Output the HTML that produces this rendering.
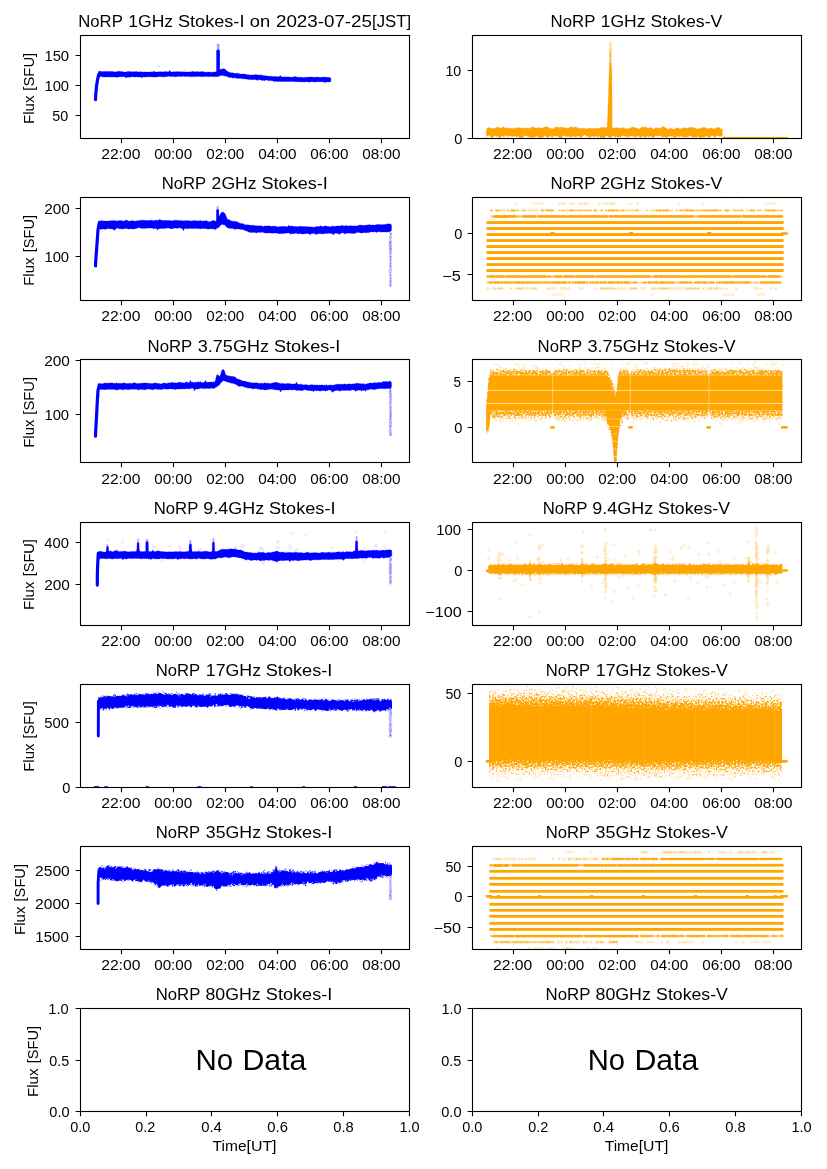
<!DOCTYPE html>
<html><head><meta charset="utf-8"><title>NoRP 2023-07-25</title>
<style>
html,body{margin:0;padding:0;background:#fff}
svg{display:block}
text{font-family:"Liberation Sans",sans-serif;fill:#000}
</style></head>
<body>
<svg width="827" height="1169" viewBox="0 0 827 1169">
<rect width="827" height="1169" fill="#fff"/>
<defs>
<clipPath id="c00"><rect x="80.5" y="35.5" width="329.0" height="103"/></clipPath>
<clipPath id="c01"><rect x="472.5" y="35.5" width="329.0" height="103"/></clipPath>
<clipPath id="c10"><rect x="80.5" y="197.5" width="329.0" height="103"/></clipPath>
<clipPath id="c11"><rect x="472.5" y="197.5" width="329.0" height="103"/></clipPath>
<clipPath id="c20"><rect x="80.5" y="359.5" width="329.0" height="103"/></clipPath>
<clipPath id="c21"><rect x="472.5" y="359.5" width="329.0" height="103"/></clipPath>
<clipPath id="c30"><rect x="80.5" y="522.5" width="329.0" height="103"/></clipPath>
<clipPath id="c31"><rect x="472.5" y="522.5" width="329.0" height="103"/></clipPath>
<clipPath id="c40"><rect x="80.5" y="684.5" width="329.0" height="103"/></clipPath>
<clipPath id="c41"><rect x="472.5" y="684.5" width="329.0" height="103"/></clipPath>
<clipPath id="c50"><rect x="80.5" y="846.5" width="329.0" height="103"/></clipPath>
<clipPath id="c51"><rect x="472.5" y="846.5" width="329.0" height="103"/></clipPath>
<filter id="g0" x="0" y="0" width="1" height="1" color-interpolation-filters="sRGB"><feTurbulence type="fractalNoise" baseFrequency="0.55" numOctaves="2" seed="5" result="n"/><feColorMatrix in="n" type="matrix" values="0 0 0 0 0 0 0 0 0 0 0 0 0 0 0 0 0 0 2.5 -1.075" result="m"/><feComposite in="SourceGraphic" in2="m" operator="in"/></filter><filter id="g1" x="0" y="0" width="1" height="1" color-interpolation-filters="sRGB"><feTurbulence type="fractalNoise" baseFrequency="0.55" numOctaves="2" seed="5" result="n"/><feColorMatrix in="n" type="matrix" values="0 0 0 0 0 0 0 0 0 0 0 0 0 0 0 0 0 0 2.5 -0.675" result="m"/><feComposite in="SourceGraphic" in2="m" operator="in"/></filter><filter id="g2" x="0" y="0" width="1" height="1" color-interpolation-filters="sRGB"><feTurbulence type="fractalNoise" baseFrequency="0.55" numOctaves="2" seed="11" result="n"/><feColorMatrix in="n" type="matrix" values="0 0 0 0 0 0 0 0 0 0 0 0 0 0 0 0 0 0 2.5 -1.375" result="m"/><feComposite in="SourceGraphic" in2="m" operator="in"/></filter><filter id="g3" x="0" y="0" width="1" height="1" color-interpolation-filters="sRGB"><feTurbulence type="fractalNoise" baseFrequency="0.55" numOctaves="2" seed="11" result="n"/><feColorMatrix in="n" type="matrix" values="0 0 0 0 0 0 0 0 0 0 0 0 0 0 0 0 0 0 2.5 -1.025" result="m"/><feComposite in="SourceGraphic" in2="m" operator="in"/></filter><filter id="g4" x="0" y="0" width="1" height="1" color-interpolation-filters="sRGB"><feTurbulence type="fractalNoise" baseFrequency="0.55" numOctaves="2" seed="11" result="n"/><feColorMatrix in="n" type="matrix" values="0 0 0 0 0 0 0 0 0 0 0 0 0 0 0 0 0 0 2.5 -0.800" result="m"/><feComposite in="SourceGraphic" in2="m" operator="in"/></filter><filter id="g5" x="0" y="0" width="1" height="1" color-interpolation-filters="sRGB"><feTurbulence type="fractalNoise" baseFrequency="0.55" numOctaves="2" seed="11" result="n"/><feColorMatrix in="n" type="matrix" values="0 0 0 0 0 0 0 0 0 0 0 0 0 0 0 0 0 0 2.5 -0.600" result="m"/><feComposite in="SourceGraphic" in2="m" operator="in"/></filter><filter id="g6" x="0" y="0" width="1" height="1" color-interpolation-filters="sRGB"><feTurbulence type="fractalNoise" baseFrequency="0.55" numOctaves="2" seed="9" result="n"/><feColorMatrix in="n" type="matrix" values="0 0 0 0 0 0 0 0 0 0 0 0 0 0 0 0 0 0 2.5 -1.150" result="m"/><feComposite in="SourceGraphic" in2="m" operator="in"/></filter><filter id="g7" x="0" y="0" width="1" height="1" color-interpolation-filters="sRGB"><feTurbulence type="fractalNoise" baseFrequency="0.55" numOctaves="2" seed="9" result="n"/><feColorMatrix in="n" type="matrix" values="0 0 0 0 0 0 0 0 0 0 0 0 0 0 0 0 0 0 2.5 -0.725" result="m"/><feComposite in="SourceGraphic" in2="m" operator="in"/></filter><filter id="g8" x="0" y="0" width="1" height="1" color-interpolation-filters="sRGB"><feTurbulence type="fractalNoise" baseFrequency="0.55" numOctaves="2" seed="13" result="n"/><feColorMatrix in="n" type="matrix" values="0 0 0 0 0 0 0 0 0 0 0 0 0 0 0 0 0 0 2.5 -1.525" result="m"/><feComposite in="SourceGraphic" in2="m" operator="in"/></filter><filter id="g9" x="0" y="0" width="1" height="1" color-interpolation-filters="sRGB"><feTurbulence type="fractalNoise" baseFrequency="0.55" numOctaves="2" seed="13" result="n"/><feColorMatrix in="n" type="matrix" values="0 0 0 0 0 0 0 0 0 0 0 0 0 0 0 0 0 0 2.5 -1.325" result="m"/><feComposite in="SourceGraphic" in2="m" operator="in"/></filter><filter id="g10" x="0" y="0" width="1" height="1" color-interpolation-filters="sRGB"><feTurbulence type="fractalNoise" baseFrequency="0.55" numOctaves="2" seed="13" result="n"/><feColorMatrix in="n" type="matrix" values="0 0 0 0 0 0 0 0 0 0 0 0 0 0 0 0 0 0 2.5 -1.125" result="m"/><feComposite in="SourceGraphic" in2="m" operator="in"/></filter><filter id="g11" x="0" y="0" width="1" height="1" color-interpolation-filters="sRGB"><feTurbulence type="fractalNoise" baseFrequency="0.55" numOctaves="2" seed="13" result="n"/><feColorMatrix in="n" type="matrix" values="0 0 0 0 0 0 0 0 0 0 0 0 0 0 0 0 0 0 2.5 -0.975" result="m"/><feComposite in="SourceGraphic" in2="m" operator="in"/></filter><filter id="g12" x="0" y="0" width="1" height="1" color-interpolation-filters="sRGB"><feTurbulence type="fractalNoise" baseFrequency="0.55" numOctaves="2" seed="13" result="n"/><feColorMatrix in="n" type="matrix" values="0 0 0 0 0 0 0 0 0 0 0 0 0 0 0 0 0 0 2.5 -0.800" result="m"/><feComposite in="SourceGraphic" in2="m" operator="in"/></filter><filter id="g13" x="0" y="0" width="1" height="1" color-interpolation-filters="sRGB"><feTurbulence type="fractalNoise" baseFrequency="0.55" numOctaves="2" seed="13" result="n"/><feColorMatrix in="n" type="matrix" values="0 0 0 0 0 0 0 0 0 0 0 0 0 0 0 0 0 0 2.5 -0.650" result="m"/><feComposite in="SourceGraphic" in2="m" operator="in"/></filter><filter id="g14" x="0" y="0" width="1" height="1" color-interpolation-filters="sRGB"><feTurbulence type="fractalNoise" baseFrequency="0.55" numOctaves="2" seed="13" result="n"/><feColorMatrix in="n" type="matrix" values="0 0 0 0 0 0 0 0 0 0 0 0 0 0 0 0 0 0 2.5 -0.450" result="m"/><feComposite in="SourceGraphic" in2="m" operator="in"/></filter><filter id="g15" x="0" y="0" width="1" height="1" color-interpolation-filters="sRGB"><feTurbulence type="fractalNoise" baseFrequency="0.55" numOctaves="2" seed="13" result="n"/><feColorMatrix in="n" type="matrix" values="0 0 0 0 0 0 0 0 0 0 0 0 0 0 0 0 0 0 2.5 -0.200" result="m"/><feComposite in="SourceGraphic" in2="m" operator="in"/></filter></defs>
<g clip-path="url(#c00)">
<path d="M95.5 99.6L95.8 93.8L96.5 86.3L97.5 80.1L98.5 75.1L99.8 73" fill="none" stroke="#0000ff" stroke-width="3.2" stroke-linecap="round" stroke-linejoin="round" />
<path d="M98.8 70.8L99.8 71.6L100.8 71.4L101.8 71.4L102.8 71.5L103.8 71.4L104.8 71.6L105.8 71.6L106.8 71.3L107.8 71.5L108.8 71.5L109.8 71.6L110.8 71.6L111.8 71.5L112.8 71.6L113.8 71.7L114.8 71.9L115.8 71.8L116.8 71.8L117.8 71.6L118.8 71.1L119.8 71.6L120.8 71.6L121.8 71.6L122.8 71.7L123.8 72L124.8 72.1L125.8 72L126.8 71.8L127.8 71.6L128.8 71.5L129.8 71.6L130.8 71.8L131.8 71.8L132.8 71.7L133.8 71.7L134.8 71.8L135.8 71.5L136.8 71.5L137.8 71.9L138.8 71.9L139.8 71.8L140.8 71.8L141.8 71.9L142.8 72L143.8 72L144.8 71.9L145.8 72L146.8 72L147.8 72L148.8 72.1L149.8 72L150.8 72L151.8 71.8L152.8 71.9L153.8 71L154.8 71.9L155.8 71.9L156.8 72L157.8 72L158.8 71.8L159.8 71.8L160.8 71.8L161.8 71.8L162.8 71.9L163.8 71.8L164.8 71.8L165.8 71.6L166.8 71.7L167.8 71.8L168.8 71.8L169.8 70.3L170.8 71.9L171.8 71.9L172.8 71.9L173.8 71.8L174.8 71.8L175.8 71.8L176.8 71.6L177.8 71.7L178.8 71.7L179.8 71.8L180.8 71.7L181.8 71.8L182.8 71.8L183.8 72L184.8 71.9L185.8 71.9L186.8 71.9L187.8 71.9L188.8 71.9L189.8 71.9L190.8 71.8L191.8 71.7L192.8 71.3L193.8 71.7L194.8 71.8L195.8 71.7L196.8 71.7L197.8 71.5L198.8 71.9L199.8 71.8L200.8 71.7L201.8 71.8L202.8 71.3L203.8 71.9L204.8 72L205.8 72.2L206.8 72.2L207.8 72.1L208.8 72L209.8 72.1L210.8 72.2L211.8 72.2L212.8 72.2L213.8 72L214.8 71.9L215.8 71.8L216.8 71.7L217.8 71L218.8 70.2L219.8 69.6L220.8 69.3L221.8 69.1L222.8 68.9L223.8 68.6L224.8 69.1L225.8 69.9L226.8 70.9L227.8 71.5L228.8 72.1L229.8 72.4L230.8 72.7L231.8 72.8L232.8 72.7L233.8 73.2L234.8 73.3L235.8 73.4L236.8 73.2L237.8 73.3L238.8 73.5L239.8 73.9L240.8 74.1L241.8 74.1L242.8 74L243.8 74L244.8 74.1L245.8 74.5L246.8 74.5L247.8 74.7L248.8 74.7L249.8 75.1L250.8 75.1L251.8 75.1L252.8 74.9L253.8 75L254.8 74.7L255.8 74.6L256.8 74.7L257.8 74.9L258.8 75.1L259.8 75.2L260.8 74.7L261.8 75.2L262.8 75.4L263.8 75.5L264.8 75.7L265.8 75.7L266.8 75.9L267.8 76.1L268.8 76.2L269.8 76.2L270.8 76.2L271.8 76.2L272.8 76.4L273.8 76.5L274.8 76.6L275.8 76.6L276.8 76.8L277.8 76.7L278.8 76.7L279.8 76.1L280.8 75.7L281.8 77L282.8 76.9L283.8 77L284.8 76.8L285.8 76.9L286.8 76.9L287.8 76.8L288.8 77L289.8 77L290.8 77.2L291.8 77.2L292.8 77.1L293.8 77L294.8 76.3L295.8 76.8L296.8 76.9L297.8 77.2L298.8 77.3L299.8 77.2L300.8 77.3L301.8 77.3L302.8 77.5L303.8 77.4L304.8 77.3L305.8 77.4L306.8 77.2L307.8 77.2L308.8 77L309.8 77.1L310.8 77.1L311.8 77.1L312.8 77.2L313.8 77.3L314.8 77.2L315.8 77.2L316.8 77.1L317.8 77.1L318.8 77.2L319.8 77.3L320.8 77.2L321.8 77.3L322.8 77.1L323.8 77.2L324.8 77.1L325.8 77.2L326.8 77.3L327.8 77.3L328.8 77.5L329.8 77.5L330.8 78L330.8 81.4L329.8 81.9L328.8 82L327.8 82.1L326.8 81.9L325.8 82L324.8 82.8L323.8 81.9L322.8 81.8L321.8 81.8L320.8 81.8L319.8 81.8L318.8 81.8L317.8 81.8L316.8 81.8L315.8 81.9L314.8 81.9L313.8 81.9L312.8 81.8L311.8 81.7L310.8 81.8L309.8 82.3L308.8 82L307.8 81.9L306.8 81.7L305.8 81.7L304.8 81.9L303.8 82L302.8 81.7L301.8 81.9L300.8 82L299.8 81.8L298.8 81.7L297.8 81.7L296.8 81.8L295.8 81.8L294.8 81.7L293.8 81.6L292.8 81.6L291.8 81.5L290.8 81.4L289.8 81.5L288.8 81.6L287.8 81.7L286.8 81.6L285.8 81.5L284.8 81.5L283.8 81.5L282.8 81.5L281.8 81.6L280.8 81.6L279.8 81.5L278.8 81.4L277.8 81.8L276.8 81.3L275.8 81.3L274.8 82L273.8 81.1L272.8 81L271.8 80.8L270.8 80.6L269.8 80.7L268.8 80.6L267.8 80.5L266.8 80L265.8 80L264.8 80.7L263.8 80.4L262.8 80.2L261.8 80.6L260.8 79.9L259.8 79.7L258.8 79.6L257.8 80.5L256.8 79.9L255.8 79.8L254.8 79.5L253.8 79.5L252.8 79.9L251.8 79.5L250.8 79.6L249.8 79.6L248.8 79.4L247.8 79.6L246.8 79.1L245.8 79.1L244.8 78.9L243.8 78.8L242.8 78.8L241.8 78.6L240.8 78.4L239.8 78.3L238.8 78.4L237.8 78.5L236.8 78.3L235.8 78.2L234.8 77.8L233.8 77.7L232.8 78.3L231.8 77.6L230.8 77.6L229.8 77.4L228.8 77.2L227.8 77.1L226.8 76.3L225.8 76.3L224.8 75.9L223.8 75.7L222.8 75.6L221.8 75.5L220.8 75.6L219.8 75.8L218.8 76.4L217.8 76.5L216.8 76.7L215.8 76.6L214.8 76.7L213.8 76.7L212.8 76.5L211.8 76.4L210.8 76.4L209.8 76.6L208.8 76.7L207.8 76.6L206.8 76.5L205.8 76.5L204.8 76.5L203.8 76.5L202.8 76.6L201.8 76.9L200.8 76.5L199.8 76.4L198.8 76.4L197.8 76.4L196.8 76.4L195.8 76.6L194.8 76.6L193.8 76.7L192.8 76.6L191.8 76.7L190.8 76.7L189.8 76.5L188.8 76.8L187.8 76.3L186.8 76.5L185.8 76.5L184.8 76.4L183.8 76.2L182.8 76.3L181.8 76.5L180.8 76.5L179.8 76.3L178.8 76.4L177.8 76.4L176.8 76.6L175.8 76.9L174.8 76.6L173.8 76.6L172.8 76.6L171.8 76.6L170.8 76.8L169.8 76.3L168.8 76.3L167.8 76.4L166.8 76.6L165.8 76.8L164.8 76.8L163.8 76.9L162.8 76.8L161.8 76.8L160.8 76.7L159.8 76.6L158.8 76.7L157.8 76.7L156.8 77L155.8 77L154.8 77.1L153.8 77L152.8 77L151.8 76.8L150.8 76.9L149.8 76.8L148.8 76.8L147.8 76.7L146.8 76.9L145.8 77L144.8 77L143.8 76.9L142.8 76.9L141.8 78L140.8 76.9L139.8 77L138.8 76.9L137.8 77L136.8 76.8L135.8 76.9L134.8 77L133.8 76.9L132.8 76.8L131.8 76.8L130.8 76.9L129.8 77.5L128.8 77L127.8 77L126.8 77.5L125.8 77.8L124.8 76.8L123.8 76.7L122.8 76.7L121.8 76.8L120.8 76.8L119.8 76.8L118.8 76.9L117.8 77L116.8 77.5L115.8 77L114.8 76.9L113.8 77L112.8 76.9L111.8 76.8L110.8 77.4L109.8 76.8L108.8 76.9L107.8 77L106.8 76.9L105.8 76.9L104.8 77L103.8 77.1L102.8 76.9L101.8 76.6L100.8 76.6L99.8 76.9L98.8 76.8Z" fill="#0000ff" stroke="#0000ff" stroke-width="0.7" stroke-opacity="0.4" stroke-linejoin="round"/>
<path d="M218.1 51.2V45.2" stroke="#0000ff" stroke-width="2.62" stroke-linecap="round" fill="none" opacity="0.35"/><path d="M218.1 73V51.2" stroke="#0000ff" stroke-width="3.5" stroke-linecap="round" fill="none"/>
<path d="M156.8 66.3l1.5 -1.5l1.5 1.5l-1.5 1.5zM220.2 63.3l1.5 -1.5l1.5 1.5l-1.5 1.5zM216.7 44.5l1.5 -1.5l1.5 1.5l-1.5 1.5zM183.6 70.8l1.5 -1.5l1.5 1.5l-1.5 1.5z" fill="#0000ff" fill-opacity="0.15" stroke="#0000ff" stroke-width="0.6" opacity="0.2"/>
</g>
<g clip-path="url(#c10)">
<path d="M95.5 265.8L95.8 259.6L96.5 250.8L97.3 239.6L98 229.5L99.3 223" fill="none" stroke="#0000ff" stroke-width="3.2" stroke-linecap="round" stroke-linejoin="round" />
<path d="M98.5 220.8L99.5 221.1L100.5 220.7L101.5 220.7L102.5 220.8L103.5 221L104.5 221L105.5 221.1L106.5 221.1L107.5 221.1L108.5 220.9L109.5 220.9L110.5 220.7L111.5 220.6L112.5 220.7L113.5 220.4L114.5 220.6L115.5 220.7L116.5 221.1L117.5 220.9L118.5 220.8L119.5 220.5L120.5 220.6L121.5 220.7L122.5 220.7L123.5 221.2L124.5 220.9L125.5 219.9L126.5 220.2L127.5 220.5L128.5 220.9L129.5 221.2L130.5 220.9L131.5 220.8L132.5 220.6L133.5 221L134.5 221L135.5 221.2L136.5 220.8L137.5 220.9L138.5 220.5L139.5 220.4L140.5 220.3L141.5 220.3L142.5 220.3L143.5 220.2L144.5 220.2L145.5 220.5L146.5 220.6L147.5 220.5L148.5 220.5L149.5 220.3L150.5 220.5L151.5 220L152.5 220.4L153.5 220.5L154.5 220.4L155.5 220.3L156.5 220L157.5 220.4L158.5 220.3L159.5 219.2L160.5 220L161.5 220.1L162.5 220.4L163.5 220.4L164.5 220.4L165.5 220.3L166.5 220.5L167.5 220.6L168.5 220.4L169.5 220.4L170.5 220.4L171.5 221L172.5 220.7L173.5 220.6L174.5 220.3L175.5 220.2L176.5 220.2L177.5 220.4L178.5 220.5L179.5 220.4L180.5 220.4L181.5 220.4L182.5 220.9L183.5 220.7L184.5 220.7L185.5 220.7L186.5 220.7L187.5 220.5L188.5 220.7L189.5 220.7L190.5 221L191.5 220.9L192.5 220.8L193.5 220.8L194.5 220.6L195.5 220.7L196.5 220.8L197.5 220.9L198.5 220.7L199.5 220.9L200.5 220.2L201.5 221.2L202.5 220.9L203.5 220.9L204.5 220.9L205.5 220.8L206.5 220.8L207.5 221.2L208.5 221.5L209.5 221.9L210.5 221.6L211.5 221.1L212.5 220.7L213.5 220.3L214.5 220.8L215.5 221.2L216.5 220.9L217.5 219.7L218.5 217.7L219.5 215.6L220.5 213.7L221.5 212.6L222.5 212L223.5 212.3L224.5 213L225.5 214.6L226.5 217.2L227.5 219.4L228.5 219.6L229.5 220L230.5 220.4L231.5 221.1L232.5 221.2L233.5 221.5L234.5 221L235.5 221.6L236.5 221.6L237.5 222L238.5 222.4L239.5 223.1L240.5 223.4L241.5 223.4L242.5 223.5L243.5 223.9L244.5 224.5L245.5 224.9L246.5 224.8L247.5 224.8L248.5 224.9L249.5 225.1L250.5 225.2L251.5 225.3L252.5 225.4L253.5 224.9L254.5 225.7L255.5 225.8L256.5 225.7L257.5 225.9L258.5 225.7L259.5 225.9L260.5 225.7L261.5 226.1L262.5 226.2L263.5 226.4L264.5 226.1L265.5 226L266.5 226L267.5 225.9L268.5 225.9L269.5 225.8L270.5 226.2L271.5 226.6L272.5 226.1L273.5 226.4L274.5 226L275.5 226.2L276.5 226.4L277.5 226.9L278.5 226.7L279.5 226.7L280.5 226.4L281.5 226.5L282.5 226.4L283.5 226.3L284.5 226.4L285.5 226.5L286.5 226.8L287.5 226.7L288.5 225.3L289.5 226.1L290.5 226.2L291.5 226.1L292.5 226L293.5 226.4L294.5 226.4L295.5 226.6L296.5 226.6L297.5 226.7L298.5 226.6L299.5 226.5L300.5 226.1L301.5 226.5L302.5 226.6L303.5 226.6L304.5 226.6L305.5 226.4L306.5 226.7L307.5 226.7L308.5 226.8L309.5 226.7L310.5 227L311.5 226.9L312.5 227L313.5 227.2L314.5 227.2L315.5 226.8L316.5 226.6L317.5 226.6L318.5 226.7L319.5 226.5L320.5 225.6L321.5 226.4L322.5 226.6L323.5 226.4L324.5 226L325.5 226L326.5 226.1L327.5 226.5L328.5 226.4L329.5 226.7L330.5 226.7L331.5 226.6L332.5 226L333.5 226.3L334.5 226.4L335.5 226.3L336.5 226L337.5 225.9L338.5 225.9L339.5 226.1L340.5 225.9L341.5 225.3L342.5 225.7L343.5 225.8L344.5 225.8L345.5 225.9L346.5 225.2L347.5 225.9L348.5 226.1L349.5 225.7L350.5 225.8L351.5 225.7L352.5 226L353.5 225.9L354.5 225.8L355.5 225.9L356.5 226L357.5 225.7L358.5 225.4L359.5 225.1L360.5 225L361.5 225.3L362.5 225.2L363.5 225.5L364.5 225.3L365.5 225.3L366.5 225.1L367.5 224.9L368.5 225L369.5 224.2L370.5 225.2L371.5 225L372.5 224.9L373.5 225L374.5 225.1L375.5 225L376.5 224.6L377.5 224.4L378.5 224.4L379.5 224.4L380.5 224.6L381.5 224.7L382.5 224.7L383.5 224.5L384.5 224.6L385.5 224.3L386.5 224.2L387.5 223.8L388.5 223.9L389.5 223.8L390.5 224L391.5 224.9L391.5 230.3L390.5 231.2L389.5 231.6L388.5 231.9L387.5 231.9L386.5 232.1L385.5 232L384.5 232.1L383.5 232.1L382.5 232L381.5 231.9L380.5 232.3L379.5 231.6L378.5 231.8L377.5 231.9L376.5 232.4L375.5 232L374.5 231.7L373.5 232L372.5 231.9L371.5 231.9L370.5 232L369.5 232.3L368.5 232.7L367.5 232.6L366.5 232.7L365.5 232.7L364.5 232.8L363.5 232.5L362.5 232.9L361.5 232.9L360.5 232.9L359.5 232.5L358.5 232.5L357.5 232.3L356.5 232.7L355.5 233.1L354.5 233.5L353.5 233.4L352.5 233.4L351.5 233.3L350.5 233.3L349.5 233.2L348.5 232.9L347.5 233.3L346.5 233.2L345.5 233.6L344.5 233.9L343.5 233.1L342.5 232.7L341.5 233.1L340.5 233.3L339.5 234.7L338.5 233.5L337.5 233.5L336.5 233.3L335.5 233.2L334.5 233.4L333.5 235L332.5 233.8L331.5 233.4L330.5 233.5L329.5 233.3L328.5 233.3L327.5 233.4L326.5 233.4L325.5 233.4L324.5 233.7L323.5 233.8L322.5 233.9L321.5 233.7L320.5 233.7L319.5 233.6L318.5 233.8L317.5 234.1L316.5 234.1L315.5 234.8L314.5 233.3L313.5 233.4L312.5 233.5L311.5 233.4L310.5 234.8L309.5 233.9L308.5 233.7L307.5 233.5L306.5 233.5L305.5 233.7L304.5 233.7L303.5 233.9L302.5 234L301.5 234L300.5 233.5L299.5 233.8L298.5 233.7L297.5 233.7L296.5 233.3L295.5 233.3L294.5 233.6L293.5 233.7L292.5 233.8L291.5 233.5L290.5 234.5L289.5 233.1L288.5 232.9L287.5 233L286.5 233.1L285.5 233.3L284.5 233.5L283.5 233.5L282.5 233.6L281.5 233.5L280.5 233.7L279.5 233.8L278.5 233.6L277.5 233.4L276.5 233.1L275.5 233.1L274.5 233.2L273.5 233L272.5 233.3L271.5 233.1L270.5 233.3L269.5 232.7L268.5 233L267.5 233.1L266.5 232.9L265.5 232.9L264.5 232.9L263.5 232.6L262.5 232.2L261.5 232.1L260.5 232.8L259.5 232.2L258.5 232.2L257.5 232.4L256.5 232.9L255.5 232.6L254.5 232.5L253.5 232.4L252.5 232.3L251.5 232.4L250.5 232.5L249.5 232.2L248.5 231.9L247.5 231.3L246.5 231.1L245.5 230.5L244.5 230.3L243.5 229.8L242.5 229.6L241.5 229.4L240.5 229.3L239.5 229.1L238.5 228.9L237.5 228.9L236.5 228.8L235.5 229.6L234.5 229L233.5 228.8L232.5 228.4L231.5 228.4L230.5 228.3L229.5 228.5L228.5 228L227.5 227.7L226.5 226.9L225.5 225.9L224.5 224.7L223.5 224.9L222.5 224.2L221.5 224.7L220.5 225.3L219.5 226.7L218.5 227.5L217.5 228L216.5 228.5L215.5 229.9L214.5 228.8L213.5 228.9L212.5 229L211.5 228.8L210.5 228.8L209.5 228.9L208.5 229.1L207.5 229L206.5 228.7L205.5 228.6L204.5 228.8L203.5 228.5L202.5 228.6L201.5 228.6L200.5 228.9L199.5 228.7L198.5 228.5L197.5 228.4L196.5 228.4L195.5 228.6L194.5 228.5L193.5 228.4L192.5 228.4L191.5 228.6L190.5 228.5L189.5 228.6L188.5 228.5L187.5 228.8L186.5 228.4L185.5 228.6L184.5 228.4L183.5 230.8L182.5 228.7L181.5 228.5L180.5 228L179.5 227.8L178.5 228.1L177.5 228.3L176.5 228.2L175.5 228.1L174.5 228L173.5 228.5L172.5 228.5L171.5 228.9L170.5 228.6L169.5 228.4L168.5 227.9L167.5 228.1L166.5 228.1L165.5 228.4L164.5 228.4L163.5 228.5L162.5 228.6L161.5 228.4L160.5 228.4L159.5 229.1L158.5 228.5L157.5 230.2L156.5 228.4L155.5 228.6L154.5 228.5L153.5 228.7L152.5 228.2L151.5 228.1L150.5 228.1L149.5 228.1L148.5 228.3L147.5 228.1L146.5 228.3L145.5 228.3L144.5 228.4L143.5 228.4L142.5 228.3L141.5 228.4L140.5 228.1L139.5 227.7L138.5 227.7L137.5 228L136.5 228.5L135.5 228.5L134.5 228.9L133.5 229.1L132.5 229.1L131.5 228.8L130.5 228.8L129.5 229.1L128.5 228.9L127.5 228.7L126.5 228.5L125.5 228.6L124.5 228.7L123.5 228.8L122.5 229.3L121.5 228.6L120.5 229L119.5 228.7L118.5 228.6L117.5 228L116.5 228.5L115.5 229L114.5 230.5L113.5 229.2L112.5 229.1L111.5 228.7L110.5 228.9L109.5 228.7L108.5 228.8L107.5 228.6L106.5 229.1L105.5 229.2L104.5 229.3L103.5 228.9L102.5 229.1L101.5 229.2L100.5 229.2L99.5 228.9L98.5 228.5Z" fill="#0000ff" stroke="#0000ff" stroke-width="0.7" stroke-opacity="0.4" stroke-linejoin="round"/>
<path d="M217.6 210.5V206.9" stroke="#0000ff" stroke-width="2.03" stroke-linecap="round" fill="none" opacity="0.35"/><path d="M217.6 224V210.5" stroke="#0000ff" stroke-width="2.7" stroke-linecap="round" fill="none"/>
<path d="M389.2 232.5l1.3 -1.3l1.3 1.3l-1.3 1.3zM389.2 236.8l1.3 -1.3l1.3 1.3l-1.3 1.3zM389 238.5l1.3 -1.3l1.3 1.3l-1.3 1.3zM389.1 240.8l1.3 -1.3l1.3 1.3l-1.3 1.3zM388.9 243.9l1.3 -1.3l1.3 1.3l-1.3 1.3zM389 245.4l1.3 -1.3l1.3 1.3l-1.3 1.3zM389.2 246.7l1.3 -1.3l1.3 1.3l-1.3 1.3zM389.1 250l1.3 -1.3l1.3 1.3l-1.3 1.3zM389.3 251.9l1.3 -1.3l1.3 1.3l-1.3 1.3zM389.4 258.3l1.3 -1.3l1.3 1.3l-1.3 1.3zM389.3 269.2l1.3 -1.3l1.3 1.3l-1.3 1.3zM388.9 271.4l1.3 -1.3l1.3 1.3l-1.3 1.3zM389.1 273.5l1.3 -1.3l1.3 1.3l-1.3 1.3z" fill="#0000ff" fill-opacity="0.15" stroke="#0000ff" stroke-width="0.75" opacity="0.48"/><path d="M389.3 234.3l1.4 -1.4l1.4 1.4l-1.4 1.4zM388.9 242.4l1.4 -1.4l1.4 1.4l-1.4 1.4zM389.1 248.5l1.4 -1.4l1.4 1.4l-1.4 1.4zM389.1 254.1l1.4 -1.4l1.4 1.4l-1.4 1.4zM389 256.5l1.4 -1.4l1.4 1.4l-1.4 1.4zM389.1 260.5l1.4 -1.4l1.4 1.4l-1.4 1.4zM389.2 262.9l1.4 -1.4l1.4 1.4l-1.4 1.4zM389.1 265.2l1.4 -1.4l1.4 1.4l-1.4 1.4zM389 266.8l1.4 -1.4l1.4 1.4l-1.4 1.4zM389.1 275.9l1.4 -1.4l1.4 1.4l-1.4 1.4zM389.2 278.4l1.4 -1.4l1.4 1.4l-1.4 1.4zM389.1 280.4l1.4 -1.4l1.4 1.4l-1.4 1.4zM389.2 282.1l1.4 -1.4l1.4 1.4l-1.4 1.4zM389 283.9l1.4 -1.4l1.4 1.4l-1.4 1.4zM389 285.7l1.4 -1.4l1.4 1.4l-1.4 1.4z" fill="#0000ff" opacity="0.41000000000000003"/>
</g>
<g clip-path="url(#c20)">
<path d="M95.5 436.1L95.8 429.1L96.5 416.6L97.3 401.6L98 390.3L99.3 385" fill="none" stroke="#0000ff" stroke-width="3.2" stroke-linecap="round" stroke-linejoin="round" />
<path d="M98.5 383.9L99.5 383.9L100.5 383.6L101.5 383.7L102.5 383.7L103.5 383.4L104.5 383.1L105.5 383L106.5 383.2L107.5 383.3L108.5 382.8L109.5 383.3L110.5 382.8L111.5 383L112.5 383.1L113.5 383.3L114.5 383.3L115.5 383.4L116.5 382.5L117.5 383.6L118.5 383.2L119.5 383.2L120.5 383.2L121.5 383.5L122.5 383.3L123.5 383L124.5 383.1L125.5 383.2L126.5 383.5L127.5 383.4L128.5 383.4L129.5 383.2L130.5 383.2L131.5 383.5L132.5 383.4L133.5 382.4L134.5 382.9L135.5 383L136.5 383.5L137.5 383.5L138.5 383.6L139.5 383.3L140.5 383.5L141.5 383L142.5 383.3L143.5 383L144.5 383L145.5 383L146.5 383.1L147.5 383.3L148.5 383.3L149.5 383.3L150.5 383.6L151.5 383.6L152.5 383.4L153.5 383.2L154.5 383L155.5 383.1L156.5 383.3L157.5 383.3L158.5 383.5L159.5 383.4L160.5 383.9L161.5 383.7L162.5 383.5L163.5 383.1L164.5 383.1L165.5 383.3L166.5 383.5L167.5 383.2L168.5 382.9L169.5 382.7L170.5 382.9L171.5 382.2L172.5 382.6L173.5 382.8L174.5 382.8L175.5 382.8L176.5 383L177.5 382.7L178.5 382.6L179.5 382L180.5 382.5L181.5 382.5L182.5 382.7L183.5 382.7L184.5 383L185.5 382.3L186.5 381.8L187.5 382.4L188.5 382.6L189.5 382.6L190.5 380.3L191.5 382.4L192.5 382.1L193.5 382.6L194.5 382.4L195.5 382.3L196.5 382.1L197.5 382.4L198.5 381.2L199.5 382.4L200.5 381.5L201.5 382.6L202.5 382.6L203.5 382.4L204.5 382.3L205.5 380.3L206.5 382.3L207.5 382.2L208.5 382.3L209.5 382.1L210.5 382.1L211.5 382L212.5 382.3L213.5 381.4L214.5 382.4L215.5 380.3L216.5 375.5L217.5 374.5L218.5 375.6L219.5 376.4L220.5 374.8L221.5 371.2L222.5 369.6L223.5 369.6L224.5 370.8L225.5 374.4L226.5 375.2L227.5 375.6L228.5 376L229.5 376.2L230.5 376.2L231.5 376.3L232.5 376.4L233.5 376.6L234.5 376.7L235.5 377.5L236.5 378.2L237.5 379.1L238.5 379.2L239.5 379.4L240.5 379.9L241.5 380.4L242.5 380.9L243.5 381L244.5 381.1L245.5 381.5L246.5 381.5L247.5 382L248.5 381.9L249.5 382.6L250.5 382.8L251.5 382.4L252.5 382.9L253.5 383L254.5 382.8L255.5 383L256.5 382.8L257.5 383.1L258.5 383.3L259.5 383.4L260.5 383.3L261.5 383.2L262.5 383.3L263.5 383.4L264.5 382.5L265.5 383.4L266.5 383.1L267.5 383.2L268.5 383.3L269.5 383.4L270.5 383.5L271.5 383.2L272.5 383L273.5 382.7L274.5 382.6L275.5 382.3L276.5 382.4L277.5 382.5L278.5 383L279.5 383.2L280.5 383.4L281.5 383.4L282.5 383.7L283.5 383.1L284.5 384.1L285.5 383.8L286.5 383.6L287.5 383.4L288.5 383.6L289.5 383.6L290.5 383.8L291.5 383.9L292.5 384L293.5 384.1L294.5 383.8L295.5 384.1L296.5 382L297.5 384.3L298.5 384.2L299.5 384.2L300.5 384.5L301.5 384.1L302.5 384.7L303.5 384.9L304.5 384.8L305.5 384.7L306.5 384.6L307.5 385.1L308.5 385.3L309.5 385.2L310.5 384.8L311.5 384.8L312.5 384.7L313.5 384.9L314.5 384.9L315.5 384.9L316.5 385L317.5 384.9L318.5 385.2L319.5 385L320.5 385.1L321.5 385L322.5 385L323.5 385.2L324.5 385.1L325.5 385.5L326.5 384.4L327.5 385.8L328.5 385.3L329.5 385.1L330.5 385L331.5 385.2L332.5 385.2L333.5 384.9L334.5 384.9L335.5 384.6L336.5 384.4L337.5 384L338.5 384.3L339.5 384.2L340.5 384.3L341.5 384.2L342.5 384.3L343.5 384.3L344.5 383.9L345.5 384.1L346.5 384.4L347.5 384.1L348.5 383.9L349.5 383.8L350.5 384.2L351.5 384.1L352.5 384L353.5 383.8L354.5 383.9L355.5 383.6L356.5 383.3L357.5 383.3L358.5 383.5L359.5 383.6L360.5 383.6L361.5 383.9L362.5 383.7L363.5 383.4L364.5 384.2L365.5 384.2L366.5 383.8L367.5 383.7L368.5 383.4L369.5 383.1L370.5 383L371.5 383L372.5 383.3L373.5 383.1L374.5 382.2L375.5 382.9L376.5 382.9L377.5 382.5L378.5 382.4L379.5 382.4L380.5 382.5L381.5 382.4L382.5 381.8L383.5 381.6L384.5 381.5L385.5 381.7L386.5 381.4L387.5 381.8L388.5 381.7L389.5 380.9L390.5 381.6L391.5 382.4L391.5 387.6L390.5 388L389.5 388.5L388.5 388.6L387.5 388.5L386.5 388.4L385.5 388.7L384.5 388.7L383.5 388.7L382.5 388.5L381.5 388.4L380.5 388.6L379.5 388.8L378.5 388.8L377.5 388.8L376.5 389.1L375.5 389.3L374.5 389.7L373.5 389.3L372.5 389.4L371.5 389.1L370.5 389.1L369.5 389.5L368.5 389.8L367.5 390L366.5 389.8L365.5 391.4L364.5 390.1L363.5 390.4L362.5 390.3L361.5 391.1L360.5 390.1L359.5 390.2L358.5 390.1L357.5 390.4L356.5 390.6L355.5 391.6L354.5 390L353.5 389.9L352.5 389.8L351.5 390L350.5 390.5L349.5 390.4L348.5 390.4L347.5 390.4L346.5 390.3L345.5 390.4L344.5 390.4L343.5 390.4L342.5 390.2L341.5 390.2L340.5 391.2L339.5 390.7L338.5 390.8L337.5 390.3L336.5 390.5L335.5 390.6L334.5 391L333.5 391.2L332.5 392.5L331.5 390.9L330.5 390.3L329.5 390L328.5 390L327.5 390.5L326.5 390.7L325.5 391L324.5 390.8L323.5 390.6L322.5 390.6L321.5 390.8L320.5 391L319.5 390.9L318.5 390.7L317.5 390.7L316.5 390.7L315.5 390.6L314.5 390.5L313.5 391.9L312.5 390.5L311.5 390.7L310.5 390.7L309.5 390.6L308.5 390.4L307.5 390.4L306.5 390.2L305.5 389.8L304.5 389.8L303.5 390.1L302.5 390.7L301.5 390.5L300.5 390.6L299.5 390.3L298.5 390.4L297.5 390.2L296.5 390.4L295.5 389.9L294.5 389.9L293.5 389.6L292.5 389.9L291.5 389.9L290.5 389.8L289.5 389.7L288.5 389.9L287.5 389.9L286.5 390.1L285.5 389.9L284.5 390L283.5 390.1L282.5 390.1L281.5 390.2L280.5 392.2L279.5 390.1L278.5 390.1L277.5 389.9L276.5 389.9L275.5 389.7L274.5 389.5L273.5 389.4L272.5 389.2L271.5 389L270.5 389.3L269.5 389.2L268.5 389.6L267.5 389.4L266.5 389.9L265.5 389.8L264.5 390L263.5 389.6L262.5 389.5L261.5 389.4L260.5 389.7L259.5 389.1L258.5 389L257.5 389.3L256.5 388.6L255.5 388.5L254.5 388.5L253.5 389L252.5 388.7L251.5 388.4L250.5 388L249.5 388.2L248.5 387.9L247.5 388L246.5 387.6L245.5 387.4L244.5 387L243.5 386.7L242.5 386.3L241.5 386.1L240.5 386.2L239.5 386.3L238.5 386.2L237.5 385.5L236.5 384.7L235.5 384.3L234.5 384L233.5 383.6L232.5 383.2L231.5 383.2L230.5 382.8L229.5 382.7L228.5 382.3L227.5 382.1L226.5 381.7L225.5 381.2L224.5 380.9L223.5 380.7L222.5 381.3L221.5 382.2L220.5 383.3L219.5 384.9L218.5 385.4L217.5 386.3L216.5 386.9L215.5 387.6L214.5 388.2L213.5 388.4L212.5 388.2L211.5 388.3L210.5 388.3L209.5 388.6L208.5 388.5L207.5 388.4L206.5 388.2L205.5 388.7L204.5 388.4L203.5 388.6L202.5 388.5L201.5 388.2L200.5 388.3L199.5 388.6L198.5 389L197.5 388.9L196.5 389.1L195.5 389.1L194.5 390.9L193.5 388.5L192.5 388.3L191.5 388.2L190.5 388.5L189.5 388.9L188.5 388.7L187.5 388.7L186.5 388.7L185.5 388.8L184.5 388.9L183.5 388.8L182.5 388.9L181.5 388.9L180.5 388.9L179.5 389.1L178.5 389L177.5 389.2L176.5 388.8L175.5 390.1L174.5 389L173.5 389.1L172.5 389.1L171.5 389L170.5 388.7L169.5 388.9L168.5 389L167.5 389.2L166.5 388.9L165.5 389.2L164.5 388.7L163.5 388.8L162.5 389.4L161.5 389.5L160.5 389.4L159.5 389.3L158.5 389.4L157.5 389.5L156.5 389.1L155.5 389.1L154.5 389.3L153.5 389.5L152.5 389.7L151.5 389.4L150.5 389.4L149.5 389.1L148.5 388.9L147.5 389.2L146.5 389.2L145.5 389.4L144.5 390.1L143.5 389.5L142.5 389.4L141.5 389.4L140.5 389.3L139.5 389.5L138.5 390.2L137.5 389.3L136.5 389.3L135.5 389.3L134.5 389.3L133.5 389.2L132.5 389.3L131.5 389.3L130.5 389.2L129.5 389.4L128.5 389.8L127.5 389.6L126.5 389.5L125.5 389.1L124.5 389.4L123.5 389.8L122.5 389.8L121.5 389.6L120.5 389.3L119.5 389.3L118.5 389.8L117.5 389.7L116.5 389.9L115.5 389.8L114.5 389.4L113.5 389.3L112.5 389.4L111.5 389.6L110.5 389.2L109.5 389.2L108.5 389.3L107.5 389.5L106.5 389.4L105.5 389.4L104.5 389.7L103.5 389.5L102.5 389.5L101.5 389.4L100.5 389.4L99.5 389.2L98.5 388.9Z" fill="#0000ff" stroke="#0000ff" stroke-width="0.7" stroke-opacity="0.4" stroke-linejoin="round"/>
<path d="M388.8 392.6l1.3 -1.3l1.3 1.3l-1.3 1.3zM389.2 396.1l1.3 -1.3l1.3 1.3l-1.3 1.3zM389.2 397.7l1.3 -1.3l1.3 1.3l-1.3 1.3zM389.2 401.8l1.3 -1.3l1.3 1.3l-1.3 1.3zM389 403.5l1.3 -1.3l1.3 1.3l-1.3 1.3zM389 405.9l1.3 -1.3l1.3 1.3l-1.3 1.3zM389.3 414.9l1.3 -1.3l1.3 1.3l-1.3 1.3zM389.1 419.7l1.3 -1.3l1.3 1.3l-1.3 1.3zM389.2 421.6l1.3 -1.3l1.3 1.3l-1.3 1.3zM389.2 423l1.3 -1.3l1.3 1.3l-1.3 1.3zM389.1 425.3l1.3 -1.3l1.3 1.3l-1.3 1.3zM389 431.3l1.3 -1.3l1.3 1.3l-1.3 1.3zM389.2 433.1l1.3 -1.3l1.3 1.3l-1.3 1.3z" fill="#0000ff" fill-opacity="0.15" stroke="#0000ff" stroke-width="0.75" opacity="0.48"/><path d="M388.9 389l1.4 -1.4l1.4 1.4l-1.4 1.4zM389 391.1l1.4 -1.4l1.4 1.4l-1.4 1.4zM389.1 394.2l1.4 -1.4l1.4 1.4l-1.4 1.4zM389.2 399.8l1.4 -1.4l1.4 1.4l-1.4 1.4zM389.1 407.9l1.4 -1.4l1.4 1.4l-1.4 1.4zM389.1 409.7l1.4 -1.4l1.4 1.4l-1.4 1.4zM389.1 411.7l1.4 -1.4l1.4 1.4l-1.4 1.4zM389.3 413l1.4 -1.4l1.4 1.4l-1.4 1.4zM389 416.5l1.4 -1.4l1.4 1.4l-1.4 1.4zM389.1 418l1.4 -1.4l1.4 1.4l-1.4 1.4zM389.1 426.7l1.4 -1.4l1.4 1.4l-1.4 1.4zM388.8 428.9l1.4 -1.4l1.4 1.4l-1.4 1.4zM389.2 434.9l1.4 -1.4l1.4 1.4l-1.4 1.4z" fill="#0000ff" opacity="0.41000000000000003"/>
</g>
<g clip-path="url(#c30)">
<path d="M97.3 585.1L97.4 572.1L97.8 562.1L98.3 553.3" fill="none" stroke="#0000ff" stroke-width="3.2" stroke-linecap="round" stroke-linejoin="round" />
<path d="M97.8 552L98.8 551.5L99.8 551.2L100.8 551.6L101.8 551.6L102.8 551.8L103.8 552.2L104.8 552.1L105.8 551.9L106.8 551.1L107.8 551.3L108.8 551.2L109.8 551.5L110.8 550.6L111.8 551.7L112.8 551.7L113.8 551.5L114.8 550.4L115.8 551.2L116.8 549.8L117.8 551.4L118.8 551.4L119.8 551.6L120.8 551.5L121.8 551.4L122.8 551.4L123.8 551.1L124.8 551.3L125.8 551.3L126.8 551.7L127.8 551.8L128.8 551.9L129.8 551.7L130.8 551.5L131.8 551.4L132.8 551.5L133.8 551.4L134.8 551.6L135.8 551.5L136.8 551.5L137.8 551.5L138.8 551.7L139.8 551.7L140.8 551.6L141.8 551.5L142.8 551.7L143.8 551.5L144.8 551.4L145.8 551.2L146.8 551.5L147.8 550.8L148.8 551.7L149.8 551.6L150.8 551.6L151.8 551.5L152.8 549.9L153.8 551.4L154.8 551.5L155.8 551.4L156.8 551.3L157.8 550.5L158.8 551.1L159.8 551.2L160.8 551.4L161.8 551.5L162.8 551.6L163.8 551.8L164.8 551.7L165.8 551.9L166.8 551.7L167.8 552.1L168.8 551.8L169.8 551.8L170.8 551.8L171.8 552L172.8 551.8L173.8 551.7L174.8 551.7L175.8 551.5L176.8 551.7L177.8 551.6L178.8 552.1L179.8 551.1L180.8 551.8L181.8 551.7L182.8 551.7L183.8 551.9L184.8 551.8L185.8 551.7L186.8 551.5L187.8 551.5L188.8 551.6L189.8 550.6L190.8 551.6L191.8 551.7L192.8 551.7L193.8 551.7L194.8 551.4L195.8 551.5L196.8 551.6L197.8 551.8L198.8 550.9L199.8 551.8L200.8 551.8L201.8 551.6L202.8 551.6L203.8 551.4L204.8 551.2L205.8 551.3L206.8 551.2L207.8 551.5L208.8 551.8L209.8 552L210.8 551.7L211.8 551.4L212.8 551.4L213.8 551.6L214.8 551.6L215.8 551.5L216.8 551.4L217.8 551.1L218.8 550.7L219.8 550L220.8 549.6L221.8 549.4L222.8 549.2L223.8 549.3L224.8 549.2L225.8 549.4L226.8 549.2L227.8 549.4L228.8 549.2L229.8 549.1L230.8 548.8L231.8 549.1L232.8 549.1L233.8 549.2L234.8 549L235.8 549.2L236.8 549.5L237.8 550L238.8 549.9L239.8 549.9L240.8 550L241.8 550.4L242.8 550.7L243.8 551.5L244.8 552L245.8 552.1L246.8 552.1L247.8 552.2L248.8 552.4L249.8 552.6L250.8 552.5L251.8 552.8L252.8 553L253.8 553L254.8 552.9L255.8 552.9L256.8 552.9L257.8 552.9L258.8 551.6L259.8 552.8L260.8 552.5L261.8 552.3L262.8 552.2L263.8 552.5L264.8 553L265.8 553L266.8 552.9L267.8 552.4L268.8 552.5L269.8 552.5L270.8 552.7L271.8 552.3L272.8 552.1L273.8 551.8L274.8 551.7L275.8 551.3L276.8 550.9L277.8 551.3L278.8 551.9L279.8 552.3L280.8 552.2L281.8 552.2L282.8 552.1L283.8 552.2L284.8 552.7L285.8 552.7L286.8 552.8L287.8 552.3L288.8 552.4L289.8 552.3L290.8 552.6L291.8 552.6L292.8 552.8L293.8 552.5L294.8 552.4L295.8 552.3L296.8 552.5L297.8 552.5L298.8 552.7L299.8 552.7L300.8 552.4L301.8 552.7L302.8 553L303.8 552.9L304.8 552.9L305.8 552.8L306.8 551.9L307.8 552.4L308.8 552.4L309.8 553.1L310.8 552.9L311.8 552.7L312.8 552.7L313.8 552.7L314.8 552.7L315.8 552.6L316.8 552.8L317.8 553L318.8 553.1L319.8 553L320.8 552.7L321.8 552.1L322.8 552.4L323.8 552.5L324.8 552.6L325.8 552.7L326.8 552.5L327.8 552.4L328.8 552.1L329.8 552.4L330.8 552.4L331.8 552.7L332.8 552.6L333.8 552.6L334.8 552.5L335.8 552.2L336.8 552.1L337.8 551.9L338.8 551.8L339.8 551.9L340.8 552.2L341.8 552.3L342.8 551.3L343.8 552.3L344.8 552.2L345.8 552.1L346.8 551.3L347.8 552L348.8 551.8L349.8 551.8L350.8 551.8L351.8 552.1L352.8 551.8L353.8 551.1L354.8 551.1L355.8 550.9L356.8 550.8L357.8 550.8L358.8 550.9L359.8 550.8L360.8 550.4L361.8 550.3L362.8 550.5L363.8 550.7L364.8 550.9L365.8 550.8L366.8 550.8L367.8 550.4L368.8 550.5L369.8 550.3L370.8 550.7L371.8 550.3L372.8 550.2L373.8 550.2L374.8 550.3L375.8 550.4L376.8 550.1L377.8 550.5L378.8 550.5L379.8 550.7L380.8 550.5L381.8 550.2L382.8 550.2L383.8 550.1L384.8 550.4L385.8 550.1L386.8 549.9L387.8 550L388.8 549.9L389.8 549.8L390.8 549.9L391.8 550.4L391.8 555.7L390.8 556.6L389.8 557L388.8 557.4L387.8 557.4L386.8 557.5L385.8 557.6L384.8 557.8L383.8 558.4L382.8 557.5L381.8 557.6L380.8 557.8L379.8 558.2L378.8 558.3L377.8 558.2L376.8 558L375.8 558L374.8 558.1L373.8 557.9L372.8 558.7L371.8 557.4L370.8 557.4L369.8 557.4L368.8 557.3L367.8 557.5L366.8 558.6L365.8 558.1L364.8 558.1L363.8 558L362.8 558.2L361.8 558.2L360.8 558.1L359.8 558.1L358.8 558.4L357.8 558.3L356.8 559.1L355.8 558.2L354.8 558.5L353.8 558.6L352.8 558.8L351.8 558.7L350.8 558.8L349.8 558.6L348.8 558.7L347.8 558.6L346.8 558.7L345.8 558.5L344.8 558.8L343.8 560.6L342.8 559.5L341.8 559.3L340.8 559.2L339.8 559.2L338.8 559.1L337.8 559.2L336.8 559.3L335.8 559.3L334.8 559.3L333.8 559.5L332.8 559.6L331.8 559.6L330.8 559.4L329.8 559.6L328.8 559.7L327.8 559.4L326.8 559.4L325.8 559.4L324.8 559.6L323.8 559.4L322.8 559.5L321.8 559.5L320.8 559.7L319.8 559.7L318.8 559.8L317.8 559.9L316.8 559.8L315.8 559.8L314.8 559.9L313.8 559.5L312.8 559.9L311.8 560.2L310.8 560.6L309.8 560.4L308.8 560L307.8 559.8L306.8 560L305.8 560.1L304.8 560.1L303.8 560.1L302.8 560.2L301.8 560.3L300.8 560.3L299.8 560.4L298.8 560.7L297.8 560.7L296.8 560.6L295.8 560.2L294.8 560.3L293.8 560.4L292.8 560.4L291.8 560.4L290.8 560.3L289.8 562.1L288.8 560.3L287.8 560.3L286.8 560.4L285.8 560.2L284.8 560.4L283.8 560.5L282.8 560.7L281.8 560.5L280.8 560.5L279.8 560.4L278.8 560.9L277.8 561.3L276.8 562.3L275.8 561.3L274.8 561.1L273.8 561.1L272.8 560.5L271.8 560.2L270.8 559.7L269.8 560.4L268.8 560.3L267.8 560.3L266.8 560L265.8 560L264.8 560.4L263.8 560.4L262.8 560.4L261.8 560.2L260.8 561.2L259.8 560.4L258.8 560.1L257.8 559.9L256.8 560.4L255.8 560L254.8 560L253.8 559.9L252.8 560.2L251.8 560.3L250.8 560.7L249.8 559.9L248.8 559.7L247.8 559.5L246.8 559.7L245.8 560.3L244.8 559.2L243.8 559.1L242.8 558.7L241.8 558.3L240.8 557.9L239.8 557.9L238.8 557.7L237.8 557.4L236.8 557.2L235.8 557.1L234.8 557L233.8 556.8L232.8 556.9L231.8 557L230.8 557.4L229.8 557.3L228.8 558.2L227.8 557.3L226.8 557.2L225.8 557.1L224.8 557L223.8 557.3L222.8 557.6L221.8 558L220.8 557.7L219.8 557.8L218.8 557.5L217.8 558L216.8 558.3L215.8 559L214.8 559L213.8 559L212.8 558.8L211.8 559.5L210.8 559L209.8 559.2L208.8 558.7L207.8 558.7L206.8 558.6L205.8 558.9L204.8 559.1L203.8 558.9L202.8 559L201.8 559L200.8 558.7L199.8 558.4L198.8 558.1L197.8 558.8L196.8 558.9L195.8 558.9L194.8 558.7L193.8 558.5L192.8 558.9L191.8 558.9L190.8 559L189.8 558.8L188.8 559L187.8 558.6L186.8 558.5L185.8 558.7L184.8 558.7L183.8 558.7L182.8 558.5L181.8 558.6L180.8 558.8L179.8 559L178.8 558.8L177.8 559.8L176.8 558.7L175.8 558.5L174.8 558.6L173.8 558.7L172.8 559L171.8 558.9L170.8 558.6L169.8 559.3L168.8 558.7L167.8 559L166.8 558.7L165.8 558.7L164.8 558.4L163.8 558.8L162.8 558.5L161.8 558.5L160.8 558.5L159.8 558.7L158.8 559L157.8 558.9L156.8 558.9L155.8 558.8L154.8 558.8L153.8 558.8L152.8 558.6L151.8 558.8L150.8 559.7L149.8 558.6L148.8 559.3L147.8 558.5L146.8 558.7L145.8 558.8L144.8 558.6L143.8 558.6L142.8 558.6L141.8 558.9L140.8 558.7L139.8 558.4L138.8 558.4L137.8 558.4L136.8 558.5L135.8 558.2L134.8 558.4L133.8 558.5L132.8 558.6L131.8 558.6L130.8 558.6L129.8 558.4L128.8 558.3L127.8 558.5L126.8 558.9L125.8 559.1L124.8 558.8L123.8 558.5L122.8 559.9L121.8 558.4L120.8 558.3L119.8 558.4L118.8 558.5L117.8 558.7L116.8 558.7L115.8 558.6L114.8 558.6L113.8 558.7L112.8 558.9L111.8 558.9L110.8 558.7L109.8 558.6L108.8 558.4L107.8 558.6L106.8 558.7L105.8 559L104.8 558.6L103.8 558.6L102.8 558.4L101.8 558.5L100.8 558.5L99.8 558.8L98.8 558.5L97.8 557.1Z" fill="#0000ff" stroke="#0000ff" stroke-width="0.7" stroke-opacity="0.4" stroke-linejoin="round"/>
<path d="M107.5 546.7V544.7" stroke="#0000ff" stroke-width="1.60" stroke-linecap="round" fill="none" opacity="0.32"/><path d="M105.9 553L106.3 550.3L106.5 547.2L107 546.3L108 546.3L108.5 547.2L108.7 550.3L109.1 553Z" fill="#0000ff" stroke="#0000ff" stroke-width="0.6" stroke-opacity="0.4"/>
<path d="M138.1 543V539.7" stroke="#0000ff" stroke-width="1.60" stroke-linecap="round" fill="none" opacity="0.32"/><path d="M135.9 553L136.9 548.8L137.1 543.5L137.6 542.6L138.6 542.6L139.1 543.5L139.2 548.8L140.3 553Z" fill="#0000ff" stroke="#0000ff" stroke-width="0.6" stroke-opacity="0.4"/>
<path d="M147.1 541.8V540.1" stroke="#0000ff" stroke-width="2.00" stroke-linecap="round" fill="none" opacity="0.32"/><path d="M145.7 553L145.7 548.3L145.8 542.5L146.5 541.4L147.7 541.4L148.3 542.5L148.5 548.3L148.5 553Z" fill="#0000ff" stroke="#0000ff" stroke-width="0.6" stroke-opacity="0.4"/>
<path d="M190.4 544.2V541.1" stroke="#0000ff" stroke-width="1.92" stroke-linecap="round" fill="none" opacity="0.32"/><path d="M188.4 553L189.1 549.3L189.2 544.9L189.8 543.8L191 543.8L191.6 544.9L191.8 549.3L192.4 553Z" fill="#0000ff" stroke="#0000ff" stroke-width="0.6" stroke-opacity="0.4"/>
<path d="M213.4 542.4V539.7" stroke="#0000ff" stroke-width="1.68" stroke-linecap="round" fill="none" opacity="0.32"/><path d="M212.1 553L212.2 548.6L212.4 542.9L212.9 542L214 542L214.5 542.9L214.7 548.6L214.8 553Z" fill="#0000ff" stroke="#0000ff" stroke-width="0.6" stroke-opacity="0.4"/>
<path d="M356.6 541.2V536.7" stroke="#0000ff" stroke-width="1.84" stroke-linecap="round" fill="none" opacity="0.32"/><path d="M354.8 553L355.3 548.1L355.4 541.9L356 540.8L357.1 540.8L357.7 541.9L357.8 548.1L358.4 553Z" fill="#0000ff" stroke="#0000ff" stroke-width="0.6" stroke-opacity="0.4"/>
<path d="M106 539.5l1.5 -1.5l1.5 1.5l-1.5 1.5zM121.1 542l1.5 -1.5l1.5 1.5l-1.5 1.5zM136.6 539l1.5 -1.5l1.5 1.5l-1.5 1.5zM145.6 540l1.5 -1.5l1.5 1.5l-1.5 1.5zM151.1 546.5l1.5 -1.5l1.5 1.5l-1.5 1.5zM153.6 547.5l1.5 -1.5l1.5 1.5l-1.5 1.5zM168.6 546.5l1.5 -1.5l1.5 1.5l-1.5 1.5zM177.4 547l1.5 -1.5l1.5 1.5l-1.5 1.5zM178.6 548l1.5 -1.5l1.5 1.5l-1.5 1.5zM188.6 540.8l1.5 -1.5l1.5 1.5l-1.5 1.5zM198.7 549l1.5 -1.5l1.5 1.5l-1.5 1.5zM197.6 550l1.5 -1.5l1.5 1.5l-1.5 1.5zM211.9 539l1.5 -1.5l1.5 1.5l-1.5 1.5zM241.2 545.8l1.5 -1.5l1.5 1.5l-1.5 1.5zM233.7 547l1.5 -1.5l1.5 1.5l-1.5 1.5zM260 549l1.5 -1.5l1.5 1.5l-1.5 1.5zM262 563.3l1.5 -1.5l1.5 1.5l-1.5 1.5zM258.2 548.5l1.5 -1.5l1.5 1.5l-1.5 1.5zM276.2 542l1.5 -1.5l1.5 1.5l-1.5 1.5zM276.2 548l1.5 -1.5l1.5 1.5l-1.5 1.5zM161.1 560.8l1.5 -1.5l1.5 1.5l-1.5 1.5zM188.6 547l1.5 -1.5l1.5 1.5l-1.5 1.5zM145.6 547l1.5 -1.5l1.5 1.5l-1.5 1.5zM290.9 533.3l1.5 -1.5l1.5 1.5l-1.5 1.5zM303.6 535l1.5 -1.5l1.5 1.5l-1.5 1.5zM276.6 542l1.5 -1.5l1.5 1.5l-1.5 1.5zM288.4 545.8l1.5 -1.5l1.5 1.5l-1.5 1.5zM289.1 549l1.5 -1.5l1.5 1.5l-1.5 1.5zM354.9 532l1.5 -1.5l1.5 1.5l-1.5 1.5zM383 531.5l1.5 -1.5l1.5 1.5l-1.5 1.5zM374.2 545l1.5 -1.5l1.5 1.5l-1.5 1.5zM374.7 546l1.5 -1.5l1.5 1.5l-1.5 1.5zM329.9 548.3l1.5 -1.5l1.5 1.5l-1.5 1.5zM261.6 563.3l1.5 -1.5l1.5 1.5l-1.5 1.5zM240.3 545.8l1.5 -1.5l1.5 1.5l-1.5 1.5zM241.6 546.5l1.5 -1.5l1.5 1.5l-1.5 1.5zM259.1 548.3l1.5 -1.5l1.5 1.5l-1.5 1.5zM261.6 550l1.5 -1.5l1.5 1.5l-1.5 1.5zM295.4 549.5l1.5 -1.5l1.5 1.5l-1.5 1.5zM294.1 550.5l1.5 -1.5l1.5 1.5l-1.5 1.5zM363 548.3l1.5 -1.5l1.5 1.5l-1.5 1.5zM363 560l1.5 -1.5l1.5 1.5l-1.5 1.5zM234 548l1.5 -1.5l1.5 1.5l-1.5 1.5zM226.5 548.5l1.5 -1.5l1.5 1.5l-1.5 1.5zM276.6 548l1.5 -1.5l1.5 1.5l-1.5 1.5zM284.1 551.5l1.5 -1.5l1.5 1.5l-1.5 1.5zM383 546.5l1.5 -1.5l1.5 1.5l-1.5 1.5zM331.7 552l1.5 -1.5l1.5 1.5l-1.5 1.5z" fill="#0000ff" fill-opacity="0.15" stroke="#0000ff" stroke-width="0.5" opacity="0.17"/>
<path d="M389.1 557.5l1.3 -1.3l1.3 1.3l-1.3 1.3zM389 561.1l1.3 -1.3l1.3 1.3l-1.3 1.3zM389 563.5l1.3 -1.3l1.3 1.3l-1.3 1.3zM389.1 566.6l1.3 -1.3l1.3 1.3l-1.3 1.3zM389.1 569.5l1.3 -1.3l1.3 1.3l-1.3 1.3zM389 570.9l1.3 -1.3l1.3 1.3l-1.3 1.3zM389 574.2l1.3 -1.3l1.3 1.3l-1.3 1.3zM389 578.3l1.3 -1.3l1.3 1.3l-1.3 1.3zM389.2 583.1l1.3 -1.3l1.3 1.3l-1.3 1.3z" fill="#0000ff" fill-opacity="0.15" stroke="#0000ff" stroke-width="0.75" opacity="0.48"/><path d="M389.3 559.4l1.4 -1.4l1.4 1.4l-1.4 1.4zM389.2 565l1.4 -1.4l1.4 1.4l-1.4 1.4zM389 567.9l1.4 -1.4l1.4 1.4l-1.4 1.4zM389 572.5l1.4 -1.4l1.4 1.4l-1.4 1.4zM389.2 576.5l1.4 -1.4l1.4 1.4l-1.4 1.4zM389.1 580.2l1.4 -1.4l1.4 1.4l-1.4 1.4zM389.1 581.5l1.4 -1.4l1.4 1.4l-1.4 1.4z" fill="#0000ff" opacity="0.41000000000000003"/>
</g>
<g clip-path="url(#c40)">
<path d="M98.3 736.1L98.4 701.5" fill="none" stroke="#0000ff" stroke-width="2.9" stroke-linecap="round" stroke-linejoin="round" />
<path d="M98 697.2L99 696.3L100 695.9L101 696.5L102 695.4L103 695L104 696.3L105 695.2L106 694.8L107 695.7L108 695.3L109 695.5L110 696.2L111 696.2L112 696.5L113 695.6L114 693.9L115 693.9L116 694.7L117 695.3L118 695.4L119 694.6L120 694.8L121 695.2L122 694.7L123 694.3L124 694.3L125 694.5L126 694.3L127 693L128 692.6L129 693.6L130 694.5L131 694.8L132 694.5L133 694.7L134 694.5L135 694.3L136 694.4L137 693.9L138 693.1L139 692.3L140 692.8L141 692.9L142 692.6L143 693.4L144 693.1L145 693.1L146 693.4L147 692.6L148 692.7L149 693.3L150 692.9L151 692.7L152 692.4L153 692.2L154 692.7L155 692.2L156 692L157 692.9L158 692.4L159 691.2L160 690.8L161 691.1L162 691.4L163 691.3L164 691.9L165 692.9L166 692.5L167 692.5L168 693.3L169 693.4L170 693.1L171 693.3L172 692.9L173 693L174 694.1L175 693.5L176 692L177 692L178 692.3L179 692.8L180 693.7L181 693.8L182 694.1L183 694L184 693.4L185 692.4L186 692.6L187 693.1L188 692.8L189 692.9L190 693.8L191 694.3L192 693.7L193 692.8L194 692.7L195 693.2L196 693.7L197 694.1L198 694L199 693.5L200 693.7L201 695.2L202 694.3L203 692.9L204 693.5L205 694.4L206 694.5L207 694.2L208 694.7L209 694.3L210 692.9L211 692.8L212 694L213 695L214 694.4L215 693.3L216 693L217 693.7L218 694.3L219 693.8L220 692.9L221 692.7L222 692.7L223 693.2L224 693.5L225 693.2L226 693.1L227 692.9L228 692.3L229 691.9L230 692.7L231 693.4L232 693.8L233 693.7L234 693L235 693L236 693.4L237 693.8L238 693.9L239 694L240 694.4L241 694.6L242 694.8L243 694.3L244 694.7L245 695.9L246 696L247 696.1L248 696.1L249 695.4L250 695.6L251 696L252 695.9L253 696.7L254 696.4L255 696.2L256 696.4L257 695.3L258 695.9L259 696.7L260 696.6L261 696.7L262 697.1L263 697.2L264 696.7L265 696.6L266 696.9L267 696.8L268 696.9L269 696.3L270 696.2L271 697L272 697.4L273 697.1L274 696.5L275 696.8L276 697.8L277 698L278 697.5L279 697.6L280 698.4L281 698.5L282 697.6L283 697.8L284 697.4L285 697L286 697.4L287 697.6L288 698.1L289 698.3L290 698.8L291 699.2L292 698L293 698L294 698.6L295 698.6L296 698.5L297 698.5L298 698L299 698.1L300 699.2L301 699.1L302 698.4L303 698L304 697.8L305 698.5L306 698.7L307 699L308 699.6L309 699L310 698.6L311 699.1L312 699.3L313 698.9L314 698.1L315 698.8L316 699.5L317 699.1L318 698.8L319 699.4L320 699.6L321 699.2L322 698.4L323 698.2L324 699L325 699.4L326 699.7L327 699.5L328 699.6L329 699.7L330 699.2L331 699.3L332 698.7L333 697.8L334 699.2L335 699.3L336 698.4L337 699.3L338 699.3L339 699.5L340 699L341 698.6L342 699.6L343 700.4L344 700.7L345 699.6L346 699.3L347 699.7L348 698.9L349 698.6L350 699.5L351 699.6L352 698.8L353 698.7L354 698.5L355 698.1L356 698.7L357 699.5L358 699.7L359 698.9L360 698L361 698.7L362 699.2L363 698.9L364 698.4L365 698.3L366 698.1L367 698.8L368 699.6L369 698.6L370 698.7L371 698.7L372 698.4L373 698.8L374 698.4L375 698.8L376 698.4L377 697.7L378 698.2L379 697.6L380 697.2L381 697.9L382 698.6L383 698.2L384 698.3L385 698.9L386 699L387 698.7L388 698.3L389 698.7L390 698.5L391 698.2L392 699L392 710L391 711.1L390 710.7L389 711.1L388 711.6L387 710.7L386 710.3L385 710.8L384 711.3L383 710.8L382 711.2L381 711.8L380 710.9L379 710.4L378 711.4L377 711.2L376 710.7L375 712.1L374 712.8L373 712.8L372 711.9L371 710.7L370 710.5L369 711.2L368 711.2L367 711.6L366 712.2L365 712.1L364 712.2L363 711L362 711.2L361 711.7L360 710.9L359 710.7L358 712L357 712.1L356 711.6L355 711.6L354 710.7L353 710.6L352 710.6L351 709.9L350 710.2L349 711.4L348 711.8L347 711.2L346 711.1L345 711.8L344 711.6L343 711.1L342 710.5L341 711.1L340 711.4L339 710.3L338 710.4L337 711L336 711.1L335 710.5L334 710L333 710.5L332 711.2L331 711.5L330 711.4L329 711.3L328 711.4L327 711L326 710.9L325 710.5L324 710.1L323 711.2L322 711.6L321 710.8L320 710.7L319 710.4L318 709.8L317 710.3L316 711.6L315 711.5L314 710.4L313 709.7L312 709.9L311 710.6L310 710.4L309 710.1L308 710L307 709.7L306 710.3L305 710.9L304 710.2L303 709.6L302 709.9L301 710L300 709.9L299 710.6L298 710.7L297 710.9L296 711.1L295 710.8L294 710.3L293 710.1L292 710.2L291 710.6L290 711.2L289 711.2L288 710L287 709.6L286 710.3L285 709.8L284 710L283 710.5L282 710.8L281 710.9L280 709.9L279 710.3L278 711.3L277 711.3L276 710.9L275 710.2L274 709.6L273 709.8L272 710.4L271 710.4L270 710.7L269 709.9L268 709.2L267 709.3L266 709L265 709L264 709.1L263 709.3L262 709.3L261 709.1L260 708.9L259 708.9L258 709.1L257 708.9L256 708.4L255 708.4L254 708.7L253 709L252 709.2L251 709.5L250 709.2L249 708.1L248 707.4L247 707.5L246 708.7L245 707.9L244 707.5L243 707.5L242 707.7L241 709.6L240 709.1L239 708.2L238 707.8L237 707.9L236 707.8L235 707.1L234 707.2L233 706.9L232 706.5L231 707L230 707.5L229 706.8L228 706L227 706.6L226 707.5L225 707L224 706.2L223 705.5L222 705.8L221 706.1L220 705.8L219 707.1L218 707.1L217 706.5L216 707L215 707.6L214 707.3L213 706.8L212 706.6L211 706.8L210 707.4L209 707.1L208 708.1L207 708.1L206 707.4L205 707.5L204 707.4L203 707.6L202 706.7L201 707L200 707.5L199 707.3L198 707.8L197 707.3L196 706.6L195 706.7L194 706.9L193 707L192 707.5L191 707.8L190 707.9L189 707.7L188 707.3L187 707L186 706.8L185 707.2L184 707.6L183 707.6L182 707.7L181 707L180 706.8L179 707.8L178 708.1L177 707.6L176 707.5L175 707.9L174 708.3L173 708.1L172 708.3L171 708.5L170 707.5L169 707L168 707.8L167 708.5L166 707.9L165 707.4L164 707.5L163 707.4L162 707.7L161 707.9L160 708.4L159 708.3L158 707.6L157 708L156 708.2L155 708L154 707.7L153 708L152 708.7L151 707.3L150 706.9L149 707.6L148 707.7L147 708.1L146 708.1L145 707.9L144 707.6L143 708.1L142 708.4L141 707.6L140 707.5L139 707.6L138 708.2L137 708.1L136 707.3L135 707.4L134 707.6L133 707.7L132 707.8L131 707.8L130 708L129 708.3L128 708.2L127 708.1L126 708.5L125 708.7L124 708.8L123 708.4L122 708.2L121 708.6L120 708.4L119 708.5L118 708.8L117 708.5L116 708.4L115 708.4L114 708.5L113 708.9L112 709.3L111 709.8L110 710.4L109 710.4L108 709.3L107 709.7L106 710.6L105 710.2L104 710.8L103 711L102 709.9L101 709.8L100 710.7L99 710.6L98 709.7Z" fill="#0000ff" filter="url(#g0)"/>
<path d="M98 697.8L99 697.1L100 696.9L101 696.6L102 697.6L103 697.7L104 696.1L105 695.7L106 696L107 696.4L108 695.5L109 695.3L110 696.5L111 696L112 696.1L113 696.9L114 695.9L115 694.9L116 695.5L117 695.7L118 695.5L119 695.6L120 695.7L121 695.2L122 694.4L123 694.7L124 695.9L125 696.1L126 695.6L127 695.5L128 694.7L129 694.4L130 695.1L131 694.7L132 695L133 694.9L134 694.2L135 693.8L136 693.2L137 693.4L138 694.7L139 695.6L140 694.6L141 693.9L142 694.7L143 694.2L144 693.4L145 693.2L146 693.9L147 694.2L148 693.3L149 693.5L150 693.3L151 694.3L152 695L153 694.8L154 693.5L155 692.9L156 693.5L157 692.6L158 692.6L159 693.5L160 693.8L161 693.1L162 694.2L163 695.1L164 693.6L165 693L166 693.1L167 693.4L168 693.5L169 693.3L170 693.9L171 693.9L172 693.6L173 693.7L174 693.5L175 694.3L176 694.4L177 694.3L178 694.2L179 694.4L180 694.4L181 694.5L182 694L183 694L184 694.7L185 693.9L186 693.5L187 693.1L188 693.2L189 694.1L190 694L191 694.4L192 693.7L193 693.3L194 693.7L195 693.6L196 694.5L197 694.7L198 695L199 694.9L200 694.1L201 694.2L202 693.9L203 693.7L204 694.3L205 695.1L206 694.8L207 694.1L208 693.9L209 693.7L210 694.4L211 695L212 695.2L213 695.1L214 695.3L215 694.6L216 694L217 694.9L218 694.7L219 694.5L220 694.4L221 694L222 694.1L223 693.9L224 693.7L225 694.1L226 693.6L227 693.5L228 694.4L229 694.8L230 694.4L231 694.3L232 693.7L233 692.9L234 693.7L235 693.9L236 693.6L237 693.7L238 694.1L239 694.3L240 694.2L241 694.6L242 694.9L243 695.1L244 695.5L245 695.9L246 695.9L247 695.6L248 695.7L249 695.6L250 696.1L251 696.7L252 697L253 697.3L254 696.7L255 697L256 697.1L257 696.8L258 697.1L259 697.3L260 696.9L261 697.1L262 697.6L263 697.4L264 697.2L265 697.4L266 696.9L267 697.4L268 697.1L269 696.2L270 696.9L271 697.5L272 697.9L273 698L274 697.2L275 697.3L276 697.9L277 696.9L278 697L279 697.5L280 697.3L281 698.4L282 698.6L283 697.9L284 697.7L285 698.7L286 699L287 698.9L288 698.3L289 698.2L290 699L291 698.5L292 699L293 699.4L294 699.2L295 699.1L296 698.9L297 699.4L298 699.2L299 699.1L300 699.3L301 699.3L302 698.7L303 698.9L304 699.4L305 699.4L306 699.2L307 699.7L308 700.4L309 700.4L310 700.8L311 700.6L312 699.8L313 699L314 699.6L315 700.2L316 700.1L317 700.6L318 700.2L319 699.4L320 699.6L321 699.8L322 699.4L323 699.7L324 700L325 700.1L326 699.8L327 699.6L328 699.9L329 700L330 699.8L331 700.1L332 699.8L333 699.7L334 700.7L335 700.5L336 700.1L337 699.8L338 699.9L339 700.3L340 700.3L341 700.3L342 700.4L343 700.4L344 699.5L345 698.9L346 699.6L347 700.8L348 701.3L349 700.5L350 700L351 699.8L352 700.1L353 700.2L354 699.9L355 699.7L356 699.5L357 699.4L358 699.2L359 699.4L360 700.2L361 700.4L362 700.3L363 700L364 699.6L365 699.5L366 699.3L367 699.5L368 698.9L369 698.9L370 699L371 699.2L372 699.3L373 698.5L374 698.3L375 698.5L376 699.5L377 699.4L378 698.7L379 699.2L380 699.3L381 699.2L382 699.5L383 699.3L384 699.7L385 700.5L386 699.9L387 699.9L388 699.9L389 699.2L390 698.7L391 698.9L392 700.6L392 709.4L391 708.8L390 708.5L389 710L388 709.9L387 708.9L386 710.3L385 711.1L384 710.4L383 709.9L382 710L381 710.6L380 710.9L379 710.5L378 710.1L377 710L376 710.7L375 710.8L374 710.7L373 710.7L372 711.1L371 711.3L370 710.2L369 710.6L368 710.9L367 709.4L366 710L365 710.8L364 710.2L363 710L362 710.1L361 710.7L360 710.4L359 709.9L358 710.3L357 710.9L356 710.5L355 709.5L354 710.2L353 710.7L352 710.2L351 709.7L350 709.2L349 709.9L348 710.1L347 709.7L346 709.8L345 709.6L344 709.7L343 710.5L342 710.2L341 709.4L340 710L339 710.3L338 709.7L337 710.2L336 710.6L335 710.3L334 710.8L333 710.1L332 710L331 710.5L330 711L329 711.3L328 711L327 710.9L326 709.8L325 709.7L324 710.1L323 710L322 709.9L321 709.9L320 709.8L319 708.8L318 709.3L317 710.2L316 710.7L315 710.9L314 709.7L313 709.3L312 709.5L311 709.3L310 708.6L309 709.5L308 710.4L307 710.3L306 710.8L305 710.2L304 710.5L303 709.7L302 708.8L301 709.2L300 709.3L299 709.4L298 709L297 709.8L296 710.3L295 710.5L294 709.9L293 709.4L292 710.2L291 709.6L290 709.3L289 709.8L288 709.3L287 709.3L286 709.9L285 709.7L284 709.5L283 709.7L282 709.5L281 709.5L280 710.7L279 709.9L278 708.4L277 709.6L276 711.1L275 709.4L274 708.6L273 709.1L272 708.9L271 709.6L270 709.6L269 708.6L268 708.3L267 709.4L266 709.1L265 708.7L264 708.9L263 708.9L262 708.9L261 709.2L260 709.3L259 708L258 707.9L257 708.8L256 708.2L255 707.4L254 707.7L253 708.1L252 707.5L251 707.5L250 707.5L249 707.5L248 706.4L247 705.8L246 707L245 707.4L244 707.1L243 707L242 707.9L241 708.3L240 707.1L239 706L238 705.4L237 705.7L236 706.2L235 705.9L234 705.5L233 705.9L232 706.3L231 706.2L230 706.2L229 705.4L228 704.8L227 705.5L226 706.3L225 706.6L224 705.7L223 704.8L222 705.7L221 706.2L220 705.7L219 706L218 706.4L217 706.5L216 706.4L215 706.9L214 706.9L213 706L212 706.1L211 706.5L210 706L209 706.5L208 706.8L207 706.2L206 705.8L205 707.1L204 706.9L203 705.3L202 705.9L201 707L200 707.2L199 706.8L198 707.2L197 707.4L196 707.9L195 707.1L194 705.9L193 706L192 706.7L191 707L190 706.6L189 706.2L188 706.2L187 705.9L186 705.2L185 706.1L184 705.9L183 706L182 707.4L181 706.4L180 705.4L179 705.4L178 706.3L177 707.1L176 707.7L175 707.8L174 705.9L173 706L172 707.3L171 706.9L170 706.5L169 707.2L168 706L167 705.5L166 706.6L165 706.3L164 706.5L163 707L162 706.9L161 706.8L160 706.3L159 706.4L158 706.5L157 707.3L156 707.7L155 706.6L154 706.8L153 707.3L152 706.9L151 706.3L150 706.7L149 706.8L148 706.4L147 705.9L146 706.2L145 707.8L144 707.6L143 706.6L142 706.6L141 707.2L140 707.2L139 707L138 707.5L137 707.5L136 707.3L135 706.2L134 706.8L133 708.2L132 707.5L131 707.3L130 707.9L129 707.7L128 707L127 707.4L126 707.1L125 707.2L124 707.2L123 707.2L122 708L121 707.9L120 708L119 707.7L118 707.6L117 708.2L116 708.6L115 707.7L114 707.1L113 708.3L112 708L111 707.8L110 708.8L109 709.7L108 708.6L107 708.1L106 709.3L105 709.3L104 709.3L103 709.1L102 708.1L101 708.2L100 709.9L99 709.7L98 709.1Z" fill="#0000ff" filter="url(#g1)"/>
<path d="M98 699.9L99 698.9L100 698.2L101 698.7L102 697.5L103 696.3L104 697.1L105 698.1L106 697L107 696.2L108 696.3L109 696.5L110 696.6L111 696.6L112 696.7L113 696.3L114 697.2L115 697.3L116 695.9L117 696.2L118 696L119 695.9L120 696.3L121 696.5L122 695.9L123 694.3L124 695.3L125 696.1L126 696.3L127 696.6L128 695.5L129 695.2L130 694.8L131 694.1L132 694.6L133 695.1L134 694.2L135 694.5L136 695.5L137 695.6L138 694.6L139 694.3L140 694.7L141 694.1L142 694.9L143 695.1L144 694.8L145 695.2L146 695.4L147 694.5L148 693.4L149 694L150 694.7L151 694.1L152 694L153 693.9L154 693.5L155 693.8L156 693.9L157 694.2L158 693.7L159 693.4L160 693L161 693.4L162 694.3L163 693.9L164 694.8L165 695.2L166 694.2L167 694.1L168 694.4L169 694.7L170 694.3L171 694.5L172 695.3L173 695.8L174 695.6L175 694.8L176 694.2L177 694.6L178 695.6L179 696.4L180 695.7L181 694.1L182 693.8L183 694.5L184 695.3L185 694.8L186 694L187 693.4L188 694.3L189 694.5L190 694.4L191 695.1L192 693.9L193 693.4L194 694.9L195 695.5L196 694.9L197 695.6L198 695.7L199 695.2L200 695.3L201 695.4L202 695.9L203 695.6L204 695.7L205 696.7L206 696L207 695.6L208 695.3L209 695.2L210 696.4L211 696.8L212 696.1L213 695.9L214 696.2L215 695.9L216 695.7L217 696.4L218 695L219 693.7L220 695.3L221 695.4L222 695L223 695.1L224 694.7L225 694.5L226 694.2L227 694L228 694.7L229 695.3L230 695.3L231 694.8L232 694.5L233 693.9L234 694.1L235 694.5L236 694.4L237 694.8L238 695.2L239 695.6L240 695.6L241 695.2L242 695.1L243 696.1L244 696.4L245 696.5L246 696.7L247 697.4L248 698.3L249 699L250 698.2L251 697.5L252 697.2L253 697.3L254 698.2L255 697.6L256 698.2L257 698.5L258 697.1L259 697.8L260 698.6L261 698.4L262 698.1L263 697.4L264 697.2L265 697.1L266 698.1L267 698.9L268 697.8L269 697.6L270 698.5L271 698.1L272 698.3L273 698.4L274 698.4L275 698.4L276 697.8L277 696.6L278 696.7L279 698.7L280 698.7L281 698.7L282 698.5L283 699.1L284 699.1L285 698.6L286 699.8L287 700.5L288 699.9L289 698.7L290 697.9L291 698.7L292 699.8L293 699.5L294 699.3L295 700.5L296 701.1L297 700.1L298 699.6L299 699.5L300 699.8L301 699.9L302 699.8L303 699.8L304 700.1L305 700.5L306 699.6L307 700.9L308 701.6L309 700.1L310 699.4L311 699.7L312 700L313 700.8L314 701.4L315 700.3L316 699.2L317 699.9L318 700L319 699.9L320 700.8L321 699.3L322 699.1L323 701.3L324 701L325 699.1L326 698.8L327 699.8L328 700.8L329 701.3L330 701.3L331 700.4L332 700.1L333 700.4L334 700.5L335 700L336 700.4L337 701.6L338 701.2L339 700.7L340 700.2L341 700.2L342 700.4L343 699.9L344 700.7L345 701.2L346 700.6L347 699.7L348 699.9L349 701.5L350 701.7L351 701L352 701.5L353 702.4L354 702L355 701.5L356 701.3L357 701L358 701.1L359 701.4L360 700.9L361 700.5L362 700.8L363 700.6L364 700.1L365 700.5L366 700.6L367 699.4L368 699.9L369 699.9L370 699.9L371 699.3L372 698.9L373 701L374 700.9L375 700.6L376 700.5L377 699.5L378 699.6L379 700.4L380 701.2L381 701.4L382 701.2L383 700.5L384 699.1L385 698.7L386 700.5L387 700L388 699.5L389 700.5L390 699.5L391 699.7L392 701.3L392 709.1L391 708.6L390 707.2L389 708L388 709.1L387 708.9L386 708.7L385 709.2L384 710.2L383 710.4L382 710.2L381 711.3L380 711.8L379 710.5L378 709.5L377 710L376 710.8L375 711.8L374 712.3L373 710.8L372 709.4L371 709.7L370 710L369 710.3L368 710.1L367 710.8L366 710.6L365 709.3L364 709.8L363 709.9L362 709.7L361 710.5L360 710L359 709.3L358 709.7L357 709L356 708.1L355 709.4L354 710.5L353 710L352 709.1L351 709L350 709.7L349 709.7L348 709.2L347 710.5L346 709.9L345 708.7L344 709L343 709.5L342 711.1L341 710.6L340 709.8L339 709.8L338 708.8L337 708.7L336 709.3L335 708.8L334 708.2L333 709.3L332 710.2L331 709.6L330 708.7L329 708.2L328 708.9L327 710.5L326 710.9L325 710.3L324 710.6L323 710.1L322 709.4L321 709.9L320 709.8L319 709.3L318 709.3L317 709.6L316 710.5L315 710.1L314 709.1L313 708.9L312 709.5L311 709.9L310 710.4L309 709.5L308 707.9L307 708.7L306 708.7L305 708.6L304 708.3L303 707.8L302 708.6L301 708.6L300 708.4L299 708.8L298 709.5L297 708.6L296 708.2L295 708L294 707.9L293 708.5L292 709L291 710L290 709.9L289 709.9L288 709.4L287 708.6L286 708.8L285 707.8L284 708.3L283 709.7L282 709.4L281 709.4L280 709.5L279 709.6L278 708L277 708L276 709.5L275 709.6L274 709.9L273 709L272 708.5L271 709.5L270 708.7L269 707.4L268 708.6L267 708.7L266 708.8L265 709.5L264 708.7L263 707.8L262 708L261 708.7L260 707.7L259 707.8L258 709.1L257 708.1L256 707.8L255 707.9L254 708.2L253 708.9L252 708.4L251 708.3L250 707.9L249 706.9L248 705.8L247 705.9L246 706.6L245 706.6L244 705.8L243 705.8L242 705.9L241 705.9L240 706.2L239 705.7L238 705.3L237 705.6L236 705.4L235 705.9L234 706.7L233 705.7L232 705.8L231 707.3L230 707.3L229 705.9L228 704.9L227 704.5L226 705.1L225 705L224 704.8L223 706L222 706.4L221 705.8L220 705.5L219 705L218 704.3L217 703.5L216 704.3L215 705L214 704.5L213 705.1L212 705L211 705.6L210 706.4L209 705.7L208 706.8L207 707.2L206 706.4L205 706.3L204 706L203 706.2L202 707.2L201 707L200 706.2L199 705.9L198 705.2L197 706.8L196 706.5L195 704.6L194 705.2L193 705.6L192 705.8L191 706.3L190 706.2L189 705.5L188 705.5L187 706.2L186 706.9L185 706.5L184 706.2L183 706.4L182 705.6L181 705.2L180 705.5L179 706.6L178 706.3L177 705L176 705.2L175 706.2L174 707.2L173 707.3L172 706.3L171 706.5L170 706.7L169 705.2L168 704.3L167 705.4L166 707L165 706.2L164 705.4L163 706.3L162 705.8L161 705.2L160 705.1L159 704.9L158 705.2L157 706.3L156 706.5L155 706.4L154 706.8L153 705.8L152 706.4L151 707.1L150 706.4L149 706L148 706.6L147 706.6L146 706.4L145 706.7L144 705.8L143 705.7L142 706.9L141 707.3L140 706.6L139 706.2L138 706.5L137 707.1L136 707.1L135 706.6L134 705.9L133 705.7L132 705.7L131 706.1L130 705.7L129 705.1L128 705.9L127 706.4L126 705.5L125 705.9L124 707.8L123 707.3L122 707.5L121 707.7L120 706.8L119 707.7L118 708.2L117 708L116 707.1L115 707L114 708.4L113 708.9L112 708.7L111 707.6L110 707.7L109 707.9L108 707.5L107 707.9L106 708.4L105 708.1L104 707.8L103 708L102 708.1L101 707.9L100 709L99 708.2L98 706.6Z" fill="#0000ff" />
<path d="M389 710.3l1.3 -1.3l1.3 1.3l-1.3 1.3zM389.2 713.9l1.3 -1.3l1.3 1.3l-1.3 1.3zM389.1 715.5l1.3 -1.3l1.3 1.3l-1.3 1.3zM389.3 717.4l1.3 -1.3l1.3 1.3l-1.3 1.3zM388.9 719.3l1.3 -1.3l1.3 1.3l-1.3 1.3zM389.1 721.4l1.3 -1.3l1.3 1.3l-1.3 1.3zM389.2 723.5l1.3 -1.3l1.3 1.3l-1.3 1.3zM389.1 726.7l1.3 -1.3l1.3 1.3l-1.3 1.3zM389.1 728.6l1.3 -1.3l1.3 1.3l-1.3 1.3zM389.2 730l1.3 -1.3l1.3 1.3l-1.3 1.3zM389 736.2l1.3 -1.3l1.3 1.3l-1.3 1.3z" fill="#0000ff" fill-opacity="0.15" stroke="#0000ff" stroke-width="0.75" opacity="0.48"/><path d="M389.3 712.3l1.4 -1.4l1.4 1.4l-1.4 1.4zM389 724.9l1.4 -1.4l1.4 1.4l-1.4 1.4zM389 731.6l1.4 -1.4l1.4 1.4l-1.4 1.4zM389 732.9l1.4 -1.4l1.4 1.4l-1.4 1.4zM389.1 734.9l1.4 -1.4l1.4 1.4l-1.4 1.4z" fill="#0000ff" opacity="0.41000000000000003"/>
<rect x="94" y="786.2" width="5" height="2.8" fill="#0000ff" />
<rect x="104.4" y="786.2" width="3.5" height="2.8" fill="#0000ff" />
<rect x="145.6" y="786.2" width="3.2" height="2.8" fill="#0000ff" />
<rect x="197.6" y="786.2" width="3.8" height="2.8" fill="#0000ff" />
<rect x="250.2" y="786.2" width="2.5" height="2.8" fill="#0000ff" />
<rect x="302.4" y="786.2" width="2.7" height="2.8" fill="#0000ff" />
<rect x="353.9" y="786.2" width="3" height="2.8" fill="#0000ff" />
<rect x="382" y="786.2" width="5" height="2.8" fill="#0000ff" />
<rect x="388.2" y="786.2" width="7.5" height="2.8" fill="#0000ff" />
</g>
<g clip-path="url(#c50)">
<path d="M98.1 903.6L98.1 883.5L98.8 871" fill="none" stroke="#0000ff" stroke-width="2.9" stroke-linecap="round" stroke-linejoin="round" />
<path d="M98 867.1L99 866.6L100 866.7L101 866.6L102 864.7L103 865.4L104 867L105 866.5L106 866.5L107 867.2L108 865.2L109 864.8L110 865.4L111 865.5L112 866.2L113 866.2L114 865.9L115 865.1L116 865.3L117 866.9L118 867.1L119 865.4L120 865.3L121 865.8L122 866.6L123 867.1L124 866.5L125 866.7L126 866.8L127 867.1L128 867.2L129 866.9L130 867.8L131 867.5L132 866.8L133 867.2L134 868.7L135 869.7L136 869L137 869.2L138 869.7L139 869L140 868.1L141 869.1L142 869.5L143 869.3L144 868.9L145 868.6L146 868.9L147 869.4L148 870.5L149 870.5L150 870.6L151 870L152 869.7L153 870.2L154 869.5L155 869.4L156 869.5L157 869L158 868.2L159 867.6L160 868.4L161 868.8L162 869.2L163 868.8L164 869.3L165 869.6L166 869.7L167 869.4L168 868.5L169 869.5L170 870L171 869.7L172 869L173 869.6L174 870.6L175 869.9L176 868.8L177 868.9L178 869.5L179 869L180 868.5L181 869.9L182 870.1L183 869.4L184 870.7L185 871.7L186 871.9L187 871.4L188 870.6L189 870.5L190 869.9L191 869.1L192 869.9L193 870.7L194 871.1L195 872.1L196 871.1L197 870L198 871L199 872.5L200 873.3L201 872.1L202 871.3L203 872.4L204 871.9L205 870.6L206 871.6L207 871.7L208 870.3L209 871.4L210 871.8L211 870.7L212 871.2L213 872L214 871.9L215 871L216 870.6L217 870.5L218 870.7L219 869.8L220 870.1L221 870.6L222 870.2L223 871L224 871.4L225 871.6L226 871.6L227 871.7L228 872.7L229 871.9L230 871.6L231 873.2L232 872.4L233 871.3L234 871.5L235 872L236 871.7L237 871.3L238 871.7L239 871.9L240 872.7L241 872.4L242 872.1L243 872.8L244 872.5L245 872.2L246 871.7L247 871.3L248 871.9L249 872.5L250 872.2L251 872.7L252 872.9L253 872.4L254 872.2L255 872.8L256 873.1L257 872.7L258 871.7L259 872.4L260 872.3L261 871.6L262 871.7L263 870.6L264 869.6L265 870.4L266 872.1L267 871.8L268 871.4L269 870.8L270 871L271 871.2L272 869.9L273 869.4L274 869.4L275 866.3L276 864.5L277 866.6L278 869.2L279 871L280 869.8L281 870L282 870.8L283 870.6L284 870.2L285 869L286 867.8L287 868.5L288 869.5L289 869.1L290 870.2L291 870.8L292 869.2L293 869L294 870.2L295 869.9L296 869.9L297 870.5L298 869.8L299 870.4L300 871.7L301 870.3L302 870.4L303 871.6L304 871.2L305 870.6L306 870.2L307 871.9L308 872.7L309 871.7L310 871.3L311 870.9L312 870.8L313 870.7L314 870.8L315 870.7L316 870.6L317 871.5L318 871.2L319 870.8L320 871.1L321 870.7L322 869.8L323 870.5L324 871.2L325 870.5L326 871L327 870.7L328 869.8L329 869.8L330 869.5L331 869.7L332 869.9L333 870.6L334 870.6L335 870.4L336 870.3L337 869.4L338 869.9L339 869.5L340 869.8L341 869.8L342 869L343 869.5L344 869.3L345 869L346 869.8L347 869.6L348 869.6L349 868.8L350 868.5L351 868.3L352 866.6L353 866.6L354 868.2L355 867.5L356 867.2L357 866.7L358 866.1L359 866.8L360 865.9L361 864.2L362 864.6L363 865.8L364 865.5L365 865.4L366 864.5L367 864.8L368 865.5L369 863.8L370 864.3L371 864.5L372 863.4L373 863.6L374 862.7L375 861.6L376 861.7L377 861.4L378 861.3L379 862.7L380 862.3L381 861.8L382 862.2L383 862.7L384 862.5L385 861.6L386 862.2L387 863.9L388 863.6L389 861.9L390 861.9L391 863.5L392 865.5L392 875.7L391 877.6L390 877.3L389 877.1L388 878.4L387 878L386 877.5L385 877.7L384 877.5L383 877.5L382 877.7L381 877.4L380 878.3L379 878.5L378 877L377 878.4L376 879.6L375 879.9L374 881.2L373 882.1L372 881.7L371 881.1L370 879.9L369 879.3L368 880.8L367 882L366 882.2L365 881.1L364 880.3L363 881.5L362 882.6L361 881.9L360 881.7L359 880.9L358 880L357 880.8L356 880.3L355 880.5L354 879.6L353 880.2L352 881.1L351 881.1L350 881.3L349 880.8L348 881.8L347 882L346 882L345 882.1L344 881.4L343 881.7L342 882.7L341 883.4L340 883.2L339 883.1L338 883.1L337 883.7L336 884.2L335 883.4L334 883.3L333 883.7L332 884L331 883.7L330 882.8L329 882.6L328 882.2L327 881.8L326 883.2L325 883.6L324 881.9L323 882.8L322 883.5L321 883.4L320 883.4L319 882.8L318 883.2L317 883.5L316 882.4L315 883L314 883.3L313 883.2L312 885L311 883.9L310 882.3L309 883.3L308 883.8L307 884.8L306 886.2L305 886.1L304 885L303 884.8L302 884L301 883.4L300 883.9L299 884.2L298 885.3L297 885.9L296 885.1L295 884.4L294 884.5L293 885.2L292 886.3L291 886.2L290 885.1L289 886L288 887.2L287 886.2L286 885.6L285 886.5L284 886L283 886.4L282 887L281 887L280 886.7L279 886.7L278 887.3L277 887.4L276 888.4L275 888.6L274 886.8L273 886.5L272 887.5L271 887.1L270 887.1L269 886.7L268 886L267 886.2L266 887.2L265 886L264 885L263 885.9L262 885.7L261 885.6L260 885.7L259 886.7L258 886.5L257 885.8L256 886.4L255 886.5L254 886.5L253 886.6L252 886.8L251 886.1L250 886L249 885.8L248 885.6L247 887L246 887.6L245 886.9L244 886.9L243 885.8L242 884.9L241 886L240 886.7L239 885.7L238 885.7L237 886.4L236 886.1L235 886L234 885.9L233 885.5L232 886.1L231 887.3L230 887.1L229 886.6L228 885.9L227 885.9L226 887.3L225 887.3L224 886.9L223 885.9L222 885.3L221 887.6L220 888.9L219 888.6L218 890.7L217 890.9L216 889.2L215 888.5L214 887.4L213 887.3L212 886.7L211 885.9L210 886.6L209 886.8L208 886.8L207 887.2L206 887.6L205 887.2L204 886.7L203 887.3L202 885.9L201 885.4L200 886.1L199 886L198 886.6L197 887.9L196 887.3L195 886.4L194 887.2L193 887.4L192 886.8L191 886.5L190 885.7L189 885.6L188 886.6L187 886.5L186 886.8L185 887.1L184 886.5L183 885.7L182 885.2L181 885.7L180 886L179 885.7L178 885.3L177 884.9L176 885.6L175 886.5L174 886.9L173 885.9L172 885.3L171 885.4L170 885.2L169 886.4L168 887.3L167 886.6L166 886.1L165 886.6L164 886.5L163 885.6L162 886.3L161 887L160 887.3L159 889L158 888.2L157 886.5L156 886.2L155 885.9L154 885.2L153 884L152 883.3L151 883.3L150 882.8L149 882.3L148 881.7L147 881.7L146 882.1L145 882.1L144 882.6L143 883L142 882.2L141 881.7L140 882.3L139 881.8L138 881.4L137 880.9L136 881.6L135 881.8L134 880.8L133 881.9L132 882.5L131 880.6L130 879.2L129 880.5L128 880.5L127 880L126 880.9L125 880.9L124 880.3L123 880L122 880.9L121 881.2L120 880.9L119 881.3L118 881.2L117 881.5L116 881.6L115 880.8L114 880.8L113 881.4L112 881.1L111 879.4L110 880.3L109 880.9L108 879.7L107 880.7L106 880.7L105 879L104 879.5L103 880.2L102 880.5L101 881.2L100 880.3L99 879.4L98 879.7Z" fill="#0000ff" filter="url(#g0)"/>
<path d="M98 866.8L99 867.5L100 867.6L101 866.7L102 868.1L103 868.4L104 867.4L105 867.3L106 866.8L107 866.2L108 866.5L109 867.1L110 866.3L111 866L112 867.3L113 867.4L114 866.5L115 865.9L116 865.6L117 866.2L118 867.1L119 867L120 867.1L121 866.7L122 866.2L123 867L124 868.1L125 867.9L126 868L127 867.9L128 868.2L129 869.7L130 869.2L131 868.8L132 869.4L133 869L134 868.5L135 868.7L136 869.3L137 870.1L138 869.5L139 868.7L140 869.6L141 869.8L142 869.5L143 870.3L144 870.5L145 870.7L146 870.9L147 870.4L148 870.1L149 869.1L150 869.4L151 869.5L152 870L153 871.2L154 870.9L155 871L156 871.4L157 869.5L158 867.9L159 868.9L160 869.2L161 869L162 870.1L163 870.7L164 869.8L165 870.3L166 870.6L167 870L168 870.7L169 869.8L170 870.4L171 871.6L172 871L173 871.1L174 870.8L175 870.8L176 871.3L177 869.8L178 868.9L179 870.5L180 870.6L181 870.5L182 871.1L183 871.2L184 870.5L185 870.3L186 871.3L187 871.5L188 871.7L189 871.6L190 871.8L191 872.1L192 871.7L193 872.3L194 872.7L195 871.7L196 872.1L197 871.8L198 872.1L199 872.7L200 872.3L201 872.4L202 872.6L203 872.2L204 871.6L205 872.1L206 871.9L207 871.7L208 871.8L209 871.6L210 871.3L211 870.9L212 871L213 870.7L214 870.1L215 871.9L216 872.3L217 871.1L218 871.5L219 871.7L220 871.9L221 872.3L222 872.5L223 872.2L224 871.5L225 871.9L226 872.5L227 872L228 872.3L229 872.5L230 872.3L231 872.9L232 872.5L233 870.9L234 871.2L235 871.1L236 871.2L237 873L238 873.9L239 872.7L240 872.2L241 872.2L242 872.2L243 873.5L244 873L245 873.1L246 873.6L247 874.2L248 873.8L249 872.1L250 873.1L251 874L252 873.7L253 872.8L254 872.7L255 872.8L256 873.5L257 874L258 872.9L259 872.1L260 871.7L261 871.8L262 872.5L263 873L264 873.5L265 873L266 873.1L267 872.3L268 871.6L269 872.9L270 872.6L271 872.1L272 872.3L273 871.4L274 870.5L275 868.6L276 865.3L277 867.6L278 870.3L279 869.5L280 869.8L281 870.8L282 870.6L283 870.4L284 870.7L285 870.6L286 870.4L287 870.8L288 871.2L289 870.7L290 869.4L291 868.8L292 869.8L293 871.2L294 871.8L295 872.3L296 872.5L297 872L298 871.7L299 872.3L300 872L301 871.7L302 872.5L303 872.3L304 872.8L305 873.3L306 873L307 872.5L308 871.5L309 870.9L310 870.3L311 870.3L312 871.6L313 873L314 872.2L315 872.1L316 873.5L317 873.4L318 873.3L319 872.7L320 871.5L321 871.6L322 872.3L323 872.4L324 871.9L325 872L326 871.5L327 871.4L328 870.8L329 871.1L330 872.7L331 873.2L332 872L333 870.4L334 870.3L335 869.8L336 869.1L337 870.2L338 871.2L339 870.7L340 869.8L341 869.8L342 871.6L343 871.5L344 870.7L345 869.9L346 869.8L347 870.2L348 869.5L349 869.5L350 869.1L351 869L352 868.9L353 868.1L354 867.4L355 866.8L356 867.6L357 868.5L358 867.8L359 866.9L360 866.4L361 866.4L362 867.1L363 867L364 865.7L365 865.9L366 866.3L367 864.7L368 863.8L369 865.1L370 865.4L371 864.5L372 864.3L373 863.5L374 862.5L375 862.8L376 863.3L377 863.9L378 863.7L379 863.2L380 864.1L381 863.8L382 863L383 863.4L384 863.8L385 864L386 864.3L387 863.7L388 862.8L389 863.5L390 863.5L391 864.7L392 866.1L392 874.5L391 875.3L390 875.5L389 875.5L388 877.1L387 876.6L386 875.4L385 875.2L384 876.4L383 878.4L382 877.5L381 876.7L380 877.1L379 876.9L378 876.3L377 876.4L376 879.2L375 881L374 880.1L373 880.7L372 881.1L371 881.7L370 881.4L369 880.5L368 880.2L367 880.3L366 880.7L365 879.4L364 878.9L363 880.6L362 880.4L361 879.9L360 880.7L359 880.6L358 880.9L357 880L356 879.4L355 881.4L354 880.2L353 878.7L352 879.9L351 880.6L350 880.9L349 881.2L348 881.8L347 881.8L346 880.3L345 880.3L344 881.1L343 881.4L342 882.2L341 883.6L340 884.2L339 883.1L338 883.2L337 883.9L336 883.6L335 883.3L334 884.1L333 884.8L332 883L331 881.9L330 882.3L329 881.8L328 881.8L327 882.1L326 882.1L325 881.1L324 880.6L323 881.5L322 882.9L321 883.1L320 883L319 883.4L318 884.1L317 883.8L316 883.1L315 882.9L314 883.4L313 884.5L312 883.7L311 883.5L310 883.2L309 882.9L308 883.2L307 883.5L306 883.8L305 883.8L304 884.9L303 884.1L302 882.5L301 883.4L300 884.1L299 884.2L298 885L297 884.7L296 883.9L295 884.4L294 884.1L293 884.4L292 885.4L291 885.8L290 885.8L289 885.4L288 885L287 884.2L286 884.2L285 885L284 886.1L283 887L282 887L281 886.6L280 885.9L279 886.7L278 888.1L277 888.2L276 888.6L275 887.7L274 887.4L273 886.6L272 885.8L271 885.4L270 883.8L269 884.6L268 884.8L267 884.9L266 886.7L265 886.2L264 885.5L263 885.7L262 886L261 885.7L260 886.2L259 886L258 885.6L257 886.2L256 885.2L255 884.2L254 884.9L253 885L252 884.8L251 885.4L250 885.9L249 885.3L248 884.6L247 885L246 885.3L245 885.1L244 884.9L243 884.5L242 884.1L241 885.4L240 885.5L239 885.1L238 886.6L237 886.3L236 885.9L235 886.3L234 886L233 885.4L232 885.2L231 884.9L230 885.9L229 886.8L228 886.6L227 886.5L226 885.7L225 886L224 886.8L223 886.6L222 885.4L221 886.1L220 886.7L219 886.7L218 889.4L217 890.8L216 889.6L215 888.5L214 887.5L213 887.4L212 887.2L211 885.9L210 885.3L209 885.9L208 886.6L207 885.9L206 885.9L205 886.5L204 886.6L203 886.3L202 885.6L201 884.8L200 884.6L199 885.8L198 885.8L197 884.7L196 885.5L195 886.1L194 885.4L193 884.6L192 885.4L191 885.2L190 884.8L189 885.3L188 885.6L187 885.9L186 885.4L185 885.4L184 886.4L183 886.8L182 884.9L181 884.6L180 886.6L179 885.9L178 884.7L177 885.1L176 885.6L175 885.4L174 885.8L173 886.9L172 886.2L171 885.6L170 885.8L169 886.5L168 886.4L167 885.6L166 885.7L165 885.7L164 885L163 885.5L162 885.5L161 885.3L160 886.2L159 887.2L158 887.3L157 886.4L156 886.2L155 884.2L154 881.8L153 883L152 883.1L151 882.1L150 882.2L149 881.8L148 881.8L147 882.3L146 881.8L145 880.7L144 879.9L143 880.7L142 881.4L141 881.1L140 881.8L139 882.7L138 882.1L137 881.1L136 880.8L135 880.9L134 880.9L133 880.4L132 880.6L131 880L130 879L129 880.1L128 881L127 880.4L126 880.2L125 880.7L124 881.5L123 882.5L122 881.2L121 880.5L120 880.3L119 880.4L118 881.1L117 881.1L116 882.5L115 882L114 880.2L113 880.1L112 880.4L111 880.6L110 879.5L109 879.5L108 880.1L107 879.3L106 879.1L105 879.9L104 880.1L103 878.7L102 878.5L101 879.2L100 878.7L99 878.6L98 879.3Z" fill="#0000ff" filter="url(#g1)"/>
<path d="M98 868.4L99 868.3L100 868.1L101 868.1L102 868.4L103 867.6L104 868.6L105 869.4L106 868.3L107 865.5L108 865.8L109 867.5L110 867.5L111 867.8L112 867.3L113 867L114 868L115 869.1L116 869L117 867.3L118 866.3L119 867.3L120 866.4L121 867L122 867.7L123 867.9L124 868.5L125 868.3L126 867.8L127 866.1L128 867L129 867.9L130 867.8L131 868.4L132 869.6L133 870.5L134 869.8L135 868.4L136 869L137 869.4L138 868.7L139 869.2L140 870.8L141 871.4L142 869.4L143 870.6L144 871.2L145 870.1L146 870.6L147 871.2L148 872.1L149 872.3L150 872.3L151 871.4L152 871.9L153 870.7L154 868.9L155 869.1L156 869.4L157 869.6L158 868.7L159 869.1L160 870.4L161 870L162 869.1L163 871.1L164 872.5L165 870.8L166 870.7L167 871.4L168 870.9L169 871.2L170 871.7L171 871L172 871.7L173 871.7L174 871.9L175 872.3L176 871.3L177 872L178 872L179 871.6L180 872.8L181 872.3L182 871.1L183 871.9L184 873L185 871.2L186 871L187 873.2L188 872.6L189 872.6L190 872.9L191 871.9L192 872L193 873L194 873L195 872.3L196 872.6L197 873.6L198 872.3L199 872.6L200 874.9L201 873.5L202 872.5L203 873.4L204 873.4L205 874.3L206 874.3L207 872.6L208 872.2L209 872.7L210 872.5L211 871.8L212 871.9L213 873.2L214 873.8L215 871.7L216 871.4L217 870.2L218 870.1L219 872.5L220 873.1L221 873.3L222 873.4L223 872.6L224 872.4L225 872.7L226 871.9L227 872.2L228 872.5L229 872.9L230 875.1L231 876.1L232 876.4L233 874.8L234 872.8L235 873.6L236 873.3L237 873.3L238 873.6L239 873.4L240 873.5L241 874.4L242 875.4L243 874.9L244 873.4L245 873.7L246 874.3L247 872.6L248 873.1L249 874.7L250 873.6L251 873.4L252 874.3L253 873.6L254 874.1L255 874.1L256 873.3L257 874.2L258 873L259 872.9L260 873.6L261 873.7L262 873.8L263 873.9L264 873.5L265 873.7L266 874.9L267 873.6L268 873.2L269 874L270 874.1L271 873.4L272 873.2L273 871.6L274 872.1L275 869.9L276 866.4L277 868.9L278 871L279 872.4L280 872.6L281 871.3L282 871.1L283 871.1L284 870.3L285 871.3L286 871.4L287 871.4L288 872.1L289 871.9L290 871.8L291 871.1L292 872.8L293 872.9L294 871L295 871.7L296 873.4L297 872.5L298 871.4L299 873L300 874.1L301 874.1L302 873.4L303 873.4L304 873.2L305 873.3L306 873.7L307 873.5L308 873.3L309 873.5L310 873.7L311 872.7L312 873.5L313 874.1L314 872.9L315 872.6L316 873.7L317 873.8L318 873L319 872.4L320 871.9L321 872L322 871.6L323 871.3L324 871.5L325 871.3L326 871.9L327 873.1L328 872.1L329 871.8L330 871.9L331 871.8L332 872.4L333 871.1L334 869.2L335 870.5L336 872.4L337 872L338 871.3L339 870.8L340 869.4L341 870.6L342 870.6L343 869.8L344 870.9L345 870.7L346 869.8L347 868.9L348 869.8L349 869.4L350 868.9L351 868.6L352 868.5L353 869.4L354 869.1L355 868.9L356 867.9L357 867L358 867.3L359 868.3L360 867.9L361 866.7L362 867.6L363 867.5L364 867.1L365 866L366 865.9L367 866.3L368 865.8L369 866L370 864.2L371 864.3L372 865L373 864.8L374 864.7L375 863.9L376 862.9L377 861.8L378 863.3L379 863.6L380 863.2L381 863.8L382 863.1L383 863.1L384 863.8L385 864.5L386 864.4L387 863.8L388 865L389 866.4L390 865.7L391 864.6L392 865.8L392 874L391 875.3L390 876.1L389 875L388 876.1L387 876.4L386 875.1L385 875L384 875.8L383 875.3L382 874.6L381 875.3L380 875.6L379 877L378 876L377 877L376 879.1L375 878.2L374 878.1L373 878.5L372 879L371 879.8L370 879.2L369 878.5L368 878.7L367 877.7L366 877.9L365 880L364 880.2L363 879.2L362 879.7L361 879.9L360 879.2L359 879.4L358 879L357 879.4L356 878.6L355 879.4L354 879.8L353 879.4L352 880.5L351 879.2L350 879.4L349 880.3L348 880.8L347 881.1L346 880L345 879.7L344 880.7L343 880L342 880.6L341 881.7L340 881.6L339 882.4L338 882.1L337 882.8L336 883.9L335 882.9L334 881.6L333 881.4L332 881L331 880.7L330 881.1L329 881.3L328 880.9L327 880.8L326 881.6L325 882.8L324 882.9L323 882.7L322 882.1L321 881.6L320 881.9L319 882.2L318 882.6L317 881.3L316 880.2L315 882.4L314 884.5L313 882.9L312 881.6L311 881.9L310 882.8L309 883L308 881.3L307 882L306 884.2L305 883.9L304 882L303 881.6L302 883.7L301 884.1L300 883.7L299 884.5L298 883.4L297 883.6L296 884.6L295 883.8L294 883.5L293 882.5L292 882.4L291 883.2L290 883.8L289 884.8L288 885.3L287 884.6L286 884.7L285 885.8L284 885.1L283 884.1L282 883.2L281 883.8L280 886L279 886.5L278 886.1L277 887.4L276 888L275 886.9L274 885.3L273 884.4L272 883.5L271 882.8L270 883.1L269 883.7L268 884.1L267 884L266 885.4L265 886.3L264 884.9L263 884.4L262 886.1L261 885.7L260 885.3L259 885L258 883.9L257 883.6L256 884.4L255 885.4L254 885.6L253 884.6L252 884L251 884.6L250 884.8L249 884.8L248 883.8L247 883.5L246 883.7L245 884.2L244 885.4L243 885L242 884.6L241 884.1L240 883.1L239 883.8L238 884L237 883.9L236 884.1L235 883.9L234 884.3L233 883.6L232 882.9L231 884.5L230 885L229 884.6L228 884.5L227 885.2L226 886.5L225 886.3L224 885.9L223 885.4L222 885.5L221 887.1L220 888.6L219 888.4L218 888.5L217 889.5L216 889.4L215 888.5L214 886.4L213 884.9L212 884.5L211 885.4L210 886.1L209 885.5L208 885.9L207 887.3L206 885.9L205 883L204 883.1L203 884.2L202 884.4L201 885.1L200 886L199 885L198 883.5L197 884.6L196 886L195 885.1L194 883.2L193 882.7L192 883L191 883.1L190 884L189 884.2L188 884.7L187 884.5L186 883.8L185 884.5L184 885.1L183 884.3L182 884L181 884.9L180 884.3L179 884.5L178 884.2L177 884.1L176 885.7L175 886.1L174 884.7L173 883.7L172 884.5L171 884.3L170 883.7L169 883.8L168 886.7L167 886.6L166 884L165 885.7L164 885.6L163 885L162 885.6L161 886.3L160 888L159 887.7L158 885.6L157 884.3L156 883.6L155 883.5L154 882.9L153 882.2L152 881.3L151 881.5L150 881.2L149 880.3L148 880.9L147 880.7L146 881.2L145 880.9L144 879.6L143 880.1L142 881.4L141 881.9L140 881.9L139 880.5L138 880.7L137 879.8L136 878.7L135 880.2L134 879.5L133 879.2L132 880.5L131 880.6L130 879.8L129 879.3L128 879.2L127 878.8L126 880L125 880.8L124 879.5L123 879.3L122 879.2L121 879.1L120 879.7L119 880.7L118 881.1L117 881L116 880.7L115 880.3L114 879.3L113 878.9L112 879.2L111 879.9L110 879.7L109 878.1L108 877.9L107 878.9L106 878.5L105 878.5L104 879.5L103 879.3L102 877.9L101 877.6L100 877.8L99 877.4L98 877.3Z" fill="#0000ff" />
<path d="M389.1 876l1.3 -1.3l1.3 1.3l-1.3 1.3zM389.2 878.5l1.3 -1.3l1.3 1.3l-1.3 1.3zM389.1 885.6l1.3 -1.3l1.3 1.3l-1.3 1.3zM389.2 887.8l1.3 -1.3l1.3 1.3l-1.3 1.3zM389.1 890.1l1.3 -1.3l1.3 1.3l-1.3 1.3zM389.3 892l1.3 -1.3l1.3 1.3l-1.3 1.3zM389.1 893.6l1.3 -1.3l1.3 1.3l-1.3 1.3zM389.1 896.9l1.3 -1.3l1.3 1.3l-1.3 1.3zM389.1 899l1.3 -1.3l1.3 1.3l-1.3 1.3z" fill="#0000ff" fill-opacity="0.15" stroke="#0000ff" stroke-width="0.75" opacity="0.44999999999999996"/><path d="M389 881l1.4 -1.4l1.4 1.4l-1.4 1.4zM389.1 883.3l1.4 -1.4l1.4 1.4l-1.4 1.4zM388.9 895.5l1.4 -1.4l1.4 1.4l-1.4 1.4z" fill="#0000ff" opacity="0.38"/>
</g>
<g clip-path="url(#c01)">
<path d="M486.3 129.5L487.3 128.1L488.3 127.5L489.3 127.7L490.3 127.9L491.3 128.4L492.3 128.3L493.3 128.5L494.3 128.5L495.3 128.3L496.3 127.6L497.3 127.3L498.3 127.1L499.3 127.8L500.3 128.2L501.3 127.9L502.3 127.4L503.3 126.9L504.3 127.4L505.3 127.8L506.3 128.3L507.3 128.1L508.3 128L509.3 128.5L510.3 128.3L511.3 128.8L512.3 128.3L513.3 128.8L514.3 128.3L515.3 128L516.3 127.9L517.3 127.8L518.3 127.9L519.3 127.6L520.3 127.9L521.3 128.1L522.3 128.1L523.3 128.3L524.3 128.4L525.3 128L526.3 127.7L527.3 127.9L528.3 128.3L529.3 128.7L530.3 127.7L531.3 127.7L532.3 126.6L533.3 127.4L534.3 127.2L535.3 127.9L536.3 128L537.3 128L538.3 127.9L539.3 127.6L540.3 128L541.3 128.5L542.3 128.2L543.3 127.6L544.3 127.1L545.3 126.9L546.3 126.8L547.3 127L548.3 127.3L549.3 128.4L550.3 128L551.3 128.8L552.3 128.7L553.3 128.9L554.3 128.4L555.3 127.1L556.3 127.2L557.3 127L558.3 127.5L559.3 127.8L560.3 127L561.3 127.5L562.3 127.2L563.3 128.1L564.3 127.6L565.3 127.9L566.3 127.7L567.3 128.2L568.3 128.3L569.3 128.1L570.3 127.1L571.3 126.8L572.3 127L573.3 127.7L574.3 127.4L575.3 127L576.3 127.2L577.3 127.7L578.3 128L579.3 128.5L580.3 128.3L581.3 128.7L582.3 128.3L583.3 128.3L584.3 128.3L585.3 128.5L586.3 128.7L587.3 128.7L588.3 128.4L589.3 128.3L590.3 128.1L591.3 128.4L592.3 128.5L593.3 128.5L594.3 128.6L595.3 128.5L596.3 128.2L597.3 128.4L598.3 128.5L599.3 128L600.3 127.9L601.3 127.2L602.3 127.5L603.3 127.4L604.3 127.4L605.3 127.8L606.3 127.5L607.3 127.5L608.3 128.1L609.3 128.2L610.3 128.2L611.3 127.5L612.3 128.3L613.3 128L614.3 128.4L615.3 127.5L616.3 127.9L617.3 127.5L618.3 128L619.3 127.8L620.3 128.5L621.3 128.2L622.3 128.1L623.3 127.7L624.3 128.1L625.3 128.8L626.3 129L627.3 128.6L628.3 128.7L629.3 128.6L630.3 128.2L631.3 127.6L632.3 127.1L633.3 127.3L634.3 127.6L635.3 127.8L636.3 127.9L637.3 128.2L638.3 128.7L639.3 129.2L640.3 128L641.3 127.5L642.3 126.7L643.3 127.4L644.3 127.2L645.3 127L646.3 127.4L647.3 128.1L648.3 128.1L649.3 128.2L650.3 127.2L651.3 127.9L652.3 128.2L653.3 129.3L654.3 128.9L655.3 128L656.3 127.6L657.3 128.1L658.3 128.3L659.3 128.4L660.3 128.1L661.3 127.6L662.3 126.9L663.3 126.6L664.3 126.9L665.3 127.8L666.3 128.1L667.3 129.4L668.3 129.2L669.3 129L670.3 128.3L671.3 128.4L672.3 129L673.3 129.1L674.3 129.2L675.3 128.8L676.3 127.7L677.3 128L678.3 127.9L679.3 128.7L680.3 128.7L681.3 128.8L682.3 128.4L683.3 127.9L684.3 127.5L685.3 128L686.3 128L687.3 128.2L688.3 127.7L689.3 127.6L690.3 127.2L691.3 127.4L692.3 127.2L693.3 127.8L694.3 127.8L695.3 128.4L696.3 128.7L697.3 128.9L698.3 128.8L699.3 128.7L700.3 128.3L701.3 128.1L702.3 127.8L703.3 127.5L704.3 127.2L705.3 127.8L706.3 128.3L707.3 128.7L708.3 128.4L709.3 128.4L710.3 128.3L711.3 128.1L712.3 128.4L713.3 129L714.3 128.8L715.3 128.4L716.3 127.9L717.3 127.6L718.3 127.6L719.3 127.8L720.3 128.5L721.3 129.3L722.3 129L722.3 136L721.3 136.2L720.3 136.3L719.3 136.2L718.3 135.9L717.3 135.5L716.3 135.4L715.3 137.2L714.3 136.9L713.3 136.2L712.3 135.6L711.3 135.6L710.3 137.2L709.3 137.5L708.3 136.8L707.3 136.4L706.3 136.2L705.3 136.8L704.3 137.1L703.3 137.3L702.3 137L701.3 137.3L700.3 139.2L699.3 137.3L698.3 135.9L697.3 137L696.3 137.3L695.3 137L694.3 136.8L693.3 137L692.3 137L691.3 136.6L690.3 135.7L689.3 136L688.3 136.5L687.3 136.7L686.3 137.2L685.3 136.9L684.3 137.1L683.3 137L682.3 136.4L681.3 136L680.3 136.6L679.3 137.1L678.3 136.1L677.3 136.2L676.3 137.2L675.3 137.4L674.3 137.6L673.3 137L672.3 136.1L671.3 136.3L670.3 135.9L669.3 135.9L668.3 136.5L667.3 137.3L666.3 137.4L665.3 136.9L664.3 136.8L663.3 136.9L662.3 137.2L661.3 136L660.3 135.4L659.3 135.8L658.3 136.2L657.3 136L656.3 135.6L655.3 136L654.3 136.8L653.3 137.6L652.3 137.5L651.3 136L650.3 135.9L649.3 136.7L648.3 136.5L647.3 136L646.3 136.7L645.3 137.5L644.3 137.1L643.3 136.5L642.3 136.2L641.3 137.2L640.3 137.4L639.3 136.6L638.3 136.3L637.3 136L636.3 136.5L635.3 137.3L634.3 136.6L633.3 136.1L632.3 136.3L631.3 135.9L630.3 136.1L629.3 136.6L628.3 136.8L627.3 137L626.3 136.5L625.3 136.2L624.3 136L623.3 135.5L622.3 135.9L621.3 136.3L620.3 137L619.3 137.3L618.3 137.2L617.3 136.8L616.3 136.5L615.3 136.9L614.3 136.6L613.3 135.4L612.3 136L611.3 137.7L610.3 137.3L609.3 137L608.3 136.9L607.3 136L606.3 135.5L605.3 136.6L604.3 138.1L603.3 138L602.3 137.6L601.3 137.9L600.3 137.6L599.3 136.3L598.3 136.4L597.3 137L596.3 136.1L595.3 136L594.3 136.7L593.3 136.7L592.3 135.9L591.3 136.6L590.3 137.4L589.3 137.3L588.3 136.4L587.3 136.2L586.3 136.3L585.3 135.1L584.3 135L583.3 135.8L582.3 136.3L581.3 137.5L580.3 137.3L579.3 136.5L578.3 136.1L577.3 135.8L576.3 136.9L575.3 137.1L574.3 136.2L573.3 136.4L572.3 136.5L571.3 136.5L570.3 137.2L569.3 136.7L568.3 136L567.3 136.4L566.3 136.5L565.3 136.3L564.3 135.5L563.3 135.2L562.3 137L561.3 138.2L560.3 137.7L559.3 137.3L558.3 136.7L557.3 136.1L556.3 135.9L555.3 136.3L554.3 135.7L553.3 136.1L552.3 137.5L551.3 136.7L550.3 135.7L549.3 136.2L548.3 137.4L547.3 136.9L546.3 136.5L545.3 136.1L544.3 135.7L543.3 136.9L542.3 137.8L541.3 137.3L540.3 137.4L539.3 138L538.3 137.2L537.3 136L536.3 136.2L535.3 136.9L534.3 136.9L533.3 137.3L532.3 137.1L531.3 137.8L530.3 137.7L529.3 136.4L528.3 136.8L527.3 136.3L526.3 135.6L525.3 135.5L524.3 136.2L523.3 136.8L522.3 137.1L521.3 138.3L520.3 138.5L519.3 137.2L518.3 136.3L517.3 136.5L516.3 136.6L515.3 135.9L514.3 136.2L513.3 136.1L512.3 136.7L511.3 136.5L510.3 135.8L509.3 136.1L508.3 136.2L507.3 136.6L506.3 135.6L505.3 135.3L504.3 136.7L503.3 136.5L502.3 135.7L501.3 136.2L500.3 137.7L499.3 137.9L498.3 136.4L497.3 136.1L496.3 136.4L495.3 135.8L494.3 135.6L493.3 136.8L492.3 137.7L491.3 137.5L490.3 136.1L489.3 135.6L488.3 135.6L487.3 136L486.3 136.4Z" fill="#ffa500" stroke="#ffa500" stroke-width="1" stroke-opacity="0.4"/>
<path d="M607 129L607.8 112L608.4 96L609.2 70L609.5 63L611.3 63L611.8 70L612.1 96L612.2 129Z" fill="#ffa500" stroke="#ffa500" stroke-width="0.6" stroke-opacity="0.4"/>
<path d="M609.4 64L609.9 53L611 53L611.4 64Z" fill="#ffa500" opacity="0.6"/>
<path d="M609.2 42.5l1.4 -1.4l1.4 1.4l-1.4 1.4zM608.9 44l1.4 -1.4l1.4 1.4l-1.4 1.4zM609.5 45.5l1.4 -1.4l1.4 1.4l-1.4 1.4zM609 47l1.4 -1.4l1.4 1.4l-1.4 1.4zM609.2 48.5l1.4 -1.4l1.4 1.4l-1.4 1.4zM609 50l1.4 -1.4l1.4 1.4l-1.4 1.4zM609.3 51.5l1.4 -1.4l1.4 1.4l-1.4 1.4zM608.6 53l1.4 -1.4l1.4 1.4l-1.4 1.4zM608.6 54.5l1.4 -1.4l1.4 1.4l-1.4 1.4zM609.1 56l1.4 -1.4l1.4 1.4l-1.4 1.4z" fill="#ffa500" fill-opacity="0.5" stroke="#ffa500" stroke-width="0.6" opacity="0.38"/>
<path d="M609.1 50l1.3 -1.3l1.3 1.3l-1.3 1.3zM609.1 51.6l1.3 -1.3l1.3 1.3l-1.3 1.3zM609.1 53.2l1.3 -1.3l1.3 1.3l-1.3 1.3zM609.1 54.8l1.3 -1.3l1.3 1.3l-1.3 1.3zM609.1 56.4l1.3 -1.3l1.3 1.3l-1.3 1.3zM609.1 58l1.3 -1.3l1.3 1.3l-1.3 1.3zM609.1 59.6l1.3 -1.3l1.3 1.3l-1.3 1.3zM609.1 61.2l1.3 -1.3l1.3 1.3l-1.3 1.3zM609.1 62.8l1.3 -1.3l1.3 1.3l-1.3 1.3z" fill="#ffa500" opacity="0.35"/>
<rect x="722.7" y="136.9" width="65.1" height="2.1" fill="#ffa500" />
</g>
<g clip-path="url(#c11)">
<rect x="486.7" y="221.1" width="296.8" height="2.9" fill="#ffa500" /><path d="M486.8 221.4L485.7 222.5L486.8 223.6M783.4 221.4L784.5 222.5L783.4 223.6" fill="#ffa500" opacity="0.8"/>
<rect x="486.7" y="227.1" width="296.8" height="2.9" fill="#ffa500" /><path d="M486.8 227.4L485.7 228.5L486.8 229.6M783.4 227.4L784.5 228.5L783.4 229.6" fill="#ffa500" opacity="0.8"/>
<rect x="486.7" y="233.1" width="296.8" height="2.9" fill="#ffa500" /><path d="M486.8 233.4L485.7 234.5L486.8 235.6M783.4 233.4L784.5 234.5L783.4 235.6" fill="#ffa500" opacity="0.8"/>
<rect x="486.7" y="239.1" width="296.8" height="2.9" fill="#ffa500" /><path d="M486.8 239.4L485.7 240.5L486.8 241.6M783.4 239.4L784.5 240.5L783.4 241.6" fill="#ffa500" opacity="0.8"/>
<rect x="486.7" y="245.1" width="296.8" height="2.9" fill="#ffa500" /><path d="M486.8 245.4L485.7 246.5L486.8 247.6M783.4 245.4L784.5 246.5L783.4 247.6" fill="#ffa500" opacity="0.8"/>
<rect x="486.7" y="251.1" width="296.8" height="2.9" fill="#ffa500" /><path d="M486.8 251.4L485.7 252.5L486.8 253.6M783.4 251.4L784.5 252.5L783.4 253.6" fill="#ffa500" opacity="0.8"/>
<rect x="486.7" y="257.1" width="296.8" height="2.9" fill="#ffa500" /><path d="M486.8 257.4L485.7 258.5L486.8 259.6M783.4 257.4L784.5 258.5L783.4 259.6" fill="#ffa500" opacity="0.8"/>
<rect x="486.7" y="263.1" width="296.8" height="2.9" fill="#ffa500" /><path d="M486.8 263.4L485.7 264.5L486.8 265.6M783.4 263.4L784.5 264.5L783.4 265.6" fill="#ffa500" opacity="0.8"/>
<rect x="486.7" y="269.1" width="296.8" height="2.9" fill="#ffa500" /><path d="M486.8 269.4L485.7 270.5L486.8 271.6M783.4 269.4L784.5 270.5L783.4 271.6" fill="#ffa500" opacity="0.8"/>
<rect x="490.8" y="215.4" width="292.1" height="2" fill="#ffa500" opacity="0.75"/>
<path d="M493 216.4l1.6 -1.6l1.6 1.6l-1.6 1.6zM495 216.4l1.6 -1.6l1.6 1.6l-1.6 1.6zM496.5 216.4l1.6 -1.6l1.6 1.6l-1.6 1.6zM498.1 216.4l1.6 -1.6l1.6 1.6l-1.6 1.6zM499.7 216.4l1.6 -1.6l1.6 1.6l-1.6 1.6zM501.8 216.4l1.6 -1.6l1.6 1.6l-1.6 1.6zM503.3 216.4l1.6 -1.6l1.6 1.6l-1.6 1.6zM504.8 216.4l1.6 -1.6l1.6 1.6l-1.6 1.6zM506.9 216.4l1.6 -1.6l1.6 1.6l-1.6 1.6zM508.3 216.4l1.6 -1.6l1.6 1.6l-1.6 1.6zM510.3 216.4l1.6 -1.6l1.6 1.6l-1.6 1.6zM511.7 216.4l1.6 -1.6l1.6 1.6l-1.6 1.6zM513.4 216.4l1.6 -1.6l1.6 1.6l-1.6 1.6zM522.2 216.4l1.6 -1.6l1.6 1.6l-1.6 1.6zM523.9 216.4l1.6 -1.6l1.6 1.6l-1.6 1.6zM525.7 216.4l1.6 -1.6l1.6 1.6l-1.6 1.6zM527.2 216.4l1.6 -1.6l1.6 1.6l-1.6 1.6zM528.8 216.4l1.6 -1.6l1.6 1.6l-1.6 1.6zM530.8 216.4l1.6 -1.6l1.6 1.6l-1.6 1.6zM532.1 216.4l1.6 -1.6l1.6 1.6l-1.6 1.6zM533.8 216.4l1.6 -1.6l1.6 1.6l-1.6 1.6zM537.2 216.4l1.6 -1.6l1.6 1.6l-1.6 1.6zM539.1 216.4l1.6 -1.6l1.6 1.6l-1.6 1.6zM540.7 216.4l1.6 -1.6l1.6 1.6l-1.6 1.6zM542.4 216.4l1.6 -1.6l1.6 1.6l-1.6 1.6zM544.3 216.4l1.6 -1.6l1.6 1.6l-1.6 1.6zM545.8 216.4l1.6 -1.6l1.6 1.6l-1.6 1.6zM547.4 216.4l1.6 -1.6l1.6 1.6l-1.6 1.6zM549.4 216.4l1.6 -1.6l1.6 1.6l-1.6 1.6zM551.3 216.4l1.6 -1.6l1.6 1.6l-1.6 1.6zM552.7 216.4l1.6 -1.6l1.6 1.6l-1.6 1.6zM554.5 216.4l1.6 -1.6l1.6 1.6l-1.6 1.6zM555.9 216.4l1.6 -1.6l1.6 1.6l-1.6 1.6zM557.6 216.4l1.6 -1.6l1.6 1.6l-1.6 1.6zM559.8 216.4l1.6 -1.6l1.6 1.6l-1.6 1.6zM561 216.4l1.6 -1.6l1.6 1.6l-1.6 1.6zM562.9 216.4l1.6 -1.6l1.6 1.6l-1.6 1.6zM564.6 216.4l1.6 -1.6l1.6 1.6l-1.6 1.6zM566.5 216.4l1.6 -1.6l1.6 1.6l-1.6 1.6zM568.3 216.4l1.6 -1.6l1.6 1.6l-1.6 1.6zM569.7 216.4l1.6 -1.6l1.6 1.6l-1.6 1.6zM571.6 216.4l1.6 -1.6l1.6 1.6l-1.6 1.6zM573.2 216.4l1.6 -1.6l1.6 1.6l-1.6 1.6zM575 216.4l1.6 -1.6l1.6 1.6l-1.6 1.6zM576.7 216.4l1.6 -1.6l1.6 1.6l-1.6 1.6zM578 216.4l1.6 -1.6l1.6 1.6l-1.6 1.6zM580 216.4l1.6 -1.6l1.6 1.6l-1.6 1.6zM581.5 216.4l1.6 -1.6l1.6 1.6l-1.6 1.6zM583.5 216.4l1.6 -1.6l1.6 1.6l-1.6 1.6zM584.9 216.4l1.6 -1.6l1.6 1.6l-1.6 1.6zM586.6 216.4l1.6 -1.6l1.6 1.6l-1.6 1.6zM588.5 216.4l1.6 -1.6l1.6 1.6l-1.6 1.6zM590.3 216.4l1.6 -1.6l1.6 1.6l-1.6 1.6zM592 216.4l1.6 -1.6l1.6 1.6l-1.6 1.6zM593.7 216.4l1.6 -1.6l1.6 1.6l-1.6 1.6zM595 216.4l1.6 -1.6l1.6 1.6l-1.6 1.6zM596.6 216.4l1.6 -1.6l1.6 1.6l-1.6 1.6zM598.3 216.4l1.6 -1.6l1.6 1.6l-1.6 1.6zM600.4 216.4l1.6 -1.6l1.6 1.6l-1.6 1.6zM602.1 216.4l1.6 -1.6l1.6 1.6l-1.6 1.6zM604 216.4l1.6 -1.6l1.6 1.6l-1.6 1.6zM605.4 216.4l1.6 -1.6l1.6 1.6l-1.6 1.6zM608.9 216.4l1.6 -1.6l1.6 1.6l-1.6 1.6zM610.2 216.4l1.6 -1.6l1.6 1.6l-1.6 1.6zM612.4 216.4l1.6 -1.6l1.6 1.6l-1.6 1.6zM614.2 216.4l1.6 -1.6l1.6 1.6l-1.6 1.6zM615.4 216.4l1.6 -1.6l1.6 1.6l-1.6 1.6zM617.2 216.4l1.6 -1.6l1.6 1.6l-1.6 1.6zM619.1 216.4l1.6 -1.6l1.6 1.6l-1.6 1.6zM620.6 216.4l1.6 -1.6l1.6 1.6l-1.6 1.6zM622.5 216.4l1.6 -1.6l1.6 1.6l-1.6 1.6zM623.9 216.4l1.6 -1.6l1.6 1.6l-1.6 1.6zM625.8 216.4l1.6 -1.6l1.6 1.6l-1.6 1.6zM627.6 216.4l1.6 -1.6l1.6 1.6l-1.6 1.6zM629 216.4l1.6 -1.6l1.6 1.6l-1.6 1.6zM630.6 216.4l1.6 -1.6l1.6 1.6l-1.6 1.6zM632.8 216.4l1.6 -1.6l1.6 1.6l-1.6 1.6zM634.2 216.4l1.6 -1.6l1.6 1.6l-1.6 1.6zM635.9 216.4l1.6 -1.6l1.6 1.6l-1.6 1.6zM637.5 216.4l1.6 -1.6l1.6 1.6l-1.6 1.6zM639.3 216.4l1.6 -1.6l1.6 1.6l-1.6 1.6zM640.8 216.4l1.6 -1.6l1.6 1.6l-1.6 1.6zM642.6 216.4l1.6 -1.6l1.6 1.6l-1.6 1.6zM644.3 216.4l1.6 -1.6l1.6 1.6l-1.6 1.6zM646 216.4l1.6 -1.6l1.6 1.6l-1.6 1.6zM647.8 216.4l1.6 -1.6l1.6 1.6l-1.6 1.6zM649.6 216.4l1.6 -1.6l1.6 1.6l-1.6 1.6zM651.5 216.4l1.6 -1.6l1.6 1.6l-1.6 1.6zM652.8 216.4l1.6 -1.6l1.6 1.6l-1.6 1.6zM654.5 216.4l1.6 -1.6l1.6 1.6l-1.6 1.6zM656.1 216.4l1.6 -1.6l1.6 1.6l-1.6 1.6zM658.4 216.4l1.6 -1.6l1.6 1.6l-1.6 1.6zM659.6 216.4l1.6 -1.6l1.6 1.6l-1.6 1.6zM661.5 216.4l1.6 -1.6l1.6 1.6l-1.6 1.6zM663 216.4l1.6 -1.6l1.6 1.6l-1.6 1.6zM664.9 216.4l1.6 -1.6l1.6 1.6l-1.6 1.6zM666.4 216.4l1.6 -1.6l1.6 1.6l-1.6 1.6zM668.4 216.4l1.6 -1.6l1.6 1.6l-1.6 1.6zM670 216.4l1.6 -1.6l1.6 1.6l-1.6 1.6zM671.6 216.4l1.6 -1.6l1.6 1.6l-1.6 1.6zM673.3 216.4l1.6 -1.6l1.6 1.6l-1.6 1.6zM675.3 216.4l1.6 -1.6l1.6 1.6l-1.6 1.6zM677.1 216.4l1.6 -1.6l1.6 1.6l-1.6 1.6zM678.4 216.4l1.6 -1.6l1.6 1.6l-1.6 1.6zM680 216.4l1.6 -1.6l1.6 1.6l-1.6 1.6zM681.9 216.4l1.6 -1.6l1.6 1.6l-1.6 1.6zM683.3 216.4l1.6 -1.6l1.6 1.6l-1.6 1.6zM685.4 216.4l1.6 -1.6l1.6 1.6l-1.6 1.6zM687 216.4l1.6 -1.6l1.6 1.6l-1.6 1.6zM688.8 216.4l1.6 -1.6l1.6 1.6l-1.6 1.6zM690.6 216.4l1.6 -1.6l1.6 1.6l-1.6 1.6zM696.9 216.4l1.6 -1.6l1.6 1.6l-1.6 1.6zM699.1 216.4l1.6 -1.6l1.6 1.6l-1.6 1.6zM700.7 216.4l1.6 -1.6l1.6 1.6l-1.6 1.6zM702.4 216.4l1.6 -1.6l1.6 1.6l-1.6 1.6zM704.2 216.4l1.6 -1.6l1.6 1.6l-1.6 1.6zM705.6 216.4l1.6 -1.6l1.6 1.6l-1.6 1.6zM707.4 216.4l1.6 -1.6l1.6 1.6l-1.6 1.6zM708.9 216.4l1.6 -1.6l1.6 1.6l-1.6 1.6zM710.7 216.4l1.6 -1.6l1.6 1.6l-1.6 1.6zM712.7 216.4l1.6 -1.6l1.6 1.6l-1.6 1.6zM714 216.4l1.6 -1.6l1.6 1.6l-1.6 1.6zM715.9 216.4l1.6 -1.6l1.6 1.6l-1.6 1.6zM717.6 216.4l1.6 -1.6l1.6 1.6l-1.6 1.6zM719.4 216.4l1.6 -1.6l1.6 1.6l-1.6 1.6zM720.9 216.4l1.6 -1.6l1.6 1.6l-1.6 1.6zM722.9 216.4l1.6 -1.6l1.6 1.6l-1.6 1.6zM724.4 216.4l1.6 -1.6l1.6 1.6l-1.6 1.6zM726.2 216.4l1.6 -1.6l1.6 1.6l-1.6 1.6zM727.7 216.4l1.6 -1.6l1.6 1.6l-1.6 1.6zM729.5 216.4l1.6 -1.6l1.6 1.6l-1.6 1.6zM731.1 216.4l1.6 -1.6l1.6 1.6l-1.6 1.6zM733.2 216.4l1.6 -1.6l1.6 1.6l-1.6 1.6zM734.7 216.4l1.6 -1.6l1.6 1.6l-1.6 1.6zM736.3 216.4l1.6 -1.6l1.6 1.6l-1.6 1.6zM738.2 216.4l1.6 -1.6l1.6 1.6l-1.6 1.6zM741.6 216.4l1.6 -1.6l1.6 1.6l-1.6 1.6zM742.9 216.4l1.6 -1.6l1.6 1.6l-1.6 1.6zM745 216.4l1.6 -1.6l1.6 1.6l-1.6 1.6zM746.4 216.4l1.6 -1.6l1.6 1.6l-1.6 1.6zM748.3 216.4l1.6 -1.6l1.6 1.6l-1.6 1.6zM749.6 216.4l1.6 -1.6l1.6 1.6l-1.6 1.6zM751.4 216.4l1.6 -1.6l1.6 1.6l-1.6 1.6zM753.3 216.4l1.6 -1.6l1.6 1.6l-1.6 1.6zM755.3 216.4l1.6 -1.6l1.6 1.6l-1.6 1.6zM756.8 216.4l1.6 -1.6l1.6 1.6l-1.6 1.6zM758.2 216.4l1.6 -1.6l1.6 1.6l-1.6 1.6zM760.1 216.4l1.6 -1.6l1.6 1.6l-1.6 1.6zM761.5 216.4l1.6 -1.6l1.6 1.6l-1.6 1.6zM763.5 216.4l1.6 -1.6l1.6 1.6l-1.6 1.6zM765.2 216.4l1.6 -1.6l1.6 1.6l-1.6 1.6zM766.6 216.4l1.6 -1.6l1.6 1.6l-1.6 1.6zM768.3 216.4l1.6 -1.6l1.6 1.6l-1.6 1.6zM770.1 216.4l1.6 -1.6l1.6 1.6l-1.6 1.6zM771.9 216.4l1.6 -1.6l1.6 1.6l-1.6 1.6zM773.4 216.4l1.6 -1.6l1.6 1.6l-1.6 1.6zM775.6 216.4l1.6 -1.6l1.6 1.6l-1.6 1.6zM777.1 216.4l1.6 -1.6l1.6 1.6l-1.6 1.6zM778.8 216.4l1.6 -1.6l1.6 1.6l-1.6 1.6zM780.4 216.4l1.6 -1.6l1.6 1.6l-1.6 1.6z" fill="#ffa500" opacity="0.95"/>
<rect x="487.3" y="275.5" width="294.6" height="2" fill="#ffa500" opacity="0.75"/>
<path d="M486.1 276.5l1.6 -1.6l1.6 1.6l-1.6 1.6zM488.1 276.5l1.6 -1.6l1.6 1.6l-1.6 1.6zM489.8 276.5l1.6 -1.6l1.6 1.6l-1.6 1.6zM491.1 276.5l1.6 -1.6l1.6 1.6l-1.6 1.6zM492.8 276.5l1.6 -1.6l1.6 1.6l-1.6 1.6zM495.1 276.5l1.6 -1.6l1.6 1.6l-1.6 1.6zM496.6 276.5l1.6 -1.6l1.6 1.6l-1.6 1.6zM498 276.5l1.6 -1.6l1.6 1.6l-1.6 1.6zM499.8 276.5l1.6 -1.6l1.6 1.6l-1.6 1.6zM501.6 276.5l1.6 -1.6l1.6 1.6l-1.6 1.6zM504.8 276.5l1.6 -1.6l1.6 1.6l-1.6 1.6zM506.9 276.5l1.6 -1.6l1.6 1.6l-1.6 1.6zM508.7 276.5l1.6 -1.6l1.6 1.6l-1.6 1.6zM510.3 276.5l1.6 -1.6l1.6 1.6l-1.6 1.6zM511.7 276.5l1.6 -1.6l1.6 1.6l-1.6 1.6zM513.3 276.5l1.6 -1.6l1.6 1.6l-1.6 1.6zM515 276.5l1.6 -1.6l1.6 1.6l-1.6 1.6zM516.6 276.5l1.6 -1.6l1.6 1.6l-1.6 1.6zM518.4 276.5l1.6 -1.6l1.6 1.6l-1.6 1.6zM520.2 276.5l1.6 -1.6l1.6 1.6l-1.6 1.6zM521.8 276.5l1.6 -1.6l1.6 1.6l-1.6 1.6zM523.6 276.5l1.6 -1.6l1.6 1.6l-1.6 1.6zM525.1 276.5l1.6 -1.6l1.6 1.6l-1.6 1.6zM527.3 276.5l1.6 -1.6l1.6 1.6l-1.6 1.6zM529 276.5l1.6 -1.6l1.6 1.6l-1.6 1.6zM530.7 276.5l1.6 -1.6l1.6 1.6l-1.6 1.6zM532.3 276.5l1.6 -1.6l1.6 1.6l-1.6 1.6zM534.1 276.5l1.6 -1.6l1.6 1.6l-1.6 1.6zM535.7 276.5l1.6 -1.6l1.6 1.6l-1.6 1.6zM537.1 276.5l1.6 -1.6l1.6 1.6l-1.6 1.6zM539.2 276.5l1.6 -1.6l1.6 1.6l-1.6 1.6zM541 276.5l1.6 -1.6l1.6 1.6l-1.6 1.6zM542.5 276.5l1.6 -1.6l1.6 1.6l-1.6 1.6zM544.4 276.5l1.6 -1.6l1.6 1.6l-1.6 1.6zM547.5 276.5l1.6 -1.6l1.6 1.6l-1.6 1.6zM554.5 276.5l1.6 -1.6l1.6 1.6l-1.6 1.6zM556.1 276.5l1.6 -1.6l1.6 1.6l-1.6 1.6zM558 276.5l1.6 -1.6l1.6 1.6l-1.6 1.6zM559.4 276.5l1.6 -1.6l1.6 1.6l-1.6 1.6zM562.8 276.5l1.6 -1.6l1.6 1.6l-1.6 1.6zM564.4 276.5l1.6 -1.6l1.6 1.6l-1.6 1.6zM566.1 276.5l1.6 -1.6l1.6 1.6l-1.6 1.6zM567.7 276.5l1.6 -1.6l1.6 1.6l-1.6 1.6zM569.3 276.5l1.6 -1.6l1.6 1.6l-1.6 1.6zM571.1 276.5l1.6 -1.6l1.6 1.6l-1.6 1.6zM574.5 276.5l1.6 -1.6l1.6 1.6l-1.6 1.6zM576.6 276.5l1.6 -1.6l1.6 1.6l-1.6 1.6zM578.2 276.5l1.6 -1.6l1.6 1.6l-1.6 1.6zM579.9 276.5l1.6 -1.6l1.6 1.6l-1.6 1.6zM581.6 276.5l1.6 -1.6l1.6 1.6l-1.6 1.6zM583.3 276.5l1.6 -1.6l1.6 1.6l-1.6 1.6zM584.9 276.5l1.6 -1.6l1.6 1.6l-1.6 1.6zM586.5 276.5l1.6 -1.6l1.6 1.6l-1.6 1.6zM588.3 276.5l1.6 -1.6l1.6 1.6l-1.6 1.6zM590.3 276.5l1.6 -1.6l1.6 1.6l-1.6 1.6zM592 276.5l1.6 -1.6l1.6 1.6l-1.6 1.6zM595.3 276.5l1.6 -1.6l1.6 1.6l-1.6 1.6zM597 276.5l1.6 -1.6l1.6 1.6l-1.6 1.6zM598.8 276.5l1.6 -1.6l1.6 1.6l-1.6 1.6zM600.1 276.5l1.6 -1.6l1.6 1.6l-1.6 1.6zM602 276.5l1.6 -1.6l1.6 1.6l-1.6 1.6zM603.6 276.5l1.6 -1.6l1.6 1.6l-1.6 1.6zM605.5 276.5l1.6 -1.6l1.6 1.6l-1.6 1.6zM607.1 276.5l1.6 -1.6l1.6 1.6l-1.6 1.6zM609 276.5l1.6 -1.6l1.6 1.6l-1.6 1.6zM610.4 276.5l1.6 -1.6l1.6 1.6l-1.6 1.6zM612.4 276.5l1.6 -1.6l1.6 1.6l-1.6 1.6zM613.6 276.5l1.6 -1.6l1.6 1.6l-1.6 1.6zM615.7 276.5l1.6 -1.6l1.6 1.6l-1.6 1.6zM617.3 276.5l1.6 -1.6l1.6 1.6l-1.6 1.6zM619.2 276.5l1.6 -1.6l1.6 1.6l-1.6 1.6zM620.3 276.5l1.6 -1.6l1.6 1.6l-1.6 1.6zM622 276.5l1.6 -1.6l1.6 1.6l-1.6 1.6zM623.8 276.5l1.6 -1.6l1.6 1.6l-1.6 1.6zM625.8 276.5l1.6 -1.6l1.6 1.6l-1.6 1.6zM627.5 276.5l1.6 -1.6l1.6 1.6l-1.6 1.6zM629.2 276.5l1.6 -1.6l1.6 1.6l-1.6 1.6zM631.1 276.5l1.6 -1.6l1.6 1.6l-1.6 1.6zM632.7 276.5l1.6 -1.6l1.6 1.6l-1.6 1.6zM634.2 276.5l1.6 -1.6l1.6 1.6l-1.6 1.6zM636 276.5l1.6 -1.6l1.6 1.6l-1.6 1.6zM637.9 276.5l1.6 -1.6l1.6 1.6l-1.6 1.6zM639.5 276.5l1.6 -1.6l1.6 1.6l-1.6 1.6zM641.2 276.5l1.6 -1.6l1.6 1.6l-1.6 1.6zM642.9 276.5l1.6 -1.6l1.6 1.6l-1.6 1.6zM644.2 276.5l1.6 -1.6l1.6 1.6l-1.6 1.6zM646.3 276.5l1.6 -1.6l1.6 1.6l-1.6 1.6zM647.7 276.5l1.6 -1.6l1.6 1.6l-1.6 1.6zM653.1 276.5l1.6 -1.6l1.6 1.6l-1.6 1.6zM654.7 276.5l1.6 -1.6l1.6 1.6l-1.6 1.6zM656.1 276.5l1.6 -1.6l1.6 1.6l-1.6 1.6zM658.3 276.5l1.6 -1.6l1.6 1.6l-1.6 1.6zM659.5 276.5l1.6 -1.6l1.6 1.6l-1.6 1.6zM661.3 276.5l1.6 -1.6l1.6 1.6l-1.6 1.6zM663.1 276.5l1.6 -1.6l1.6 1.6l-1.6 1.6zM664.7 276.5l1.6 -1.6l1.6 1.6l-1.6 1.6zM666.7 276.5l1.6 -1.6l1.6 1.6l-1.6 1.6zM668.3 276.5l1.6 -1.6l1.6 1.6l-1.6 1.6zM670 276.5l1.6 -1.6l1.6 1.6l-1.6 1.6zM671.5 276.5l1.6 -1.6l1.6 1.6l-1.6 1.6zM673.3 276.5l1.6 -1.6l1.6 1.6l-1.6 1.6zM675.1 276.5l1.6 -1.6l1.6 1.6l-1.6 1.6zM676.7 276.5l1.6 -1.6l1.6 1.6l-1.6 1.6zM678.3 276.5l1.6 -1.6l1.6 1.6l-1.6 1.6zM680 276.5l1.6 -1.6l1.6 1.6l-1.6 1.6zM681.9 276.5l1.6 -1.6l1.6 1.6l-1.6 1.6zM683.3 276.5l1.6 -1.6l1.6 1.6l-1.6 1.6zM685.5 276.5l1.6 -1.6l1.6 1.6l-1.6 1.6zM687.2 276.5l1.6 -1.6l1.6 1.6l-1.6 1.6zM688.8 276.5l1.6 -1.6l1.6 1.6l-1.6 1.6zM690.1 276.5l1.6 -1.6l1.6 1.6l-1.6 1.6zM692.2 276.5l1.6 -1.6l1.6 1.6l-1.6 1.6zM693.4 276.5l1.6 -1.6l1.6 1.6l-1.6 1.6zM695.5 276.5l1.6 -1.6l1.6 1.6l-1.6 1.6zM696.8 276.5l1.6 -1.6l1.6 1.6l-1.6 1.6zM699 276.5l1.6 -1.6l1.6 1.6l-1.6 1.6zM700.3 276.5l1.6 -1.6l1.6 1.6l-1.6 1.6zM702.5 276.5l1.6 -1.6l1.6 1.6l-1.6 1.6zM703.7 276.5l1.6 -1.6l1.6 1.6l-1.6 1.6zM705.4 276.5l1.6 -1.6l1.6 1.6l-1.6 1.6zM707.2 276.5l1.6 -1.6l1.6 1.6l-1.6 1.6zM709.3 276.5l1.6 -1.6l1.6 1.6l-1.6 1.6zM710.5 276.5l1.6 -1.6l1.6 1.6l-1.6 1.6zM712.1 276.5l1.6 -1.6l1.6 1.6l-1.6 1.6zM714.1 276.5l1.6 -1.6l1.6 1.6l-1.6 1.6zM715.6 276.5l1.6 -1.6l1.6 1.6l-1.6 1.6zM717.7 276.5l1.6 -1.6l1.6 1.6l-1.6 1.6zM719.4 276.5l1.6 -1.6l1.6 1.6l-1.6 1.6zM721.2 276.5l1.6 -1.6l1.6 1.6l-1.6 1.6zM722.9 276.5l1.6 -1.6l1.6 1.6l-1.6 1.6zM724.3 276.5l1.6 -1.6l1.6 1.6l-1.6 1.6zM726.2 276.5l1.6 -1.6l1.6 1.6l-1.6 1.6zM727.4 276.5l1.6 -1.6l1.6 1.6l-1.6 1.6zM729.5 276.5l1.6 -1.6l1.6 1.6l-1.6 1.6zM732.6 276.5l1.6 -1.6l1.6 1.6l-1.6 1.6zM734.6 276.5l1.6 -1.6l1.6 1.6l-1.6 1.6zM736.2 276.5l1.6 -1.6l1.6 1.6l-1.6 1.6zM738.1 276.5l1.6 -1.6l1.6 1.6l-1.6 1.6zM739.4 276.5l1.6 -1.6l1.6 1.6l-1.6 1.6zM741.2 276.5l1.6 -1.6l1.6 1.6l-1.6 1.6zM743 276.5l1.6 -1.6l1.6 1.6l-1.6 1.6zM744.9 276.5l1.6 -1.6l1.6 1.6l-1.6 1.6zM746.5 276.5l1.6 -1.6l1.6 1.6l-1.6 1.6zM747.9 276.5l1.6 -1.6l1.6 1.6l-1.6 1.6zM750.1 276.5l1.6 -1.6l1.6 1.6l-1.6 1.6zM751.7 276.5l1.6 -1.6l1.6 1.6l-1.6 1.6zM753.4 276.5l1.6 -1.6l1.6 1.6l-1.6 1.6zM754.9 276.5l1.6 -1.6l1.6 1.6l-1.6 1.6zM756.4 276.5l1.6 -1.6l1.6 1.6l-1.6 1.6zM758.2 276.5l1.6 -1.6l1.6 1.6l-1.6 1.6zM760 276.5l1.6 -1.6l1.6 1.6l-1.6 1.6zM761.8 276.5l1.6 -1.6l1.6 1.6l-1.6 1.6zM763.6 276.5l1.6 -1.6l1.6 1.6l-1.6 1.6zM766.9 276.5l1.6 -1.6l1.6 1.6l-1.6 1.6zM768.8 276.5l1.6 -1.6l1.6 1.6l-1.6 1.6zM770.1 276.5l1.6 -1.6l1.6 1.6l-1.6 1.6zM772.1 276.5l1.6 -1.6l1.6 1.6l-1.6 1.6zM773.3 276.5l1.6 -1.6l1.6 1.6l-1.6 1.6zM775.6 276.5l1.6 -1.6l1.6 1.6l-1.6 1.6zM776.8 276.5l1.6 -1.6l1.6 1.6l-1.6 1.6z" fill="#ffa500" opacity="0.95"/>
<path d="M490.1 210.4l1.4 -1.4l1.4 1.4l-1.4 1.4zM495 210.4l1.4 -1.4l1.4 1.4l-1.4 1.4zM497 210.4l1.4 -1.4l1.4 1.4l-1.4 1.4zM510.4 210.4l1.4 -1.4l1.4 1.4l-1.4 1.4zM512.1 210.4l1.4 -1.4l1.4 1.4l-1.4 1.4zM514.4 210.4l1.4 -1.4l1.4 1.4l-1.4 1.4zM516.6 210.4l1.4 -1.4l1.4 1.4l-1.4 1.4zM523.2 210.4l1.4 -1.4l1.4 1.4l-1.4 1.4zM540.8 210.4l1.4 -1.4l1.4 1.4l-1.4 1.4zM545.5 210.4l1.4 -1.4l1.4 1.4l-1.4 1.4zM547.8 210.4l1.4 -1.4l1.4 1.4l-1.4 1.4zM549.7 210.4l1.4 -1.4l1.4 1.4l-1.4 1.4zM551.7 210.4l1.4 -1.4l1.4 1.4l-1.4 1.4zM558.2 210.4l1.4 -1.4l1.4 1.4l-1.4 1.4zM560.9 210.4l1.4 -1.4l1.4 1.4l-1.4 1.4zM562.6 210.4l1.4 -1.4l1.4 1.4l-1.4 1.4zM569.3 210.4l1.4 -1.4l1.4 1.4l-1.4 1.4zM571.4 210.4l1.4 -1.4l1.4 1.4l-1.4 1.4zM573.6 210.4l1.4 -1.4l1.4 1.4l-1.4 1.4zM575.9 210.4l1.4 -1.4l1.4 1.4l-1.4 1.4zM578.2 210.4l1.4 -1.4l1.4 1.4l-1.4 1.4zM580.3 210.4l1.4 -1.4l1.4 1.4l-1.4 1.4zM582.9 210.4l1.4 -1.4l1.4 1.4l-1.4 1.4zM584.9 210.4l1.4 -1.4l1.4 1.4l-1.4 1.4zM587.2 210.4l1.4 -1.4l1.4 1.4l-1.4 1.4zM589.4 210.4l1.4 -1.4l1.4 1.4l-1.4 1.4zM593.6 210.4l1.4 -1.4l1.4 1.4l-1.4 1.4zM600.3 210.4l1.4 -1.4l1.4 1.4l-1.4 1.4zM604.7 210.4l1.4 -1.4l1.4 1.4l-1.4 1.4zM607.1 210.4l1.4 -1.4l1.4 1.4l-1.4 1.4zM609 210.4l1.4 -1.4l1.4 1.4l-1.4 1.4zM611.3 210.4l1.4 -1.4l1.4 1.4l-1.4 1.4zM613.4 210.4l1.4 -1.4l1.4 1.4l-1.4 1.4zM615.9 210.4l1.4 -1.4l1.4 1.4l-1.4 1.4zM620.3 210.4l1.4 -1.4l1.4 1.4l-1.4 1.4zM622 210.4l1.4 -1.4l1.4 1.4l-1.4 1.4zM635.4 210.4l1.4 -1.4l1.4 1.4l-1.4 1.4zM655 210.4l1.4 -1.4l1.4 1.4l-1.4 1.4zM657.5 210.4l1.4 -1.4l1.4 1.4l-1.4 1.4zM659.4 210.4l1.4 -1.4l1.4 1.4l-1.4 1.4zM662 210.4l1.4 -1.4l1.4 1.4l-1.4 1.4zM664.2 210.4l1.4 -1.4l1.4 1.4l-1.4 1.4zM666.1 210.4l1.4 -1.4l1.4 1.4l-1.4 1.4zM675.2 210.4l1.4 -1.4l1.4 1.4l-1.4 1.4zM679.7 210.4l1.4 -1.4l1.4 1.4l-1.4 1.4zM684.2 210.4l1.4 -1.4l1.4 1.4l-1.4 1.4zM686.1 210.4l1.4 -1.4l1.4 1.4l-1.4 1.4zM688.3 210.4l1.4 -1.4l1.4 1.4l-1.4 1.4zM690.6 210.4l1.4 -1.4l1.4 1.4l-1.4 1.4zM692.5 210.4l1.4 -1.4l1.4 1.4l-1.4 1.4zM694.9 210.4l1.4 -1.4l1.4 1.4l-1.4 1.4zM697.1 210.4l1.4 -1.4l1.4 1.4l-1.4 1.4zM699.5 210.4l1.4 -1.4l1.4 1.4l-1.4 1.4zM701.4 210.4l1.4 -1.4l1.4 1.4l-1.4 1.4zM703.6 210.4l1.4 -1.4l1.4 1.4l-1.4 1.4zM705.8 210.4l1.4 -1.4l1.4 1.4l-1.4 1.4zM707.8 210.4l1.4 -1.4l1.4 1.4l-1.4 1.4zM710.5 210.4l1.4 -1.4l1.4 1.4l-1.4 1.4zM712.5 210.4l1.4 -1.4l1.4 1.4l-1.4 1.4zM714.5 210.4l1.4 -1.4l1.4 1.4l-1.4 1.4zM716.8 210.4l1.4 -1.4l1.4 1.4l-1.4 1.4zM719 210.4l1.4 -1.4l1.4 1.4l-1.4 1.4zM723.7 210.4l1.4 -1.4l1.4 1.4l-1.4 1.4zM725.6 210.4l1.4 -1.4l1.4 1.4l-1.4 1.4zM727.7 210.4l1.4 -1.4l1.4 1.4l-1.4 1.4zM732.2 210.4l1.4 -1.4l1.4 1.4l-1.4 1.4zM734.2 210.4l1.4 -1.4l1.4 1.4l-1.4 1.4zM736.4 210.4l1.4 -1.4l1.4 1.4l-1.4 1.4zM739.1 210.4l1.4 -1.4l1.4 1.4l-1.4 1.4zM741.1 210.4l1.4 -1.4l1.4 1.4l-1.4 1.4zM749.7 210.4l1.4 -1.4l1.4 1.4l-1.4 1.4zM751.9 210.4l1.4 -1.4l1.4 1.4l-1.4 1.4zM756.6 210.4l1.4 -1.4l1.4 1.4l-1.4 1.4zM758.7 210.4l1.4 -1.4l1.4 1.4l-1.4 1.4zM765.1 210.4l1.4 -1.4l1.4 1.4l-1.4 1.4zM767.5 210.4l1.4 -1.4l1.4 1.4l-1.4 1.4zM769.6 210.4l1.4 -1.4l1.4 1.4l-1.4 1.4zM772 210.4l1.4 -1.4l1.4 1.4l-1.4 1.4zM774.1 210.4l1.4 -1.4l1.4 1.4l-1.4 1.4zM776.1 210.4l1.4 -1.4l1.4 1.4l-1.4 1.4zM778.7 210.4l1.4 -1.4l1.4 1.4l-1.4 1.4zM780.7 210.4l1.4 -1.4l1.4 1.4l-1.4 1.4z" fill="#ffa500" opacity="0.65"/>
<path d="M490 210.4l1.5 -1.5l1.5 1.5l-1.5 1.5zM495.2 210.4l1.5 -1.5l1.5 1.5l-1.5 1.5zM498.1 210.4l1.5 -1.5l1.5 1.5l-1.5 1.5zM500 210.4l1.5 -1.5l1.5 1.5l-1.5 1.5zM502.6 210.4l1.5 -1.5l1.5 1.5l-1.5 1.5zM505.5 210.4l1.5 -1.5l1.5 1.5l-1.5 1.5zM507.6 210.4l1.5 -1.5l1.5 1.5l-1.5 1.5zM510.6 210.4l1.5 -1.5l1.5 1.5l-1.5 1.5zM512.7 210.4l1.5 -1.5l1.5 1.5l-1.5 1.5zM520.6 210.4l1.5 -1.5l1.5 1.5l-1.5 1.5zM522.8 210.4l1.5 -1.5l1.5 1.5l-1.5 1.5zM527.9 210.4l1.5 -1.5l1.5 1.5l-1.5 1.5zM530.2 210.4l1.5 -1.5l1.5 1.5l-1.5 1.5zM532.9 210.4l1.5 -1.5l1.5 1.5l-1.5 1.5zM535.3 210.4l1.5 -1.5l1.5 1.5l-1.5 1.5zM540.5 210.4l1.5 -1.5l1.5 1.5l-1.5 1.5zM542.6 210.4l1.5 -1.5l1.5 1.5l-1.5 1.5zM545.6 210.4l1.5 -1.5l1.5 1.5l-1.5 1.5zM547.7 210.4l1.5 -1.5l1.5 1.5l-1.5 1.5zM550.2 210.4l1.5 -1.5l1.5 1.5l-1.5 1.5zM565.4 210.4l1.5 -1.5l1.5 1.5l-1.5 1.5zM567.9 210.4l1.5 -1.5l1.5 1.5l-1.5 1.5zM570.4 210.4l1.5 -1.5l1.5 1.5l-1.5 1.5zM593 210.4l1.5 -1.5l1.5 1.5l-1.5 1.5zM595.2 210.4l1.5 -1.5l1.5 1.5l-1.5 1.5zM600.3 210.4l1.5 -1.5l1.5 1.5l-1.5 1.5zM607.6 210.4l1.5 -1.5l1.5 1.5l-1.5 1.5zM610.2 210.4l1.5 -1.5l1.5 1.5l-1.5 1.5zM612.7 210.4l1.5 -1.5l1.5 1.5l-1.5 1.5zM615.5 210.4l1.5 -1.5l1.5 1.5l-1.5 1.5zM618 210.4l1.5 -1.5l1.5 1.5l-1.5 1.5zM622.9 210.4l1.5 -1.5l1.5 1.5l-1.5 1.5zM625.4 210.4l1.5 -1.5l1.5 1.5l-1.5 1.5zM627.8 210.4l1.5 -1.5l1.5 1.5l-1.5 1.5zM630.4 210.4l1.5 -1.5l1.5 1.5l-1.5 1.5zM632.6 210.4l1.5 -1.5l1.5 1.5l-1.5 1.5zM635.1 210.4l1.5 -1.5l1.5 1.5l-1.5 1.5zM637.7 210.4l1.5 -1.5l1.5 1.5l-1.5 1.5zM645.3 210.4l1.5 -1.5l1.5 1.5l-1.5 1.5zM650.4 210.4l1.5 -1.5l1.5 1.5l-1.5 1.5zM652.7 210.4l1.5 -1.5l1.5 1.5l-1.5 1.5zM655 210.4l1.5 -1.5l1.5 1.5l-1.5 1.5zM657.6 210.4l1.5 -1.5l1.5 1.5l-1.5 1.5zM660.4 210.4l1.5 -1.5l1.5 1.5l-1.5 1.5zM663 210.4l1.5 -1.5l1.5 1.5l-1.5 1.5zM665.4 210.4l1.5 -1.5l1.5 1.5l-1.5 1.5zM667.8 210.4l1.5 -1.5l1.5 1.5l-1.5 1.5zM670.6 210.4l1.5 -1.5l1.5 1.5l-1.5 1.5zM678 210.4l1.5 -1.5l1.5 1.5l-1.5 1.5zM680.5 210.4l1.5 -1.5l1.5 1.5l-1.5 1.5zM682.7 210.4l1.5 -1.5l1.5 1.5l-1.5 1.5zM685.2 210.4l1.5 -1.5l1.5 1.5l-1.5 1.5zM687.8 210.4l1.5 -1.5l1.5 1.5l-1.5 1.5zM690.2 210.4l1.5 -1.5l1.5 1.5l-1.5 1.5zM702.9 210.4l1.5 -1.5l1.5 1.5l-1.5 1.5zM705.5 210.4l1.5 -1.5l1.5 1.5l-1.5 1.5zM707.8 210.4l1.5 -1.5l1.5 1.5l-1.5 1.5zM710.4 210.4l1.5 -1.5l1.5 1.5l-1.5 1.5zM713 210.4l1.5 -1.5l1.5 1.5l-1.5 1.5zM715.1 210.4l1.5 -1.5l1.5 1.5l-1.5 1.5zM725.6 210.4l1.5 -1.5l1.5 1.5l-1.5 1.5zM745.1 210.4l1.5 -1.5l1.5 1.5l-1.5 1.5zM748 210.4l1.5 -1.5l1.5 1.5l-1.5 1.5zM750.4 210.4l1.5 -1.5l1.5 1.5l-1.5 1.5zM753 210.4l1.5 -1.5l1.5 1.5l-1.5 1.5zM762.8 210.4l1.5 -1.5l1.5 1.5l-1.5 1.5zM765.5 210.4l1.5 -1.5l1.5 1.5l-1.5 1.5zM767.6 210.4l1.5 -1.5l1.5 1.5l-1.5 1.5zM770.3 210.4l1.5 -1.5l1.5 1.5l-1.5 1.5zM772.5 210.4l1.5 -1.5l1.5 1.5l-1.5 1.5z" fill="#ffa500" fill-opacity="0.5" stroke="#ffa500" stroke-width="0.6" opacity="0.45"/>
<rect x="487.3" y="281.7" width="294.6" height="1.6" fill="#ffa500" opacity="0.35"/>
<path d="M488.4 282.5l1.5 -1.5l1.5 1.5l-1.5 1.5zM489.8 282.5l1.5 -1.5l1.5 1.5l-1.5 1.5zM492 282.5l1.5 -1.5l1.5 1.5l-1.5 1.5zM493.7 282.5l1.5 -1.5l1.5 1.5l-1.5 1.5zM495.7 282.5l1.5 -1.5l1.5 1.5l-1.5 1.5zM497.5 282.5l1.5 -1.5l1.5 1.5l-1.5 1.5zM499.5 282.5l1.5 -1.5l1.5 1.5l-1.5 1.5zM501.3 282.5l1.5 -1.5l1.5 1.5l-1.5 1.5zM503.5 282.5l1.5 -1.5l1.5 1.5l-1.5 1.5zM505.1 282.5l1.5 -1.5l1.5 1.5l-1.5 1.5zM507.1 282.5l1.5 -1.5l1.5 1.5l-1.5 1.5zM509.3 282.5l1.5 -1.5l1.5 1.5l-1.5 1.5zM510.8 282.5l1.5 -1.5l1.5 1.5l-1.5 1.5zM513.2 282.5l1.5 -1.5l1.5 1.5l-1.5 1.5zM514.9 282.5l1.5 -1.5l1.5 1.5l-1.5 1.5zM516.9 282.5l1.5 -1.5l1.5 1.5l-1.5 1.5zM518.3 282.5l1.5 -1.5l1.5 1.5l-1.5 1.5zM520.7 282.5l1.5 -1.5l1.5 1.5l-1.5 1.5zM522.2 282.5l1.5 -1.5l1.5 1.5l-1.5 1.5zM524.2 282.5l1.5 -1.5l1.5 1.5l-1.5 1.5zM526.2 282.5l1.5 -1.5l1.5 1.5l-1.5 1.5zM528.2 282.5l1.5 -1.5l1.5 1.5l-1.5 1.5zM530.1 282.5l1.5 -1.5l1.5 1.5l-1.5 1.5zM531.9 282.5l1.5 -1.5l1.5 1.5l-1.5 1.5zM533.6 282.5l1.5 -1.5l1.5 1.5l-1.5 1.5zM535.5 282.5l1.5 -1.5l1.5 1.5l-1.5 1.5zM537.4 282.5l1.5 -1.5l1.5 1.5l-1.5 1.5zM539.4 282.5l1.5 -1.5l1.5 1.5l-1.5 1.5zM541.6 282.5l1.5 -1.5l1.5 1.5l-1.5 1.5zM543.3 282.5l1.5 -1.5l1.5 1.5l-1.5 1.5zM545.1 282.5l1.5 -1.5l1.5 1.5l-1.5 1.5zM547.3 282.5l1.5 -1.5l1.5 1.5l-1.5 1.5zM549.1 282.5l1.5 -1.5l1.5 1.5l-1.5 1.5zM551 282.5l1.5 -1.5l1.5 1.5l-1.5 1.5zM552.6 282.5l1.5 -1.5l1.5 1.5l-1.5 1.5zM554.9 282.5l1.5 -1.5l1.5 1.5l-1.5 1.5zM556.4 282.5l1.5 -1.5l1.5 1.5l-1.5 1.5zM558.2 282.5l1.5 -1.5l1.5 1.5l-1.5 1.5zM560.6 282.5l1.5 -1.5l1.5 1.5l-1.5 1.5zM562.3 282.5l1.5 -1.5l1.5 1.5l-1.5 1.5zM564.2 282.5l1.5 -1.5l1.5 1.5l-1.5 1.5zM568.2 282.5l1.5 -1.5l1.5 1.5l-1.5 1.5zM571.5 282.5l1.5 -1.5l1.5 1.5l-1.5 1.5zM573.7 282.5l1.5 -1.5l1.5 1.5l-1.5 1.5zM575.9 282.5l1.5 -1.5l1.5 1.5l-1.5 1.5zM577.4 282.5l1.5 -1.5l1.5 1.5l-1.5 1.5zM579.1 282.5l1.5 -1.5l1.5 1.5l-1.5 1.5zM581.3 282.5l1.5 -1.5l1.5 1.5l-1.5 1.5zM582.9 282.5l1.5 -1.5l1.5 1.5l-1.5 1.5zM585.3 282.5l1.5 -1.5l1.5 1.5l-1.5 1.5zM588.6 282.5l1.5 -1.5l1.5 1.5l-1.5 1.5zM590.8 282.5l1.5 -1.5l1.5 1.5l-1.5 1.5zM592.5 282.5l1.5 -1.5l1.5 1.5l-1.5 1.5zM594.7 282.5l1.5 -1.5l1.5 1.5l-1.5 1.5zM596.3 282.5l1.5 -1.5l1.5 1.5l-1.5 1.5zM598.7 282.5l1.5 -1.5l1.5 1.5l-1.5 1.5zM600.1 282.5l1.5 -1.5l1.5 1.5l-1.5 1.5zM602 282.5l1.5 -1.5l1.5 1.5l-1.5 1.5zM603.9 282.5l1.5 -1.5l1.5 1.5l-1.5 1.5zM607.7 282.5l1.5 -1.5l1.5 1.5l-1.5 1.5zM609.5 282.5l1.5 -1.5l1.5 1.5l-1.5 1.5zM611.4 282.5l1.5 -1.5l1.5 1.5l-1.5 1.5zM613.5 282.5l1.5 -1.5l1.5 1.5l-1.5 1.5zM615.6 282.5l1.5 -1.5l1.5 1.5l-1.5 1.5zM617.4 282.5l1.5 -1.5l1.5 1.5l-1.5 1.5zM619.2 282.5l1.5 -1.5l1.5 1.5l-1.5 1.5zM621 282.5l1.5 -1.5l1.5 1.5l-1.5 1.5zM623.3 282.5l1.5 -1.5l1.5 1.5l-1.5 1.5zM624.9 282.5l1.5 -1.5l1.5 1.5l-1.5 1.5zM626.7 282.5l1.5 -1.5l1.5 1.5l-1.5 1.5zM632.5 282.5l1.5 -1.5l1.5 1.5l-1.5 1.5zM634.6 282.5l1.5 -1.5l1.5 1.5l-1.5 1.5zM642.1 282.5l1.5 -1.5l1.5 1.5l-1.5 1.5zM644.1 282.5l1.5 -1.5l1.5 1.5l-1.5 1.5zM647.5 282.5l1.5 -1.5l1.5 1.5l-1.5 1.5zM649.6 282.5l1.5 -1.5l1.5 1.5l-1.5 1.5zM651.9 282.5l1.5 -1.5l1.5 1.5l-1.5 1.5zM653.5 282.5l1.5 -1.5l1.5 1.5l-1.5 1.5zM655.7 282.5l1.5 -1.5l1.5 1.5l-1.5 1.5zM659.4 282.5l1.5 -1.5l1.5 1.5l-1.5 1.5zM661.1 282.5l1.5 -1.5l1.5 1.5l-1.5 1.5zM662.7 282.5l1.5 -1.5l1.5 1.5l-1.5 1.5zM664.9 282.5l1.5 -1.5l1.5 1.5l-1.5 1.5zM666.9 282.5l1.5 -1.5l1.5 1.5l-1.5 1.5zM668.6 282.5l1.5 -1.5l1.5 1.5l-1.5 1.5zM670.5 282.5l1.5 -1.5l1.5 1.5l-1.5 1.5zM672.2 282.5l1.5 -1.5l1.5 1.5l-1.5 1.5zM679.8 282.5l1.5 -1.5l1.5 1.5l-1.5 1.5zM681.8 282.5l1.5 -1.5l1.5 1.5l-1.5 1.5zM684.1 282.5l1.5 -1.5l1.5 1.5l-1.5 1.5zM685.7 282.5l1.5 -1.5l1.5 1.5l-1.5 1.5zM688 282.5l1.5 -1.5l1.5 1.5l-1.5 1.5zM689.5 282.5l1.5 -1.5l1.5 1.5l-1.5 1.5zM693.5 282.5l1.5 -1.5l1.5 1.5l-1.5 1.5zM695.5 282.5l1.5 -1.5l1.5 1.5l-1.5 1.5zM697.2 282.5l1.5 -1.5l1.5 1.5l-1.5 1.5zM698.9 282.5l1.5 -1.5l1.5 1.5l-1.5 1.5zM701.2 282.5l1.5 -1.5l1.5 1.5l-1.5 1.5zM702.9 282.5l1.5 -1.5l1.5 1.5l-1.5 1.5zM704.9 282.5l1.5 -1.5l1.5 1.5l-1.5 1.5zM708.6 282.5l1.5 -1.5l1.5 1.5l-1.5 1.5zM710.4 282.5l1.5 -1.5l1.5 1.5l-1.5 1.5zM712.1 282.5l1.5 -1.5l1.5 1.5l-1.5 1.5zM716 282.5l1.5 -1.5l1.5 1.5l-1.5 1.5zM718 282.5l1.5 -1.5l1.5 1.5l-1.5 1.5zM720 282.5l1.5 -1.5l1.5 1.5l-1.5 1.5zM721.9 282.5l1.5 -1.5l1.5 1.5l-1.5 1.5zM724.1 282.5l1.5 -1.5l1.5 1.5l-1.5 1.5zM725.7 282.5l1.5 -1.5l1.5 1.5l-1.5 1.5zM727.7 282.5l1.5 -1.5l1.5 1.5l-1.5 1.5zM729.7 282.5l1.5 -1.5l1.5 1.5l-1.5 1.5zM731.2 282.5l1.5 -1.5l1.5 1.5l-1.5 1.5zM733.3 282.5l1.5 -1.5l1.5 1.5l-1.5 1.5zM734.9 282.5l1.5 -1.5l1.5 1.5l-1.5 1.5zM737 282.5l1.5 -1.5l1.5 1.5l-1.5 1.5zM738.8 282.5l1.5 -1.5l1.5 1.5l-1.5 1.5zM740.7 282.5l1.5 -1.5l1.5 1.5l-1.5 1.5zM742.6 282.5l1.5 -1.5l1.5 1.5l-1.5 1.5zM744.9 282.5l1.5 -1.5l1.5 1.5l-1.5 1.5zM746.6 282.5l1.5 -1.5l1.5 1.5l-1.5 1.5zM759.7 282.5l1.5 -1.5l1.5 1.5l-1.5 1.5zM761.7 282.5l1.5 -1.5l1.5 1.5l-1.5 1.5zM763.5 282.5l1.5 -1.5l1.5 1.5l-1.5 1.5zM765.5 282.5l1.5 -1.5l1.5 1.5l-1.5 1.5zM767.6 282.5l1.5 -1.5l1.5 1.5l-1.5 1.5zM769.5 282.5l1.5 -1.5l1.5 1.5l-1.5 1.5zM771.1 282.5l1.5 -1.5l1.5 1.5l-1.5 1.5zM773.4 282.5l1.5 -1.5l1.5 1.5l-1.5 1.5zM775.1 282.5l1.5 -1.5l1.5 1.5l-1.5 1.5zM776.9 282.5l1.5 -1.5l1.5 1.5l-1.5 1.5zM778.7 282.5l1.5 -1.5l1.5 1.5l-1.5 1.5z" fill="#ffa500" opacity="0.85"/>
<path d="M486.1 282.5l1.5 -1.5l1.5 1.5l-1.5 1.5zM488.9 282.5l1.5 -1.5l1.5 1.5l-1.5 1.5zM494.3 282.5l1.5 -1.5l1.5 1.5l-1.5 1.5zM496.6 282.5l1.5 -1.5l1.5 1.5l-1.5 1.5zM504.3 282.5l1.5 -1.5l1.5 1.5l-1.5 1.5zM506.9 282.5l1.5 -1.5l1.5 1.5l-1.5 1.5zM515.1 282.5l1.5 -1.5l1.5 1.5l-1.5 1.5zM517.7 282.5l1.5 -1.5l1.5 1.5l-1.5 1.5zM520.1 282.5l1.5 -1.5l1.5 1.5l-1.5 1.5zM522.5 282.5l1.5 -1.5l1.5 1.5l-1.5 1.5zM525.3 282.5l1.5 -1.5l1.5 1.5l-1.5 1.5zM527.9 282.5l1.5 -1.5l1.5 1.5l-1.5 1.5zM554.2 282.5l1.5 -1.5l1.5 1.5l-1.5 1.5zM556.5 282.5l1.5 -1.5l1.5 1.5l-1.5 1.5zM559.1 282.5l1.5 -1.5l1.5 1.5l-1.5 1.5zM561.9 282.5l1.5 -1.5l1.5 1.5l-1.5 1.5zM564.4 282.5l1.5 -1.5l1.5 1.5l-1.5 1.5zM566.8 282.5l1.5 -1.5l1.5 1.5l-1.5 1.5zM577.4 282.5l1.5 -1.5l1.5 1.5l-1.5 1.5zM579.6 282.5l1.5 -1.5l1.5 1.5l-1.5 1.5zM582.3 282.5l1.5 -1.5l1.5 1.5l-1.5 1.5zM603.6 282.5l1.5 -1.5l1.5 1.5l-1.5 1.5zM606.1 282.5l1.5 -1.5l1.5 1.5l-1.5 1.5zM608.3 282.5l1.5 -1.5l1.5 1.5l-1.5 1.5zM610.9 282.5l1.5 -1.5l1.5 1.5l-1.5 1.5zM616.4 282.5l1.5 -1.5l1.5 1.5l-1.5 1.5zM624.1 282.5l1.5 -1.5l1.5 1.5l-1.5 1.5zM626.7 282.5l1.5 -1.5l1.5 1.5l-1.5 1.5zM629.2 282.5l1.5 -1.5l1.5 1.5l-1.5 1.5zM647.4 282.5l1.5 -1.5l1.5 1.5l-1.5 1.5zM655.4 282.5l1.5 -1.5l1.5 1.5l-1.5 1.5zM657.7 282.5l1.5 -1.5l1.5 1.5l-1.5 1.5zM660.6 282.5l1.5 -1.5l1.5 1.5l-1.5 1.5zM662.9 282.5l1.5 -1.5l1.5 1.5l-1.5 1.5zM676.2 282.5l1.5 -1.5l1.5 1.5l-1.5 1.5zM678.5 282.5l1.5 -1.5l1.5 1.5l-1.5 1.5zM681.6 282.5l1.5 -1.5l1.5 1.5l-1.5 1.5zM684.1 282.5l1.5 -1.5l1.5 1.5l-1.5 1.5zM696.7 282.5l1.5 -1.5l1.5 1.5l-1.5 1.5zM702.3 282.5l1.5 -1.5l1.5 1.5l-1.5 1.5zM707.3 282.5l1.5 -1.5l1.5 1.5l-1.5 1.5zM722.9 282.5l1.5 -1.5l1.5 1.5l-1.5 1.5zM725.4 282.5l1.5 -1.5l1.5 1.5l-1.5 1.5zM728.1 282.5l1.5 -1.5l1.5 1.5l-1.5 1.5zM730.9 282.5l1.5 -1.5l1.5 1.5l-1.5 1.5zM743.8 282.5l1.5 -1.5l1.5 1.5l-1.5 1.5zM746.3 282.5l1.5 -1.5l1.5 1.5l-1.5 1.5zM749.1 282.5l1.5 -1.5l1.5 1.5l-1.5 1.5zM754.3 282.5l1.5 -1.5l1.5 1.5l-1.5 1.5zM759.4 282.5l1.5 -1.5l1.5 1.5l-1.5 1.5zM762.1 282.5l1.5 -1.5l1.5 1.5l-1.5 1.5zM764.4 282.5l1.5 -1.5l1.5 1.5l-1.5 1.5zM766.9 282.5l1.5 -1.5l1.5 1.5l-1.5 1.5zM769.6 282.5l1.5 -1.5l1.5 1.5l-1.5 1.5zM772.3 282.5l1.5 -1.5l1.5 1.5l-1.5 1.5zM774.9 282.5l1.5 -1.5l1.5 1.5l-1.5 1.5zM777.5 282.5l1.5 -1.5l1.5 1.5l-1.5 1.5z" fill="#ffa500" fill-opacity="0.5" stroke="#ffa500" stroke-width="0.6" opacity="0.5"/>
<path d="M514.7 203.6l1.5 -1.5l1.5 1.5l-1.5 1.5zM531.6 203.6l1.5 -1.5l1.5 1.5l-1.5 1.5zM534.7 203.6l1.5 -1.5l1.5 1.5l-1.5 1.5zM537.6 203.6l1.5 -1.5l1.5 1.5l-1.5 1.5zM540.8 203.6l1.5 -1.5l1.5 1.5l-1.5 1.5zM558 203.6l1.5 -1.5l1.5 1.5l-1.5 1.5zM560.8 203.6l1.5 -1.5l1.5 1.5l-1.5 1.5zM563.6 203.6l1.5 -1.5l1.5 1.5l-1.5 1.5zM569.4 203.6l1.5 -1.5l1.5 1.5l-1.5 1.5zM572.6 203.6l1.5 -1.5l1.5 1.5l-1.5 1.5zM578.2 203.6l1.5 -1.5l1.5 1.5l-1.5 1.5zM581 203.6l1.5 -1.5l1.5 1.5l-1.5 1.5zM583.9 203.6l1.5 -1.5l1.5 1.5l-1.5 1.5zM587 203.6l1.5 -1.5l1.5 1.5l-1.5 1.5zM601.5 203.6l1.5 -1.5l1.5 1.5l-1.5 1.5zM604.6 203.6l1.5 -1.5l1.5 1.5l-1.5 1.5zM607.1 203.6l1.5 -1.5l1.5 1.5l-1.5 1.5zM610.3 203.6l1.5 -1.5l1.5 1.5l-1.5 1.5zM613.3 203.6l1.5 -1.5l1.5 1.5l-1.5 1.5zM636.4 203.6l1.5 -1.5l1.5 1.5l-1.5 1.5z" fill="#ffa500" fill-opacity="0.5" stroke="#ffa500" stroke-width="0.6" opacity="0.33"/>
<path d="M584.3 203.6l1.2 -1.2l1.2 1.2l-1.2 1.2zM598.4 203.6l1.2 -1.2l1.2 1.2l-1.2 1.2zM610.5 203.6l1.2 -1.2l1.2 1.2l-1.2 1.2zM627.7 203.6l1.2 -1.2l1.2 1.2l-1.2 1.2zM630.7 203.6l1.2 -1.2l1.2 1.2l-1.2 1.2z" fill="#ffa500" opacity="0.35"/>
<path d="M677.4 203.6l1.5 -1.5l1.5 1.5l-1.5 1.5zM702 203.6l1.5 -1.5l1.5 1.5l-1.5 1.5zM764.2 203.6l1.5 -1.5l1.5 1.5l-1.5 1.5zM767 203.6l1.5 -1.5l1.5 1.5l-1.5 1.5zM770.5 203.6l1.5 -1.5l1.5 1.5l-1.5 1.5zM773.2 203.6l1.5 -1.5l1.5 1.5l-1.5 1.5z" fill="#ffa500" fill-opacity="0.5" stroke="#ffa500" stroke-width="0.6" opacity="0.28"/>
<path d="M494.1 288.5l1.3 -1.3l1.3 1.3l-1.3 1.3zM497 288.5l1.3 -1.3l1.3 1.3l-1.3 1.3zM499.6 288.5l1.3 -1.3l1.3 1.3l-1.3 1.3zM509.7 288.5l1.3 -1.3l1.3 1.3l-1.3 1.3zM514.8 288.5l1.3 -1.3l1.3 1.3l-1.3 1.3zM517.6 288.5l1.3 -1.3l1.3 1.3l-1.3 1.3zM519.9 288.5l1.3 -1.3l1.3 1.3l-1.3 1.3zM533 288.5l1.3 -1.3l1.3 1.3l-1.3 1.3zM546.1 288.5l1.3 -1.3l1.3 1.3l-1.3 1.3zM600.7 288.5l1.3 -1.3l1.3 1.3l-1.3 1.3zM603.3 288.5l1.3 -1.3l1.3 1.3l-1.3 1.3zM605.8 288.5l1.3 -1.3l1.3 1.3l-1.3 1.3zM608.3 288.5l1.3 -1.3l1.3 1.3l-1.3 1.3zM611.3 288.5l1.3 -1.3l1.3 1.3l-1.3 1.3zM613.7 288.5l1.3 -1.3l1.3 1.3l-1.3 1.3zM629.3 288.5l1.3 -1.3l1.3 1.3l-1.3 1.3zM632.1 288.5l1.3 -1.3l1.3 1.3l-1.3 1.3zM634.4 288.5l1.3 -1.3l1.3 1.3l-1.3 1.3zM652.6 288.5l1.3 -1.3l1.3 1.3l-1.3 1.3zM657.6 288.5l1.3 -1.3l1.3 1.3l-1.3 1.3zM660.7 288.5l1.3 -1.3l1.3 1.3l-1.3 1.3zM663.2 288.5l1.3 -1.3l1.3 1.3l-1.3 1.3zM665.8 288.5l1.3 -1.3l1.3 1.3l-1.3 1.3zM686.2 288.5l1.3 -1.3l1.3 1.3l-1.3 1.3zM688.9 288.5l1.3 -1.3l1.3 1.3l-1.3 1.3zM691.7 288.5l1.3 -1.3l1.3 1.3l-1.3 1.3zM694.1 288.5l1.3 -1.3l1.3 1.3l-1.3 1.3zM696.8 288.5l1.3 -1.3l1.3 1.3l-1.3 1.3zM701.9 288.5l1.3 -1.3l1.3 1.3l-1.3 1.3zM709.9 288.5l1.3 -1.3l1.3 1.3l-1.3 1.3zM714.8 288.5l1.3 -1.3l1.3 1.3l-1.3 1.3zM725.4 288.5l1.3 -1.3l1.3 1.3l-1.3 1.3zM759.4 288.5l1.3 -1.3l1.3 1.3l-1.3 1.3zM774.6 288.5l1.3 -1.3l1.3 1.3l-1.3 1.3z" fill="#ffa500" opacity="0.45"/>
<path d="M486.2 288.5l1.5 -1.5l1.5 1.5l-1.5 1.5zM491.7 288.5l1.5 -1.5l1.5 1.5l-1.5 1.5zM497.1 288.5l1.5 -1.5l1.5 1.5l-1.5 1.5zM500.1 288.5l1.5 -1.5l1.5 1.5l-1.5 1.5zM516.1 288.5l1.5 -1.5l1.5 1.5l-1.5 1.5zM518.6 288.5l1.5 -1.5l1.5 1.5l-1.5 1.5zM521.5 288.5l1.5 -1.5l1.5 1.5l-1.5 1.5zM524.2 288.5l1.5 -1.5l1.5 1.5l-1.5 1.5zM526.6 288.5l1.5 -1.5l1.5 1.5l-1.5 1.5zM529.8 288.5l1.5 -1.5l1.5 1.5l-1.5 1.5zM532 288.5l1.5 -1.5l1.5 1.5l-1.5 1.5zM534.7 288.5l1.5 -1.5l1.5 1.5l-1.5 1.5zM548.5 288.5l1.5 -1.5l1.5 1.5l-1.5 1.5zM551.3 288.5l1.5 -1.5l1.5 1.5l-1.5 1.5zM554.1 288.5l1.5 -1.5l1.5 1.5l-1.5 1.5zM559.5 288.5l1.5 -1.5l1.5 1.5l-1.5 1.5zM562.1 288.5l1.5 -1.5l1.5 1.5l-1.5 1.5zM564.6 288.5l1.5 -1.5l1.5 1.5l-1.5 1.5zM567.6 288.5l1.5 -1.5l1.5 1.5l-1.5 1.5zM578.1 288.5l1.5 -1.5l1.5 1.5l-1.5 1.5zM581 288.5l1.5 -1.5l1.5 1.5l-1.5 1.5zM594.3 288.5l1.5 -1.5l1.5 1.5l-1.5 1.5zM599.5 288.5l1.5 -1.5l1.5 1.5l-1.5 1.5zM602.3 288.5l1.5 -1.5l1.5 1.5l-1.5 1.5zM605.1 288.5l1.5 -1.5l1.5 1.5l-1.5 1.5zM607.9 288.5l1.5 -1.5l1.5 1.5l-1.5 1.5zM610.3 288.5l1.5 -1.5l1.5 1.5l-1.5 1.5zM616.2 288.5l1.5 -1.5l1.5 1.5l-1.5 1.5zM618.5 288.5l1.5 -1.5l1.5 1.5l-1.5 1.5zM621.1 288.5l1.5 -1.5l1.5 1.5l-1.5 1.5zM623.9 288.5l1.5 -1.5l1.5 1.5l-1.5 1.5zM629.2 288.5l1.5 -1.5l1.5 1.5l-1.5 1.5zM631.9 288.5l1.5 -1.5l1.5 1.5l-1.5 1.5zM634.5 288.5l1.5 -1.5l1.5 1.5l-1.5 1.5zM640.3 288.5l1.5 -1.5l1.5 1.5l-1.5 1.5zM643.2 288.5l1.5 -1.5l1.5 1.5l-1.5 1.5zM650.8 288.5l1.5 -1.5l1.5 1.5l-1.5 1.5zM653.4 288.5l1.5 -1.5l1.5 1.5l-1.5 1.5zM656.5 288.5l1.5 -1.5l1.5 1.5l-1.5 1.5zM659.3 288.5l1.5 -1.5l1.5 1.5l-1.5 1.5zM661.8 288.5l1.5 -1.5l1.5 1.5l-1.5 1.5zM664.8 288.5l1.5 -1.5l1.5 1.5l-1.5 1.5zM667.4 288.5l1.5 -1.5l1.5 1.5l-1.5 1.5zM669.7 288.5l1.5 -1.5l1.5 1.5l-1.5 1.5zM672.7 288.5l1.5 -1.5l1.5 1.5l-1.5 1.5zM675.1 288.5l1.5 -1.5l1.5 1.5l-1.5 1.5zM677.8 288.5l1.5 -1.5l1.5 1.5l-1.5 1.5zM680.8 288.5l1.5 -1.5l1.5 1.5l-1.5 1.5zM683.6 288.5l1.5 -1.5l1.5 1.5l-1.5 1.5zM686.2 288.5l1.5 -1.5l1.5 1.5l-1.5 1.5zM688.6 288.5l1.5 -1.5l1.5 1.5l-1.5 1.5zM691.3 288.5l1.5 -1.5l1.5 1.5l-1.5 1.5zM694.1 288.5l1.5 -1.5l1.5 1.5l-1.5 1.5zM697 288.5l1.5 -1.5l1.5 1.5l-1.5 1.5zM705.2 288.5l1.5 -1.5l1.5 1.5l-1.5 1.5zM707.9 288.5l1.5 -1.5l1.5 1.5l-1.5 1.5zM710.2 288.5l1.5 -1.5l1.5 1.5l-1.5 1.5zM713.1 288.5l1.5 -1.5l1.5 1.5l-1.5 1.5zM715.8 288.5l1.5 -1.5l1.5 1.5l-1.5 1.5zM718.5 288.5l1.5 -1.5l1.5 1.5l-1.5 1.5zM721.4 288.5l1.5 -1.5l1.5 1.5l-1.5 1.5zM734.8 288.5l1.5 -1.5l1.5 1.5l-1.5 1.5zM753.7 288.5l1.5 -1.5l1.5 1.5l-1.5 1.5zM756.2 288.5l1.5 -1.5l1.5 1.5l-1.5 1.5zM770 288.5l1.5 -1.5l1.5 1.5l-1.5 1.5z" fill="#ffa500" fill-opacity="0.5" stroke="#ffa500" stroke-width="0.6" opacity="0.38"/>
<path d="M551.5 294.5l1.5 -1.5l1.5 1.5l-1.5 1.5zM554.4 294.5l1.5 -1.5l1.5 1.5l-1.5 1.5zM557.8 294.5l1.5 -1.5l1.5 1.5l-1.5 1.5zM560.7 294.5l1.5 -1.5l1.5 1.5l-1.5 1.5zM650.6 294.5l1.5 -1.5l1.5 1.5l-1.5 1.5zM722.1 294.5l1.5 -1.5l1.5 1.5l-1.5 1.5zM724.9 294.5l1.5 -1.5l1.5 1.5l-1.5 1.5zM727.8 294.5l1.5 -1.5l1.5 1.5l-1.5 1.5zM731.5 294.5l1.5 -1.5l1.5 1.5l-1.5 1.5zM756 294.5l1.5 -1.5l1.5 1.5l-1.5 1.5zM758.9 294.5l1.5 -1.5l1.5 1.5l-1.5 1.5zM762 294.5l1.5 -1.5l1.5 1.5l-1.5 1.5z" fill="#ffa500" fill-opacity="0.5" stroke="#ffa500" stroke-width="0.6" opacity="0.28"/>
<path d="M694.7 198.2l1.4 -1.4l1.4 1.4l-1.4 1.4zM721 198.2l1.4 -1.4l1.4 1.4l-1.4 1.4zM740.6 198.2l1.4 -1.4l1.4 1.4l-1.4 1.4z" fill="#ffa500" fill-opacity="0.5" stroke="#ffa500" stroke-width="0.6" opacity="0.25"/>
<rect x="550.3" y="231.9" width="4.4" height="2.6" fill="#ffa500" />
<rect x="628.8" y="231.9" width="4.4" height="2.6" fill="#ffa500" />
<rect x="707" y="231.9" width="4.4" height="2.6" fill="#ffa500" />
<rect x="781.3" y="232.2" width="6.5" height="2.6" fill="#ffa500" />
</g>
<g clip-path="url(#c21)">
<path d="M486.3 398.1L487.3 392.3L488.3 378.9L489.3 370.5L490.3 367.7L491.3 366.7L492.3 367.4L493.3 367.9L494.3 368.4L495.3 368.6L496.3 368.1L497.3 368.3L498.3 368.1L499.3 367.7L500.3 367.1L501.3 366.9L502.3 366.9L503.3 366.8L504.3 366.8L505.3 367.3L506.3 367.2L507.3 367.6L508.3 368L509.3 367.6L510.3 368L511.3 368L512.3 367.9L513.3 367.7L514.3 367.7L515.3 368.1L516.3 368.3L517.3 368.1L518.3 367.3L519.3 367L520.3 367.5L521.3 368.2L522.3 368.7L523.3 368.1L524.3 367.7L525.3 367.7L526.3 367.2L527.3 367.5L528.3 368L529.3 368L530.3 367L531.3 367.3L532.3 367.4L533.3 367.4L534.3 368.6L535.3 369.3L536.3 368.3L537.3 367.1L538.3 367.6L539.3 367.9L540.3 367.7L541.3 368L542.3 368L543.3 367.6L544.3 367.7L545.3 368L546.3 368.2L547.3 367.4L548.3 367.5L549.3 367.7L550.3 367.2L551.3 369.1L552.3 373.4L553.3 372.6L554.3 369.1L555.3 367.5L556.3 367.2L557.3 368.1L558.3 368.4L559.3 368.1L560.3 367.6L561.3 367.7L562.3 367.9L563.3 367.2L564.3 366.4L565.3 367.1L566.3 368.3L567.3 368.9L568.3 368.9L569.3 368.4L570.3 367.9L571.3 367.8L572.3 368.1L573.3 367.6L574.3 367.4L575.3 367.7L576.3 367.9L577.3 368.2L578.3 367.2L579.3 366.4L580.3 367.2L581.3 367.9L582.3 367.6L583.3 367.5L584.3 367.8L585.3 367.5L586.3 367.3L587.3 367.6L588.3 368.2L589.3 367.9L590.3 367.7L591.3 368L592.3 367.6L593.3 367.3L594.3 367.2L595.3 367.4L596.3 368L597.3 367.8L598.3 367L599.3 367.1L600.3 367.7L601.3 367.5L602.3 367.9L603.3 367.8L604.3 367.3L605.3 367.6L606.3 368.4L607.3 369.4L608.3 370.4L609.3 372.2L610.3 374L611.3 376.7L612.3 378.7L613.3 382.1L614.3 385.8L615.3 388.4L616.3 388.5L617.3 380.4L618.3 370.9L619.3 368.5L620.3 368.1L621.3 367.8L622.3 367.5L623.3 368.3L624.3 368.1L625.3 367.9L626.3 368.6L627.3 368L628.3 367.2L629.3 370L630.3 374.2L631.3 372.3L632.3 368.7L633.3 367.6L634.3 368L635.3 367.2L636.3 367.5L637.3 368.2L638.3 367.4L639.3 367.2L640.3 367.3L641.3 368L642.3 367.9L643.3 367.9L644.3 368L645.3 367.7L646.3 367.7L647.3 367.6L648.3 368L649.3 368L650.3 367.5L651.3 367.9L652.3 368.8L653.3 368.3L654.3 367.5L655.3 367.3L656.3 366.9L657.3 366.7L658.3 367.3L659.3 367.2L660.3 367.2L661.3 367.4L662.3 367.4L663.3 367.8L664.3 367.5L665.3 366.5L666.3 366.5L667.3 367.1L668.3 367.6L669.3 367.4L670.3 366.5L671.3 366.2L672.3 366.6L673.3 366.8L674.3 367L675.3 367.5L676.3 367.2L677.3 366.9L678.3 367L679.3 367L680.3 366.5L681.3 366L682.3 367L683.3 366.8L684.3 365.9L685.3 366.6L686.3 366.7L687.3 366.3L688.3 366.4L689.3 367L690.3 367.3L691.3 367.4L692.3 367.5L693.3 366.4L694.3 366.4L695.3 366.3L696.3 366.7L697.3 366.7L698.3 366.8L699.3 367.9L700.3 368.1L701.3 368.2L702.3 367.9L703.3 367.6L704.3 367.3L705.3 367.2L706.3 367.4L707.3 368.5L708.3 373.3L709.3 374.5L710.3 369.2L711.3 368L712.3 368.2L713.3 367.5L714.3 367.5L715.3 367.5L716.3 367.6L717.3 367.7L718.3 367.9L719.3 367.6L720.3 367.3L721.3 367.3L722.3 367.8L723.3 367.9L724.3 367.9L725.3 368.3L726.3 367.9L727.3 367.7L728.3 367.3L729.3 368L730.3 367.7L731.3 367.4L732.3 367.3L733.3 367.8L734.3 368.8L735.3 367.4L736.3 366.9L737.3 367.9L738.3 368.8L739.3 368.4L740.3 367L741.3 367.5L742.3 367.8L743.3 367.4L744.3 367.5L745.3 367L746.3 366.4L747.3 367.4L748.3 368.2L749.3 367.7L750.3 367.4L751.3 367.5L752.3 367.4L753.3 366.8L754.3 366.7L755.3 366.6L756.3 367.2L757.3 367.2L758.3 367.7L759.3 368.2L760.3 367.4L761.3 367.3L762.3 368L763.3 367.3L764.3 366.8L765.3 368.2L766.3 368.6L767.3 368.1L768.3 367.6L769.3 368.3L770.3 368.3L771.3 368.1L772.3 367.9L773.3 366.7L774.3 367L775.3 367.4L776.3 366.6L777.3 366.7L778.3 368.4L779.3 368.4L780.3 367.7L781.3 367.7L782.3 367.6L782.3 421.7L781.3 421.6L780.3 421.4L779.3 422.2L778.3 421.9L777.3 421.7L776.3 421.6L775.3 420.8L774.3 420.8L773.3 421L772.3 421.3L771.3 421.5L770.3 421.9L769.3 421.5L768.3 420.6L767.3 420.4L766.3 420.7L765.3 421.1L764.3 421.6L763.3 421.6L762.3 421.5L761.3 422.1L760.3 422.2L759.3 421.4L758.3 421.4L757.3 421.7L756.3 421L755.3 420.8L754.3 420L753.3 420.2L752.3 421.2L751.3 421.3L750.3 421.1L749.3 420.4L748.3 420.4L747.3 421.7L746.3 422.2L745.3 420.9L744.3 420.9L743.3 422L742.3 421.8L741.3 421.1L740.3 421.2L739.3 421.9L738.3 422.1L737.3 421.4L736.3 421.1L735.3 422.2L734.3 421.7L733.3 421L732.3 421.3L731.3 420.6L730.3 420.5L729.3 420.9L728.3 421.4L727.3 421.8L726.3 421.9L725.3 421.4L724.3 421.4L723.3 421.2L722.3 421.4L721.3 422L720.3 421.7L719.3 421.9L718.3 422L717.3 421.5L716.3 421.7L715.3 422.1L714.3 421.9L713.3 421.6L712.3 421.7L711.3 421.5L710.3 418.7L709.3 412.5L708.3 414L707.3 419.8L706.3 421.2L705.3 421.2L704.3 420.9L703.3 421.5L702.3 421.5L701.3 421.8L700.3 421.9L699.3 421.8L698.3 421.4L697.3 421L696.3 421.2L695.3 420.4L694.3 420.5L693.3 420.9L692.3 420.7L691.3 420.9L690.3 421L689.3 420.8L688.3 421.2L687.3 421.5L686.3 421L685.3 421L684.3 421.4L683.3 421.1L682.3 420.6L681.3 421.1L680.3 421.6L679.3 421.3L678.3 421.8L677.3 422.4L676.3 421.9L675.3 422L674.3 421.6L673.3 421.3L672.3 422.1L671.3 422L670.3 421.5L669.3 422.3L668.3 422.5L667.3 421.9L666.3 422.1L665.3 422.3L664.3 421.6L663.3 420.9L662.3 420.6L661.3 420.6L660.3 421.2L659.3 420.8L658.3 420.8L657.3 420.5L656.3 420.5L655.3 420.5L654.3 420.3L653.3 421.1L652.3 421L651.3 421.4L650.3 421.7L649.3 421.3L648.3 421.8L647.3 422.1L646.3 421.7L645.3 421.2L644.3 421.4L643.3 421.3L642.3 421.4L641.3 421.8L640.3 421.5L639.3 420.7L638.3 420.9L637.3 421.7L636.3 422.2L635.3 421.5L634.3 420.8L633.3 421.3L632.3 421L631.3 416.6L630.3 413.1L629.3 418L628.3 421L627.3 421.4L626.3 420.7L625.3 420.5L624.3 421.2L623.3 422.6L622.3 423.5L621.3 425.9L620.3 428.7L619.3 433.2L618.3 439.5L617.3 450.6L616.3 463L615.3 463L614.3 463L613.3 452.4L612.3 442.3L611.3 437.1L610.3 433.9L609.3 431.1L608.3 429.4L607.3 427.8L606.3 426.2L605.3 424.1L604.3 421.4L603.3 420.5L602.3 420.6L601.3 421.8L600.3 421.8L599.3 421.8L598.3 421.9L597.3 421.3L596.3 421.1L595.3 421.1L594.3 420.8L593.3 420.9L592.3 420.9L591.3 420.4L590.3 421.3L589.3 422L588.3 421.4L587.3 421.1L586.3 421.4L585.3 421.7L584.3 421.6L583.3 421.5L582.3 421.5L581.3 420.9L580.3 420.6L579.3 420.4L578.3 420.4L577.3 421L576.3 421.3L575.3 421.6L574.3 422.2L573.3 422.3L572.3 421.5L571.3 421.5L570.3 422L569.3 421.7L568.3 421.3L567.3 420.8L566.3 420.4L565.3 421.1L564.3 421.6L563.3 421.5L562.3 421.8L561.3 421.2L560.3 421.1L559.3 421.9L558.3 422L557.3 421.1L556.3 421L555.3 421.6L554.3 420.1L553.3 415L552.3 413.4L551.3 418.7L550.3 421.1L549.3 421.7L548.3 422L547.3 421.6L546.3 421.2L545.3 420.5L544.3 420.5L543.3 421L542.3 421.1L541.3 421.2L540.3 421.6L539.3 421.5L538.3 420.8L537.3 421.7L536.3 421.9L535.3 421.9L534.3 421.3L533.3 420.4L532.3 421.3L531.3 421.3L530.3 421.4L529.3 421.3L528.3 421.7L527.3 422.3L526.3 421.6L525.3 421.5L524.3 421.3L523.3 421.7L522.3 421.7L521.3 421.7L520.3 422L519.3 421.5L518.3 421.1L517.3 421L516.3 421.3L515.3 421.7L514.3 421.9L513.3 421.8L512.3 421.5L511.3 421.4L510.3 421.5L509.3 421.8L508.3 421.6L507.3 420.5L506.3 420.7L505.3 421L504.3 420.5L503.3 421.1L502.3 421.1L501.3 421.4L500.3 421.9L499.3 421.8L498.3 421.2L497.3 421.3L496.3 422.2L495.3 421.8L494.3 421.2L493.3 421.9L492.3 421.7L491.3 414.3L490.3 417.7L489.3 426.7L488.3 431.8L487.3 434.8L486.3 433.8Z" fill="#ffa500" filter="url(#g2)"/>
<path d="M486.3 399.7L487.3 394.6L488.3 381.2L489.3 371.5L490.3 368.8L491.3 369.5L492.3 370.3L493.3 369.5L494.3 369.2L495.3 369.9L496.3 369.2L497.3 368.4L498.3 369.5L499.3 370.2L500.3 369.5L501.3 369.5L502.3 369.1L503.3 369L504.3 369.5L505.3 369.3L506.3 369.7L507.3 369.8L508.3 369.4L509.3 369.3L510.3 369L511.3 369.1L512.3 369.9L513.3 369.2L514.3 368.3L515.3 368.8L516.3 369.4L517.3 369.4L518.3 369.4L519.3 368.8L520.3 368.2L521.3 369.2L522.3 368.8L523.3 368.6L524.3 369.9L525.3 370.1L526.3 369.9L527.3 369.3L528.3 368.9L529.3 369.5L530.3 369.8L531.3 370.1L532.3 370.1L533.3 369.6L534.3 369.4L535.3 369.9L536.3 370.3L537.3 369.6L538.3 369.4L539.3 369.3L540.3 369.4L541.3 369.6L542.3 369.8L543.3 370.5L544.3 370.2L545.3 369.2L546.3 368.7L547.3 369.3L548.3 369.6L549.3 369.7L550.3 370L551.3 371L552.3 373.3L553.3 372.1L554.3 370L555.3 370.2L556.3 369.6L557.3 369.2L558.3 369.9L559.3 369.8L560.3 369.5L561.3 369.9L562.3 369.8L563.3 369.8L564.3 370.1L565.3 369.7L566.3 368.7L567.3 368.8L568.3 368.8L569.3 368.2L570.3 369L571.3 369.3L572.3 368.9L573.3 369.3L574.3 369.1L575.3 369.3L576.3 370.3L577.3 369.8L578.3 369.1L579.3 368.4L580.3 368.1L581.3 369.7L582.3 370L583.3 369.2L584.3 369.4L585.3 369.4L586.3 369.8L587.3 369.9L588.3 369.1L589.3 369L590.3 368.3L591.3 368.6L592.3 369.7L593.3 368.9L594.3 367.7L595.3 368.2L596.3 369.2L597.3 370L598.3 369.6L599.3 368.8L600.3 369.1L601.3 369.8L602.3 369.5L603.3 368.9L604.3 369L605.3 369.4L606.3 370.4L607.3 372.3L608.3 373.8L609.3 375.4L610.3 376.7L611.3 378.7L612.3 381.6L613.3 384.9L614.3 387.3L615.3 389.9L616.3 390.2L617.3 382.5L618.3 373.4L619.3 370.4L620.3 369.5L621.3 369.8L622.3 369.3L623.3 369.6L624.3 369.9L625.3 369.4L626.3 369L627.3 369.1L628.3 369.8L629.3 370.7L630.3 373.2L631.3 372.1L632.3 370L633.3 369.1L634.3 369.7L635.3 370L636.3 369L637.3 369L638.3 369.6L639.3 369.7L640.3 369.1L641.3 369.2L642.3 369.6L643.3 369.5L644.3 369.1L645.3 369.2L646.3 371L647.3 370.8L648.3 369.4L649.3 368.7L650.3 368.6L651.3 369.5L652.3 369.3L653.3 369.1L654.3 368.9L655.3 369.2L656.3 369.5L657.3 368.7L658.3 368.5L659.3 369L660.3 369.1L661.3 369.9L662.3 369.7L663.3 368.8L664.3 368.4L665.3 368.5L666.3 368.5L667.3 368.4L668.3 368.4L669.3 367.9L670.3 367.8L671.3 368.8L672.3 368.7L673.3 368.4L674.3 368.8L675.3 368L676.3 367.9L677.3 368.1L678.3 368.3L679.3 369L680.3 369.6L681.3 369L682.3 368.1L683.3 368.1L684.3 368.3L685.3 368.3L686.3 368.9L687.3 369.2L688.3 368.5L689.3 367.4L690.3 367.6L691.3 368.3L692.3 369.1L693.3 369.7L694.3 368.7L695.3 368.7L696.3 369.6L697.3 369.7L698.3 369.4L699.3 368.7L700.3 368.2L701.3 368.5L702.3 369.1L703.3 369L704.3 368.3L705.3 368.6L706.3 369.2L707.3 370.3L708.3 373.9L709.3 374.9L710.3 371.2L711.3 369.6L712.3 368.8L713.3 369.2L714.3 369.5L715.3 368.9L716.3 369.2L717.3 369L718.3 368.9L719.3 369.6L720.3 370.2L721.3 370.6L722.3 370.4L723.3 369.5L724.3 369.4L725.3 369.2L726.3 368.1L727.3 368.7L728.3 369.4L729.3 369L730.3 368.8L731.3 369.7L732.3 370.1L733.3 369.9L734.3 369.9L735.3 369.5L736.3 369.5L737.3 370L738.3 369.2L739.3 368.6L740.3 369L741.3 369.3L742.3 369.3L743.3 369.2L744.3 369.1L745.3 368.8L746.3 369.2L747.3 369.9L748.3 369.8L749.3 369L750.3 368.6L751.3 369.3L752.3 369.5L753.3 369.5L754.3 369.7L755.3 369.9L756.3 369.5L757.3 369.1L758.3 369.7L759.3 369.9L760.3 369.1L761.3 368.6L762.3 368.9L763.3 368.8L764.3 368.7L765.3 369L766.3 369L767.3 369.1L768.3 368.9L769.3 369.3L770.3 370L771.3 369.7L772.3 369.8L773.3 370.3L774.3 369.7L775.3 369.9L776.3 370.6L777.3 370.3L778.3 369.6L779.3 369.4L780.3 369.3L781.3 369.5L782.3 369.6L782.3 418.3L781.3 418.8L780.3 418.6L779.3 418.9L778.3 419.1L777.3 418.9L776.3 418.9L775.3 418.4L774.3 418.5L773.3 419L772.3 419L771.3 418.8L770.3 418.8L769.3 418.9L768.3 418.9L767.3 418.8L766.3 419.1L765.3 419.5L764.3 419.8L763.3 419.6L762.3 419.2L761.3 418.7L760.3 417.8L759.3 417.8L758.3 419L757.3 419.4L756.3 419.4L755.3 418.9L754.3 418.8L753.3 419.6L752.3 419.1L751.3 419.2L750.3 419.4L749.3 419.1L748.3 418.7L747.3 418.4L746.3 419L745.3 418.6L744.3 418.5L743.3 419L742.3 419L741.3 419L740.3 418.8L739.3 418.8L738.3 419.5L737.3 418.9L736.3 418.6L735.3 419.1L734.3 419.1L733.3 419.1L732.3 418.4L731.3 418.1L730.3 418.6L729.3 418.8L728.3 418.8L727.3 419.1L726.3 419.4L725.3 418.9L724.3 418.8L723.3 419.4L722.3 419.1L721.3 419.2L720.3 419.2L719.3 419.1L718.3 419.4L717.3 419.1L716.3 419L715.3 418.3L714.3 417.9L713.3 418.5L712.3 418.8L711.3 418.8L710.3 416.7L709.3 412.1L708.3 413.1L707.3 417.9L706.3 420L705.3 419.7L704.3 418.4L703.3 418.5L702.3 419.4L701.3 419.4L700.3 419L699.3 419.7L698.3 419.3L697.3 417.7L696.3 418.3L695.3 418.8L694.3 419.1L693.3 419.5L692.3 419.6L691.3 419.5L690.3 418.9L689.3 418.6L688.3 418.3L687.3 418.1L686.3 419L685.3 418.9L684.3 418.8L683.3 419.5L682.3 418.6L681.3 418.5L680.3 418.7L679.3 418.6L678.3 418.6L677.3 419L676.3 419.6L675.3 419.8L674.3 418.8L673.3 418.7L672.3 419.2L671.3 418.3L670.3 418.5L669.3 418.6L668.3 418.2L667.3 418.8L666.3 418.6L665.3 418.8L664.3 419.1L663.3 418.9L662.3 419.4L661.3 419.1L660.3 418.2L659.3 417.8L658.3 418.4L657.3 419.3L656.3 419.1L655.3 418.2L654.3 418.3L653.3 418.7L652.3 418.8L651.3 419.4L650.3 419.7L649.3 418.5L648.3 418.1L647.3 418.9L646.3 418.7L645.3 418.3L644.3 418.2L643.3 418.7L642.3 418.9L641.3 418.3L640.3 418.9L639.3 418.4L638.3 417.5L637.3 417.7L636.3 418.3L635.3 418.7L634.3 418.6L633.3 419.5L632.3 418.8L631.3 413.9L630.3 411.6L629.3 416L628.3 419L627.3 420.2L626.3 419.3L625.3 418.2L624.3 418.2L623.3 419.8L622.3 421.2L621.3 423.6L620.3 426L619.3 430.7L618.3 437.4L617.3 449.9L616.3 463L615.3 463L614.3 463L613.3 450.9L612.3 440.4L611.3 434.8L610.3 432.2L609.3 430.4L608.3 428.4L607.3 426.3L606.3 423.2L605.3 420.5L604.3 418.7L603.3 418.7L602.3 418.5L601.3 418.3L600.3 418.4L599.3 418.8L598.3 418.6L597.3 418.8L596.3 418.9L595.3 419.1L594.3 419.9L593.3 419.2L592.3 418.4L591.3 418.4L590.3 418.3L589.3 418.8L588.3 419.2L587.3 418.9L586.3 418.3L585.3 418.1L584.3 417.6L583.3 416.7L582.3 418.6L581.3 419.8L580.3 418.7L579.3 418.5L578.3 419.1L577.3 419.2L576.3 418.7L575.3 418.8L574.3 419L573.3 418.9L572.3 418.3L571.3 417.7L570.3 417.6L569.3 418.8L568.3 419.3L567.3 418L566.3 418.7L565.3 419.2L564.3 418.7L563.3 419.1L562.3 418.4L561.3 418.6L560.3 419.3L559.3 419.9L558.3 419.7L557.3 419.5L556.3 419.3L555.3 418.7L554.3 418.3L553.3 414L552.3 411.8L551.3 416.3L550.3 418.6L549.3 418.4L548.3 418.5L547.3 419L546.3 418.7L545.3 419.2L544.3 419L543.3 418L542.3 418.4L541.3 418.8L540.3 418.5L539.3 418.5L538.3 418.3L537.3 417.9L536.3 417.7L535.3 418.3L534.3 419.1L533.3 419L532.3 418.8L531.3 418.3L530.3 418.2L529.3 418.6L528.3 418.3L527.3 418.8L526.3 419L525.3 418.5L524.3 419.2L523.3 419.3L522.3 418.8L521.3 418.8L520.3 418.7L519.3 418.9L518.3 419L517.3 419.6L516.3 419.5L515.3 419.3L514.3 418.6L513.3 417.6L512.3 418.6L511.3 419.4L510.3 419L509.3 418.3L508.3 418.2L507.3 418.8L506.3 418.6L505.3 418.2L504.3 418.6L503.3 419.3L502.3 419L501.3 418.4L500.3 419.7L499.3 419.8L498.3 418.4L497.3 417.9L496.3 418.6L495.3 418.7L494.3 418.7L493.3 418.6L492.3 418.2L491.3 413.8L490.3 417.4L489.3 426.7L488.3 431.9L487.3 434.3L486.3 432.6Z" fill="#ffa500" filter="url(#g3)"/>
<path d="M486.3 400L487.3 394.5L488.3 381.7L489.3 373.9L490.3 371.1L491.3 370L492.3 371.3L493.3 370.9L494.3 370.7L495.3 371.6L496.3 371.3L497.3 371L498.3 370.1L499.3 369.8L500.3 370.4L501.3 370.9L502.3 371.4L503.3 370.5L504.3 369.2L505.3 369.3L506.3 370.9L507.3 371.2L508.3 370.5L509.3 370.8L510.3 370.7L511.3 370.5L512.3 370.3L513.3 369.9L514.3 370.4L515.3 370.8L516.3 370.8L517.3 370.8L518.3 370.9L519.3 371L520.3 370.8L521.3 371L522.3 370.9L523.3 370.1L524.3 369.8L525.3 370.1L526.3 370.8L527.3 370.7L528.3 370.2L529.3 370.9L530.3 371.5L531.3 370.5L532.3 369.6L533.3 370L534.3 370.5L535.3 370.3L536.3 369.8L537.3 370.8L538.3 371.4L539.3 371.2L540.3 371.3L541.3 371L542.3 370.1L543.3 370L544.3 370.7L545.3 370.6L546.3 370.3L547.3 369.8L548.3 370.1L549.3 370.8L550.3 371.2L551.3 372.2L552.3 373.7L553.3 372.8L554.3 370.8L555.3 370.1L556.3 369.8L557.3 370.3L558.3 370.5L559.3 370.3L560.3 370.7L561.3 370.4L562.3 370.1L563.3 370.1L564.3 370.7L565.3 370.6L566.3 369.7L567.3 370.3L568.3 370L569.3 370.1L570.3 371.2L571.3 370.8L572.3 370.8L573.3 370.7L574.3 370.7L575.3 369.8L576.3 369.5L577.3 369.9L578.3 369.3L579.3 369.3L580.3 369.9L581.3 370.4L582.3 370.2L583.3 369.8L584.3 370.6L585.3 371.2L586.3 370.3L587.3 369.8L588.3 370.2L589.3 370.8L590.3 370.5L591.3 370.2L592.3 370.7L593.3 370.2L594.3 369.9L595.3 370.4L596.3 369.9L597.3 370.1L598.3 370.7L599.3 370.6L600.3 370.1L601.3 370.7L602.3 370.9L603.3 370.1L604.3 370.2L605.3 370.8L606.3 370.7L607.3 371.3L608.3 372.6L609.3 374.9L610.3 377.8L611.3 380L612.3 382.3L613.3 385.8L614.3 388.3L615.3 391.4L616.3 392.2L617.3 383.5L618.3 373.4L619.3 371.2L620.3 370.4L621.3 370.3L622.3 370.3L623.3 370.8L624.3 370.6L625.3 370.7L626.3 370.9L627.3 370.4L628.3 370.7L629.3 372.1L630.3 374.5L631.3 372.9L632.3 370.2L633.3 370.1L634.3 370.8L635.3 370.7L636.3 370.7L637.3 370.6L638.3 371L639.3 371.1L640.3 370.5L641.3 370.6L642.3 370.4L643.3 370.1L644.3 370.6L645.3 370.9L646.3 370.1L647.3 370.6L648.3 371.2L649.3 370.6L650.3 370.4L651.3 371.1L652.3 370.9L653.3 370L654.3 369.9L655.3 370L656.3 369.6L657.3 369.8L658.3 370.5L659.3 369.5L660.3 369.1L661.3 369.5L662.3 369.7L663.3 369.8L664.3 369.1L665.3 369.7L666.3 370.1L667.3 370L668.3 370.1L669.3 369.3L670.3 368.6L671.3 368.4L672.3 368.8L673.3 369.4L674.3 370L675.3 369.5L676.3 369.1L677.3 369.8L678.3 370.3L679.3 370.4L680.3 370.1L681.3 370L682.3 369.3L683.3 369.1L684.3 369.2L685.3 369.9L686.3 370.7L687.3 369.9L688.3 369.5L689.3 369.4L690.3 369.7L691.3 369.7L692.3 369.5L693.3 369.3L694.3 369.6L695.3 370.1L696.3 369.7L697.3 369.8L698.3 370.2L699.3 370.4L700.3 370.9L701.3 370.5L702.3 370.5L703.3 371.1L704.3 370.5L705.3 370.1L706.3 370.2L707.3 371L708.3 373.2L709.3 373.9L710.3 371.8L711.3 370.7L712.3 371.5L713.3 371.2L714.3 370.1L715.3 369.7L716.3 370.3L717.3 370.3L718.3 369.5L719.3 370.1L720.3 371.1L721.3 371.1L722.3 371.3L723.3 371.6L724.3 371.2L725.3 370.9L726.3 370.8L727.3 370.8L728.3 371L729.3 370.9L730.3 370L731.3 369.3L732.3 369.5L733.3 370.1L734.3 369.9L735.3 369.8L736.3 370.5L737.3 371L738.3 370.5L739.3 369.8L740.3 369.7L741.3 369.6L742.3 369.9L743.3 370.8L744.3 369.8L745.3 369.3L746.3 370.5L747.3 371L748.3 371.4L749.3 371L750.3 369.9L751.3 369.5L752.3 370L753.3 370L754.3 370.4L755.3 370.5L756.3 369.8L757.3 370L758.3 370.7L759.3 370.5L760.3 369.8L761.3 369.7L762.3 370.1L763.3 370.5L764.3 370.3L765.3 369.9L766.3 370.4L767.3 371.5L768.3 372.1L769.3 372.2L770.3 371.1L771.3 370.3L772.3 370.5L773.3 370.3L774.3 370.1L775.3 370.3L776.3 370.6L777.3 371.1L778.3 371.4L779.3 370.9L780.3 370.3L781.3 370.7L782.3 371.1L782.3 416.2L781.3 416.3L780.3 416.6L779.3 416.6L778.3 416.2L777.3 416.2L776.3 415.3L775.3 415.2L774.3 416.6L773.3 416.9L772.3 416.5L771.3 416.2L770.3 416.3L769.3 416.5L768.3 416.5L767.3 416.3L766.3 415.7L765.3 415.9L764.3 416.4L763.3 415.7L762.3 415.9L761.3 415.8L760.3 416.2L759.3 417L758.3 416.7L757.3 416.2L756.3 416.7L755.3 416.8L754.3 416.1L753.3 416.2L752.3 416.5L751.3 416.7L750.3 416.3L749.3 416.2L748.3 415.6L747.3 415.6L746.3 416.3L745.3 416.5L744.3 416.9L743.3 416.6L742.3 415.6L741.3 415.1L740.3 415.4L739.3 415.8L738.3 415.6L737.3 415.7L736.3 416.3L735.3 416L734.3 416.7L733.3 416.7L732.3 416L731.3 416.4L730.3 416.2L729.3 416.2L728.3 416.5L727.3 415.9L726.3 415.7L725.3 416.1L724.3 416.2L723.3 416.9L722.3 416.9L721.3 416.3L720.3 415.7L719.3 416.2L718.3 416.8L717.3 416.2L716.3 416.6L715.3 416.8L714.3 416L713.3 416L712.3 416.5L711.3 416.6L710.3 414.6L709.3 411.3L708.3 412.6L707.3 415.7L706.3 417L705.3 416.4L704.3 416L703.3 416.3L702.3 416L701.3 416.8L700.3 416.7L699.3 415.8L698.3 416L697.3 415.8L696.3 415.9L695.3 416.7L694.3 416.9L693.3 415.7L692.3 415.4L691.3 416L690.3 415.8L689.3 416.3L688.3 416.7L687.3 416.2L686.3 415.9L685.3 415.4L684.3 415.4L683.3 416.7L682.3 416.8L681.3 416.8L680.3 417.5L679.3 416.7L678.3 416L677.3 416.2L676.3 416.8L675.3 416.9L674.3 416.3L673.3 416.6L672.3 416.1L671.3 415.7L670.3 416.1L669.3 416.6L668.3 417L667.3 416.7L666.3 416.7L665.3 416L664.3 416.4L663.3 417.3L662.3 416.6L661.3 415.8L660.3 415.9L659.3 416.1L658.3 416.2L657.3 416.3L656.3 416.6L655.3 416.8L654.3 416.6L653.3 416.4L652.3 416.4L651.3 416L650.3 416.3L649.3 416.3L648.3 416L647.3 416L646.3 416.5L645.3 416.6L644.3 415.9L643.3 416.2L642.3 416.2L641.3 416.3L640.3 416.3L639.3 416L638.3 416.2L637.3 416.7L636.3 417.5L635.3 416.8L634.3 416.3L633.3 416.5L632.3 416.1L631.3 413.9L630.3 411.9L629.3 414.4L628.3 415.7L627.3 416.4L626.3 416.4L625.3 416.4L624.3 416.6L623.3 417.1L622.3 417.9L621.3 420.2L620.3 423.8L619.3 430.4L618.3 437.4L617.3 449.3L616.3 462.2L615.3 463L614.3 463L613.3 450.1L612.3 439.4L611.3 434L610.3 432.3L609.3 429.4L608.3 426L607.3 423.1L606.3 421.2L605.3 418.7L604.3 416.4L603.3 417L602.3 417.1L601.3 416.6L600.3 416.6L599.3 417L598.3 416.7L597.3 415.8L596.3 415.8L595.3 416.5L594.3 415.9L593.3 416L592.3 416.8L591.3 416.3L590.3 416.4L589.3 417L588.3 416.5L587.3 416L586.3 415.7L585.3 415.8L584.3 415.5L583.3 415.7L582.3 416.5L581.3 416.8L580.3 416.9L579.3 416.7L578.3 416.9L577.3 416.7L576.3 416.2L575.3 416L574.3 416.5L573.3 416.9L572.3 416.6L571.3 416.1L570.3 415.7L569.3 415.4L568.3 415.3L567.3 416.1L566.3 416.5L565.3 416.1L564.3 416.4L563.3 416.2L562.3 416.2L561.3 416.9L560.3 417.2L559.3 417.3L558.3 416.8L557.3 416.1L556.3 416L555.3 416.2L554.3 416.1L553.3 413.1L552.3 412L551.3 415.8L550.3 417.5L549.3 416.9L548.3 416.3L547.3 416.3L546.3 416.3L545.3 415.5L544.3 415.5L543.3 416.1L542.3 416.2L541.3 416.1L540.3 416L539.3 416.8L538.3 417L537.3 416.5L536.3 415.5L535.3 415.9L534.3 416.5L533.3 416.3L532.3 415.9L531.3 415.5L530.3 416.2L529.3 416.6L528.3 416.2L527.3 415.2L526.3 416L525.3 416.6L524.3 416.1L523.3 416L522.3 416L521.3 416.8L520.3 416.5L519.3 415.8L518.3 416.9L517.3 417L516.3 416.2L515.3 415.8L514.3 416L513.3 415.8L512.3 415.8L511.3 416.8L510.3 416.9L509.3 415.9L508.3 416.2L507.3 416.7L506.3 416.6L505.3 416.7L504.3 416.6L503.3 416.6L502.3 417L501.3 417.6L500.3 417L499.3 416.4L498.3 416.9L497.3 416.8L496.3 416.5L495.3 417.2L494.3 416.7L493.3 416.1L492.3 416.2L491.3 412.8L490.3 416.5L489.3 425.1L488.3 430L487.3 432.8L486.3 431.8Z" fill="#ffa500" filter="url(#g4)"/>
<path d="M486.3 400.8L487.3 396L488.3 383.4L489.3 374.6L490.3 371.7L491.3 371.1L492.3 370.7L493.3 370.9L494.3 371.3L495.3 370.9L496.3 371L497.3 370.8L498.3 370.7L499.3 370.9L500.3 370.5L501.3 370.4L502.3 370.5L503.3 370.5L504.3 370.7L505.3 371.1L506.3 372.1L507.3 371.5L508.3 370.3L509.3 371.2L510.3 371.8L511.3 371.5L512.3 371.4L513.3 371.2L514.3 371.2L515.3 371.1L516.3 370.4L517.3 370.6L518.3 371L519.3 370.9L520.3 370.8L521.3 370.3L522.3 370.3L523.3 370.7L524.3 370.4L525.3 370.3L526.3 370.7L527.3 370.9L528.3 370.7L529.3 370.3L530.3 370.3L531.3 370.4L532.3 370.6L533.3 371.5L534.3 371.4L535.3 370.2L536.3 370.8L537.3 371.5L538.3 370.8L539.3 371L540.3 370.9L541.3 371.4L542.3 371.5L543.3 370.9L544.3 370.8L545.3 370.9L546.3 371L547.3 370.7L548.3 370.7L549.3 370.6L550.3 371L551.3 372.7L552.3 374.3L553.3 373.1L554.3 371.5L555.3 370.7L556.3 370.2L557.3 370.9L558.3 371.1L559.3 371.1L560.3 370.4L561.3 370.7L562.3 371.4L563.3 371L564.3 371.6L565.3 371.9L566.3 370.8L567.3 371.1L568.3 371.4L569.3 370.7L570.3 370.5L571.3 371.1L572.3 371.5L573.3 371.2L574.3 371.5L575.3 371.4L576.3 370.3L577.3 370.9L578.3 371.5L579.3 370.4L580.3 370.4L581.3 370.8L582.3 370.8L583.3 370.9L584.3 371.2L585.3 371.9L586.3 372L587.3 371.4L588.3 371.9L589.3 371.9L590.3 371.9L591.3 371.9L592.3 370.5L593.3 371L594.3 371.5L595.3 370.9L596.3 370.9L597.3 371.1L598.3 371.3L599.3 371.3L600.3 370.6L601.3 370.8L602.3 371.4L603.3 371.1L604.3 371.1L605.3 371.4L606.3 370.8L607.3 371.3L608.3 373.1L609.3 376.2L610.3 378L611.3 380.3L612.3 382.8L613.3 385.8L614.3 388.9L615.3 391.5L616.3 391.8L617.3 383.5L618.3 373.9L619.3 371.4L620.3 370.6L621.3 370.8L622.3 370.4L623.3 370.3L624.3 370.8L625.3 371.2L626.3 371.5L627.3 371.3L628.3 371.3L629.3 372L630.3 373.9L631.3 373.4L632.3 371.8L633.3 371.7L634.3 372.3L635.3 372.5L636.3 371.5L637.3 370.6L638.3 370.7L639.3 371.4L640.3 371.7L641.3 371.1L642.3 370.6L643.3 370.6L644.3 370.9L645.3 371.4L646.3 372.4L647.3 371.4L648.3 370L649.3 370.8L650.3 371.6L651.3 371.1L652.3 371L653.3 371.3L654.3 370.7L655.3 370.8L656.3 370.9L657.3 370.7L658.3 371.3L659.3 370.8L660.3 370.6L661.3 371.2L662.3 371.4L663.3 370.7L664.3 370.3L665.3 369.9L666.3 369.7L667.3 370.7L668.3 371.4L669.3 371.1L670.3 370L671.3 369.1L672.3 369.7L673.3 370L674.3 370L675.3 370.3L676.3 370.2L677.3 370.7L678.3 370.2L679.3 369.6L680.3 370.4L681.3 371L682.3 370.4L683.3 369.4L684.3 369.6L685.3 369.4L686.3 369.1L687.3 370.3L688.3 370.4L689.3 369.4L690.3 369.6L691.3 370.1L692.3 370L693.3 369.9L694.3 370.6L695.3 370.8L696.3 370.5L697.3 370.8L698.3 371.6L699.3 371.5L700.3 370.3L701.3 370.5L702.3 371.2L703.3 371.3L704.3 371.2L705.3 370.6L706.3 370.6L707.3 371.2L708.3 374.2L709.3 374.7L710.3 371.6L711.3 371L712.3 370.7L713.3 370.4L714.3 370.4L715.3 371L716.3 370.8L717.3 370.4L718.3 371L719.3 371.5L720.3 371.8L721.3 371.4L722.3 370.8L723.3 371.5L724.3 372.4L725.3 371.7L726.3 370.7L727.3 370.3L728.3 370.4L729.3 370.2L730.3 370.3L731.3 370.1L732.3 369.9L733.3 370.3L734.3 370.6L735.3 370.1L736.3 370.1L737.3 371.4L738.3 371.4L739.3 370.6L740.3 370.5L741.3 371.5L742.3 372L743.3 371.5L744.3 371.4L745.3 371.1L746.3 371.6L747.3 371.6L748.3 370.1L749.3 370.4L750.3 371.5L751.3 371.4L752.3 371.3L753.3 371.4L754.3 371.3L755.3 371.9L756.3 372.3L757.3 371.8L758.3 371.3L759.3 371L760.3 370.5L761.3 370.2L762.3 370.1L763.3 370.5L764.3 370.8L765.3 371.2L766.3 371.3L767.3 370.4L768.3 369.7L769.3 370.2L770.3 371.7L771.3 371.8L772.3 371.1L773.3 371.3L774.3 370.9L775.3 371.1L776.3 370.5L777.3 369.9L778.3 370.1L779.3 370.6L780.3 371.9L781.3 371.6L782.3 370.4L782.3 415.1L781.3 415.7L780.3 415L779.3 414.6L778.3 415L777.3 415.4L776.3 415.8L775.3 415.6L774.3 414.9L773.3 414.9L772.3 414.9L771.3 415.3L770.3 415.4L769.3 414.8L768.3 414.7L767.3 415.3L766.3 415.6L765.3 415L764.3 415.5L763.3 415.8L762.3 415.2L761.3 414.4L760.3 414.7L759.3 415.2L758.3 415.1L757.3 414.8L756.3 415.1L755.3 414.9L754.3 414.9L753.3 415.6L752.3 415.5L751.3 414.6L750.3 414.3L749.3 414.9L748.3 415.3L747.3 415L746.3 414.4L745.3 414.4L744.3 414.7L743.3 415.3L742.3 415.1L741.3 414.5L740.3 415L739.3 415.1L738.3 414.8L737.3 414.9L736.3 414.9L735.3 414.7L734.3 414.5L733.3 414.5L732.3 414.6L731.3 414.5L730.3 414.7L729.3 414.8L728.3 415L727.3 414.8L726.3 414.3L725.3 415.2L724.3 415.6L723.3 414.7L722.3 414.2L721.3 414.8L720.3 415.3L719.3 416L718.3 415.5L717.3 414.6L716.3 415.1L715.3 415.4L714.3 415.1L713.3 414.7L712.3 414.9L711.3 414.6L710.3 414.3L709.3 412.1L708.3 411.1L707.3 414L706.3 414.7L705.3 414.8L704.3 414.9L703.3 414.2L702.3 414.2L701.3 414.3L700.3 414.5L699.3 414.7L698.3 414.3L697.3 414.2L696.3 414.5L695.3 414.7L694.3 414.1L693.3 413.7L692.3 414.6L691.3 414.9L690.3 415L689.3 415.4L688.3 415.3L687.3 415.7L686.3 415.4L685.3 414.7L684.3 414.8L683.3 415L682.3 415.2L681.3 415.7L680.3 415.1L679.3 414.4L678.3 414.6L677.3 415.3L676.3 415.6L675.3 414.8L674.3 415.1L673.3 415.3L672.3 414.3L671.3 414.2L670.3 414.9L669.3 415L668.3 414.4L667.3 414.1L666.3 414.3L665.3 414.9L664.3 414.4L663.3 414.7L662.3 415.7L661.3 415.5L660.3 415.2L659.3 415.9L658.3 416.4L657.3 415.4L656.3 415.2L655.3 415.4L654.3 414.9L653.3 414.1L652.3 414.2L651.3 414.7L650.3 414L649.3 414.5L648.3 415.4L647.3 415.5L646.3 415.9L645.3 415.4L644.3 414.5L643.3 414.9L642.3 415.1L641.3 415.2L640.3 414.6L639.3 414.4L638.3 415.1L637.3 415.3L636.3 415.1L635.3 414.8L634.3 415.3L633.3 415.4L632.3 414.5L631.3 412.4L630.3 410.9L629.3 413.1L628.3 414.7L627.3 415.5L626.3 415.2L625.3 414.6L624.3 415.3L623.3 416.1L622.3 417L621.3 420.1L620.3 423.1L619.3 428.2L618.3 435.2L617.3 448.2L616.3 462L615.3 462.6L614.3 463L613.3 449.8L612.3 439.2L611.3 434.2L610.3 431.1L609.3 428L608.3 424.7L607.3 422.5L606.3 420.4L605.3 417.8L604.3 415.4L603.3 415.4L602.3 415.1L601.3 415.3L600.3 414.6L599.3 414L598.3 414.6L597.3 414.9L596.3 415L595.3 414.3L594.3 414.6L593.3 415.4L592.3 415.5L591.3 415.4L590.3 415.4L589.3 415.4L588.3 415.3L587.3 414.9L586.3 414.6L585.3 415.2L584.3 415.6L583.3 415.4L582.3 415.1L581.3 415.5L580.3 415.1L579.3 415.1L578.3 415.9L577.3 415.3L576.3 415.1L575.3 414.8L574.3 414.2L573.3 414.5L572.3 414L571.3 414.6L570.3 415.2L569.3 414.7L568.3 414.8L567.3 415.3L566.3 416L565.3 415.4L564.3 414.4L563.3 414.6L562.3 414.9L561.3 415.7L560.3 415.4L559.3 414.6L558.3 415.2L557.3 415.8L556.3 415.1L555.3 415L554.3 414.5L553.3 411.6L552.3 411.4L551.3 414L550.3 414.8L549.3 415.2L548.3 415L547.3 414.8L546.3 414.7L545.3 414.8L544.3 415L543.3 414.9L542.3 415.2L541.3 414.9L540.3 414.8L539.3 415.4L538.3 415.2L537.3 415L536.3 415.6L535.3 415.1L534.3 414.7L533.3 415.4L532.3 415.9L531.3 415.9L530.3 415.2L529.3 415.1L528.3 415.3L527.3 414.7L526.3 414.4L525.3 414.1L524.3 414.1L523.3 415.2L522.3 415.9L521.3 415.4L520.3 415.5L519.3 415.9L518.3 415.4L517.3 415.2L516.3 415.5L515.3 415L514.3 414.4L513.3 414.5L512.3 414L511.3 414.2L510.3 415.1L509.3 415.1L508.3 414.8L507.3 414.7L506.3 414.6L505.3 414.7L504.3 415L503.3 414.8L502.3 414.7L501.3 414.7L500.3 414.9L499.3 415.2L498.3 415.1L497.3 415L496.3 415.1L495.3 414.8L494.3 415.7L493.3 416.5L492.3 415L491.3 412.8L490.3 417.2L489.3 426.5L488.3 430.6L487.3 432.2L486.3 431.5Z" fill="#ffa500" filter="url(#g5)"/>
<path d="M486.3 405.3L487.3 400.1L488.3 386.7L489.3 378.4L490.3 375.9L491.3 375.1L492.3 375.3L493.3 375.2L494.3 375.1L495.3 375.6L496.3 375.5L497.3 375.2L498.3 375.2L499.3 375.3L500.3 375.5L501.3 375.4L502.3 375.3L503.3 375.1L504.3 375L505.3 375.3L506.3 375.4L507.3 375.4L508.3 375.5L509.3 375.3L510.3 375.3L511.3 375.5L512.3 375.3L513.3 375.4L514.3 374.9L515.3 375.5L516.3 375.3L517.3 375.3L518.3 375.4L519.3 375.3L520.3 375.1L521.3 375.2L522.3 375.5L523.3 375.3L524.3 375.3L525.3 375.2L526.3 375.3L527.3 375.2L528.3 375.1L529.3 375.3L530.3 375.2L531.3 375.1L532.3 375.4L533.3 375.2L534.3 375.3L535.3 375.5L536.3 375.5L537.3 375.2L538.3 375.3L539.3 375.3L540.3 375.2L541.3 375.3L542.3 375.2L543.3 375.2L544.3 375.3L545.3 375.3L546.3 375.4L547.3 375.3L548.3 375.4L549.3 375.2L550.3 375.2L551.3 375.4L552.3 375.2L553.3 375.4L554.3 375.4L555.3 375.2L556.3 375.2L557.3 375.3L558.3 375.4L559.3 375.2L560.3 375.2L561.3 375.1L562.3 375.3L563.3 375.4L564.3 375.4L565.3 375.3L566.3 375.4L567.3 375.5L568.3 375.4L569.3 375.3L570.3 375.3L571.3 375.4L572.3 375.3L573.3 375.3L574.3 375.4L575.3 375.3L576.3 375.4L577.3 375.2L578.3 375.5L579.3 375.3L580.3 375.2L581.3 375.2L582.3 375.6L583.3 375.4L584.3 375.4L585.3 375.2L586.3 375.3L587.3 375.2L588.3 375.4L589.3 375.3L590.3 375.3L591.3 375.1L592.3 375.6L593.3 375.1L594.3 375.9L595.3 375.3L596.3 375.5L597.3 375.3L598.3 375.5L599.3 375.4L600.3 375.1L601.3 375.2L602.3 375.1L603.3 375.4L604.3 375.3L605.3 375.3L606.3 375.5L607.3 376.9L608.3 378.3L609.3 380.2L610.3 382.3L611.3 384.7L612.3 386.9L613.3 390L614.3 393.3L615.3 396.2L616.3 396.4L617.3 388.4L618.3 378.5L619.3 376.4L620.3 375L621.3 375.4L622.3 375.4L623.3 375.3L624.3 375.3L625.3 375.4L626.3 375.2L627.3 375.3L628.3 375.4L629.3 375L630.3 375.3L631.3 375.4L632.3 375.4L633.3 375.4L634.3 375.1L635.3 375.5L636.3 375.1L637.3 374.9L638.3 375.3L639.3 375.3L640.3 375.3L641.3 375.4L642.3 375.5L643.3 375.4L644.3 375.1L645.3 375.4L646.3 375.4L647.3 375.3L648.3 375.3L649.3 375.3L650.3 375.4L651.3 375.2L652.3 374.9L653.3 375.3L654.3 375.2L655.3 375.2L656.3 375.4L657.3 375.1L658.3 375.3L659.3 375.1L660.3 375.1L661.3 375.2L662.3 375.1L663.3 375.3L664.3 375.1L665.3 375.3L666.3 375.3L667.3 375.2L668.3 375.4L669.3 375.4L670.3 375.4L671.3 375.5L672.3 375.3L673.3 375.5L674.3 375.4L675.3 375.3L676.3 375.5L677.3 375.2L678.3 375.1L679.3 375.1L680.3 375.3L681.3 375.1L682.3 375.4L683.3 375.1L684.3 375.2L685.3 375.3L686.3 375.4L687.3 375.2L688.3 375.4L689.3 375.4L690.3 375.3L691.3 375L692.3 375.4L693.3 375.2L694.3 375.2L695.3 375.3L696.3 375L697.3 375.4L698.3 375.1L699.3 375.3L700.3 375.3L701.3 375.2L702.3 375.3L703.3 375.3L704.3 375.3L705.3 375.3L706.3 375.3L707.3 375.2L708.3 375.1L709.3 375.3L710.3 375L711.3 375.1L712.3 375.4L713.3 375.4L714.3 375.3L715.3 375.4L716.3 375.2L717.3 375.2L718.3 375.4L719.3 375.3L720.3 375.3L721.3 375.3L722.3 375.6L723.3 375.4L724.3 375.4L725.3 375.2L726.3 375.4L727.3 375.2L728.3 375.2L729.3 375.2L730.3 375.3L731.3 375.5L732.3 375.2L733.3 375.4L734.3 375.3L735.3 375.3L736.3 375.6L737.3 375.3L738.3 375L739.3 375.4L740.3 375.4L741.3 375L742.3 375.4L743.3 375.1L744.3 375.3L745.3 375.5L746.3 375.1L747.3 375.2L748.3 375.5L749.3 375.3L750.3 375.2L751.3 375.4L752.3 375.4L753.3 375.4L754.3 375.6L755.3 375L756.3 375L757.3 375.2L758.3 375L759.3 375.1L760.3 375.1L761.3 375.4L762.3 375.4L763.3 375.2L764.3 375.6L765.3 375.5L766.3 375.2L767.3 375.2L768.3 375.2L769.3 375.4L770.3 375.4L771.3 375.3L772.3 375.3L773.3 375.3L774.3 375.4L775.3 375.2L776.3 375.3L777.3 375.1L778.3 375.3L779.3 375.2L780.3 375.3L781.3 375L782.3 375.1L782.3 410.2L781.3 410.4L780.3 410.2L779.3 410.3L778.3 410.4L777.3 410.3L776.3 410.4L775.3 410.3L774.3 410.5L773.3 410.3L772.3 410.4L771.3 410.2L770.3 410.1L769.3 410.5L768.3 410.1L767.3 410.1L766.3 410.4L765.3 410.3L764.3 410.3L763.3 410.3L762.3 410.3L761.3 410.2L760.3 410.2L759.3 410.2L758.3 410.3L757.3 410.3L756.3 410.2L755.3 409.9L754.3 409.9L753.3 410.2L752.3 410.1L751.3 410.2L750.3 410.4L749.3 410.4L748.3 410.3L747.3 410.3L746.3 410.5L745.3 410.2L744.3 410.6L743.3 410.4L742.3 410.2L741.3 410.2L740.3 410.3L739.3 410.2L738.3 410.4L737.3 410.2L736.3 410.5L735.3 410.5L734.3 410.6L733.3 410.2L732.3 410.4L731.3 410.4L730.3 410.5L729.3 410.4L728.3 410.3L727.3 410.3L726.3 410.3L725.3 410.4L724.3 410.4L723.3 410.4L722.3 410.5L721.3 410L720.3 410.4L719.3 410.4L718.3 410.4L717.3 410.5L716.3 410.3L715.3 410.4L714.3 410L713.3 410.4L712.3 410.2L711.3 410.5L710.3 410.2L709.3 410.4L708.3 409.9L707.3 410.3L706.3 410.5L705.3 410.5L704.3 410.4L703.3 410.4L702.3 410.4L701.3 410.5L700.3 410.2L699.3 410.6L698.3 410.4L697.3 410.2L696.3 410.3L695.3 410.3L694.3 410.4L693.3 409.9L692.3 410.3L691.3 410.2L690.3 410.3L689.3 410.8L688.3 410.4L687.3 410.4L686.3 410.4L685.3 410.4L684.3 410.6L683.3 410.2L682.3 410.4L681.3 410.4L680.3 410.4L679.3 410.4L678.3 410.2L677.3 410.6L676.3 410.3L675.3 410.4L674.3 410.6L673.3 410.3L672.3 410.3L671.3 410.2L670.3 410.4L669.3 410.1L668.3 410.3L667.3 410.2L666.3 410.4L665.3 410.5L664.3 410.3L663.3 410.5L662.3 410.4L661.3 410.2L660.3 410.5L659.3 410.4L658.3 410.3L657.3 410.4L656.3 410.5L655.3 410.2L654.3 410.3L653.3 410.2L652.3 410.4L651.3 410.5L650.3 410.3L649.3 410.2L648.3 410.4L647.3 410.1L646.3 410.3L645.3 410.5L644.3 410.2L643.3 410.2L642.3 410.4L641.3 410.3L640.3 410.2L639.3 410.1L638.3 410.1L637.3 410.1L636.3 410.4L635.3 410.4L634.3 410.5L633.3 410.3L632.3 410.2L631.3 410.3L630.3 410.3L629.3 410.3L628.3 410.3L627.3 410.3L626.3 410.2L625.3 410.4L624.3 410.3L623.3 411.7L622.3 412.7L621.3 416.2L620.3 419.8L619.3 426.2L618.3 433.3L617.3 446.5L616.3 460.7L615.3 462.1L614.3 462.1L613.3 448.7L612.3 437.2L611.3 431.4L610.3 427.3L609.3 423.9L608.3 420.4L607.3 417.8L606.3 415.2L605.3 412.8L604.3 410.2L603.3 410.1L602.3 410.6L601.3 410.5L600.3 410.2L599.3 410.4L598.3 410.1L597.3 410.4L596.3 410.4L595.3 410.2L594.3 410.4L593.3 410.3L592.3 410.3L591.3 410.2L590.3 410.2L589.3 410.5L588.3 410.2L587.3 410.3L586.3 410.4L585.3 410.4L584.3 410.3L583.3 410L582.3 410.3L581.3 410.2L580.3 410.4L579.3 410.2L578.3 409.9L577.3 410.4L576.3 410.2L575.3 410.4L574.3 410.3L573.3 410.6L572.3 410.1L571.3 410.2L570.3 410.2L569.3 410.2L568.3 410.3L567.3 410.1L566.3 410.1L565.3 410.4L564.3 410.3L563.3 410.2L562.3 410.4L561.3 410.5L560.3 410.2L559.3 410.3L558.3 410.3L557.3 410.2L556.3 410.3L555.3 410.6L554.3 410.4L553.3 410.3L552.3 410L551.3 410.3L550.3 410.4L549.3 410.3L548.3 410.4L547.3 410.4L546.3 410.3L545.3 410.6L544.3 410.5L543.3 410.1L542.3 410.3L541.3 410.6L540.3 410.3L539.3 410.2L538.3 410.4L537.3 410.4L536.3 410.2L535.3 410.4L534.3 410.3L533.3 410.4L532.3 410.3L531.3 410.4L530.3 410.4L529.3 410.3L528.3 410.4L527.3 409.9L526.3 410.2L525.3 410.4L524.3 410.3L523.3 410.3L522.3 410.3L521.3 409.9L520.3 410.5L519.3 410.4L518.3 410.2L517.3 410.2L516.3 410.1L515.3 410.2L514.3 410.3L513.3 410.3L512.3 410.2L511.3 410.3L510.3 410.4L509.3 410.3L508.3 410.3L507.3 410.5L506.3 410.4L505.3 410.4L504.3 410.3L503.3 410.6L502.3 410.3L501.3 410.3L500.3 410.3L499.3 410.3L498.3 410L497.3 410.1L496.3 410.3L495.3 410.5L494.3 410.5L493.3 410.2L492.3 410.1L491.3 411.5L490.3 415L489.3 424.5L488.3 429.4L487.3 431.4L486.3 430.2Z" fill="#ffa500" />
<path d="M487.3 390.4H782.7" stroke="#fff" stroke-width="0.8" opacity="0.85"/>
<path d="M487.3 403.6H782.7" stroke="#fff" stroke-width="0.8" opacity="0.85"/>
<path d="M487.3 375.4H782.7" stroke="#fff" stroke-width="0.8" opacity="0.3"/>
<path d="M487.3 410.5H782.7" stroke="#fff" stroke-width="0.8" opacity="0.25"/>
<path d="M608.4 419.0H620.9" stroke="#fff" stroke-width="0.7" opacity="0.6"/>
<path d="M608.4 426.5H620.9" stroke="#fff" stroke-width="0.7" opacity="0.6"/>
<path d="M608.4 434.0H620.9" stroke="#fff" stroke-width="0.7" opacity="0.6"/>
<path d="M608.4 441.5H620.9" stroke="#fff" stroke-width="0.7" opacity="0.6"/>
<path d="M608.4 449.0H620.9" stroke="#fff" stroke-width="0.7" opacity="0.6"/>
<path d="M608.4 456.5H620.9" stroke="#fff" stroke-width="0.7" opacity="0.6"/>
<path d="M552.6 372V416" stroke="#fff" stroke-width="0.9" opacity="0.42"/>
<path d="M630.4 372V416" stroke="#fff" stroke-width="0.9" opacity="0.42"/>
<path d="M708.9 372V416" stroke="#fff" stroke-width="0.9" opacity="0.42"/>
<path d="M535.3 367.9l1.5 -1.5l1.5 1.5l-1.5 1.5zM757.7 368l1.5 -1.5l1.5 1.5l-1.5 1.5zM592.8 363.1l1.5 -1.5l1.5 1.5l-1.5 1.5zM747.1 365l1.5 -1.5l1.5 1.5l-1.5 1.5zM610.2 367.6l1.5 -1.5l1.5 1.5l-1.5 1.5zM738.7 363.3l1.5 -1.5l1.5 1.5l-1.5 1.5zM771.5 363.1l1.5 -1.5l1.5 1.5l-1.5 1.5zM701.2 366l1.5 -1.5l1.5 1.5l-1.5 1.5zM706.7 365.2l1.5 -1.5l1.5 1.5l-1.5 1.5zM578.5 364.5l1.5 -1.5l1.5 1.5l-1.5 1.5zM644.1 363.5l1.5 -1.5l1.5 1.5l-1.5 1.5zM597.9 364l1.5 -1.5l1.5 1.5l-1.5 1.5zM674.9 364.4l1.5 -1.5l1.5 1.5l-1.5 1.5zM771.9 364.4l1.5 -1.5l1.5 1.5l-1.5 1.5zM705.9 367l1.5 -1.5l1.5 1.5l-1.5 1.5zM720.6 367.7l1.5 -1.5l1.5 1.5l-1.5 1.5zM633.1 365.5l1.5 -1.5l1.5 1.5l-1.5 1.5zM755.7 367.5l1.5 -1.5l1.5 1.5l-1.5 1.5zM752.3 367.4l1.5 -1.5l1.5 1.5l-1.5 1.5zM753 364l1.5 -1.5l1.5 1.5l-1.5 1.5zM770.6 365.9l1.5 -1.5l1.5 1.5l-1.5 1.5zM531.1 365.8l1.5 -1.5l1.5 1.5l-1.5 1.5zM493.5 364.1l1.5 -1.5l1.5 1.5l-1.5 1.5zM596.2 364.7l1.5 -1.5l1.5 1.5l-1.5 1.5zM499.4 367.4l1.5 -1.5l1.5 1.5l-1.5 1.5zM634.7 367.8l1.5 -1.5l1.5 1.5l-1.5 1.5zM558.5 364.8l1.5 -1.5l1.5 1.5l-1.5 1.5zM518 364.8l1.5 -1.5l1.5 1.5l-1.5 1.5zM559.3 363.6l1.5 -1.5l1.5 1.5l-1.5 1.5zM765.5 364.2l1.5 -1.5l1.5 1.5l-1.5 1.5zM643.9 363.2l1.5 -1.5l1.5 1.5l-1.5 1.5zM692.2 363.6l1.5 -1.5l1.5 1.5l-1.5 1.5zM568.4 365.6l1.5 -1.5l1.5 1.5l-1.5 1.5zM561.5 366l1.5 -1.5l1.5 1.5l-1.5 1.5zM694.7 364l1.5 -1.5l1.5 1.5l-1.5 1.5zM514.4 364.1l1.5 -1.5l1.5 1.5l-1.5 1.5zM627.8 363.1l1.5 -1.5l1.5 1.5l-1.5 1.5zM781.7 365.5l1.5 -1.5l1.5 1.5l-1.5 1.5zM522.4 366.9l1.5 -1.5l1.5 1.5l-1.5 1.5zM496.4 365.2l1.5 -1.5l1.5 1.5l-1.5 1.5zM773.3 364.2l1.5 -1.5l1.5 1.5l-1.5 1.5zM523.1 366.3l1.5 -1.5l1.5 1.5l-1.5 1.5zM686.3 365l1.5 -1.5l1.5 1.5l-1.5 1.5zM680.8 366.4l1.5 -1.5l1.5 1.5l-1.5 1.5zM583.2 363.6l1.5 -1.5l1.5 1.5l-1.5 1.5zM752.3 364.5l1.5 -1.5l1.5 1.5l-1.5 1.5zM670.4 367.5l1.5 -1.5l1.5 1.5l-1.5 1.5zM534.4 366.7l1.5 -1.5l1.5 1.5l-1.5 1.5zM652 367.7l1.5 -1.5l1.5 1.5l-1.5 1.5zM674.2 366.2l1.5 -1.5l1.5 1.5l-1.5 1.5zM614.1 418.4l1.5 -1.5l1.5 1.5l-1.5 1.5zM634.7 419.4l1.5 -1.5l1.5 1.5l-1.5 1.5zM558.7 420.8l1.5 -1.5l1.5 1.5l-1.5 1.5zM645.9 420.2l1.5 -1.5l1.5 1.5l-1.5 1.5zM547.9 418.7l1.5 -1.5l1.5 1.5l-1.5 1.5zM735.1 418.8l1.5 -1.5l1.5 1.5l-1.5 1.5zM542.2 421.5l1.5 -1.5l1.5 1.5l-1.5 1.5zM587.6 419.8l1.5 -1.5l1.5 1.5l-1.5 1.5zM723.5 418.9l1.5 -1.5l1.5 1.5l-1.5 1.5zM573.4 422.4l1.5 -1.5l1.5 1.5l-1.5 1.5zM692.8 421.5l1.5 -1.5l1.5 1.5l-1.5 1.5zM681.9 419.3l1.5 -1.5l1.5 1.5l-1.5 1.5zM775.7 418.2l1.5 -1.5l1.5 1.5l-1.5 1.5zM493 418.4l1.5 -1.5l1.5 1.5l-1.5 1.5zM686.8 421.5l1.5 -1.5l1.5 1.5l-1.5 1.5zM509.3 421.7l1.5 -1.5l1.5 1.5l-1.5 1.5zM626.8 419l1.5 -1.5l1.5 1.5l-1.5 1.5zM529.9 419.3l1.5 -1.5l1.5 1.5l-1.5 1.5zM500.7 422.1l1.5 -1.5l1.5 1.5l-1.5 1.5zM499 421.6l1.5 -1.5l1.5 1.5l-1.5 1.5zM658.9 422.2l1.5 -1.5l1.5 1.5l-1.5 1.5zM737.9 418l1.5 -1.5l1.5 1.5l-1.5 1.5zM601.7 419.2l1.5 -1.5l1.5 1.5l-1.5 1.5zM684.9 419.8l1.5 -1.5l1.5 1.5l-1.5 1.5zM740 420.1l1.5 -1.5l1.5 1.5l-1.5 1.5zM712.5 417.9l1.5 -1.5l1.5 1.5l-1.5 1.5zM581.9 418.4l1.5 -1.5l1.5 1.5l-1.5 1.5zM674.3 420.5l1.5 -1.5l1.5 1.5l-1.5 1.5zM762.4 422.2l1.5 -1.5l1.5 1.5l-1.5 1.5zM534.2 420.1l1.5 -1.5l1.5 1.5l-1.5 1.5zM631.2 422.5l1.5 -1.5l1.5 1.5l-1.5 1.5zM568.4 418.4l1.5 -1.5l1.5 1.5l-1.5 1.5zM555.6 421.8l1.5 -1.5l1.5 1.5l-1.5 1.5zM692.2 417.2l1.5 -1.5l1.5 1.5l-1.5 1.5zM528.3 417.4l1.5 -1.5l1.5 1.5l-1.5 1.5zM752.8 421.4l1.5 -1.5l1.5 1.5l-1.5 1.5zM632 420.5l1.5 -1.5l1.5 1.5l-1.5 1.5zM665.1 420.5l1.5 -1.5l1.5 1.5l-1.5 1.5zM519.7 417.1l1.5 -1.5l1.5 1.5l-1.5 1.5zM737.9 422.5l1.5 -1.5l1.5 1.5l-1.5 1.5zM768.8 419.4l1.5 -1.5l1.5 1.5l-1.5 1.5zM634.7 418l1.5 -1.5l1.5 1.5l-1.5 1.5zM718.5 422.7l1.5 -1.5l1.5 1.5l-1.5 1.5zM529.2 418.8l1.5 -1.5l1.5 1.5l-1.5 1.5zM588.7 419.6l1.5 -1.5l1.5 1.5l-1.5 1.5zM620.7 363.5l1.5 -1.5l1.5 1.5l-1.5 1.5zM626.9 363.5l1.5 -1.5l1.5 1.5l-1.5 1.5zM645 363l1.5 -1.5l1.5 1.5l-1.5 1.5zM623.2 367.8l1.5 -1.5l1.5 1.5l-1.5 1.5zM672 363.5l1.5 -1.5l1.5 1.5l-1.5 1.5zM513.1 421.1l1.5 -1.5l1.5 1.5l-1.5 1.5zM516.8 424.6l1.5 -1.5l1.5 1.5l-1.5 1.5zM534.3 420.3l1.5 -1.5l1.5 1.5l-1.5 1.5zM560.6 420.6l1.5 -1.5l1.5 1.5l-1.5 1.5zM563.6 420.6l1.5 -1.5l1.5 1.5l-1.5 1.5zM575.6 420.3l1.5 -1.5l1.5 1.5l-1.5 1.5zM644.8 363.5l1.5 -1.5l1.5 1.5l-1.5 1.5zM626 363.5l1.5 -1.5l1.5 1.5l-1.5 1.5zM730.7 362.8l1.5 -1.5l1.5 1.5l-1.5 1.5zM753.7 362l1.5 -1.5l1.5 1.5l-1.5 1.5zM775 363.5l1.5 -1.5l1.5 1.5l-1.5 1.5zM713.7 421.1l1.5 -1.5l1.5 1.5l-1.5 1.5zM719.9 424.6l1.5 -1.5l1.5 1.5l-1.5 1.5zM741.2 421.1l1.5 -1.5l1.5 1.5l-1.5 1.5zM748.7 419.1l1.5 -1.5l1.5 1.5l-1.5 1.5zM777.5 424.6l1.5 -1.5l1.5 1.5l-1.5 1.5zM776.2 420.3l1.5 -1.5l1.5 1.5l-1.5 1.5zM671.1 363.5l1.5 -1.5l1.5 1.5l-1.5 1.5zM698.6 369l1.5 -1.5l1.5 1.5l-1.5 1.5z" fill="#ffa500" fill-opacity="0.5" stroke="#ffa500" stroke-width="0.5" opacity="0.2"/>
<rect x="550.3" y="426.1" width="4.3" height="2.6" fill="#ffa500" />
<rect x="628.2" y="426.1" width="4.5" height="2.6" fill="#ffa500" />
<rect x="706.4" y="426.1" width="4.5" height="2.6" fill="#ffa500" />
<rect x="781" y="426.1" width="6.7" height="2.6" fill="#ffa500" />
</g>
<g clip-path="url(#c31)">
<path d="M488.3 565.8L489.3 564.2L490.3 563.3L491.3 563.3L492.3 563L493.3 562.8L494.3 563.2L495.3 563.7L496.3 563.9L497.3 563.8L498.3 563.2L499.3 562.8L500.3 563.3L501.3 563.3L502.3 563.8L503.3 563.8L504.3 563.7L505.3 563.6L506.3 563.3L507.3 563.4L508.3 563.4L509.3 563.4L510.3 563.4L511.3 563.8L512.3 563.7L513.3 563.2L514.3 562.7L515.3 563.1L516.3 564L517.3 563.5L518.3 563.2L519.3 563.9L520.3 563.7L521.3 563.1L522.3 563.5L523.3 563.4L524.3 562.9L525.3 563L526.3 562.5L527.3 562.3L528.3 563.2L529.3 562.7L530.3 562L531.3 562.9L532.3 563.2L533.3 563L534.3 563.1L535.3 562.9L536.3 563.1L537.3 563.3L538.3 563L539.3 562.5L540.3 563.4L541.3 563.7L542.3 563.2L543.3 563.5L544.3 563.3L545.3 563.5L546.3 564.2L547.3 563.6L548.3 562.7L549.3 563.1L550.3 563.6L551.3 563.7L552.3 563.2L553.3 562.7L554.3 562.5L555.3 562.9L556.3 563.2L557.3 562.6L558.3 562.8L559.3 563.6L560.3 563.6L561.3 563.2L562.3 563.3L563.3 562.9L564.3 562.7L565.3 563.5L566.3 563.4L567.3 563L568.3 563L569.3 563.5L570.3 563.5L571.3 562.5L572.3 562.8L573.3 562.9L574.3 562.9L575.3 563.1L576.3 563.1L577.3 563L578.3 563.1L579.3 563.6L580.3 563.5L581.3 563L582.3 562.6L583.3 563L584.3 563.2L585.3 563.4L586.3 563.4L587.3 562.9L588.3 562.4L589.3 562.8L590.3 563.7L591.3 563.7L592.3 563.3L593.3 563.1L594.3 563L595.3 563.4L596.3 564L597.3 564L598.3 563.5L599.3 563.7L600.3 564L601.3 563.1L602.3 562.6L603.3 562.7L604.3 561.9L605.3 561.8L606.3 562.8L607.3 563.1L608.3 563.4L609.3 563.5L610.3 563.4L611.3 563.5L612.3 563.2L613.3 563.7L614.3 564.1L615.3 563.5L616.3 563.4L617.3 563.3L618.3 563.2L619.3 563.5L620.3 563.2L621.3 562.9L622.3 563.8L623.3 563.8L624.3 563.5L625.3 563.5L626.3 563L627.3 563.4L628.3 563.2L629.3 563.5L630.3 564L631.3 563.5L632.3 563.8L633.3 563.7L634.3 563.6L635.3 563.7L636.3 563.5L637.3 563.5L638.3 563.2L639.3 563.1L640.3 563.5L641.3 563.6L642.3 563.2L643.3 563.1L644.3 562.7L645.3 563.2L646.3 563.7L647.3 563L648.3 562.9L649.3 563.3L650.3 563.2L651.3 563.1L652.3 563.2L653.3 563.3L654.3 562.7L655.3 561.9L656.3 563L657.3 563.6L658.3 563.5L659.3 563.4L660.3 563.5L661.3 564L662.3 563.9L663.3 563.6L664.3 563.8L665.3 563.5L666.3 563.2L667.3 563.6L668.3 563.7L669.3 563.7L670.3 563.7L671.3 563.9L672.3 564L673.3 563.5L674.3 563L675.3 563.4L676.3 563.6L677.3 563.2L678.3 563.1L679.3 562.8L680.3 563.3L681.3 563.5L682.3 563.3L683.3 563.1L684.3 562.9L685.3 563.1L686.3 563.3L687.3 563.6L688.3 563.8L689.3 563.7L690.3 563.9L691.3 563.9L692.3 563.3L693.3 563.4L694.3 564L695.3 563.7L696.3 563.7L697.3 563.9L698.3 563.5L699.3 563L700.3 562.8L701.3 563L702.3 563.4L703.3 563.4L704.3 563.4L705.3 563.9L706.3 563.6L707.3 563.2L708.3 563.1L709.3 563.2L710.3 563.3L711.3 563.3L712.3 563.3L713.3 563.3L714.3 563.8L715.3 563.8L716.3 563.2L717.3 563L718.3 563.3L719.3 563.4L720.3 563.3L721.3 563.4L722.3 563.2L723.3 562.7L724.3 562.9L725.3 562.8L726.3 563L727.3 563.3L728.3 562.9L729.3 563.2L730.3 563.1L731.3 563.4L732.3 563.4L733.3 563.2L734.3 563.5L735.3 563.8L736.3 563.9L737.3 563.9L738.3 563.9L739.3 563.1L740.3 563L741.3 563.4L742.3 563.3L743.3 563.4L744.3 563.7L745.3 563.2L746.3 563L747.3 563L748.3 561.8L749.3 562.3L750.3 563.3L751.3 563.4L752.3 563.3L753.3 563.2L754.3 563.2L755.3 563L756.3 561.9L757.3 562.8L758.3 563.3L759.3 563.3L760.3 563.4L761.3 562.9L762.3 563.3L763.3 563.3L764.3 562.8L765.3 562.8L766.3 563.3L767.3 562.5L768.3 562.7L769.3 563.9L770.3 563.8L771.3 563.7L772.3 563.2L773.3 563L774.3 563.4L775.3 563.7L776.3 563.7L777.3 563.5L778.3 563.2L779.3 563.9L780.3 563.7L781.3 563.1L782.3 563.1L782.3 575.1L781.3 575.1L780.3 574.9L779.3 574.7L778.3 574.5L777.3 574.8L776.3 575.1L775.3 575.4L774.3 575.2L773.3 574.8L772.3 575.4L771.3 575.4L770.3 574.9L769.3 575.5L768.3 575.9L767.3 575.7L766.3 575.4L765.3 574.9L764.3 574.5L763.3 574.6L762.3 575L761.3 575L760.3 574.7L759.3 574.8L758.3 575.2L757.3 576.1L756.3 576.3L755.3 575.3L754.3 574.6L753.3 574.7L752.3 574.7L751.3 574.7L750.3 575.4L749.3 575.9L748.3 575.8L747.3 575.1L746.3 575.2L745.3 575L744.3 574.7L743.3 575.2L742.3 575.2L741.3 575L740.3 575L739.3 575.2L738.3 575.5L737.3 575.4L736.3 575.6L735.3 575.5L734.3 575.3L733.3 575.3L732.3 574.9L731.3 575.3L730.3 575.7L729.3 575.4L728.3 575.4L727.3 575.3L726.3 574.9L725.3 574.6L724.3 575.1L723.3 575L722.3 574.7L721.3 574.8L720.3 575L719.3 575.2L718.3 574.8L717.3 574.9L716.3 575.4L715.3 575.1L714.3 574.6L713.3 575L712.3 575.1L711.3 574.6L710.3 574.3L709.3 574.6L708.3 574.4L707.3 574.6L706.3 574.7L705.3 574.9L704.3 575L703.3 575.1L702.3 575.8L701.3 575.5L700.3 575.2L699.3 575.4L698.3 575.4L697.3 574.8L696.3 574.6L695.3 575.5L694.3 575.8L693.3 575.6L692.3 575.1L691.3 575.1L690.3 575.1L689.3 574.9L688.3 575.8L687.3 575.5L686.3 575L685.3 575.2L684.3 575.3L683.3 575.2L682.3 574.8L681.3 574.9L680.3 575.2L679.3 575L678.3 574.9L677.3 575L676.3 575.3L675.3 575.7L674.3 574.9L673.3 574.5L672.3 574.9L671.3 575L670.3 575.2L669.3 575.2L668.3 574.9L667.3 575.1L666.3 574.8L665.3 574.2L664.3 574.6L663.3 575.4L662.3 575.6L661.3 574.8L660.3 574.7L659.3 575.1L658.3 575L657.3 575.4L656.3 576.5L655.3 576.9L654.3 575.3L653.3 574.6L652.3 574.7L651.3 575L650.3 575.1L649.3 575L648.3 574.8L647.3 575L646.3 575.3L645.3 575.2L644.3 575.2L643.3 575.2L642.3 574.9L641.3 574.9L640.3 575.4L639.3 575.6L638.3 575.2L637.3 575L636.3 575.2L635.3 575L634.3 574.8L633.3 574.9L632.3 575L631.3 575.1L630.3 575.3L629.3 575.3L628.3 575.1L627.3 575.3L626.3 575.4L625.3 575.2L624.3 575.2L623.3 575.3L622.3 574.9L621.3 574.7L620.3 574.6L619.3 574.7L618.3 574.9L617.3 574.4L616.3 574.7L615.3 575.3L614.3 575.4L613.3 575.2L612.3 575.3L611.3 574.9L610.3 574.6L609.3 574.7L608.3 574.3L607.3 574.3L606.3 575.3L605.3 576.1L604.3 575.6L603.3 575.8L602.3 575.7L601.3 575.1L600.3 574.8L599.3 574.4L598.3 575.2L597.3 575.4L596.3 574.7L595.3 574.9L594.3 575L593.3 574.5L592.3 574.7L591.3 575.6L590.3 576.1L589.3 575.9L588.3 575.3L587.3 575.3L586.3 575.5L585.3 575.7L584.3 575.8L583.3 575.8L582.3 576L581.3 575.6L580.3 575.5L579.3 575.6L578.3 575.5L577.3 575L576.3 574.6L575.3 575L574.3 575L573.3 574.8L572.3 575.1L571.3 574.4L570.3 574.3L569.3 575.3L568.3 575.6L567.3 575.1L566.3 575.6L565.3 576L564.3 575.2L563.3 574.8L562.3 575L561.3 575.2L560.3 575.3L559.3 575.1L558.3 574.6L557.3 574.6L556.3 575.1L555.3 575.1L554.3 574.9L553.3 575L552.3 575.6L551.3 575.3L550.3 574.7L549.3 574.7L548.3 575.1L547.3 575.3L546.3 575L545.3 575.5L544.3 575.9L543.3 575.1L542.3 574.7L541.3 574.7L540.3 574.9L539.3 575.7L538.3 575.6L537.3 575.1L536.3 575.6L535.3 575.4L534.3 574.9L533.3 575.2L532.3 575.5L531.3 575.6L530.3 576.1L529.3 575.7L528.3 575.2L527.3 575L526.3 574.9L525.3 575.3L524.3 575.2L523.3 575.3L522.3 575.3L521.3 574.7L520.3 574.8L519.3 574.7L518.3 574.7L517.3 574.9L516.3 575L515.3 575.2L514.3 575.4L513.3 575L512.3 574.7L511.3 574.3L510.3 574.6L509.3 575.7L508.3 575.6L507.3 575L506.3 574.8L505.3 574.8L504.3 574.3L503.3 574.2L502.3 574.9L501.3 575.5L500.3 575.7L499.3 575.6L498.3 575.6L497.3 575.5L496.3 575.1L495.3 575.3L494.3 575.1L493.3 574.4L492.3 574.3L491.3 574.2L490.3 574.3L489.3 573.4L488.3 572.8Z" fill="#ffa500" filter="url(#g6)"/>
<path d="M488.3 565.6L489.3 565L490.3 564.3L491.3 564.6L492.3 564.9L493.3 564.5L494.3 564.3L495.3 564.2L496.3 564.3L497.3 563.8L498.3 563.5L499.3 563.3L500.3 563.8L501.3 564.2L502.3 563.5L503.3 563.6L504.3 564.1L505.3 564.2L506.3 564.3L507.3 563.9L508.3 563.4L509.3 563.6L510.3 563.7L511.3 563.9L512.3 564L513.3 563.9L514.3 564.2L515.3 564.2L516.3 563.9L517.3 564.1L518.3 564.5L519.3 564.5L520.3 563.9L521.3 563.8L522.3 564.1L523.3 564.3L524.3 563.8L525.3 563.5L526.3 564.1L527.3 564.2L528.3 564.1L529.3 563.2L530.3 562.9L531.3 563.4L532.3 563.8L533.3 563.8L534.3 563.5L535.3 564.1L536.3 564.4L537.3 564.3L538.3 564L539.3 563.7L540.3 564.1L541.3 564L542.3 563.8L543.3 564.3L544.3 564.3L545.3 564.2L546.3 564.5L547.3 564.6L548.3 564.4L549.3 564.2L550.3 564.3L551.3 563.9L552.3 564.5L553.3 565L554.3 564.6L555.3 564.6L556.3 564.6L557.3 564.3L558.3 564.4L559.3 564.1L560.3 563.5L561.3 563.2L562.3 563.5L563.3 564L564.3 563.8L565.3 564.1L566.3 564.2L567.3 564.3L568.3 564.3L569.3 564.5L570.3 564L571.3 564L572.3 564.6L573.3 564.3L574.3 564.4L575.3 564.5L576.3 564.7L577.3 565L578.3 564.6L579.3 564.3L580.3 564.3L581.3 563.9L582.3 563.4L583.3 564L584.3 564.6L585.3 564.4L586.3 563.9L587.3 564.5L588.3 564.7L589.3 564.4L590.3 564.3L591.3 564L592.3 564.3L593.3 564.7L594.3 564.4L595.3 563.9L596.3 564L597.3 564.3L598.3 564.2L599.3 564.3L600.3 564.5L601.3 564L602.3 563.9L603.3 564.1L604.3 563.9L605.3 563.1L606.3 563.7L607.3 564L608.3 564L609.3 564.3L610.3 563.9L611.3 563.7L612.3 563.6L613.3 563.4L614.3 563.4L615.3 563.8L616.3 564.2L617.3 563.8L618.3 563.7L619.3 563.7L620.3 564.1L621.3 564.1L622.3 563.9L623.3 564.2L624.3 564.4L625.3 564.5L626.3 564.3L627.3 563.7L628.3 563.9L629.3 564.4L630.3 563.8L631.3 563.7L632.3 564.2L633.3 564.1L634.3 564L635.3 563.8L636.3 563.6L637.3 563.6L638.3 564.2L639.3 564.5L640.3 564L641.3 563.8L642.3 563.9L643.3 564.2L644.3 564.1L645.3 563.8L646.3 563.6L647.3 563.5L648.3 563.3L649.3 563.8L650.3 564.1L651.3 564.1L652.3 564.2L653.3 564L654.3 563.2L655.3 562.4L656.3 563.8L657.3 564.7L658.3 564.1L659.3 564.2L660.3 564.3L661.3 563.7L662.3 563.3L663.3 563.2L664.3 563.8L665.3 564.5L666.3 564.1L667.3 563.8L668.3 563.7L669.3 563.8L670.3 564.3L671.3 564.4L672.3 564.1L673.3 563.8L674.3 563.9L675.3 564.3L676.3 564.1L677.3 564L678.3 564.3L679.3 564.4L680.3 563.8L681.3 564.1L682.3 564.4L683.3 563.6L684.3 563.9L685.3 564.8L686.3 564.6L687.3 564.1L688.3 563.7L689.3 563.7L690.3 563.5L691.3 563.8L692.3 564.4L693.3 564L694.3 564.3L695.3 564.8L696.3 564.7L697.3 564.7L698.3 564.6L699.3 564.5L700.3 564L701.3 563.9L702.3 563.8L703.3 563.6L704.3 563.9L705.3 563.8L706.3 563.5L707.3 563.9L708.3 564.2L709.3 564L710.3 564.1L711.3 563.8L712.3 563.8L713.3 563.9L714.3 564L715.3 564.3L716.3 564.2L717.3 564.5L718.3 564.5L719.3 564.3L720.3 564.3L721.3 564.3L722.3 564.5L723.3 564.9L724.3 564.7L725.3 564.1L726.3 564L727.3 564L728.3 564.4L729.3 564.3L730.3 563.7L731.3 563.2L732.3 563.4L733.3 564.1L734.3 564L735.3 564L736.3 564.1L737.3 563.9L738.3 563.9L739.3 563.9L740.3 563.8L741.3 564.6L742.3 564.8L743.3 564.3L744.3 564.1L745.3 564.1L746.3 564.4L747.3 563.9L748.3 562.8L749.3 563.4L750.3 564.3L751.3 564.5L752.3 564.1L753.3 563.5L754.3 563.8L755.3 564.2L756.3 563.1L757.3 563.6L758.3 564L759.3 563.4L760.3 563.3L761.3 563.8L762.3 564.1L763.3 564.2L764.3 563.6L765.3 563.6L766.3 564.1L767.3 563.8L768.3 564L769.3 563.8L770.3 564.1L771.3 564.5L772.3 564.4L773.3 564.2L774.3 564L775.3 564.4L776.3 564.6L777.3 564.6L778.3 564L779.3 563.7L780.3 563.8L781.3 563.9L782.3 563.8L782.3 574.1L781.3 573.7L780.3 573.5L779.3 574L778.3 574L777.3 574.6L776.3 574.4L775.3 574L774.3 573.9L773.3 573.9L772.3 573.9L771.3 574.1L770.3 573.9L769.3 573.5L768.3 574.5L767.3 574.7L766.3 574.6L765.3 574.7L764.3 574.8L763.3 574.5L762.3 573.9L761.3 574.1L760.3 574.5L759.3 574.1L758.3 573.9L757.3 575.1L756.3 575.7L755.3 574.5L754.3 574.2L753.3 574.4L752.3 574.2L751.3 573.9L750.3 574.7L749.3 575L748.3 574.6L747.3 574.2L746.3 574.1L745.3 574.1L744.3 574.1L743.3 573.9L742.3 574.3L741.3 574.5L740.3 574.3L739.3 574L738.3 573.8L737.3 574.1L736.3 574.5L735.3 574.2L734.3 573.7L733.3 573.9L732.3 574.1L731.3 573.7L730.3 573.6L729.3 573.8L728.3 573.8L727.3 573.6L726.3 573.7L725.3 573.9L724.3 574.3L723.3 574.8L722.3 574.5L721.3 574.4L720.3 574.5L719.3 574.4L718.3 573.9L717.3 574L716.3 574.2L715.3 573.9L714.3 573.6L713.3 573.5L712.3 574.3L711.3 574.6L710.3 574.4L709.3 574.7L708.3 574.7L707.3 574.6L706.3 574.2L705.3 574.2L704.3 574.1L703.3 573.6L702.3 573.5L701.3 574.2L700.3 574.3L699.3 573.7L698.3 573.8L697.3 574.4L696.3 574.1L695.3 574L694.3 573.9L693.3 573.9L692.3 574.2L691.3 574.2L690.3 574.4L689.3 574.1L688.3 574.5L687.3 574.8L686.3 574.5L685.3 574.3L684.3 574.5L683.3 574.4L682.3 573.7L681.3 573.7L680.3 574.4L679.3 574.5L678.3 574.1L677.3 574.3L676.3 574.1L675.3 573.6L674.3 574.1L673.3 574.5L672.3 574.5L671.3 574.1L670.3 574.2L669.3 574.6L668.3 574.3L667.3 574L666.3 573.9L665.3 573.7L664.3 573.9L663.3 574.5L662.3 574.8L661.3 574.6L660.3 574.8L659.3 574.9L658.3 574.7L657.3 574.2L656.3 574.9L655.3 575.9L654.3 575.1L653.3 574.3L652.3 573.7L651.3 573.9L650.3 574L649.3 573.7L648.3 574.1L647.3 574.4L646.3 574.1L645.3 573.7L644.3 573.2L643.3 573.6L642.3 574.2L641.3 574.4L640.3 574.6L639.3 574.2L638.3 574.2L637.3 574.7L636.3 574.4L635.3 574.2L634.3 574.6L633.3 574.5L632.3 574.3L631.3 574.2L630.3 574L629.3 574L628.3 574.2L627.3 574.2L626.3 574.8L625.3 574.1L624.3 573.9L623.3 574.8L622.3 574.5L621.3 574.3L620.3 574.3L619.3 574L618.3 574.3L617.3 573.6L616.3 573.4L615.3 574.3L614.3 573.9L613.3 573.9L612.3 573.9L611.3 573.9L610.3 574.3L609.3 574.3L608.3 574.2L607.3 574.2L606.3 574.2L605.3 575.2L604.3 575L603.3 574.7L602.3 574.8L601.3 574.6L600.3 574.6L599.3 574.2L598.3 574.2L597.3 574.4L596.3 574.7L595.3 574.5L594.3 574.2L593.3 573.9L592.3 574L591.3 574.1L590.3 573.9L589.3 574.1L588.3 574.3L587.3 574.4L586.3 574.3L585.3 574.3L584.3 574.2L583.3 574.2L582.3 574.9L581.3 574.7L580.3 573.8L579.3 574.4L578.3 574.9L577.3 574.3L576.3 574.7L575.3 574.3L574.3 573.9L573.3 574.3L572.3 574.1L571.3 574.4L570.3 574.6L569.3 574.4L568.3 574.5L567.3 574.5L566.3 574.4L565.3 574.2L564.3 573.8L563.3 573.8L562.3 574.2L561.3 574.6L560.3 574.9L559.3 574.9L558.3 574L557.3 574L556.3 574.2L555.3 574.4L554.3 574.6L553.3 574.1L552.3 574.3L551.3 574.5L550.3 574.3L549.3 574.3L548.3 574.6L547.3 574.7L546.3 574.1L545.3 573.9L544.3 574.2L543.3 574.1L542.3 574L541.3 574.4L540.3 574.7L539.3 574.9L538.3 574.8L537.3 574.5L536.3 574.5L535.3 574.3L534.3 573.9L533.3 574L532.3 574.4L531.3 574.6L530.3 575.3L529.3 574.9L528.3 574.5L527.3 575L526.3 575.1L525.3 574.5L524.3 574.5L523.3 574.5L522.3 574.1L521.3 574.2L520.3 574L519.3 573.8L518.3 574.1L517.3 574.3L516.3 574.5L515.3 574.6L514.3 574.3L513.3 574.1L512.3 574.2L511.3 574.2L510.3 574.2L509.3 574.1L508.3 573.9L507.3 573.9L506.3 574.4L505.3 574.6L504.3 574L503.3 573.6L502.3 574L501.3 574.7L500.3 574.9L499.3 574.7L498.3 574.1L497.3 573.9L496.3 574.2L495.3 574.4L494.3 573.8L493.3 573.9L492.3 573.9L491.3 573.4L490.3 574.2L489.3 574.4L488.3 572.5Z" fill="#ffa500" filter="url(#g7)"/>
<path d="M488.3 566.7L489.3 565.7L490.3 565L491.3 564.9L492.3 564.9L493.3 564.9L494.3 564.9L495.3 565.1L496.3 565.1L497.3 564.9L498.3 564.7L499.3 564.4L500.3 564.6L501.3 564.9L502.3 565L503.3 564.9L504.3 564.9L505.3 564.9L506.3 565L507.3 565L508.3 564.8L509.3 564.8L510.3 564.8L511.3 564.9L512.3 565.1L513.3 564.9L514.3 564.9L515.3 565L516.3 564.9L517.3 564.8L518.3 564.9L519.3 565L520.3 564.9L521.3 564.9L522.3 564.9L523.3 564.9L524.3 565.1L525.3 565L526.3 564.8L527.3 564.9L528.3 564.9L529.3 564.1L530.3 563.7L531.3 564.6L532.3 564.9L533.3 564.9L534.3 564.8L535.3 565L536.3 565L537.3 564.8L538.3 564.2L539.3 564L540.3 564.8L541.3 565L542.3 565L543.3 564.9L544.3 564.8L545.3 564.9L546.3 565.1L547.3 565.2L548.3 565.1L549.3 564.9L550.3 564.7L551.3 564.7L552.3 565L553.3 565.1L554.3 565L555.3 564.9L556.3 564.9L557.3 565.1L558.3 565.2L559.3 565.2L560.3 565.2L561.3 564.9L562.3 564.7L563.3 564.7L564.3 564.9L565.3 565L566.3 564.9L567.3 564.8L568.3 564.9L569.3 564.8L570.3 564.8L571.3 565L572.3 565.1L573.3 565.1L574.3 564.8L575.3 564.9L576.3 565.1L577.3 564.9L578.3 564.9L579.3 564.9L580.3 564.8L581.3 564.4L582.3 564L583.3 564.7L584.3 565.1L585.3 564.9L586.3 564.8L587.3 564.9L588.3 564.9L589.3 565L590.3 565L591.3 565L592.3 565.1L593.3 565L594.3 564.9L595.3 564.9L596.3 564.7L597.3 564.7L598.3 564.7L599.3 564.8L600.3 564.9L601.3 565L602.3 564.9L603.3 564.8L604.3 564.5L605.3 564L606.3 564.5L607.3 565L608.3 565L609.3 564.8L610.3 564.8L611.3 564.9L612.3 564.9L613.3 564.8L614.3 565L615.3 565.2L616.3 565L617.3 565L618.3 565L619.3 564.9L620.3 564.9L621.3 564.9L622.3 565L623.3 565L624.3 564.9L625.3 564.8L626.3 564.7L627.3 564.8L628.3 564.9L629.3 565L630.3 565L631.3 565L632.3 564.9L633.3 564.9L634.3 564.8L635.3 564.8L636.3 565L637.3 565.1L638.3 565L639.3 564.9L640.3 564.9L641.3 564.8L642.3 564.9L643.3 565L644.3 564.9L645.3 564.9L646.3 564.9L647.3 565L648.3 565L649.3 565.1L650.3 565.1L651.3 565L652.3 564.8L653.3 564.8L654.3 564.1L655.3 563.1L656.3 564L657.3 564.7L658.3 565L659.3 565L660.3 564.9L661.3 564.9L662.3 564.9L663.3 564.8L664.3 564.8L665.3 565L666.3 564.8L667.3 564.6L668.3 564.7L669.3 564.9L670.3 564.8L671.3 564.7L672.3 564.8L673.3 564.8L674.3 564.8L675.3 565.1L676.3 564.9L677.3 564.8L678.3 565L679.3 565L680.3 565.1L681.3 565.2L682.3 565.1L683.3 565L684.3 565L685.3 564.9L686.3 565L687.3 565.1L688.3 565L689.3 565.1L690.3 565.2L691.3 565.2L692.3 565.1L693.3 565L694.3 565.1L695.3 565.2L696.3 565.1L697.3 565L698.3 564.9L699.3 564.9L700.3 565L701.3 565L702.3 565.1L703.3 564.9L704.3 564.8L705.3 565L706.3 564.9L707.3 564.8L708.3 564.8L709.3 564.9L710.3 565.1L711.3 565.1L712.3 565L713.3 565.1L714.3 565.2L715.3 565L716.3 564.9L717.3 564.9L718.3 564.8L719.3 565L720.3 564.9L721.3 564.8L722.3 564.8L723.3 564.9L724.3 564.9L725.3 565L726.3 565L727.3 564.7L728.3 564.6L729.3 564.8L730.3 565L731.3 565L732.3 564.9L733.3 564.8L734.3 564.8L735.3 564.9L736.3 565L737.3 565L738.3 565L739.3 564.8L740.3 564.7L741.3 564.9L742.3 564.9L743.3 564.7L744.3 564.9L745.3 564.9L746.3 564.9L747.3 564.7L748.3 564L749.3 564.4L750.3 564.9L751.3 565L752.3 565L753.3 565L754.3 564.9L755.3 564.5L756.3 563.6L757.3 564.3L758.3 565L759.3 565.1L760.3 565L761.3 564.7L762.3 564.8L763.3 564.8L764.3 564.8L765.3 564.9L766.3 564.7L767.3 564.2L768.3 564.4L769.3 565L770.3 564.9L771.3 564.9L772.3 564.9L773.3 565L774.3 564.9L775.3 564.7L776.3 564.9L777.3 564.9L778.3 565L779.3 565L780.3 564.9L781.3 565L782.3 565.1L782.3 573.3L781.3 573.2L780.3 573.3L779.3 573.5L778.3 573.4L777.3 573.5L776.3 573.7L775.3 573.7L774.3 573.6L773.3 573.6L772.3 573.4L771.3 573.4L770.3 573.4L769.3 573.7L768.3 574.2L767.3 574L766.3 573.5L765.3 573.4L764.3 573.5L763.3 573.4L762.3 573.4L761.3 573.5L760.3 573.5L759.3 573.5L758.3 573.4L757.3 573.9L756.3 574.5L755.3 573.7L754.3 573.3L753.3 573.3L752.3 573.4L751.3 573.5L750.3 573.5L749.3 573.9L748.3 574.5L747.3 574L746.3 573.4L745.3 573.2L744.3 573.5L743.3 573.5L742.3 573.4L741.3 573.4L740.3 573.4L739.3 573.4L738.3 573.4L737.3 573.4L736.3 573.5L735.3 573.5L734.3 573.4L733.3 573.4L732.3 573.5L731.3 573.5L730.3 573.5L729.3 573.5L728.3 573.5L727.3 573.5L726.3 573.3L725.3 573.4L724.3 573.5L723.3 573.5L722.3 573.4L721.3 573.5L720.3 573.4L719.3 573.4L718.3 573.5L717.3 573.4L716.3 573.2L715.3 573.3L714.3 573.5L713.3 573.4L712.3 573.3L711.3 573.3L710.3 573.4L709.3 573.5L708.3 573.6L707.3 573.5L706.3 573.5L705.3 573.5L704.3 573.4L703.3 573.4L702.3 573.4L701.3 573.5L700.3 573.5L699.3 573.5L698.3 573.5L697.3 573.4L696.3 573.3L695.3 573.3L694.3 573.3L693.3 573.3L692.3 573.4L691.3 573.4L690.3 573.4L689.3 573.4L688.3 573.4L687.3 573.6L686.3 573.5L685.3 573.4L684.3 573.5L683.3 573.6L682.3 573.6L681.3 573.4L680.3 573.4L679.3 573.4L678.3 573.4L677.3 573.4L676.3 573.3L675.3 573.3L674.3 573.3L673.3 573.3L672.3 573.4L671.3 573.4L670.3 573.4L669.3 573.6L668.3 573.7L667.3 573.4L666.3 573.3L665.3 573.3L664.3 573.5L663.3 573.7L662.3 573.6L661.3 573.5L660.3 573.4L659.3 573.3L658.3 573.3L657.3 573.4L656.3 574.3L655.3 574.9L654.3 573.9L653.3 573.4L652.3 573.4L651.3 573.5L650.3 573.6L649.3 573.5L648.3 573.3L647.3 573.3L646.3 573.5L645.3 573.7L644.3 573.6L643.3 573.6L642.3 573.6L641.3 573.5L640.3 573.5L639.3 573.3L638.3 573.4L637.3 573.5L636.3 573.5L635.3 573.5L634.3 573.6L633.3 573.4L632.3 573.3L631.3 573.4L630.3 573.4L629.3 573.4L628.3 573.5L627.3 573.4L626.3 573.4L625.3 573.5L624.3 573.6L623.3 573.5L622.3 573.5L621.3 573.4L620.3 573.4L619.3 573.3L618.3 573.3L617.3 573.5L616.3 573.5L615.3 573.2L614.3 573.3L613.3 573.4L612.3 573.5L611.3 573.6L610.3 573.5L609.3 573.4L608.3 573.5L607.3 573.6L606.3 573.9L605.3 574.1L604.3 573.6L603.3 573.5L602.3 573.4L601.3 573.3L600.3 573.2L599.3 573.2L598.3 573.4L597.3 573.4L596.3 573.4L595.3 573.4L594.3 573.3L593.3 573.4L592.3 573.4L591.3 573.4L590.3 573.5L589.3 573.5L588.3 573.4L587.3 573.4L586.3 573.5L585.3 573.6L584.3 573.6L583.3 573.9L582.3 574.2L581.3 573.7L580.3 573.4L579.3 573.4L578.3 573.4L577.3 573.4L576.3 573.4L575.3 573.6L574.3 573.5L573.3 573.5L572.3 573.5L571.3 573.6L570.3 573.6L569.3 573.5L568.3 573.5L567.3 573.3L566.3 573.4L565.3 573.7L564.3 573.5L563.3 573.4L562.3 573.4L561.3 573.5L560.3 573.5L559.3 573.3L558.3 573.4L557.3 573.4L556.3 573.4L555.3 573.5L554.3 573.4L553.3 573.4L552.3 573.5L551.3 573.4L550.3 573.6L549.3 573.6L548.3 573.6L547.3 573.5L546.3 573.4L545.3 573.5L544.3 573.6L543.3 573.6L542.3 573.5L541.3 573.4L540.3 573.7L539.3 574.2L538.3 573.9L537.3 573.5L536.3 573.4L535.3 573.3L534.3 573.1L533.3 573.3L532.3 573.5L531.3 573.7L530.3 574.3L529.3 573.9L528.3 573.6L527.3 573.6L526.3 573.4L525.3 573.3L524.3 573.4L523.3 573.4L522.3 573.4L521.3 573.3L520.3 573.4L519.3 573.5L518.3 573.4L517.3 573.4L516.3 573.4L515.3 573.6L514.3 573.5L513.3 573.4L512.3 573.4L511.3 573.5L510.3 573.5L509.3 573.5L508.3 573.6L507.3 573.5L506.3 573.5L505.3 573.6L504.3 573.5L503.3 573.3L502.3 573.4L501.3 573.5L500.3 573.9L499.3 574.1L498.3 573.5L497.3 573.4L496.3 573.5L495.3 573.5L494.3 573.5L493.3 573.4L492.3 573.5L491.3 573.4L490.3 573.4L489.3 572.7L488.3 571.4Z" fill="#ffa500" />
<rect x="486" y="569.6" width="3.5" height="2.5" fill="#ffa500" />
<rect x="782.2" y="569.2" width="5.5" height="2.5" fill="#ffa500" />
<path d="M748.4 557V582.1" stroke="#ffa500" stroke-width="2" opacity="0.26" stroke-linecap="round"/>
<path d="M756.5 543.3V594.6" stroke="#ffa500" stroke-width="2" opacity="0.2" stroke-linecap="round"/>
<path d="M530.1 560V579.6" stroke="#ffa500" stroke-width="2" opacity="0.26" stroke-linecap="round"/>
<path d="M605.4 554.5V583.3" stroke="#ffa500" stroke-width="2" opacity="0.1" stroke-linecap="round"/>
<path d="M582.1 557V582.1" stroke="#ffa500" stroke-width="2" opacity="0.1" stroke-linecap="round"/>
<path d="M539.1 557V582.1" stroke="#ffa500" stroke-width="2" opacity="0.08" stroke-linecap="round"/>
<path d="M655.1 555.8V583.3" stroke="#ffa500" stroke-width="2" opacity="0.08" stroke-linecap="round"/>
<path d="M655.5 554.5V583.3" stroke="#ffa500" stroke-width="2" opacity="0.08" stroke-linecap="round"/>
<path d="M767.7 552V585.8" stroke="#ffa500" stroke-width="2" opacity="0.08" stroke-linecap="round"/>
<path d="M537.8 544.5l1.5 -1.5l1.5 1.5l-1.5 1.5zM538.3 546.8l1.5 -1.5l1.5 1.5l-1.5 1.5zM580.8 544.5l1.5 -1.5l1.5 1.5l-1.5 1.5zM580.8 547l1.5 -1.5l1.5 1.5l-1.5 1.5zM604.6 543l1.5 -1.5l1.5 1.5l-1.5 1.5zM604 545l1.5 -1.5l1.5 1.5l-1.5 1.5zM603.8 547l1.5 -1.5l1.5 1.5l-1.5 1.5zM604.2 591.8l1.5 -1.5l1.5 1.5l-1.5 1.5zM604.1 598.3l1.5 -1.5l1.5 1.5l-1.5 1.5zM654.2 544.3l1.5 -1.5l1.5 1.5l-1.5 1.5zM653.6 529.5l1.5 -1.5l1.5 1.5l-1.5 1.5zM652.8 591.6l1.5 -1.5l1.5 1.5l-1.5 1.5zM755.4 527.7l1.5 -1.5l1.5 1.5l-1.5 1.5zM755 529.9l1.5 -1.5l1.5 1.5l-1.5 1.5zM754.2 531.6l1.5 -1.5l1.5 1.5l-1.5 1.5zM755.2 533.3l1.5 -1.5l1.5 1.5l-1.5 1.5zM755.1 535.3l1.5 -1.5l1.5 1.5l-1.5 1.5zM754.5 537.2l1.5 -1.5l1.5 1.5l-1.5 1.5zM754.7 542l1.5 -1.5l1.5 1.5l-1.5 1.5zM754.2 543.8l1.5 -1.5l1.5 1.5l-1.5 1.5zM755.1 545.9l1.5 -1.5l1.5 1.5l-1.5 1.5zM754.7 591.2l1.5 -1.5l1.5 1.5l-1.5 1.5zM754 593l1.5 -1.5l1.5 1.5l-1.5 1.5zM755.3 595.4l1.5 -1.5l1.5 1.5l-1.5 1.5zM754.7 597.6l1.5 -1.5l1.5 1.5l-1.5 1.5zM755.1 599.4l1.5 -1.5l1.5 1.5l-1.5 1.5zM754.2 601.9l1.5 -1.5l1.5 1.5l-1.5 1.5zM755.2 603.7l1.5 -1.5l1.5 1.5l-1.5 1.5zM755.3 605.5l1.5 -1.5l1.5 1.5l-1.5 1.5zM755.4 607.6l1.5 -1.5l1.5 1.5l-1.5 1.5zM755 612.6l1.5 -1.5l1.5 1.5l-1.5 1.5zM755.3 617.2l1.5 -1.5l1.5 1.5l-1.5 1.5zM766.9 545.8l1.5 -1.5l1.5 1.5l-1.5 1.5zM766.5 591.7l1.5 -1.5l1.5 1.5l-1.5 1.5zM765.6 598.9l1.5 -1.5l1.5 1.5l-1.5 1.5zM766.1 604l1.5 -1.5l1.5 1.5l-1.5 1.5zM541.2 545.1l1.5 -1.5l1.5 1.5l-1.5 1.5zM527.3 575.7l1.5 -1.5l1.5 1.5l-1.5 1.5zM539.6 578.2l1.5 -1.5l1.5 1.5l-1.5 1.5zM613.3 560.2l1.5 -1.5l1.5 1.5l-1.5 1.5zM496.6 557.4l1.5 -1.5l1.5 1.5l-1.5 1.5zM729 593.3l1.5 -1.5l1.5 1.5l-1.5 1.5zM651.3 574.1l1.5 -1.5l1.5 1.5l-1.5 1.5zM625.6 587.9l1.5 -1.5l1.5 1.5l-1.5 1.5zM559.5 559.7l1.5 -1.5l1.5 1.5l-1.5 1.5zM516.9 574.4l1.5 -1.5l1.5 1.5l-1.5 1.5zM595.7 557.2l1.5 -1.5l1.5 1.5l-1.5 1.5zM707.5 554.3l1.5 -1.5l1.5 1.5l-1.5 1.5zM507.5 559.9l1.5 -1.5l1.5 1.5l-1.5 1.5zM744.1 558.2l1.5 -1.5l1.5 1.5l-1.5 1.5zM749.8 562.6l1.5 -1.5l1.5 1.5l-1.5 1.5zM732.1 582.6l1.5 -1.5l1.5 1.5l-1.5 1.5zM759.6 581.9l1.5 -1.5l1.5 1.5l-1.5 1.5zM541.2 562.1l1.5 -1.5l1.5 1.5l-1.5 1.5zM697.3 554.6l1.5 -1.5l1.5 1.5l-1.5 1.5zM705.6 543.2l1.5 -1.5l1.5 1.5l-1.5 1.5zM566.6 559.2l1.5 -1.5l1.5 1.5l-1.5 1.5zM590.3 586.5l1.5 -1.5l1.5 1.5l-1.5 1.5zM512.1 580.8l1.5 -1.5l1.5 1.5l-1.5 1.5zM673.2 581.2l1.5 -1.5l1.5 1.5l-1.5 1.5zM606.1 560.1l1.5 -1.5l1.5 1.5l-1.5 1.5zM613.1 591.8l1.5 -1.5l1.5 1.5l-1.5 1.5zM496.5 560.2l1.5 -1.5l1.5 1.5l-1.5 1.5zM499.3 578.8l1.5 -1.5l1.5 1.5l-1.5 1.5zM621.2 575.8l1.5 -1.5l1.5 1.5l-1.5 1.5zM706.7 575.7l1.5 -1.5l1.5 1.5l-1.5 1.5zM623.4 556.6l1.5 -1.5l1.5 1.5l-1.5 1.5zM696.3 582.9l1.5 -1.5l1.5 1.5l-1.5 1.5zM610.9 602.1l1.5 -1.5l1.5 1.5l-1.5 1.5zM521 584.3l1.5 -1.5l1.5 1.5l-1.5 1.5zM704.7 577.4l1.5 -1.5l1.5 1.5l-1.5 1.5zM671.9 557l1.5 -1.5l1.5 1.5l-1.5 1.5zM619 563.1l1.5 -1.5l1.5 1.5l-1.5 1.5zM652.9 596.2l1.5 -1.5l1.5 1.5l-1.5 1.5zM774.2 552.6l1.5 -1.5l1.5 1.5l-1.5 1.5zM515.9 558.2l1.5 -1.5l1.5 1.5l-1.5 1.5zM765.2 575.8l1.5 -1.5l1.5 1.5l-1.5 1.5zM689.1 577.7l1.5 -1.5l1.5 1.5l-1.5 1.5zM671.4 559.5l1.5 -1.5l1.5 1.5l-1.5 1.5zM559.3 562l1.5 -1.5l1.5 1.5l-1.5 1.5zM487.6 550.3l1.5 -1.5l1.5 1.5l-1.5 1.5zM601.3 582.8l1.5 -1.5l1.5 1.5l-1.5 1.5zM732.3 558.8l1.5 -1.5l1.5 1.5l-1.5 1.5zM500.9 554.1l1.5 -1.5l1.5 1.5l-1.5 1.5zM718.7 561.8l1.5 -1.5l1.5 1.5l-1.5 1.5zM756.7 559.5l1.5 -1.5l1.5 1.5l-1.5 1.5zM636.5 585.9l1.5 -1.5l1.5 1.5l-1.5 1.5zM514.6 579.2l1.5 -1.5l1.5 1.5l-1.5 1.5zM716.6 551.9l1.5 -1.5l1.5 1.5l-1.5 1.5zM617.5 577.8l1.5 -1.5l1.5 1.5l-1.5 1.5zM591 563.2l1.5 -1.5l1.5 1.5l-1.5 1.5zM637.2 553.8l1.5 -1.5l1.5 1.5l-1.5 1.5zM545.7 574.3l1.5 -1.5l1.5 1.5l-1.5 1.5zM486.8 559l1.5 -1.5l1.5 1.5l-1.5 1.5zM538.4 583.2l1.5 -1.5l1.5 1.5l-1.5 1.5zM546.9 575l1.5 -1.5l1.5 1.5l-1.5 1.5zM679.9 548.1l1.5 -1.5l1.5 1.5l-1.5 1.5zM528.6 535l1.5 -1.5l1.5 1.5l-1.5 1.5zM513.6 542l1.5 -1.5l1.5 1.5l-1.5 1.5zM581.9 532l1.5 -1.5l1.5 1.5l-1.5 1.5zM603.9 529.5l1.5 -1.5l1.5 1.5l-1.5 1.5zM648.7 530l1.5 -1.5l1.5 1.5l-1.5 1.5zM528.6 617.1l1.5 -1.5l1.5 1.5l-1.5 1.5zM537.6 612.1l1.5 -1.5l1.5 1.5l-1.5 1.5zM498.8 599.1l1.5 -1.5l1.5 1.5l-1.5 1.5zM632 598.3l1.5 -1.5l1.5 1.5l-1.5 1.5zM663.7 594.6l1.5 -1.5l1.5 1.5l-1.5 1.5zM611.9 544.5l1.5 -1.5l1.5 1.5l-1.5 1.5zM637.7 551.5l1.5 -1.5l1.5 1.5l-1.5 1.5zM668.2 552l1.5 -1.5l1.5 1.5l-1.5 1.5zM604 529.5l1.5 -1.5l1.5 1.5l-1.5 1.5zM649.1 530l1.5 -1.5l1.5 1.5l-1.5 1.5zM682.9 545.8l1.5 -1.5l1.5 1.5l-1.5 1.5zM687.4 547l1.5 -1.5l1.5 1.5l-1.5 1.5zM637.8 551.5l1.5 -1.5l1.5 1.5l-1.5 1.5zM631.8 598.3l1.5 -1.5l1.5 1.5l-1.5 1.5zM664.1 594.6l1.5 -1.5l1.5 1.5l-1.5 1.5zM686.6 599.1l1.5 -1.5l1.5 1.5l-1.5 1.5zM766.2 605.1l1.5 -1.5l1.5 1.5l-1.5 1.5zM755 618.4l1.5 -1.5l1.5 1.5l-1.5 1.5zM746.9 541.5l1.5 -1.5l1.5 1.5l-1.5 1.5zM775 583.3l1.5 -1.5l1.5 1.5l-1.5 1.5zM705.6 587.1l1.5 -1.5l1.5 1.5l-1.5 1.5zM721.9 585.1l1.5 -1.5l1.5 1.5l-1.5 1.5z" fill="#ffa500" fill-opacity="0.5" stroke="#ffa500" stroke-width="0.5" opacity="0.3"/>
<path d="M497.7 553.3l1.5 -1.5l1.5 1.5l-1.5 1.5zM498.3 555.3l1.5 -1.5l1.5 1.5l-1.5 1.5zM498 560l1.5 -1.5l1.5 1.5l-1.5 1.5zM498 573.9l1.5 -1.5l1.5 1.5l-1.5 1.5zM497.9 577.7l1.5 -1.5l1.5 1.5l-1.5 1.5zM537.6 548.6l1.5 -1.5l1.5 1.5l-1.5 1.5zM537 558l1.5 -1.5l1.5 1.5l-1.5 1.5zM536.7 559.6l1.5 -1.5l1.5 1.5l-1.5 1.5zM537.9 563l1.5 -1.5l1.5 1.5l-1.5 1.5zM537.7 565.4l1.5 -1.5l1.5 1.5l-1.5 1.5zM538.3 574.2l1.5 -1.5l1.5 1.5l-1.5 1.5zM580.5 552.8l1.5 -1.5l1.5 1.5l-1.5 1.5zM603.9 549.2l1.5 -1.5l1.5 1.5l-1.5 1.5zM603.2 551.3l1.5 -1.5l1.5 1.5l-1.5 1.5zM604.4 553.7l1.5 -1.5l1.5 1.5l-1.5 1.5zM603.9 557.4l1.5 -1.5l1.5 1.5l-1.5 1.5zM603.6 580.2l1.5 -1.5l1.5 1.5l-1.5 1.5zM604.6 583.8l1.5 -1.5l1.5 1.5l-1.5 1.5zM603.6 586.3l1.5 -1.5l1.5 1.5l-1.5 1.5zM604.5 588l1.5 -1.5l1.5 1.5l-1.5 1.5zM653.5 550.4l1.5 -1.5l1.5 1.5l-1.5 1.5zM654.4 557.4l1.5 -1.5l1.5 1.5l-1.5 1.5zM653.9 561.5l1.5 -1.5l1.5 1.5l-1.5 1.5zM653.7 563.9l1.5 -1.5l1.5 1.5l-1.5 1.5zM653.9 565.6l1.5 -1.5l1.5 1.5l-1.5 1.5zM654.4 574.3l1.5 -1.5l1.5 1.5l-1.5 1.5zM654.1 577.8l1.5 -1.5l1.5 1.5l-1.5 1.5zM654.7 580.2l1.5 -1.5l1.5 1.5l-1.5 1.5zM654.3 590.3l1.5 -1.5l1.5 1.5l-1.5 1.5zM654.5 547.6l1.5 -1.5l1.5 1.5l-1.5 1.5zM654.8 550.9l1.5 -1.5l1.5 1.5l-1.5 1.5zM653.4 552.8l1.5 -1.5l1.5 1.5l-1.5 1.5zM653.2 557.9l1.5 -1.5l1.5 1.5l-1.5 1.5zM653.1 559.6l1.5 -1.5l1.5 1.5l-1.5 1.5zM652.5 562.1l1.5 -1.5l1.5 1.5l-1.5 1.5zM654.3 573.1l1.5 -1.5l1.5 1.5l-1.5 1.5zM653.7 576.6l1.5 -1.5l1.5 1.5l-1.5 1.5zM653.2 578.2l1.5 -1.5l1.5 1.5l-1.5 1.5zM653.2 580.1l1.5 -1.5l1.5 1.5l-1.5 1.5zM653.8 581.7l1.5 -1.5l1.5 1.5l-1.5 1.5zM653.4 587.5l1.5 -1.5l1.5 1.5l-1.5 1.5zM755 548.5l1.5 -1.5l1.5 1.5l-1.5 1.5zM754.9 552.7l1.5 -1.5l1.5 1.5l-1.5 1.5zM755 555.2l1.5 -1.5l1.5 1.5l-1.5 1.5zM754.5 557.5l1.5 -1.5l1.5 1.5l-1.5 1.5zM756.1 580.4l1.5 -1.5l1.5 1.5l-1.5 1.5zM755.5 582.3l1.5 -1.5l1.5 1.5l-1.5 1.5zM754.7 584.1l1.5 -1.5l1.5 1.5l-1.5 1.5zM755.2 586.6l1.5 -1.5l1.5 1.5l-1.5 1.5zM766.1 548.4l1.5 -1.5l1.5 1.5l-1.5 1.5zM767.2 550l1.5 -1.5l1.5 1.5l-1.5 1.5zM765.8 552.2l1.5 -1.5l1.5 1.5l-1.5 1.5zM766 560.9l1.5 -1.5l1.5 1.5l-1.5 1.5zM766.2 565.5l1.5 -1.5l1.5 1.5l-1.5 1.5zM766.6 575.9l1.5 -1.5l1.5 1.5l-1.5 1.5zM766.4 578.5l1.5 -1.5l1.5 1.5l-1.5 1.5zM765.6 582.8l1.5 -1.5l1.5 1.5l-1.5 1.5z" fill="#ffa500" fill-opacity="0.5" stroke="#ffa500" stroke-width="0.6" opacity="0.4"/>
<path d="M528.5 572.7l1.4 -1.4l1.4 1.4l-1.4 1.4zM528.7 575.2l1.4 -1.4l1.4 1.4l-1.4 1.4zM529 579.4l1.4 -1.4l1.4 1.4l-1.4 1.4zM580.5 559.4l1.4 -1.4l1.4 1.4l-1.4 1.4zM581.2 561.6l1.4 -1.4l1.4 1.4l-1.4 1.4zM580.3 563.4l1.4 -1.4l1.4 1.4l-1.4 1.4zM580.4 565l1.4 -1.4l1.4 1.4l-1.4 1.4zM581.1 576.2l1.4 -1.4l1.4 1.4l-1.4 1.4zM603.9 561.3l1.4 -1.4l1.4 1.4l-1.4 1.4zM604.6 563.9l1.4 -1.4l1.4 1.4l-1.4 1.4zM604.7 575.8l1.4 -1.4l1.4 1.4l-1.4 1.4zM604.4 578.1l1.4 -1.4l1.4 1.4l-1.4 1.4zM747.7 558.7l1.4 -1.4l1.4 1.4l-1.4 1.4zM747.7 561.3l1.4 -1.4l1.4 1.4l-1.4 1.4zM747.3 563.6l1.4 -1.4l1.4 1.4l-1.4 1.4zM747 573.7l1.4 -1.4l1.4 1.4l-1.4 1.4zM746.8 575.9l1.4 -1.4l1.4 1.4l-1.4 1.4zM755.3 563.9l1.4 -1.4l1.4 1.4l-1.4 1.4zM755 574.2l1.4 -1.4l1.4 1.4l-1.4 1.4zM754.9 575.9l1.4 -1.4l1.4 1.4l-1.4 1.4zM755.1 578.5l1.4 -1.4l1.4 1.4l-1.4 1.4z" fill="#ffa500" opacity="0.4"/>
</g>
<g clip-path="url(#c41)">
<path d="M489 687.2L490 686.4L491 684.8L492 684.4L493 684.9L494 684.4L495 684.5L496 684.8L497 685.3L498 685.2L499 683.6L500 683.5L501 685.2L502 685.3L503 685.1L504 685.4L505 684.9L506 685.1L507 685.8L508 685.9L509 684.9L510 684.3L511 684.9L512 685L513 684.3L514 683.7L515 684.7L516 685.6L517 685.3L518 684.3L519 685.2L520 686L521 685.7L522 685.2L523 684.7L524 684.9L525 685.1L526 684.4L527 684.1L528 683.4L529 683.7L530 684.3L531 685.1L532 686.2L533 685.8L534 685.9L535 685.8L536 685.1L537 684.7L538 684.9L539 684.7L540 684.2L541 684.9L542 686.4L543 686.2L544 684.5L545 683.3L546 682.8L547 683.3L548 684.7L549 685L550 684.1L551 684.3L552 684.8L553 685.2L554 685.5L555 685.2L556 684.3L557 683.7L558 684.2L559 684.5L560 685.2L561 686.1L562 684.8L563 684.9L564 685.1L565 684.4L566 685.3L567 684.7L568 684.4L569 684.8L570 685.3L571 685.3L572 684.4L573 685L574 685.6L575 685.7L576 685.4L577 684.4L578 685.1L579 685.9L580 686.7L581 686.5L582 684.3L583 684.1L584 685.3L585 684.6L586 683.9L587 684.8L588 685.1L589 685.4L590 685.3L591 686.2L592 686.2L593 685.2L594 685L595 685L596 685.6L597 685.2L598 684.5L599 686L600 686.4L601 685.3L602 684.8L603 686L604 686.1L605 685.2L606 685.7L607 686.4L608 685.9L609 685.5L610 686.2L611 685.8L612 685.1L613 684.6L614 685.1L615 685.4L616 685.7L617 686.6L618 686.7L619 686.4L620 685.8L621 684.4L622 685L623 686.3L624 686.1L625 685.1L626 685.1L627 685.8L628 686.4L629 686.2L630 686L631 686L632 684.6L633 685.3L634 686.3L635 686.7L636 688L637 686.9L638 685.9L639 686.5L640 686.7L641 687.2L642 688L643 686.5L644 684.6L645 685.8L646 687.8L647 687.2L648 686.1L649 686.4L650 686.5L651 685.1L652 684.6L653 685.5L654 686.9L655 687.1L656 686.6L657 686.2L658 686.8L659 686.6L660 686.5L661 687.6L662 687.4L663 687.4L664 687.4L665 687.3L666 687.5L667 689L668 689L669 687L670 686.6L671 687.9L672 688.4L673 688.3L674 688L675 687.6L676 687.3L677 686.8L678 687.5L679 688.6L680 689.6L681 689.7L682 688.4L683 688.5L684 689.1L685 687.9L686 687.5L687 688.6L688 688L689 687.4L690 687.7L691 688.5L692 688.4L693 688.2L694 687.7L695 688L696 689.3L697 689.6L698 689.1L699 688.1L700 687.3L701 687.9L702 689.5L703 689.1L704 688.4L705 687.9L706 688.7L707 689L708 688.6L709 687.8L710 687.5L711 688.7L712 689.1L713 689.7L714 688.9L715 687.8L716 688.4L717 689.4L718 688.2L719 687.2L720 689L721 689.2L722 688.2L723 688.3L724 688.8L725 689.1L726 688.7L727 689.4L728 690.4L729 689.6L730 688.8L731 688.2L732 688.6L733 688.3L734 687.8L735 688.4L736 688.7L737 688.6L738 689.4L739 689.5L740 689.1L741 689.5L742 688.9L743 689L744 689L745 688.3L746 687.9L747 688.6L748 688.7L749 688.7L750 689.1L751 689.2L752 689.4L753 689L754 689.1L755 689.4L756 689.3L757 689.3L758 688.8L759 688.6L760 688.6L761 688.8L762 688.6L763 688.8L764 689.3L765 689.1L766 688.8L767 689.5L768 690.5L769 690.4L770 689.6L771 689.2L772 689.9L773 690.3L774 690.2L775 690.1L776 690.5L777 690.1L778 688.9L779 689L780 689.8L781 690.5L782 690.4L782 778.3L781 778.7L780 779.7L779 778.9L778 778.7L777 780.5L776 780.8L775 778.9L774 778.8L773 779.7L772 779.6L771 780.3L770 780.3L769 779.4L768 779.5L767 780.2L766 780.1L765 779.5L764 780L763 781L762 780.7L761 780.6L760 781.6L759 781.6L758 779.9L757 779.4L756 779.9L755 780.1L754 780.1L753 779.5L752 780.3L751 780.2L750 779.7L749 780.1L748 779.4L747 779.8L746 780.3L745 779.8L744 780.4L743 780.5L742 779.6L741 779.7L740 780.5L739 779.8L738 779.9L737 779.9L736 778.6L735 779.3L734 779.7L733 779.5L732 779.3L731 779.9L730 779.6L729 779.5L728 780.2L727 780.3L726 780.5L725 780.4L724 780.2L723 779L722 778.1L721 777.8L720 779.1L719 780.4L718 780.4L717 780.6L716 780.7L715 780.9L714 780.6L713 779.8L712 779.3L711 779.7L710 780.6L709 781.1L708 781.8L707 781.2L706 779.8L705 780.6L704 779.6L703 778.3L702 779.2L701 779.6L700 779.7L699 779.5L698 779.8L697 779L696 779.3L695 780.7L694 780.2L693 779.3L692 778.4L691 779L690 780.3L689 780.1L688 779.8L687 779.7L686 780L685 781.3L684 781.1L683 780.4L682 781L681 780.7L680 781.1L679 781L678 780.2L677 780.3L676 780.1L675 779.3L674 779.8L673 780.4L672 780.2L671 780.1L670 780L669 780.6L668 780.5L667 780.1L666 780.2L665 780.7L664 780.7L663 779.6L662 779.7L661 780.3L660 779.6L659 779.4L658 781.3L657 782L656 780.3L655 780.4L654 780.4L653 780L652 780.5L651 779.8L650 779.3L649 779.8L648 779.8L647 779.9L646 779.6L645 779L644 779.3L643 779.6L642 779.5L641 781.7L640 782.6L639 780.7L638 780.3L637 781.1L636 780.9L635 779.9L634 780.2L633 781L632 780.7L631 779.6L630 779L629 779.6L628 780.2L627 780L626 781.2L625 781.7L624 779.8L623 779.4L622 781.1L621 781.3L620 780.1L619 779.5L618 779.9L617 780.4L616 779.7L615 781.1L614 782.1L613 782.1L612 781.5L611 779.2L610 779.1L609 779.7L608 779.5L607 779.8L606 779.9L605 779.9L604 779.6L603 779.4L602 780.7L601 780.6L600 779.3L599 780L598 780.6L597 779.3L596 779.7L595 781.1L594 781L593 780.3L592 779.5L591 779.2L590 778.9L589 779.2L588 779.6L587 779.7L586 780.3L585 779.9L584 779.6L583 780L582 780.8L581 779.9L580 779.2L579 780.7L578 780.9L577 779.4L576 779.4L575 779.9L574 779.2L573 778.9L572 779.5L571 780.4L570 780.2L569 779.4L568 779.1L567 779L566 779L565 778.4L564 778.6L563 778.6L562 778.6L561 779.5L560 780.1L559 780.6L558 780.5L557 779.7L556 780.1L555 780.6L554 780.1L553 779.8L552 779.6L551 780.1L550 780.3L549 779.8L548 779.7L547 778.3L546 778.5L545 779.6L544 779.1L543 779.8L542 779.7L541 779.8L540 780.3L539 779.2L538 779.2L537 778.7L536 778L535 778.9L534 779L533 778.8L532 777.9L531 777.5L530 778L529 778.9L528 780.4L527 780.7L526 779.5L525 778.8L524 778.9L523 778.1L522 778L521 778.9L520 779.8L519 779.2L518 778.6L517 778.1L516 777.7L515 778.7L514 778.8L513 778.7L512 779.5L511 779.3L510 778.5L509 779.3L508 780.3L507 779.7L506 777.9L505 777.1L504 778.5L503 779.8L502 778.3L501 777.3L500 779.3L499 778.5L498 778.3L497 779.8L496 779.5L495 779.4L494 778.2L493 778.6L492 780L491 778.9L490 777.8L489 778Z" fill="#ffa500" filter="url(#g8)"/>
<path d="M489 690.7L490 690L491 689.3L492 689.4L493 689.5L494 689.5L495 689.6L496 690L497 689.7L498 689.3L499 689.6L500 689.6L501 690.3L502 690.3L503 690.5L504 690.6L505 689.1L506 689L507 689.4L508 690L509 689.6L510 688.9L511 688.3L512 688.4L513 688.8L514 689.4L515 690.5L516 690L517 690L518 689.6L519 689.1L520 689.2L521 689.5L522 689.1L523 689.6L524 690.3L525 689.1L526 690.2L527 691.8L528 691.4L529 688.8L530 688.4L531 689.6L532 689.1L533 688.8L534 689.1L535 689.4L536 689.9L537 689.7L538 689.6L539 690.4L540 690.6L541 689.7L542 688.9L543 689.5L544 689.9L545 690L546 689.5L547 689.4L548 689.9L549 689.9L550 689.7L551 689.1L552 689L553 690.4L554 691L555 690.3L556 689.4L557 689.7L558 689.8L559 689.1L560 689.6L561 690.3L562 690.3L563 691.4L564 690.9L565 690.3L566 690.9L567 691.2L568 691.8L569 691.2L570 689.8L571 689.4L572 689.6L573 691L574 690.6L575 689.8L576 690L577 689L578 689.6L579 690.1L580 690.1L581 690L582 690.3L583 691.4L584 690.7L585 690.1L586 690.2L587 689.2L588 688.6L589 690.5L590 691.3L591 689.5L592 689.8L593 690.6L594 690.2L595 690.2L596 690.3L597 689.9L598 690.3L599 691.7L600 692L601 691.3L602 691.2L603 691.2L604 691.6L605 692.2L606 691.1L607 689.5L608 689.8L609 691.3L610 692.3L611 691.7L612 691.4L613 691L614 690.8L615 690.6L616 690.8L617 690.4L618 689.1L619 689.2L620 690.1L621 690.9L622 691.5L623 691.3L624 691.4L625 691.3L626 690.7L627 691.3L628 690.7L629 690L630 690.6L631 690.6L632 690.4L633 690.6L634 691L635 690.5L636 690.7L637 691.3L638 691.4L639 691.4L640 691.3L641 691L642 690.9L643 690.7L644 690.8L645 692.1L646 691.6L647 691.1L648 690.6L649 690.1L650 691.3L651 691.4L652 691.3L653 692.1L654 691.9L655 692.2L656 691.8L657 690.9L658 691.6L659 692.1L660 691.2L661 691.9L662 693.1L663 692.4L664 692.7L665 692.7L666 692.9L667 693.1L668 692.6L669 692.2L670 693.4L671 693L672 691.1L673 691.9L674 692.5L675 693.9L676 695.2L677 694.1L678 692.8L679 693L680 693.1L681 693.6L682 694.1L683 693.9L684 694.6L685 694L686 694L687 693.5L688 692.9L689 693.5L690 693.5L691 693.3L692 694L693 693.9L694 693.3L695 693.2L696 693.8L697 694.6L698 693.9L699 693.5L700 693.4L701 693.3L702 692.5L703 692L704 693.4L705 693.5L706 693.6L707 693.8L708 693.2L709 694.1L710 692.9L711 691.6L712 692.7L713 694.8L714 693.8L715 692.7L716 693.4L717 693.4L718 693.6L719 693.3L720 693.7L721 694.6L722 694.8L723 692.8L724 692.8L725 694L726 693.1L727 693.9L728 694.4L729 694.7L730 693.8L731 693.5L732 694.1L733 693.9L734 694L735 693.6L736 693.2L737 692.6L738 694.3L739 694.9L740 694.7L741 694.5L742 694.4L743 694.7L744 694.1L745 693.7L746 694.2L747 694L748 693.1L749 694.5L750 695L751 694.2L752 693.2L753 692.8L754 694.3L755 694.4L756 692.8L757 693.6L758 693.8L759 693.6L760 695.6L761 696.1L762 694.9L763 693.8L764 693.4L765 693.9L766 694.3L767 695L768 695L769 694.9L770 695.2L771 695.5L772 694L773 693.3L774 694.1L775 693.7L776 693.2L777 693.5L778 693.9L779 694.3L780 695.9L781 696.1L782 694.4L782 776.4L781 775.9L780 776L779 775.8L778 774.9L777 774.7L776 775.1L775 775.9L774 776.2L773 774.8L772 774.8L771 775.9L770 776L769 774.9L768 775L767 775.5L766 775L765 775.7L764 776.2L763 775.2L762 774L761 774.7L760 776.5L759 776.4L758 775.4L757 775.2L756 775.4L755 775.4L754 775.2L753 775.2L752 774.6L751 775L750 775.6L749 775.9L748 774.8L747 774.8L746 776.2L745 775.8L744 776L743 776.2L742 775.5L741 775.8L740 776.6L739 776L738 776.5L737 776L736 775L735 775.7L734 776.3L733 776.6L732 775.2L731 774.2L730 774.9L729 775.7L728 776L727 776L726 776.3L725 775.6L724 776L723 776.5L722 776L721 776.6L720 775.6L719 775.4L718 775.6L717 775.3L716 775.6L715 775L714 776.1L713 776.4L712 774.8L711 775.8L710 775.9L709 775.9L708 777.4L707 777.1L706 776L705 775.6L704 775L703 775.6L702 775.4L701 776L700 776.5L699 776.1L698 775.9L697 775.4L696 775.4L695 775.1L694 775.7L693 776L692 776.9L691 777.3L690 776.5L689 775.8L688 775.6L687 775.6L686 777L685 777.6L684 777.1L683 777.4L682 776.7L681 776.8L680 776.4L679 776.2L678 776.7L677 776.6L676 776.4L675 777L674 777.6L673 777.2L672 777.6L671 777.4L670 776.1L669 775.9L668 777L667 776.7L666 776.2L665 776.2L664 776.1L663 776.6L662 777L661 778.3L660 778.2L659 777L658 777.2L657 776.7L656 776.2L655 777L654 777.1L653 776.7L652 776.6L651 775.9L650 776.4L649 776.5L648 776.4L647 777.2L646 776.7L645 776.1L644 776.2L643 775L642 775.1L641 776L640 775.9L639 775.8L638 776.5L637 776.5L636 776.5L635 776.9L634 775.5L633 776.5L632 777.2L631 776.4L630 776.7L629 778.5L628 778.5L627 776.4L626 776L625 776.1L624 776.2L623 775.2L622 774.4L621 774.5L620 775.3L619 776.2L618 775.4L617 775.8L616 775.8L615 775.2L614 775.8L613 777L612 776.5L611 775.8L610 777L609 776.8L608 776.3L607 775.6L606 775.8L605 776.9L604 776.7L603 776.6L602 777.4L601 776.5L600 775.8L599 775.8L598 776.3L597 776L596 775L595 775.1L594 774.8L593 776L592 776.4L591 775.3L590 775L589 775.6L588 776.1L587 776.1L586 775.3L585 775L584 775.9L583 775.6L582 775L581 775.1L580 775.5L579 775.1L578 774.9L577 775.9L576 776.2L575 776.7L574 775.4L573 774.9L572 775.8L571 776L570 775.6L569 775L568 775.6L567 776.3L566 776.3L565 776L564 776.2L563 775.5L562 774.8L561 774.3L560 774.4L559 775.6L558 775.5L557 775.1L556 775L555 774.2L554 774.6L553 775.7L552 775.7L551 775.1L550 775.3L549 775.5L548 775.8L547 776L546 774.8L545 774.7L544 775.3L543 775.3L542 775.8L541 776.5L540 776.5L539 775.6L538 775.3L537 775.5L536 774.9L535 774.8L534 775.2L533 775.3L532 775.6L531 774.8L530 775.3L529 776.2L528 775.5L527 775.5L526 776.1L525 776.7L524 775.9L523 774.9L522 775L521 775.3L520 775.1L519 775.8L518 776.3L517 775.3L516 774.3L515 775.4L514 775.3L513 775.1L512 775.7L511 775.3L510 774.7L509 774.5L508 775.4L507 775.8L506 775.1L505 774.4L504 774.7L503 776L502 775.7L501 775.3L500 775L499 774.3L498 774.8L497 775.4L496 775.4L495 775.6L494 775.8L493 775.3L492 775.4L491 774.8L490 775.1L489 776.2Z" fill="#ffa500" filter="url(#g9)"/>
<path d="M489 694.1L490 694L491 694.6L492 693.9L493 693L494 692.6L495 691.9L496 692.1L497 692.7L498 694.4L499 694.7L500 693.8L501 693L502 692.6L503 692.8L504 693.5L505 693.9L506 694L507 693.5L508 693L509 693.9L510 694.7L511 695.3L512 694.1L513 693.8L514 694.2L515 693.5L516 693.5L517 693.6L518 692.8L519 692.9L520 693.6L521 693.5L522 692.8L523 692.6L524 693.4L525 693.4L526 693.6L527 694.2L528 694.2L529 694L530 693.7L531 692.9L532 693L533 693.1L534 693.7L535 694.3L536 694.4L537 694.3L538 693.8L539 693.1L540 693.8L541 694.9L542 693.6L543 694.2L544 694.7L545 694.1L546 694L547 693.6L548 694.2L549 694.4L550 694.5L551 693.6L552 694.3L553 693.8L554 692.9L555 692.8L556 693.5L557 694.4L558 693.8L559 694.5L560 695L561 694.1L562 693.7L563 694L564 694L565 694.4L566 694.7L567 694.3L568 694.4L569 694.1L570 694.3L571 695.1L572 694.9L573 694.1L574 693.9L575 693.9L576 694.5L577 695.4L578 694.6L579 694.1L580 694.1L581 694L582 694.1L583 694.7L584 694.6L585 694.5L586 694.7L587 694.4L588 694.6L589 694.1L590 693.8L591 694.2L592 694.9L593 695.1L594 695.1L595 694.7L596 695L597 695L598 694.4L599 694.5L600 694.7L601 694L602 694.2L603 695.1L604 695.1L605 696.7L606 696.6L607 694.3L608 693.7L609 694.7L610 695L611 694.9L612 695.3L613 694.9L614 693.8L615 693.4L616 694.1L617 694.7L618 694.7L619 694.7L620 696L621 695.5L622 693.7L623 693.2L624 694.2L625 695L626 696L627 695.6L628 693.6L629 694.1L630 695.4L631 696.3L632 696.9L633 696.7L634 695.8L635 695.1L636 694.8L637 695.2L638 695.6L639 694.8L640 694.7L641 694.7L642 695.1L643 695.9L644 696L645 695.4L646 694.7L647 695.1L648 694.6L649 694.6L650 695.3L651 695.7L652 695.6L653 696.4L654 697.1L655 696.1L656 695.5L657 695.7L658 696.4L659 697L660 697.1L661 697.1L662 697L663 696.3L664 696L665 696.6L666 697.1L667 696.5L668 696.7L669 698L670 696.8L671 695.4L672 695.6L673 696L674 696.8L675 697.8L676 698.3L677 697.6L678 696.7L679 697.6L680 698.3L681 697.7L682 697.2L683 696.7L684 697.2L685 697.5L686 697.2L687 697.1L688 697.5L689 698L690 698.1L691 697.7L692 696.5L693 696.7L694 697.5L695 696.3L696 696.1L697 696.6L698 696.9L699 697.4L700 697.7L701 698.7L702 697.6L703 697.2L704 697.4L705 697.4L706 698L707 697.6L708 695.8L709 696L710 698L711 697.9L712 698L713 698.7L714 698.5L715 697.9L716 697.8L717 697.1L718 697.8L719 698.8L720 697.9L721 697.2L722 697.9L723 698.2L724 697.4L725 697L726 698.1L727 698.3L728 697.4L729 698L730 698.4L731 698.6L732 698.1L733 697.6L734 697.8L735 697.5L736 698.5L737 698.8L738 698.4L739 698.2L740 697.3L741 697.4L742 697.4L743 697L744 697L745 698L746 699L747 699.2L748 699.2L749 699.5L750 699.1L751 698.8L752 699.3L753 698.6L754 698.1L755 698.8L756 699.5L757 698.6L758 698.5L759 698.8L760 697.6L761 697.4L762 697L763 697.3L764 698.2L765 699L766 699.4L767 699.4L768 700.2L769 700.4L770 699.1L771 697.9L772 698.2L773 698.5L774 698.7L775 698.6L776 698L777 698.8L778 699.3L779 699.4L780 699.9L781 699L782 698.8L782 771.4L781 770.7L780 771.6L779 772L778 772L777 771.7L776 770.9L775 771.1L774 771.7L773 771.6L772 770.9L771 771.8L770 772.9L769 771.9L768 771.8L767 773L766 772.9L765 772.3L764 772L763 771.9L762 771.1L761 771.7L760 772.8L759 771.6L758 771.5L757 772.3L756 772.2L755 771.8L754 771.3L753 771.8L752 772.2L751 771.6L750 771.1L749 771.2L748 770.9L747 771.7L746 771.7L745 770.4L744 771.2L743 772.5L742 771.9L741 771.2L740 771.5L739 771.8L738 772.4L737 771.7L736 771.8L735 773.2L734 772.7L733 770.7L732 770.5L731 770.5L730 770.9L729 771.6L728 771.8L727 772.6L726 772.3L725 771.6L724 771.3L723 771.4L722 772.3L721 772.4L720 772.3L719 773.7L718 773.2L717 771.9L716 771L715 771L714 772.6L713 773.5L712 772.7L711 772.2L710 772.7L709 772.3L708 771.1L707 771.8L706 772.9L705 771.7L704 771.8L703 771.8L702 771.8L701 772.8L700 773.3L699 773.8L698 773.1L697 771.1L696 771L695 771.9L694 772L693 772.5L692 772.4L691 772.8L690 772.9L689 772.7L688 773.1L687 772.3L686 771.9L685 772L684 772.5L683 772.4L682 771.2L681 770.8L680 772.6L679 773.7L678 771.7L677 771L676 772.7L675 772.6L674 772.3L673 773.4L672 774.6L671 773.8L670 772.2L669 772.3L668 772.8L667 772.4L666 771.5L665 771.7L664 772.3L663 772.5L662 773.1L661 773L660 772.6L659 773.4L658 773.8L657 773.2L656 772.7L655 772.1L654 772.3L653 772.1L652 772L651 771.7L650 772L649 773.5L648 773.6L647 773.7L646 773.4L645 772.2L644 771.2L643 772L642 772.5L641 772.1L640 772.8L639 773L638 772.7L637 772.3L636 772.3L635 772.4L634 772.9L633 773.3L632 773.6L631 773.2L630 772.2L629 772.1L628 771.7L627 771.3L626 772.2L625 772.3L624 772L623 772.1L622 772L621 771.6L620 771.9L619 772.4L618 772.1L617 772.6L616 772.3L615 772L614 772.7L613 772L612 771.9L611 772.5L610 772.8L609 771.9L608 771.1L607 771.2L606 771.3L605 771.8L604 771.6L603 772L602 772.6L601 772.1L600 771.9L599 772.8L598 772.9L597 772L596 771.5L595 772L594 772.3L593 772.4L592 772.2L591 771.5L590 771.7L589 771.6L588 771.7L587 773L586 772.5L585 770.7L584 771.1L583 771.4L582 770.7L581 770.8L580 771.3L579 771.1L578 770.8L577 771.2L576 772.1L575 771.7L574 770.9L573 771.4L572 771.2L571 772.3L570 772.7L569 771.8L568 772.3L567 772.6L566 771.5L565 770.4L564 770.6L563 770.3L562 770.1L561 771L560 772L559 771.6L558 771.3L557 771.4L556 771.6L555 771.1L554 770L553 770.5L552 771.6L551 772L550 770.9L549 770.5L548 771.2L547 771.4L546 771.6L545 771L544 770.3L543 771.1L542 771.7L541 771.7L540 771.7L539 771.9L538 771.9L537 771.5L536 771.8L535 771.6L534 771.8L533 771.6L532 771.1L531 771.5L530 770.9L529 770.9L528 770.4L527 771.1L526 772L525 771.4L524 771.3L523 772L522 771.7L521 770.4L520 771L519 771.4L518 771.7L517 771.7L516 770.9L515 769.6L514 770.5L513 771.4L512 770.8L511 771.5L510 772.6L509 772.1L508 771.7L507 772.1L506 771.6L505 771.4L504 771.2L503 771L502 771.4L501 770.9L500 771.8L499 771.4L498 770.7L497 771.6L496 771.4L495 771.8L494 770.8L493 770L492 770.1L491 770L490 770.4L489 770.7Z" fill="#ffa500" filter="url(#g10)"/>
<path d="M489 696.2L490 696.8L491 697.2L492 696.4L493 696.5L494 696.5L495 696.3L496 696.3L497 696.5L498 696.5L499 696.8L500 696.9L501 695.8L502 694.9L503 695.3L504 695.9L505 696.7L506 697L507 697L508 696.5L509 695.7L510 695.9L511 696.7L512 696.1L513 696.1L514 696.8L515 696.1L516 696.1L517 696.7L518 696.2L519 696L520 696.3L521 696.3L522 695.4L523 695.6L524 695.7L525 696L526 696.9L527 697L528 697L529 696.2L530 696.1L531 695.8L532 696.2L533 697L534 696.6L535 697L536 696.4L537 695.8L538 696L539 695.1L540 695.4L541 695.8L542 696.7L543 696.9L544 695.4L545 696.5L546 697.6L547 697.2L548 697.1L549 696.9L550 697.3L551 697.7L552 696.9L553 696.9L554 695.9L555 695.2L556 696.2L557 696.3L558 696.6L559 696.8L560 697.3L561 696.3L562 695.2L563 696.4L564 697L565 696.2L566 695.9L567 696.2L568 696.3L569 696.5L570 695.9L571 695.5L572 695.6L573 695.9L574 697.1L575 697.8L576 697.8L577 697.2L578 695.9L579 695.9L580 696L581 695.4L582 695.8L583 696.4L584 696.8L585 696.1L586 695.2L587 696L588 696.9L589 696L590 696.3L591 696.5L592 696.7L593 697.7L594 698.3L595 698L596 696.5L597 697.4L598 697.2L599 696.1L600 696.6L601 696.7L602 697.6L603 698.1L604 697.1L605 695.3L606 696.2L607 698.1L608 697.9L609 697.9L610 697.5L611 696.8L612 696.2L613 696.7L614 697.1L615 697.2L616 697.2L617 696.4L618 695.7L619 696.2L620 697L621 697.3L622 696.9L623 696.9L624 697.2L625 696.9L626 696.8L627 696.7L628 697.4L629 698.2L630 697.8L631 697.3L632 698.1L633 697.9L634 698.2L635 698.2L636 697.5L637 698.1L638 698.2L639 698.3L640 698.7L641 698.7L642 698.3L643 697.3L644 697.2L645 698L646 697.8L647 697.9L648 698.4L649 698.2L650 698L651 698.1L652 698.4L653 698.3L654 698.4L655 698.1L656 697.9L657 698.8L658 698.1L659 697.8L660 698.7L661 698.5L662 698.9L663 700.1L664 700.5L665 699.9L666 699.7L667 700.5L668 700.2L669 699.4L670 699.9L671 700.3L672 699.7L673 699.5L674 698.9L675 698.9L676 699.6L677 699.3L678 700.7L679 700.7L680 698.7L681 698.9L682 700.1L683 699.8L684 699.5L685 699.8L686 700L687 699.2L688 698.7L689 699.5L690 700.1L691 699.9L692 700.4L693 700.7L694 699.9L695 699.9L696 700.6L697 699.7L698 699L699 699.6L700 699L701 699.6L702 701.1L703 699.3L704 698.2L705 700L706 701.4L707 701.1L708 701L709 701.1L710 700.3L711 700.9L712 700.5L713 699.5L714 699.7L715 699.9L716 699.4L717 699L718 700.5L719 701L720 699.8L721 699.2L722 699L723 699.5L724 699.4L725 700L726 700.4L727 700.2L728 700.1L729 699.8L730 699.3L731 699L732 699.5L733 700.2L734 700.1L735 700.3L736 700.4L737 699.8L738 700.4L739 700.3L740 699.8L741 699.5L742 700L743 700L744 700.7L745 701.5L746 700.5L747 699.6L748 700.2L749 701.8L750 700.9L751 699.2L752 700L753 701.7L754 701.6L755 700.3L756 699.8L757 700.6L758 700.4L759 700.2L760 701L761 701.4L762 700.6L763 700.2L764 701L765 700.9L766 700.9L767 700.9L768 700.1L769 699.6L770 699.8L771 700.5L772 701.1L773 701.3L774 700.3L775 700.5L776 701.9L777 701.3L778 700.5L779 700L780 701L781 702.3L782 701.9L782 769.3L781 768.8L780 769.5L779 769.7L778 769L777 768.5L776 768.4L775 769.5L774 768.8L773 768.4L772 769.4L771 769.6L770 769L769 768.4L768 768L767 767.7L766 768.7L765 770.1L764 770.6L763 770.5L762 769.4L761 768.4L760 768.6L759 768.4L758 769.6L757 770L756 769.3L755 769.8L754 769.8L753 770.1L752 769.6L751 769L750 769.8L749 769.4L748 769L747 769L746 768.6L745 768.8L744 768.5L743 769.6L742 770.5L741 769.7L740 769.1L739 769.8L738 770L737 768.6L736 768.4L735 770L734 770.7L733 769.7L732 769.1L731 769.6L730 770L729 769.9L728 769.3L727 769.3L726 769.2L725 769.4L724 769.7L723 769.9L722 770.7L721 770.6L720 770.6L719 770.3L718 769.3L717 768.7L716 770.3L715 770.6L714 769.5L713 770.1L712 770L711 769.7L710 769.6L709 769.3L708 769.3L707 769.9L706 769.3L705 769.3L704 769.4L703 769.2L702 770L701 769.9L700 769.5L699 769.8L698 769L697 769L696 769.4L695 768.9L694 768.5L693 768.3L692 769.4L691 769.9L690 769.3L689 768.3L688 768.3L687 769.8L686 770.2L685 769.2L684 769.9L683 769.8L682 769.7L681 771L680 770L679 769.6L678 769.7L677 769.5L676 770.6L675 771.4L674 770.7L673 769.8L672 770.7L671 771L670 770.4L669 769.9L668 769.4L667 770.1L666 770.3L665 769.5L664 769.4L663 769.3L662 769.8L661 770.2L660 770L659 769.7L658 770.5L657 770.5L656 769.7L655 769.5L654 769.3L653 769.1L652 768.9L651 769.1L650 769.3L649 768.9L648 768.9L647 769.6L646 770.8L645 770.9L644 769.8L643 770L642 769.7L641 769.7L640 770.3L639 770L638 770.4L637 770.1L636 769.4L635 769.6L634 769L633 769.4L632 770L631 769.5L630 770.3L629 770.6L628 770.3L627 770L626 770.1L625 770.4L624 769.6L623 769.5L622 770.5L621 770.2L620 770.5L619 770.8L618 769.2L617 768.5L616 769.5L615 770.1L614 770.7L613 769.8L612 769.5L611 769.7L610 769L609 769.3L608 768.3L607 768.2L606 769.8L605 770.5L604 769.5L603 769.1L602 769.3L601 769.4L600 769.5L599 769.1L598 768.3L597 769.3L596 770.5L595 769.3L594 769.1L593 768.9L592 770L591 770.3L590 769.2L589 768.9L588 768.3L587 768.9L586 769.8L585 769.9L584 769.5L583 769L582 769.5L581 770.1L580 769.4L579 768.4L578 768.6L577 769.5L576 769.8L575 770L574 769.4L573 769.3L572 769.6L571 769.2L570 769L569 768.5L568 768.4L567 769.1L566 769.3L565 768.5L564 769.1L563 768.9L562 768.3L561 769.1L560 768.6L559 768.5L558 769.5L557 769.4L556 769L555 768.8L554 768.3L553 769.6L552 770.3L551 769.4L550 769.4L549 769.5L548 768.6L547 768.8L546 769.3L545 769.6L544 770.7L543 770.1L542 769.8L541 769.3L540 767.7L539 767.9L538 769.6L537 768.7L536 767L535 768.4L534 770L533 769.3L532 768.4L531 767.9L530 767.8L529 768.5L528 768.3L527 768.1L526 769.6L525 770.2L524 769.1L523 768.7L522 768.6L521 769.1L520 768.4L519 768.1L518 768.8L517 768.6L516 768.7L515 768.5L514 768.6L513 769L512 768.6L511 767.8L510 768.5L509 768.8L508 768.3L507 769.1L506 770.2L505 769.4L504 768.9L503 769.5L502 769.9L501 769.4L500 768.3L499 767.3L498 767.3L497 767.4L496 768.6L495 769.5L494 768.8L493 768.4L492 768.1L491 768.8L490 769.9L489 769.1Z" fill="#ffa500" filter="url(#g11)"/>
<path d="M489 699.2L490 699.4L491 699.3L492 699.2L493 699.1L494 698.8L495 698.5L496 698.8L497 698.3L498 698.1L499 697.9L500 697.7L501 697.6L502 697.6L503 697.9L504 698.5L505 698.4L506 697.5L507 697.9L508 698.1L509 697.7L510 698L511 698.4L512 698.4L513 698.8L514 699.6L515 699.6L516 698.7L517 697.5L518 697.1L519 697.8L520 697.6L521 697.7L522 698.2L523 698L524 698.5L525 698.6L526 697.4L527 696.5L528 698.1L529 698.9L530 698.8L531 698.8L532 698.3L533 698.1L534 698.2L535 698.9L536 698.8L537 698.8L538 698.8L539 697.5L540 697.6L541 699L542 698.4L543 698.4L544 698.2L545 697.7L546 698.5L547 697.4L548 697.5L549 698.6L550 698.8L551 698.5L552 698.1L553 698.3L554 698.4L555 697.9L556 698.6L557 698.4L558 697.6L559 698.4L560 698.2L561 698.5L562 698.6L563 697.9L564 698.3L565 699.6L566 699.3L567 698.9L568 698.7L569 698.2L570 698.5L571 698.9L572 699.1L573 698.4L574 697.9L575 698.2L576 698.7L577 700L578 699.8L579 699.5L580 700.5L581 699.5L582 698.1L583 698.8L584 698.6L585 698.8L586 699.4L587 699.1L588 699.4L589 698.2L590 698.5L591 699.6L592 698L593 696.9L594 698.2L595 699.1L596 699L597 699L598 698.6L599 698.3L600 699.4L601 698.5L602 696.7L603 698.4L604 700L605 700.2L606 700.3L607 700.1L608 699.9L609 698.7L610 698.1L611 699.3L612 699.9L613 699.8L614 700.5L615 700.1L616 700.4L617 700.2L618 699.2L619 699.8L620 700.2L621 699.8L622 699.8L623 699.2L624 699L625 700.2L626 700.2L627 699.7L628 699.7L629 699.3L630 700.2L631 700.8L632 699.8L633 699.7L634 700L635 699.8L636 699L637 699.7L638 700.1L639 699.4L640 698.8L641 699.3L642 700.6L643 700.7L644 700.5L645 699.3L646 700L647 701.2L648 700.2L649 700.4L650 700.8L651 700.6L652 700.3L653 700.2L654 700.4L655 700.7L656 700.8L657 700.8L658 701L659 701.2L660 701.6L661 701.5L662 701.7L663 701.7L664 702.7L665 703.3L666 702.5L667 701.3L668 700.6L669 701.4L670 701.9L671 702.1L672 702.1L673 701.4L674 702.2L675 702.8L676 702.2L677 702.1L678 701.8L679 701.8L680 702.6L681 702.4L682 701.9L683 702.7L684 701.8L685 700.8L686 700.9L687 701.5L688 701.3L689 700.9L690 701.7L691 701.6L692 700.8L693 701.8L694 702.3L695 701.2L696 702.1L697 702.1L698 701.4L699 701.2L700 701.3L701 701.8L702 702.6L703 702.5L704 702L705 701.1L706 701.1L707 702.5L708 702.9L709 701.7L710 700.7L711 700.7L712 701.1L713 702.6L714 701.9L715 701.5L716 701.9L717 702.3L718 702.3L719 700.9L720 700.9L721 701.7L722 701.7L723 701.4L724 702L725 702.6L726 702.2L727 702.3L728 702.6L729 703L730 703.7L731 704L732 703L733 702.4L734 702.5L735 702.5L736 702.9L737 702.6L738 702.3L739 702.7L740 702.6L741 701.9L742 701.6L743 701.3L744 702.2L745 703.4L746 702.9L747 702.1L748 702.9L749 703.1L750 702.1L751 702L752 702.7L753 703L754 703.4L755 703.8L756 703.2L757 701.9L758 701.4L759 703L760 704L761 703.6L762 703.4L763 703.2L764 702.8L765 702.3L766 702.7L767 703.4L768 702.5L769 701.7L770 702.4L771 702.7L772 703.3L773 703.7L774 702.4L775 702.1L776 702.3L777 702.2L778 702.9L779 702.9L780 702L781 701.3L782 702.1L782 767.9L781 767.8L780 767.1L779 767.2L778 767.7L777 767.4L776 766.7L775 767.6L774 767.3L773 765.7L772 766.2L771 767.7L770 767.8L769 767.4L768 767.7L767 768L766 767.9L765 767.6L764 767.5L763 766.7L762 765.9L761 765.7L760 765.4L759 765.3L758 766.6L757 766.7L756 767L755 766.6L754 766.1L753 767.4L752 768L751 767.8L750 768L749 767.8L748 767.5L747 768.2L746 767.6L745 766.8L744 766.1L743 766L742 766.4L741 766.3L740 767L739 766.3L738 765.9L737 767.6L736 767.3L735 766.6L734 767.3L733 766.4L732 765.9L731 766.7L730 767.5L729 767.6L728 766.8L727 767.5L726 767.2L725 767.7L724 767.3L723 766.6L722 767.7L721 767.6L720 767.8L719 768.3L718 768.2L717 767.7L716 767.3L715 767.2L714 767.6L713 767.1L712 766L711 766.4L710 767.1L709 767L708 766.9L707 767.6L706 767.8L705 767.7L704 768.1L703 768.3L702 768.1L701 767.6L700 767L699 766.9L698 767.1L697 767.8L696 767.4L695 767.3L694 767L693 766.5L692 767.7L691 768L690 767.1L689 767.3L688 768L687 768.4L686 768.7L685 768.7L684 767.7L683 766.6L682 766.6L681 766.9L680 767.8L679 768L678 767.6L677 768.2L676 768.7L675 769.5L674 769.5L673 767.6L672 768.2L671 768.8L670 768.3L669 767.9L668 767L667 767.5L666 768.2L665 768.2L664 768.5L663 768.3L662 768.4L661 768.9L660 767.8L659 767L658 768L657 769.3L656 768.5L655 767.6L654 767.6L653 768.4L652 768.1L651 765.9L650 766.7L649 768.5L648 768.7L647 767.9L646 768.6L645 769.3L644 768.5L643 768L642 767.3L641 767.2L640 768.1L639 767.3L638 766.4L637 766.5L636 767.2L635 768.5L634 768.2L633 767.4L632 767.9L631 767.4L630 766.4L629 766.5L628 767.6L627 767.9L626 768L625 768.3L624 767.1L623 767.3L622 768L621 768.1L620 767.7L619 767.3L618 767.5L617 768.3L616 768.4L615 768.3L614 767.6L613 766.6L612 767.7L611 768.2L610 767.3L609 767.4L608 767.7L607 767L606 767.1L605 766.8L604 766.6L603 767L602 766.8L601 766.9L600 767.4L599 767.8L598 767.9L597 767.4L596 766.3L595 766.8L594 767.4L593 768L592 767L591 766.6L590 766.9L589 767.3L588 767.2L587 766.6L586 768L585 767.3L584 766.5L583 767.3L582 766.4L581 766.5L580 767.3L579 767.5L578 767L577 767.2L576 767.7L575 767.5L574 767.3L573 766.4L572 766.2L571 766.5L570 767.2L569 767L568 765.4L567 766.1L566 767.4L565 768.1L564 767.7L563 767.1L562 767.3L561 767.1L560 766.8L559 766.4L558 766.1L557 766.8L556 767.6L555 767.6L554 766.6L553 766.2L552 765.9L551 765.1L550 766.7L549 767.3L548 766.9L547 766.9L546 766.7L545 766.2L544 766.9L543 767L542 766.3L541 766.9L540 767.3L539 768.1L538 768.2L537 766.8L536 767.4L535 768.3L534 767.1L533 766.2L532 766.8L531 767.5L530 766.6L529 766.9L528 767.3L527 766.8L526 767.2L525 767.8L524 767.4L523 765.8L522 765.9L521 766.8L520 766.5L519 767.1L518 767.3L517 765.9L516 766.7L515 767L514 765.5L513 764.9L512 765.5L511 766.6L510 766.9L509 767.1L508 766.9L507 767.2L506 767.6L505 767.5L504 767.9L503 767.7L502 767.3L501 767.6L500 766.8L499 765.8L498 766L497 766.8L496 767L495 766.1L494 766.5L493 767.4L492 766.6L491 766.4L490 767.5L489 767.2Z" fill="#ffa500" filter="url(#g12)"/>
<path d="M489 701.6L490 701.5L491 701L492 700.4L493 699.6L494 699.6L495 699.8L496 700.7L497 700.4L498 699.8L499 699.3L500 699.9L501 700.9L502 700.6L503 700.8L504 701L505 700.4L506 699.3L507 699.3L508 699.6L509 699.9L510 700.8L511 700.4L512 699.2L513 699.9L514 701.1L515 701L516 700L517 699.4L518 700.4L519 701.1L520 701.1L521 699.6L522 700L523 700.7L524 699.6L525 700.3L526 700.4L527 699.8L528 700.1L529 700.3L530 700.2L531 700.1L532 699.6L533 699.5L534 699.9L535 700L536 700.4L537 701.4L538 700.6L539 699.8L540 700.6L541 700L542 699.6L543 699.9L544 700.1L545 700.1L546 700L547 700.5L548 700.1L549 699.9L550 701L551 701L552 700L553 699L554 699.5L555 699.8L556 699.6L557 700.6L558 700.5L559 700.3L560 701.4L561 701.8L562 702.1L563 701.9L564 701.1L565 699.9L566 699.7L567 700.2L568 701.1L569 701.7L570 700.9L571 699.9L572 699.3L573 699.8L574 700.5L575 701.2L576 701.3L577 700.9L578 701.1L579 700.5L580 699.8L581 700L582 700.4L583 701L584 700.8L585 699.7L586 700L587 700.3L588 700.5L589 700L590 700.7L591 701.3L592 701.2L593 702L594 701.9L595 702.1L596 701.1L597 700.3L598 700.3L599 700.1L600 701.1L601 701.1L602 700.4L603 699.9L604 700.3L605 700.5L606 701.5L607 702.2L608 701L609 701.2L610 701L611 700.6L612 701L613 701.3L614 701.6L615 701.5L616 700.3L617 700.1L618 700.7L619 700.8L620 701.3L621 701.4L622 702.3L623 702.2L624 700.8L625 701L626 701.5L627 702.2L628 701.9L629 701.5L630 702L631 701.8L632 701.7L633 701.8L634 701.1L635 700.7L636 701.5L637 702.5L638 702.9L639 702.3L640 702L641 702.1L642 702.2L643 702.5L644 701.5L645 701L646 702.8L647 703.4L648 702.3L649 701.7L650 701.9L651 701.6L652 701.3L653 702.4L654 703.2L655 703L656 702.7L657 702.5L658 701.9L659 701.7L660 702.1L661 702.5L662 702.4L663 702L664 703.2L665 703.6L666 703.5L667 703.7L668 702.9L669 702.8L670 702.7L671 703.3L672 704.3L673 704.3L674 704L675 703.4L676 703L677 703.5L678 703.8L679 703.3L680 703.2L681 703.4L682 703.3L683 703.3L684 704L685 704.5L686 703.8L687 703.6L688 703.8L689 703.1L690 702.5L691 703.3L692 704.9L693 705L694 704.8L695 705.4L696 705.5L697 704.2L698 703.6L699 703.8L700 702.9L701 703.5L702 704.1L703 704.3L704 704.4L705 703.8L706 703.7L707 703.7L708 704.4L709 704.5L710 704.3L711 704.1L712 704.2L713 703.9L714 703.7L715 704.4L716 704.1L717 704.5L718 704.8L719 703.5L720 703.3L721 704.3L722 704.5L723 703.4L724 703.6L725 704.1L726 703.9L727 703.2L728 704L729 705.9L730 705.1L731 703.5L732 703.7L733 705.5L734 705.9L735 706.1L736 704.8L737 704.3L738 704.8L739 704L740 704.6L741 704.8L742 704L743 702.9L744 703.2L745 703.9L746 705.3L747 705.2L748 704.8L749 704.9L750 705L751 705.7L752 705.7L753 705.5L754 705.3L755 705L756 704L757 704.9L758 706.4L759 705.9L760 706.1L761 705.3L762 704.2L763 704.4L764 704.8L765 704.5L766 704.4L767 705.3L768 705.9L769 705.7L770 706L771 705.5L772 704.7L773 706.1L774 705.1L775 704.2L776 704.9L777 705.7L778 706L779 704.9L780 704.2L781 704.6L782 705.4L782 764.7L781 765.4L780 765.2L779 765.1L778 764.4L777 763L776 764.4L775 765.1L774 764.6L773 764.7L772 763.2L771 763L770 764.3L769 765.8L768 766.2L767 764.6L766 765.4L765 766.2L764 764.8L763 764.8L762 764.5L761 764.9L760 765.9L759 764.6L758 764L757 764.9L756 765.9L755 765.4L754 764.7L753 763.7L752 763.7L751 765.7L750 766.4L749 765.9L748 765.6L747 766.2L746 766.2L745 765.8L744 765.1L743 764L742 764L741 764.5L740 765.3L739 765.1L738 764.5L737 765L736 765.8L735 766L734 765.7L733 764.8L732 764.3L731 765L730 765.6L729 766.1L728 766.1L727 765.4L726 765.2L725 765.2L724 765.6L723 765.3L722 764.1L721 764.1L720 764.3L719 763.9L718 765.3L717 765.7L716 764.7L715 764.6L714 764.8L713 765.7L712 767L711 767L710 766.6L709 765.7L708 765.3L707 765.9L706 766.4L705 766.7L704 765.5L703 765.9L702 765.8L701 765.5L700 766.2L699 765.6L698 765.7L697 767L696 766.5L695 764.9L694 764.3L693 764.7L692 765.8L691 765.5L690 764.9L689 764.7L688 764L687 763.8L686 764.8L685 765.8L684 766L683 765.8L682 765.7L681 765.2L680 764.9L679 764.3L678 765.2L677 766.7L676 765.7L675 765.9L674 766.4L673 765.7L672 766.6L671 766.2L670 765.8L669 765.1L668 765.4L667 765.7L666 764.9L665 765.7L664 766.6L663 766.3L662 765.5L661 765.9L660 767.3L659 767.2L658 765.3L657 765.1L656 765.8L655 765.3L654 765.1L653 765.4L652 765.8L651 766.6L650 766.3L649 765.8L648 765.3L647 765.7L646 766.1L645 765.6L644 765.7L643 765.7L642 766.5L641 766.7L640 765.8L639 765.3L638 765.6L637 766L636 765.5L635 765.9L634 765.3L633 764.6L632 765.4L631 765.8L630 766.5L629 766.4L628 765.5L627 765.5L626 766.4L625 767.1L624 766.4L623 765.8L622 765.4L621 765.3L620 765.8L619 765L618 765.6L617 766.2L616 766.2L615 766L614 765.5L613 765.4L612 765.1L611 765L610 765.3L609 766L608 765.9L607 766.7L606 765.6L605 764.2L604 766.4L603 767.4L602 765.5L601 764.7L600 765.6L599 766.1L598 764.9L597 764.6L596 765.8L595 765.2L594 764.2L593 764.7L592 765.1L591 764.9L590 764.5L589 765.5L588 765.5L587 764.2L586 765.2L585 765.5L584 765.1L583 765.6L582 766.2L581 765.9L580 765.9L579 765.6L578 765.3L577 765.8L576 764.9L575 764.5L574 765.8L573 765.9L572 764.5L571 764.8L570 765.1L569 764.8L568 764.6L567 765.8L566 766.8L565 765.7L564 765.1L563 765.4L562 765.9L561 765.2L560 764.6L559 765.1L558 764.5L557 763.5L556 764L555 764.6L554 764.4L553 765.3L552 765.6L551 765.5L550 765.8L549 765L548 764.1L547 763.7L546 765.1L545 766L544 765.1L543 765.7L542 766.3L541 766L540 764.9L539 765L538 766.4L537 765.8L536 764.7L535 765.2L534 765L533 764.4L532 765.8L531 766L530 764.6L529 764.9L528 765.9L527 765.9L526 765.1L525 764.8L524 765.3L523 765.8L522 764.5L521 762.8L520 764.2L519 765.5L518 765.3L517 764.5L516 764.7L515 765.9L514 765.9L513 764.5L512 764.8L511 765.2L510 764.6L509 764.8L508 764.6L507 764.8L506 765L505 764L504 764.4L503 764.1L502 764.1L501 764.6L500 764.3L499 763.9L498 763.7L497 764.2L496 763.4L495 763.8L494 764.2L493 763.5L492 763.8L491 765L490 765.5L489 764.3Z" fill="#ffa500" filter="url(#g13)"/>
<path d="M489 703.3L490 703.1L491 703L492 702L493 701.1L494 701.8L495 702.2L496 700.8L497 701.7L498 702.7L499 702.2L500 701.4L501 701.7L502 702.3L503 701.2L504 701L505 701.1L506 702.2L507 702.5L508 702L509 702.8L510 703.6L511 702.7L512 701.2L513 702L514 702.9L515 703.7L516 703.1L517 702.7L518 703.5L519 702.8L520 700.7L521 700.7L522 702.1L523 700.9L524 701.5L525 702.2L526 701.2L527 701.5L528 702.6L529 703.7L530 703.7L531 703L532 702.6L533 701.5L534 700.9L535 701.6L536 702.1L537 701.8L538 702.7L539 703.7L540 702.5L541 702.4L542 702.9L543 703.6L544 704.1L545 703.3L546 703.1L547 703.2L548 702.9L549 703.3L550 703.3L551 701.5L552 701.5L553 702.7L554 702L555 700.8L556 701.4L557 702.9L558 703.4L559 701.4L560 701.3L561 702.5L562 701.8L563 702L564 703.6L565 702.9L566 701.6L567 701.2L568 701.6L569 702.9L570 702.7L571 702.8L572 702L573 701.8L574 702.3L575 701.9L576 702.4L577 703.2L578 702.3L579 702.1L580 702.8L581 702.9L582 703L583 702.9L584 702.5L585 701.9L586 701.6L587 702.3L588 702.8L589 702.1L590 702L591 702.9L592 703.7L593 703.8L594 703.1L595 703.2L596 702.5L597 702.2L598 702.6L599 703.4L600 703.3L601 702.7L602 704.3L603 703.8L604 702.5L605 702.7L606 702.9L607 702.4L608 702.3L609 703.2L610 703.8L611 703L612 702.2L613 702.7L614 703.5L615 703.5L616 703.4L617 704.3L618 704.9L619 704.3L620 703.4L621 704L622 704.2L623 703.5L624 702.4L625 702.7L626 703.1L627 702.4L628 703.8L629 704L630 703.1L631 703.6L632 704.5L633 704.3L634 704.2L635 703.5L636 703.3L637 703.6L638 702.5L639 702.9L640 703.7L641 703.4L642 703.7L643 703.8L644 704.1L645 704L646 703.9L647 703.9L648 703.9L649 704.3L650 704.5L651 705.8L652 705.5L653 704.7L654 704.3L655 703.7L656 704.4L657 705.3L658 704.7L659 704.1L660 705.3L661 704.6L662 704.3L663 705.1L664 705.9L665 705.9L666 704.6L667 705.5L668 706.8L669 706.4L670 706.7L671 706.2L672 705.4L673 705.2L674 704.7L675 705.3L676 705.6L677 706.3L678 706.1L679 705.3L680 704.6L681 704.6L682 705.4L683 705.1L684 705.4L685 705.6L686 705L687 705.4L688 706.1L689 705.4L690 706.1L691 706.4L692 706.1L693 706.6L694 706L695 705.7L696 705.9L697 705.3L698 705.2L699 706.5L700 706.8L701 706.7L702 707.1L703 705.5L704 705.1L705 706.2L706 706.3L707 706.2L708 706.3L709 705.8L710 706.1L711 707.4L712 706.7L713 705.7L714 706L715 706.6L716 706.4L717 706.5L718 706.5L719 705.7L720 704.9L721 705.4L722 706.8L723 706.2L724 705.9L725 705.9L726 705.4L727 706.6L728 707.6L729 705.8L730 705.7L731 706.9L732 707.3L733 707.4L734 706.6L735 706L736 705.8L737 706.1L738 705.4L739 706L740 706.5L741 706.2L742 706.8L743 705.8L744 705.2L745 705.8L746 705.7L747 705.4L748 705.8L749 705.7L750 705.4L751 705.8L752 705.8L753 706L754 706.2L755 706.5L756 707.6L757 707.1L758 706L759 706L760 707L761 706.5L762 705.1L763 706.4L764 707.1L765 706L766 706.4L767 706.6L768 705.6L769 706.8L770 708L771 707.8L772 707.3L773 707.2L774 706.7L775 707.3L776 706.9L777 706.2L778 707.8L779 707L780 706.2L781 706.9L782 707.9L782 763.1L781 762.5L780 762L779 762.5L778 763.1L777 763.3L776 763.6L775 764.6L774 764.4L773 763.2L772 763.9L771 764.2L770 763.8L769 763L768 763.6L767 764.1L766 763.4L765 763.7L764 763.4L763 762.9L762 762.3L761 763.2L760 765.3L759 764.1L758 763.1L757 764.1L756 763.7L755 763.2L754 763.1L753 763.4L752 764.8L751 764.7L750 765.1L749 764.5L748 764.1L747 764.5L746 763.7L745 763.8L744 763.1L743 762.9L742 763.1L741 762.6L740 763.3L739 764.5L738 764.1L737 764.3L736 763.3L735 763.1L734 764.2L733 763.6L732 762.8L731 763.2L730 763.9L729 763.9L728 764.4L727 764.6L726 763L725 762.9L724 764.1L723 763.6L722 762.8L721 764.5L720 764.7L719 763L718 763.4L717 763.4L716 762.7L715 764.1L714 764.9L713 764L712 764.3L711 764.2L710 764L709 764L708 763.7L707 763.1L706 763L705 764.4L704 764.8L703 763.4L702 763.5L701 764.4L700 763.8L699 763.3L698 763.6L697 763.8L696 764.5L695 765.3L694 764.9L693 763.6L692 762.8L691 762.7L690 764L689 764.7L688 763.5L687 762.5L686 763.3L685 764.3L684 764.2L683 762.5L682 762.4L681 763.8L680 763.5L679 763.6L678 764.5L677 765.5L676 766.1L675 765.1L674 764.5L673 764.6L672 764.1L671 764.2L670 764.7L669 763.7L668 762.6L667 764.1L666 765.2L665 764.6L664 763.5L663 763.2L662 763.4L661 764.5L660 766L659 764.8L658 764L657 763.1L656 763.8L655 765.2L654 763.8L653 763.2L652 764.3L651 765.2L650 763.9L649 763.4L648 764L647 764L646 764.9L645 764.8L644 764.8L643 765.4L642 765.4L641 764L640 762.8L639 764.4L638 765.2L637 765L636 764.4L635 763.8L634 764.9L633 764.9L632 765.6L631 765.7L630 764.1L629 762.9L628 763L627 763.8L626 763L625 763.6L624 764L623 764.5L622 764.3L621 764.1L620 764.3L619 764L618 764.1L617 764.1L616 763.5L615 763.7L614 764.1L613 763.3L612 762.3L611 763L610 764.2L609 764.5L608 764.6L607 763.7L606 763.1L605 763.9L604 764.2L603 763.8L602 765.1L601 765.8L600 764.5L599 763.8L598 763.9L597 763.9L596 763.2L595 763.9L594 764.9L593 763.6L592 763L591 763.7L590 763.5L589 763.6L588 763.4L587 762.5L586 762.7L585 763.9L584 764L583 762.6L582 762.8L581 763.4L580 762.1L579 762.1L578 763.5L577 763.1L576 762.7L575 764.1L574 763.8L573 762.9L572 764.3L571 764.1L570 762.9L569 763.6L568 764.3L567 763.9L566 763.2L565 762.5L564 763.5L563 763.8L562 762.5L561 763L560 763.7L559 764.1L558 763.2L557 763.4L556 763.4L555 763.1L554 763.8L553 763.2L552 762.9L551 762.9L550 762.9L549 762.5L548 761.9L547 762.3L546 763.5L545 763.3L544 763L543 763.8L542 762.6L541 762.2L540 763.3L539 763.3L538 762.8L537 762.9L536 763.4L535 763.1L534 764.2L533 764.4L532 763.4L531 763.5L530 764.1L529 763.8L528 763.3L527 763.7L526 763.5L525 763.5L524 763L523 762.6L522 763.2L521 763.3L520 763.3L519 762.7L518 763.1L517 762.3L516 762.2L515 763.4L514 763L513 762.8L512 763L511 763L510 763.5L509 763.1L508 762.7L507 763L506 762.6L505 762.5L504 763.4L503 764.5L502 763.3L501 761.9L500 762.8L499 763.3L498 763.3L497 762.8L496 763.4L495 763.6L494 762.6L493 762.9L492 762.2L491 762.9L490 763.9L489 763.4Z" fill="#ffa500" filter="url(#g14)"/>
<path d="M489 704.8L490 704.5L491 705.2L492 704.5L493 703.3L494 703.5L495 704.1L496 703.9L497 704.2L498 705.8L499 706L500 705.7L501 706L502 705.7L503 705L504 704.7L505 703.8L506 703.1L507 703.5L508 703.6L509 703.6L510 704.4L511 704.7L512 704.3L513 705.4L514 705.3L515 704.2L516 705L517 704.9L518 705L519 704.7L520 704.9L521 705.5L522 703.9L523 703.6L524 704.8L525 704.7L526 704.6L527 704.6L528 704.7L529 704.8L530 705.1L531 705.5L532 705.4L533 705.6L534 704.9L535 704.3L536 704.8L537 705.5L538 705.6L539 704.3L540 704.7L541 705.5L542 705.6L543 704.9L544 704L545 704.2L546 703.8L547 704.9L548 705.4L549 704.2L550 703.7L551 703.7L552 704.8L553 705.8L554 705.7L555 704.9L556 704.7L557 704L558 703.2L559 704L560 704.8L561 704.9L562 704.8L563 704.6L564 704.3L565 704.7L566 704.6L567 704.3L568 704.4L569 705.5L570 705.1L571 705.4L572 705.5L573 704.9L574 705.9L575 706.2L576 705.4L577 703.4L578 703.1L579 704.6L580 706.3L581 706L582 705.1L583 705.5L584 706.2L585 706.4L586 706.4L587 705.7L588 704.1L589 704.4L590 704.8L591 705.2L592 705.6L593 705.8L594 705.3L595 704.5L596 704.8L597 705.7L598 705.8L599 705.2L600 706.1L601 705.9L602 704.9L603 706.1L604 705.1L605 704.9L606 706L607 705.3L608 705.5L609 705.7L610 705.7L611 706.3L612 705.3L613 703.4L614 704.6L615 705L616 704.8L617 705.3L618 705.4L619 705.9L620 704.8L621 704.1L622 706.1L623 706.3L624 705.2L625 706.8L626 707.3L627 705.5L628 705.7L629 706.5L630 705.6L631 705.7L632 706.2L633 704.8L634 705.4L635 706.8L636 706.7L637 706.5L638 706L639 705.5L640 705.4L641 706.1L642 706.9L643 707.4L644 707.3L645 706.2L646 705.7L647 705.4L648 705.3L649 707.4L650 706.9L651 704.9L652 705.2L653 706.3L654 707.3L655 706.8L656 707.2L657 707.2L658 707L659 708.1L660 707.9L661 707.1L662 707.4L663 708L664 708.2L665 707.7L666 707.6L667 707.8L668 708.2L669 708.1L670 707.5L671 707.2L672 707.1L673 707.3L674 707.7L675 708.7L676 708.3L677 708.7L678 708.8L679 708.5L680 708.9L681 708L682 707.6L683 707.2L684 707.5L685 709.2L686 709.1L687 709.1L688 709L689 708L690 708.1L691 708L692 708.1L693 709.3L694 709.2L695 708L696 708L697 708.7L698 708.6L699 707.3L700 706.9L701 708.6L702 709L703 708.9L704 708.9L705 707.9L706 708.1L707 709L708 708.7L709 707.6L710 707.5L711 707.9L712 708.6L713 708.5L714 707.4L715 707.1L716 707.7L717 708.2L718 708L719 708.5L720 708.6L721 709.6L722 710.6L723 709.1L724 709.2L725 709.6L726 708.8L727 708.3L728 708.4L729 709.5L730 709.5L731 709.2L732 709.4L733 709.6L734 708.3L735 707.9L736 708.9L737 708.7L738 709.5L739 710.2L740 709.1L741 709L742 709.2L743 708.9L744 708.4L745 707.7L746 708.5L747 709.5L748 708.4L749 708.8L750 709.5L751 708.8L752 708.3L753 709.5L754 710.5L755 709.9L756 709.6L757 709.3L758 709.1L759 709.9L760 709.7L761 708.6L762 709.3L763 708.8L764 708L765 708.6L766 708.8L767 708.5L768 708.3L769 708.8L770 709.1L771 709.7L772 710.3L773 710.1L774 709.2L775 708.8L776 708.8L777 710.2L778 711.2L779 710.8L780 710.4L781 709.3L782 709.5L782 761.2L781 761L780 760.3L779 760.4L778 762.1L777 761.4L776 760.8L775 762.4L774 762.1L773 761.7L772 761.8L771 762.2L770 762.5L769 761.8L768 761.1L767 761.4L766 761.2L765 761.6L764 761.4L763 761.2L762 762.1L761 761.3L760 761.9L759 762.5L758 761.7L757 761.6L756 761L755 761.2L754 761.8L753 761.2L752 761.2L751 761.7L750 761.8L749 761.4L748 760.7L747 761.8L746 762.6L745 761.8L744 761.6L743 761.7L742 762.7L741 762.8L740 762.5L739 762.7L738 762.6L737 762.4L736 763.1L735 762.7L734 761.4L733 761L732 761.5L731 761.2L730 761.7L729 762.1L728 761.1L727 761.4L726 761.8L725 762L724 761.6L723 761.7L722 761.5L721 761L720 761.2L719 761.3L718 762.3L717 763L716 762.8L715 761.9L714 762.2L713 763.3L712 763.2L711 763.6L710 763.3L709 762.8L708 762.9L707 762.7L706 762L705 761.8L704 762.2L703 762.5L702 762.5L701 761.4L700 761.3L699 762.6L698 762.3L697 761.5L696 761.7L695 761.8L694 761.6L693 761.3L692 761.2L691 761.3L690 762L689 762.7L688 762.7L687 762.3L686 762.6L685 762.5L684 762.2L683 761.9L682 761.9L681 762.6L680 762L679 761.8L678 763L677 762.5L676 761.1L675 762.1L674 763L673 762.9L672 762.8L671 763L670 763.4L669 762.9L668 761.8L667 762.1L666 763L665 762.6L664 762.9L663 762.6L662 761.4L661 761.3L660 762.6L659 762.8L658 762.4L657 762.6L656 762L655 761.8L654 762.6L653 762.6L652 762.8L651 763.3L650 763.2L649 763.2L648 762.6L647 762.7L646 762.3L645 762.1L644 761.7L643 760.4L642 760.8L641 761.4L640 762.4L639 763L638 762.5L637 762.1L636 761.9L635 763L634 763.6L633 763.2L632 763.1L631 763L630 763.1L629 761.6L628 760.7L627 761.4L626 761.5L625 761.5L624 762.2L623 762.2L622 761.6L621 761.1L620 762.2L619 762.1L618 761.5L617 762.9L616 763.1L615 762.2L614 761.5L613 761.4L612 761.7L611 762.5L610 763.2L609 762.9L608 761.7L607 760.8L606 761.7L605 761.1L604 760.4L603 761.9L602 762.9L601 762.4L600 762.3L599 762.2L598 761.3L597 761.4L596 761.7L595 760.7L594 760.2L593 762L592 762.4L591 762.1L590 761.3L589 761.6L588 762.5L587 762L586 761.7L585 761.3L584 761.6L583 761L582 762.2L581 763L580 761.6L579 762.1L578 762L577 762L576 762.3L575 762.6L574 762.6L573 762.4L572 761.5L571 761.2L570 761.3L569 761.3L568 762.9L567 762.9L566 761.9L565 762.8L564 763.7L563 761.8L562 761.3L561 761.6L560 762.4L559 762.9L558 761L557 760L556 760.6L555 761L554 761.8L553 762.8L552 761.6L551 760.7L550 760.8L549 761.2L548 761.3L547 761.1L546 761.4L545 761.5L544 761.7L543 762.2L542 761.8L541 761.4L540 761.5L539 761.4L538 760.2L537 760.3L536 762.3L535 762L534 762.1L533 762.1L532 762.1L531 762.3L530 761.2L529 761.5L528 762.5L527 761.3L526 760.9L525 762.2L524 761.7L523 761.7L522 762.1L521 762.3L520 762.2L519 761.9L518 761.8L517 761.4L516 761L515 762.1L514 762.4L513 761.6L512 761.1L511 760.3L510 760.8L509 761.3L508 761.4L507 761.5L506 760.9L505 761.6L504 762.4L503 761.3L502 760.6L501 761.2L500 760.4L499 760.1L498 761.2L497 760.7L496 759.6L495 760.7L494 762L493 762L492 762.4L491 762.8L490 761.8L489 761.1Z" fill="#ffa500" filter="url(#g15)"/>
<path d="M489 707.5L490 707.3L491 706.6L492 706.1L493 706.3L494 706.6L495 706.8L496 706.7L497 706.5L498 706.6L499 706.7L500 706.9L501 706.9L502 706.6L503 706.6L504 706.6L505 706.5L506 706.8L507 706.8L508 706.7L509 706.6L510 706.7L511 706.9L512 706.5L513 706.6L514 707L515 706.6L516 706.6L517 707L518 706.9L519 706.6L520 706.5L521 706.7L522 706.9L523 706.9L524 707L525 706.9L526 706.5L527 706.4L528 706.7L529 707L530 707L531 707L532 707L533 707L534 706.9L535 707.1L536 707.1L537 706.9L538 706.6L539 706.7L540 707.2L541 707.2L542 706.8L543 706.6L544 706.7L545 706.9L546 707.2L547 706.8L548 706.6L549 706.7L550 706.5L551 706.5L552 706.8L553 706.9L554 706.8L555 706.7L556 706.9L557 706.9L558 707L559 707.2L560 707.1L561 707L562 707L563 707.3L564 707.2L565 706.7L566 706.5L567 706.5L568 706.8L569 707L570 706.9L571 706.5L572 706.8L573 707.3L574 706.8L575 706.8L576 707L577 707.3L578 707.5L579 707.1L580 706.8L581 707.1L582 707.2L583 707L584 707.1L585 707.2L586 707L587 707.2L588 707.4L589 707.4L590 707.5L591 707.5L592 707.7L593 707.7L594 707.5L595 707.2L596 707.2L597 707.3L598 707.2L599 707.4L600 707.5L601 707.7L602 707.8L603 707.8L604 707.7L605 707.7L606 707.5L607 707.7L608 707.9L609 707.7L610 707.9L611 707.6L612 707.7L613 707.9L614 707.9L615 708.2L616 708L617 707.9L618 707.9L619 707.9L620 708L621 707.9L622 708L623 708.1L624 708.2L625 708.2L626 708.2L627 708.1L628 707.9L629 708L630 708.2L631 708.3L632 708.3L633 708.2L634 708.3L635 708.1L636 708.1L637 707.7L638 707.9L639 708.2L640 708.3L641 708.6L642 708.4L643 708.2L644 708.4L645 708.5L646 708.6L647 708.5L648 708.4L649 708.8L650 708.9L651 709L652 709.1L653 708.8L654 708.9L655 709.2L656 709.1L657 709.3L658 709.7L659 709.6L660 709.3L661 709.1L662 709.2L663 709.4L664 709.6L665 709.9L666 710L667 709.8L668 710L669 710.1L670 709.8L671 709.9L672 710.2L673 709.9L674 709.9L675 710.2L676 709.9L677 709.6L678 709.7L679 710L680 710L681 709.9L682 710L683 710L684 710L685 710.3L686 710.7L687 710.4L688 710.4L689 710.5L690 710.6L691 710.3L692 709.9L693 710L694 710.3L695 710.5L696 710.1L697 710L698 710.6L699 710.6L700 710.5L701 710.4L702 710.3L703 710.4L704 710.3L705 710.2L706 710.4L707 710.9L708 710.7L709 710.5L710 710.5L711 710.4L712 710.5L713 710.6L714 710.6L715 710.6L716 710.7L717 711L718 711.1L719 710.8L720 710.7L721 710.5L722 710.6L723 710.7L724 710.7L725 710.7L726 710.6L727 710.7L728 710.7L729 710.8L730 710.9L731 711L732 710.9L733 710.9L734 711.1L735 711.1L736 710.8L737 710.5L738 710.7L739 711.1L740 711.2L741 711.1L742 711.1L743 711L744 710.9L745 711L746 710.8L747 710.7L748 710.9L749 710.9L750 711L751 710.9L752 710.8L753 710.8L754 710.8L755 711.2L756 711.2L757 711.3L758 711.2L759 711.1L760 711.3L761 711.3L762 711.2L763 711.2L764 711.6L765 711.4L766 711.3L767 711.6L768 711.3L769 711.1L770 711.3L771 711.2L772 711.3L773 711.5L774 711.5L775 711.3L776 711.3L777 711.4L778 711.4L779 711.6L780 711.5L781 711.3L782 711.6L782 759.3L781 759.2L780 759.3L779 759.2L778 759.5L777 759.7L776 759.8L775 760L774 759.8L773 759.8L772 759.9L771 759.8L770 759.6L769 759.5L768 759.7L767 759.7L766 759.6L765 759.9L764 760.1L763 759.8L762 759.6L761 759.7L760 760.1L759 760L758 759.9L757 759.8L756 759.6L755 759.6L754 759.6L753 759.7L752 759.7L751 759.7L750 759.6L749 759.7L748 760L747 760L746 760L745 759.8L744 759.8L743 759.8L742 759.9L741 759.8L740 759.4L739 759.5L738 759.7L737 759.8L736 759.7L735 759.5L734 759.6L733 759.7L732 759.7L731 760L730 759.8L729 759.5L728 759.6L727 759.6L726 759.6L725 759.9L724 759.8L723 759.7L722 759.9L721 760L720 760.1L719 760.2L718 760L717 759.9L716 760L715 760.3L714 760.3L713 760.1L712 760L711 760.1L710 760.1L709 760L708 760.2L707 760.4L706 760.3L705 760.1L704 760.3L703 760.4L702 760.1L701 760.1L700 760.2L699 760.1L698 760.2L697 760.2L696 760.2L695 760.4L694 760.2L693 760.3L692 760.4L691 760.1L690 760L689 760.1L688 760.3L687 760.4L686 760.3L685 760.1L684 760.3L683 760.7L682 760.5L681 760.5L680 760.6L679 760.3L678 760.1L677 760.4L676 760.8L675 760.6L674 760.3L673 760.3L672 760.5L671 760.6L670 760.3L669 760.2L668 760.5L667 760.6L666 760.6L665 760.9L664 760.7L663 760.6L662 760.8L661 760.3L660 760.3L659 760.5L658 760.4L657 760.6L656 760.4L655 760.4L654 760.5L653 760.5L652 760.3L651 760.1L650 760.5L649 760.7L648 760.5L647 760.2L646 760L645 760L644 759.8L643 760.2L642 760.6L641 760.5L640 760.7L639 760.6L638 760.3L637 760.1L636 760L635 760.3L634 760.1L633 760L632 760.1L631 759.9L630 760L629 759.9L628 759.8L627 760L626 760.1L625 760.2L624 760.2L623 759.8L622 760.1L621 760.1L620 760.2L619 760L618 759.6L617 759.9L616 760.2L615 760.2L614 760.1L613 760.1L612 760.1L611 760.1L610 759.7L609 759.8L608 759.9L607 759.9L606 759.8L605 759.8L604 759.8L603 759.7L602 759.9L601 760.1L600 759.9L599 759.8L598 759.9L597 759.8L596 759.6L595 759.6L594 759.8L593 759.9L592 760L591 759.8L590 759.8L589 760L588 759.8L587 759.7L586 759.9L585 759.9L584 759.9L583 759.8L582 759.7L581 759.8L580 759.6L579 759.4L578 759.4L577 759.6L576 759.5L575 759.6L574 759.7L573 759.8L572 759.7L571 759.6L570 759.3L569 759.1L568 759.4L567 759.7L566 759.9L565 759.8L564 759.4L563 759.6L562 759.5L561 759.3L560 759.5L559 759.2L558 759.2L557 759.2L556 759.2L555 759.2L554 759L553 759.2L552 759.7L551 759.5L550 759.2L549 759.5L548 759.5L547 759.3L546 759.3L545 759.5L544 759.5L543 759.3L542 759.4L541 759.5L540 759.6L539 759.6L538 759.5L537 759.5L536 759.2L535 759.1L534 759.3L533 759.5L532 759.4L531 759.2L530 759.2L529 759.1L528 759.3L527 759.4L526 758.9L525 759L524 759.1L523 759.3L522 759.6L521 759.4L520 759.3L519 759.4L518 759.3L517 759.3L516 759.2L515 759.2L514 759.4L513 759.2L512 759.2L511 758.9L510 759L509 759.5L508 759.5L507 759.2L506 759.1L505 759.2L504 759L503 759.1L502 759.1L501 759.3L500 759.4L499 758.9L498 759L497 759.3L496 759.1L495 759.1L494 759.3L493 759.1L492 759L491 759.1L490 759.4L489 759.5Z" fill="#ffa500" />
<path d="M737.5 690.9l1.5 -1.5l1.5 1.5l-1.5 1.5zM657.6 699.1l1.5 -1.5l1.5 1.5l-1.5 1.5zM727.5 698.5l1.5 -1.5l1.5 1.5l-1.5 1.5zM639.5 699.8l1.5 -1.5l1.5 1.5l-1.5 1.5zM676.7 697.3l1.5 -1.5l1.5 1.5l-1.5 1.5zM604.7 699.9l1.5 -1.5l1.5 1.5l-1.5 1.5zM539.7 693.5l1.5 -1.5l1.5 1.5l-1.5 1.5zM633.2 694.6l1.5 -1.5l1.5 1.5l-1.5 1.5zM567.2 691.6l1.5 -1.5l1.5 1.5l-1.5 1.5zM596.3 698.1l1.5 -1.5l1.5 1.5l-1.5 1.5zM590.4 688.6l1.5 -1.5l1.5 1.5l-1.5 1.5zM526.7 689.1l1.5 -1.5l1.5 1.5l-1.5 1.5zM562.8 690.1l1.5 -1.5l1.5 1.5l-1.5 1.5zM580.3 697.4l1.5 -1.5l1.5 1.5l-1.5 1.5zM729.5 697.4l1.5 -1.5l1.5 1.5l-1.5 1.5zM698.6 693.4l1.5 -1.5l1.5 1.5l-1.5 1.5zM513 697.8l1.5 -1.5l1.5 1.5l-1.5 1.5zM530.5 696.9l1.5 -1.5l1.5 1.5l-1.5 1.5zM624.7 699.4l1.5 -1.5l1.5 1.5l-1.5 1.5zM743.5 694.9l1.5 -1.5l1.5 1.5l-1.5 1.5zM630 699.8l1.5 -1.5l1.5 1.5l-1.5 1.5zM539 693.4l1.5 -1.5l1.5 1.5l-1.5 1.5zM583.6 694.1l1.5 -1.5l1.5 1.5l-1.5 1.5zM578.9 697.1l1.5 -1.5l1.5 1.5l-1.5 1.5zM717.6 689.2l1.5 -1.5l1.5 1.5l-1.5 1.5zM781.3 688.6l1.5 -1.5l1.5 1.5l-1.5 1.5zM581.4 691.1l1.5 -1.5l1.5 1.5l-1.5 1.5zM506.9 699.5l1.5 -1.5l1.5 1.5l-1.5 1.5zM604.7 697.2l1.5 -1.5l1.5 1.5l-1.5 1.5zM704.1 689.5l1.5 -1.5l1.5 1.5l-1.5 1.5zM588.6 697l1.5 -1.5l1.5 1.5l-1.5 1.5zM596.9 691.2l1.5 -1.5l1.5 1.5l-1.5 1.5zM580.4 690.2l1.5 -1.5l1.5 1.5l-1.5 1.5zM698.7 696.9l1.5 -1.5l1.5 1.5l-1.5 1.5zM664.4 696.7l1.5 -1.5l1.5 1.5l-1.5 1.5zM601 691.9l1.5 -1.5l1.5 1.5l-1.5 1.5zM675.1 690.6l1.5 -1.5l1.5 1.5l-1.5 1.5zM509.5 690.1l1.5 -1.5l1.5 1.5l-1.5 1.5zM538.8 690.4l1.5 -1.5l1.5 1.5l-1.5 1.5zM579.2 697.4l1.5 -1.5l1.5 1.5l-1.5 1.5zM526.8 692.9l1.5 -1.5l1.5 1.5l-1.5 1.5zM714.5 695.3l1.5 -1.5l1.5 1.5l-1.5 1.5zM630.7 689.5l1.5 -1.5l1.5 1.5l-1.5 1.5zM581.6 695l1.5 -1.5l1.5 1.5l-1.5 1.5zM526.5 698l1.5 -1.5l1.5 1.5l-1.5 1.5zM636.6 692.9l1.5 -1.5l1.5 1.5l-1.5 1.5zM671 694.2l1.5 -1.5l1.5 1.5l-1.5 1.5zM674.8 697.7l1.5 -1.5l1.5 1.5l-1.5 1.5zM524.4 690.5l1.5 -1.5l1.5 1.5l-1.5 1.5zM710.5 692.7l1.5 -1.5l1.5 1.5l-1.5 1.5zM656.7 688.5l1.5 -1.5l1.5 1.5l-1.5 1.5zM611.6 688.4l1.5 -1.5l1.5 1.5l-1.5 1.5zM529.3 689.6l1.5 -1.5l1.5 1.5l-1.5 1.5zM714.6 694l1.5 -1.5l1.5 1.5l-1.5 1.5zM564.8 689.6l1.5 -1.5l1.5 1.5l-1.5 1.5zM544.7 695.2l1.5 -1.5l1.5 1.5l-1.5 1.5zM621.8 693.4l1.5 -1.5l1.5 1.5l-1.5 1.5zM770.1 696.8l1.5 -1.5l1.5 1.5l-1.5 1.5zM723.5 699.2l1.5 -1.5l1.5 1.5l-1.5 1.5zM648.9 695.8l1.5 -1.5l1.5 1.5l-1.5 1.5zM654.5 694.8l1.5 -1.5l1.5 1.5l-1.5 1.5zM662.8 689.1l1.5 -1.5l1.5 1.5l-1.5 1.5zM684.6 688.9l1.5 -1.5l1.5 1.5l-1.5 1.5zM684.8 690.4l1.5 -1.5l1.5 1.5l-1.5 1.5zM694.5 689.8l1.5 -1.5l1.5 1.5l-1.5 1.5zM558 695.2l1.5 -1.5l1.5 1.5l-1.5 1.5zM561.3 691.7l1.5 -1.5l1.5 1.5l-1.5 1.5zM653.2 693.5l1.5 -1.5l1.5 1.5l-1.5 1.5zM743.9 691.7l1.5 -1.5l1.5 1.5l-1.5 1.5zM690.2 688.7l1.5 -1.5l1.5 1.5l-1.5 1.5zM533.6 776.3l1.5 -1.5l1.5 1.5l-1.5 1.5zM518.8 779.8l1.5 -1.5l1.5 1.5l-1.5 1.5zM652.9 777.1l1.5 -1.5l1.5 1.5l-1.5 1.5zM599.5 780.1l1.5 -1.5l1.5 1.5l-1.5 1.5zM552.2 776l1.5 -1.5l1.5 1.5l-1.5 1.5zM628.9 773.5l1.5 -1.5l1.5 1.5l-1.5 1.5zM634.2 779.2l1.5 -1.5l1.5 1.5l-1.5 1.5zM601.1 775.2l1.5 -1.5l1.5 1.5l-1.5 1.5zM708.1 773.2l1.5 -1.5l1.5 1.5l-1.5 1.5zM602.8 775.2l1.5 -1.5l1.5 1.5l-1.5 1.5zM622 778.2l1.5 -1.5l1.5 1.5l-1.5 1.5zM596.3 776.3l1.5 -1.5l1.5 1.5l-1.5 1.5zM514.3 779.4l1.5 -1.5l1.5 1.5l-1.5 1.5zM656 776.7l1.5 -1.5l1.5 1.5l-1.5 1.5zM696.6 775l1.5 -1.5l1.5 1.5l-1.5 1.5zM596.3 774.8l1.5 -1.5l1.5 1.5l-1.5 1.5zM640.7 778.6l1.5 -1.5l1.5 1.5l-1.5 1.5zM555.5 775.9l1.5 -1.5l1.5 1.5l-1.5 1.5zM628.3 772.1l1.5 -1.5l1.5 1.5l-1.5 1.5zM760.9 774l1.5 -1.5l1.5 1.5l-1.5 1.5zM496.8 776.8l1.5 -1.5l1.5 1.5l-1.5 1.5zM645.9 775.7l1.5 -1.5l1.5 1.5l-1.5 1.5zM620.8 779.2l1.5 -1.5l1.5 1.5l-1.5 1.5zM656.8 776.6l1.5 -1.5l1.5 1.5l-1.5 1.5zM655.7 777.7l1.5 -1.5l1.5 1.5l-1.5 1.5zM685.4 778.3l1.5 -1.5l1.5 1.5l-1.5 1.5zM640.6 774.4l1.5 -1.5l1.5 1.5l-1.5 1.5zM695.8 772.4l1.5 -1.5l1.5 1.5l-1.5 1.5zM608.6 777.9l1.5 -1.5l1.5 1.5l-1.5 1.5zM496.9 781l1.5 -1.5l1.5 1.5l-1.5 1.5zM746.1 773.2l1.5 -1.5l1.5 1.5l-1.5 1.5zM698.9 776.4l1.5 -1.5l1.5 1.5l-1.5 1.5zM568.3 778.6l1.5 -1.5l1.5 1.5l-1.5 1.5zM519.4 780l1.5 -1.5l1.5 1.5l-1.5 1.5zM747.7 779.4l1.5 -1.5l1.5 1.5l-1.5 1.5zM619.7 778.1l1.5 -1.5l1.5 1.5l-1.5 1.5zM552.5 780.3l1.5 -1.5l1.5 1.5l-1.5 1.5zM689.4 777.5l1.5 -1.5l1.5 1.5l-1.5 1.5zM505.8 777.4l1.5 -1.5l1.5 1.5l-1.5 1.5zM752.5 773.8l1.5 -1.5l1.5 1.5l-1.5 1.5zM490.8 775.1l1.5 -1.5l1.5 1.5l-1.5 1.5zM555.4 772.2l1.5 -1.5l1.5 1.5l-1.5 1.5zM729.1 778.9l1.5 -1.5l1.5 1.5l-1.5 1.5zM527.4 772.4l1.5 -1.5l1.5 1.5l-1.5 1.5zM773 777.9l1.5 -1.5l1.5 1.5l-1.5 1.5zM777.6 780.6l1.5 -1.5l1.5 1.5l-1.5 1.5zM605.1 773.9l1.5 -1.5l1.5 1.5l-1.5 1.5zM525.3 772l1.5 -1.5l1.5 1.5l-1.5 1.5zM647.5 777.8l1.5 -1.5l1.5 1.5l-1.5 1.5zM497.3 774.2l1.5 -1.5l1.5 1.5l-1.5 1.5zM761.9 772.5l1.5 -1.5l1.5 1.5l-1.5 1.5zM678.3 777l1.5 -1.5l1.5 1.5l-1.5 1.5zM569.4 779.5l1.5 -1.5l1.5 1.5l-1.5 1.5zM503.1 777l1.5 -1.5l1.5 1.5l-1.5 1.5zM733.4 776.1l1.5 -1.5l1.5 1.5l-1.5 1.5zM604.7 776.6l1.5 -1.5l1.5 1.5l-1.5 1.5zM687.5 778.1l1.5 -1.5l1.5 1.5l-1.5 1.5zM703.3 777.3l1.5 -1.5l1.5 1.5l-1.5 1.5zM669.8 774.2l1.5 -1.5l1.5 1.5l-1.5 1.5zM707.2 774.5l1.5 -1.5l1.5 1.5l-1.5 1.5zM542.2 773l1.5 -1.5l1.5 1.5l-1.5 1.5zM696.2 773.3l1.5 -1.5l1.5 1.5l-1.5 1.5zM608.1 775.2l1.5 -1.5l1.5 1.5l-1.5 1.5zM684.2 772.9l1.5 -1.5l1.5 1.5l-1.5 1.5zM519.8 778l1.5 -1.5l1.5 1.5l-1.5 1.5zM548 778.2l1.5 -1.5l1.5 1.5l-1.5 1.5zM627.7 776.8l1.5 -1.5l1.5 1.5l-1.5 1.5zM652.5 773.3l1.5 -1.5l1.5 1.5l-1.5 1.5zM615 780.5l1.5 -1.5l1.5 1.5l-1.5 1.5zM552.6 772.3l1.5 -1.5l1.5 1.5l-1.5 1.5z" fill="#ffa500" fill-opacity="0.5" stroke="#ffa500" stroke-width="0.5" opacity="0.2"/>
<path d="M498.2 703V770" stroke="#fff" stroke-width="0.8" opacity="0.13"/>
<rect x="496.7" y="760" width="3" height="2.6" fill="#ffa500" opacity="0.9"/>
<path d="M539.6 703V770" stroke="#fff" stroke-width="0.8" opacity="0.13"/>
<rect x="538.1" y="760" width="3" height="2.6" fill="#ffa500" opacity="0.9"/>
<path d="M591.6 703V770" stroke="#fff" stroke-width="0.8" opacity="0.13"/>
<rect x="590.1" y="760" width="3" height="2.6" fill="#ffa500" opacity="0.9"/>
<path d="M643.4 703V770" stroke="#fff" stroke-width="0.8" opacity="0.13"/>
<rect x="641.9" y="760" width="3" height="2.6" fill="#ffa500" opacity="0.9"/>
<path d="M695.6 703V770" stroke="#fff" stroke-width="0.8" opacity="0.13"/>
<rect x="694.1" y="760" width="3" height="2.6" fill="#ffa500" opacity="0.9"/>
<path d="M747.2 703V770" stroke="#fff" stroke-width="0.8" opacity="0.13"/>
<rect x="745.7" y="760" width="3" height="2.6" fill="#ffa500" opacity="0.9"/>
<path d="M775.2 703V770" stroke="#fff" stroke-width="0.8" opacity="0.13"/>
<rect x="773.7" y="760" width="3" height="2.6" fill="#ffa500" opacity="0.9"/>
<rect x="485.8" y="760" width="4.2" height="2.6" fill="#ffa500" />
<rect x="780" y="760" width="7.7" height="2.6" fill="#ffa500" />
</g>
<g clip-path="url(#c51)">
<rect x="489.6" y="869.9" width="293.6" height="2.8" fill="#ffa500" /><path d="M489.7 870.2L488.6 871.3L489.7 872.4M783.1 870.2L784.2 871.3L783.1 872.4" fill="#ffa500" opacity="0.8"/>
<rect x="489.6" y="876.9" width="293.6" height="2.8" fill="#ffa500" /><path d="M489.7 877.2L488.6 878.3L489.7 879.4M783.1 877.2L784.2 878.3L783.1 879.4" fill="#ffa500" opacity="0.8"/>
<rect x="489.6" y="882.9" width="293.6" height="2.8" fill="#ffa500" /><path d="M489.7 883.2L488.6 884.3L489.7 885.4M783.1 883.2L784.2 884.3L783.1 885.4" fill="#ffa500" opacity="0.8"/>
<rect x="489.6" y="889.9" width="293.6" height="2.8" fill="#ffa500" /><path d="M489.7 890.2L488.6 891.3L489.7 892.4M783.1 890.2L784.2 891.3L783.1 892.4" fill="#ffa500" opacity="0.8"/>
<rect x="489.6" y="895.9" width="293.6" height="2.8" fill="#ffa500" /><path d="M489.7 896.2L488.6 897.3L489.7 898.4M783.1 896.2L784.2 897.3L783.1 898.4" fill="#ffa500" opacity="0.8"/>
<rect x="489.6" y="902.9" width="293.6" height="2.8" fill="#ffa500" /><path d="M489.7 903.2L488.6 904.3L489.7 905.4M783.1 903.2L784.2 904.3L783.1 905.4" fill="#ffa500" opacity="0.8"/>
<rect x="489.6" y="908.9" width="293.6" height="2.8" fill="#ffa500" /><path d="M489.7 909.2L488.6 910.3L489.7 911.4M783.1 909.2L784.2 910.3L783.1 911.4" fill="#ffa500" opacity="0.8"/>
<rect x="489.6" y="914.9" width="293.6" height="2.8" fill="#ffa500" /><path d="M489.7 915.2L488.6 916.3L489.7 917.4M783.1 915.2L784.2 916.3L783.1 917.4" fill="#ffa500" opacity="0.8"/>
<rect x="489.6" y="921.9" width="293.6" height="2.8" fill="#ffa500" /><path d="M489.7 922.2L488.6 923.3L489.7 924.4M783.1 922.2L784.2 923.3L783.1 924.4" fill="#ffa500" opacity="0.8"/>
<rect x="489.6" y="928" width="293.6" height="2.8" fill="#ffa500" /><path d="M489.7 928.3L488.6 929.4L489.7 930.5M783.1 928.3L784.2 929.4L783.1 930.5" fill="#ffa500" opacity="0.8"/>
<rect x="490.2" y="864.3" width="162.8" height="2" fill="#ffa500" opacity="0.75"/>
<path d="M489.3 865.3l1.6 -1.6l1.6 1.6l-1.6 1.6zM492.6 865.3l1.6 -1.6l1.6 1.6l-1.6 1.6zM494.1 865.3l1.6 -1.6l1.6 1.6l-1.6 1.6zM495.9 865.3l1.6 -1.6l1.6 1.6l-1.6 1.6zM497.6 865.3l1.6 -1.6l1.6 1.6l-1.6 1.6zM499.4 865.3l1.6 -1.6l1.6 1.6l-1.6 1.6zM500.8 865.3l1.6 -1.6l1.6 1.6l-1.6 1.6zM503 865.3l1.6 -1.6l1.6 1.6l-1.6 1.6zM504.6 865.3l1.6 -1.6l1.6 1.6l-1.6 1.6zM506.2 865.3l1.6 -1.6l1.6 1.6l-1.6 1.6zM511.5 865.3l1.6 -1.6l1.6 1.6l-1.6 1.6zM512.9 865.3l1.6 -1.6l1.6 1.6l-1.6 1.6zM514.9 865.3l1.6 -1.6l1.6 1.6l-1.6 1.6zM516.7 865.3l1.6 -1.6l1.6 1.6l-1.6 1.6zM518 865.3l1.6 -1.6l1.6 1.6l-1.6 1.6zM519.5 865.3l1.6 -1.6l1.6 1.6l-1.6 1.6zM521.3 865.3l1.6 -1.6l1.6 1.6l-1.6 1.6zM523.4 865.3l1.6 -1.6l1.6 1.6l-1.6 1.6zM525 865.3l1.6 -1.6l1.6 1.6l-1.6 1.6zM526.6 865.3l1.6 -1.6l1.6 1.6l-1.6 1.6zM528.2 865.3l1.6 -1.6l1.6 1.6l-1.6 1.6zM530.1 865.3l1.6 -1.6l1.6 1.6l-1.6 1.6zM531.5 865.3l1.6 -1.6l1.6 1.6l-1.6 1.6zM533.2 865.3l1.6 -1.6l1.6 1.6l-1.6 1.6zM535.1 865.3l1.6 -1.6l1.6 1.6l-1.6 1.6zM536.7 865.3l1.6 -1.6l1.6 1.6l-1.6 1.6zM538.5 865.3l1.6 -1.6l1.6 1.6l-1.6 1.6zM540.2 865.3l1.6 -1.6l1.6 1.6l-1.6 1.6zM542.1 865.3l1.6 -1.6l1.6 1.6l-1.6 1.6zM543.3 865.3l1.6 -1.6l1.6 1.6l-1.6 1.6zM545.3 865.3l1.6 -1.6l1.6 1.6l-1.6 1.6zM546.7 865.3l1.6 -1.6l1.6 1.6l-1.6 1.6zM548.6 865.3l1.6 -1.6l1.6 1.6l-1.6 1.6zM550.2 865.3l1.6 -1.6l1.6 1.6l-1.6 1.6zM552.1 865.3l1.6 -1.6l1.6 1.6l-1.6 1.6zM553.5 865.3l1.6 -1.6l1.6 1.6l-1.6 1.6zM555.5 865.3l1.6 -1.6l1.6 1.6l-1.6 1.6zM556.9 865.3l1.6 -1.6l1.6 1.6l-1.6 1.6zM559 865.3l1.6 -1.6l1.6 1.6l-1.6 1.6zM560.8 865.3l1.6 -1.6l1.6 1.6l-1.6 1.6zM562.3 865.3l1.6 -1.6l1.6 1.6l-1.6 1.6zM564.1 865.3l1.6 -1.6l1.6 1.6l-1.6 1.6zM565.6 865.3l1.6 -1.6l1.6 1.6l-1.6 1.6zM567.4 865.3l1.6 -1.6l1.6 1.6l-1.6 1.6zM569.4 865.3l1.6 -1.6l1.6 1.6l-1.6 1.6zM570.6 865.3l1.6 -1.6l1.6 1.6l-1.6 1.6zM572.7 865.3l1.6 -1.6l1.6 1.6l-1.6 1.6zM574.2 865.3l1.6 -1.6l1.6 1.6l-1.6 1.6zM576 865.3l1.6 -1.6l1.6 1.6l-1.6 1.6zM582.9 865.3l1.6 -1.6l1.6 1.6l-1.6 1.6zM584.4 865.3l1.6 -1.6l1.6 1.6l-1.6 1.6zM585.9 865.3l1.6 -1.6l1.6 1.6l-1.6 1.6zM587.6 865.3l1.6 -1.6l1.6 1.6l-1.6 1.6zM589.4 865.3l1.6 -1.6l1.6 1.6l-1.6 1.6zM591.4 865.3l1.6 -1.6l1.6 1.6l-1.6 1.6zM592.6 865.3l1.6 -1.6l1.6 1.6l-1.6 1.6zM594.5 865.3l1.6 -1.6l1.6 1.6l-1.6 1.6zM596.3 865.3l1.6 -1.6l1.6 1.6l-1.6 1.6zM598 865.3l1.6 -1.6l1.6 1.6l-1.6 1.6zM600 865.3l1.6 -1.6l1.6 1.6l-1.6 1.6zM601.2 865.3l1.6 -1.6l1.6 1.6l-1.6 1.6zM603.4 865.3l1.6 -1.6l1.6 1.6l-1.6 1.6zM604.6 865.3l1.6 -1.6l1.6 1.6l-1.6 1.6zM606.5 865.3l1.6 -1.6l1.6 1.6l-1.6 1.6zM608.2 865.3l1.6 -1.6l1.6 1.6l-1.6 1.6zM609.7 865.3l1.6 -1.6l1.6 1.6l-1.6 1.6zM611.7 865.3l1.6 -1.6l1.6 1.6l-1.6 1.6zM613.4 865.3l1.6 -1.6l1.6 1.6l-1.6 1.6zM616.5 865.3l1.6 -1.6l1.6 1.6l-1.6 1.6zM618.6 865.3l1.6 -1.6l1.6 1.6l-1.6 1.6zM619.8 865.3l1.6 -1.6l1.6 1.6l-1.6 1.6zM621.7 865.3l1.6 -1.6l1.6 1.6l-1.6 1.6zM623.8 865.3l1.6 -1.6l1.6 1.6l-1.6 1.6zM625 865.3l1.6 -1.6l1.6 1.6l-1.6 1.6zM627.1 865.3l1.6 -1.6l1.6 1.6l-1.6 1.6zM628.7 865.3l1.6 -1.6l1.6 1.6l-1.6 1.6zM630.2 865.3l1.6 -1.6l1.6 1.6l-1.6 1.6zM632.1 865.3l1.6 -1.6l1.6 1.6l-1.6 1.6zM633.6 865.3l1.6 -1.6l1.6 1.6l-1.6 1.6zM635.4 865.3l1.6 -1.6l1.6 1.6l-1.6 1.6zM637.1 865.3l1.6 -1.6l1.6 1.6l-1.6 1.6zM638.8 865.3l1.6 -1.6l1.6 1.6l-1.6 1.6zM640.7 865.3l1.6 -1.6l1.6 1.6l-1.6 1.6zM642.1 865.3l1.6 -1.6l1.6 1.6l-1.6 1.6zM643.9 865.3l1.6 -1.6l1.6 1.6l-1.6 1.6zM645.6 865.3l1.6 -1.6l1.6 1.6l-1.6 1.6zM647.6 865.3l1.6 -1.6l1.6 1.6l-1.6 1.6zM649.2 865.3l1.6 -1.6l1.6 1.6l-1.6 1.6zM650.6 865.3l1.6 -1.6l1.6 1.6l-1.6 1.6z" fill="#ffa500" opacity="0.95"/>
<rect x="652.4" y="863.9" width="130.8" height="2.7" fill="#ffa500" /><path d="M652.5 864.2L651.4 865.3L652.5 866.4M783.1 864.2L784.2 865.3L783.1 866.4" fill="#ffa500" opacity="0.8"/>
<rect x="490.2" y="935.1" width="148.8" height="2" fill="#ffa500" opacity="0.75"/>
<path d="M492.4 936.1l1.6 -1.6l1.6 1.6l-1.6 1.6zM494.4 936.1l1.6 -1.6l1.6 1.6l-1.6 1.6zM497.4 936.1l1.6 -1.6l1.6 1.6l-1.6 1.6zM499.5 936.1l1.6 -1.6l1.6 1.6l-1.6 1.6zM501.2 936.1l1.6 -1.6l1.6 1.6l-1.6 1.6zM503 936.1l1.6 -1.6l1.6 1.6l-1.6 1.6zM504.7 936.1l1.6 -1.6l1.6 1.6l-1.6 1.6zM506.2 936.1l1.6 -1.6l1.6 1.6l-1.6 1.6zM507.8 936.1l1.6 -1.6l1.6 1.6l-1.6 1.6zM509.8 936.1l1.6 -1.6l1.6 1.6l-1.6 1.6zM511.2 936.1l1.6 -1.6l1.6 1.6l-1.6 1.6zM515 936.1l1.6 -1.6l1.6 1.6l-1.6 1.6zM516.3 936.1l1.6 -1.6l1.6 1.6l-1.6 1.6zM517.9 936.1l1.6 -1.6l1.6 1.6l-1.6 1.6zM519.8 936.1l1.6 -1.6l1.6 1.6l-1.6 1.6zM521.3 936.1l1.6 -1.6l1.6 1.6l-1.6 1.6zM523 936.1l1.6 -1.6l1.6 1.6l-1.6 1.6zM525.2 936.1l1.6 -1.6l1.6 1.6l-1.6 1.6zM526.6 936.1l1.6 -1.6l1.6 1.6l-1.6 1.6zM528.3 936.1l1.6 -1.6l1.6 1.6l-1.6 1.6zM529.7 936.1l1.6 -1.6l1.6 1.6l-1.6 1.6zM531.5 936.1l1.6 -1.6l1.6 1.6l-1.6 1.6zM533.4 936.1l1.6 -1.6l1.6 1.6l-1.6 1.6zM534.8 936.1l1.6 -1.6l1.6 1.6l-1.6 1.6zM536.7 936.1l1.6 -1.6l1.6 1.6l-1.6 1.6zM538.8 936.1l1.6 -1.6l1.6 1.6l-1.6 1.6zM540.2 936.1l1.6 -1.6l1.6 1.6l-1.6 1.6zM541.9 936.1l1.6 -1.6l1.6 1.6l-1.6 1.6zM543.7 936.1l1.6 -1.6l1.6 1.6l-1.6 1.6zM545.1 936.1l1.6 -1.6l1.6 1.6l-1.6 1.6zM546.8 936.1l1.6 -1.6l1.6 1.6l-1.6 1.6zM548.7 936.1l1.6 -1.6l1.6 1.6l-1.6 1.6zM550.5 936.1l1.6 -1.6l1.6 1.6l-1.6 1.6zM552 936.1l1.6 -1.6l1.6 1.6l-1.6 1.6zM553.8 936.1l1.6 -1.6l1.6 1.6l-1.6 1.6zM555.7 936.1l1.6 -1.6l1.6 1.6l-1.6 1.6zM556.9 936.1l1.6 -1.6l1.6 1.6l-1.6 1.6zM559.2 936.1l1.6 -1.6l1.6 1.6l-1.6 1.6zM560.5 936.1l1.6 -1.6l1.6 1.6l-1.6 1.6zM562.1 936.1l1.6 -1.6l1.6 1.6l-1.6 1.6zM563.9 936.1l1.6 -1.6l1.6 1.6l-1.6 1.6zM565.4 936.1l1.6 -1.6l1.6 1.6l-1.6 1.6zM567.2 936.1l1.6 -1.6l1.6 1.6l-1.6 1.6zM569.4 936.1l1.6 -1.6l1.6 1.6l-1.6 1.6zM570.9 936.1l1.6 -1.6l1.6 1.6l-1.6 1.6zM572.8 936.1l1.6 -1.6l1.6 1.6l-1.6 1.6zM574.2 936.1l1.6 -1.6l1.6 1.6l-1.6 1.6zM575.9 936.1l1.6 -1.6l1.6 1.6l-1.6 1.6zM577.5 936.1l1.6 -1.6l1.6 1.6l-1.6 1.6zM579.4 936.1l1.6 -1.6l1.6 1.6l-1.6 1.6zM584.2 936.1l1.6 -1.6l1.6 1.6l-1.6 1.6zM586 936.1l1.6 -1.6l1.6 1.6l-1.6 1.6zM587.8 936.1l1.6 -1.6l1.6 1.6l-1.6 1.6zM589.5 936.1l1.6 -1.6l1.6 1.6l-1.6 1.6zM591.4 936.1l1.6 -1.6l1.6 1.6l-1.6 1.6zM592.9 936.1l1.6 -1.6l1.6 1.6l-1.6 1.6zM594.5 936.1l1.6 -1.6l1.6 1.6l-1.6 1.6zM596.2 936.1l1.6 -1.6l1.6 1.6l-1.6 1.6zM597.9 936.1l1.6 -1.6l1.6 1.6l-1.6 1.6zM599.6 936.1l1.6 -1.6l1.6 1.6l-1.6 1.6zM602.9 936.1l1.6 -1.6l1.6 1.6l-1.6 1.6zM604.6 936.1l1.6 -1.6l1.6 1.6l-1.6 1.6zM606.6 936.1l1.6 -1.6l1.6 1.6l-1.6 1.6zM608.4 936.1l1.6 -1.6l1.6 1.6l-1.6 1.6zM609.7 936.1l1.6 -1.6l1.6 1.6l-1.6 1.6zM611.9 936.1l1.6 -1.6l1.6 1.6l-1.6 1.6zM613.5 936.1l1.6 -1.6l1.6 1.6l-1.6 1.6zM615.1 936.1l1.6 -1.6l1.6 1.6l-1.6 1.6zM616.6 936.1l1.6 -1.6l1.6 1.6l-1.6 1.6zM618.4 936.1l1.6 -1.6l1.6 1.6l-1.6 1.6zM620.3 936.1l1.6 -1.6l1.6 1.6l-1.6 1.6zM622.1 936.1l1.6 -1.6l1.6 1.6l-1.6 1.6zM623.3 936.1l1.6 -1.6l1.6 1.6l-1.6 1.6zM625.2 936.1l1.6 -1.6l1.6 1.6l-1.6 1.6zM627 936.1l1.6 -1.6l1.6 1.6l-1.6 1.6zM628.7 936.1l1.6 -1.6l1.6 1.6l-1.6 1.6zM630.2 936.1l1.6 -1.6l1.6 1.6l-1.6 1.6zM631.9 936.1l1.6 -1.6l1.6 1.6l-1.6 1.6zM633.8 936.1l1.6 -1.6l1.6 1.6l-1.6 1.6zM635.5 936.1l1.6 -1.6l1.6 1.6l-1.6 1.6z" fill="#ffa500" opacity="0.95"/>
<rect x="641" y="935.3" width="141.6" height="1.6" fill="#ffa500" opacity="0.35"/>
<path d="M640 936.1l1.5 -1.5l1.5 1.5l-1.5 1.5zM642 936.1l1.5 -1.5l1.5 1.5l-1.5 1.5zM643.7 936.1l1.5 -1.5l1.5 1.5l-1.5 1.5zM645.9 936.1l1.5 -1.5l1.5 1.5l-1.5 1.5zM647.4 936.1l1.5 -1.5l1.5 1.5l-1.5 1.5zM649.2 936.1l1.5 -1.5l1.5 1.5l-1.5 1.5zM651.4 936.1l1.5 -1.5l1.5 1.5l-1.5 1.5zM657 936.1l1.5 -1.5l1.5 1.5l-1.5 1.5zM661.2 936.1l1.5 -1.5l1.5 1.5l-1.5 1.5zM662.7 936.1l1.5 -1.5l1.5 1.5l-1.5 1.5zM664.9 936.1l1.5 -1.5l1.5 1.5l-1.5 1.5zM666.5 936.1l1.5 -1.5l1.5 1.5l-1.5 1.5zM668.3 936.1l1.5 -1.5l1.5 1.5l-1.5 1.5zM670.5 936.1l1.5 -1.5l1.5 1.5l-1.5 1.5zM672.2 936.1l1.5 -1.5l1.5 1.5l-1.5 1.5zM673.9 936.1l1.5 -1.5l1.5 1.5l-1.5 1.5zM675.9 936.1l1.5 -1.5l1.5 1.5l-1.5 1.5zM678.2 936.1l1.5 -1.5l1.5 1.5l-1.5 1.5zM679.8 936.1l1.5 -1.5l1.5 1.5l-1.5 1.5zM681.8 936.1l1.5 -1.5l1.5 1.5l-1.5 1.5zM685.5 936.1l1.5 -1.5l1.5 1.5l-1.5 1.5zM687.8 936.1l1.5 -1.5l1.5 1.5l-1.5 1.5zM689.2 936.1l1.5 -1.5l1.5 1.5l-1.5 1.5zM691.4 936.1l1.5 -1.5l1.5 1.5l-1.5 1.5zM693.4 936.1l1.5 -1.5l1.5 1.5l-1.5 1.5zM695 936.1l1.5 -1.5l1.5 1.5l-1.5 1.5zM697 936.1l1.5 -1.5l1.5 1.5l-1.5 1.5zM699.1 936.1l1.5 -1.5l1.5 1.5l-1.5 1.5zM700.8 936.1l1.5 -1.5l1.5 1.5l-1.5 1.5zM702.7 936.1l1.5 -1.5l1.5 1.5l-1.5 1.5zM706.6 936.1l1.5 -1.5l1.5 1.5l-1.5 1.5zM708.6 936.1l1.5 -1.5l1.5 1.5l-1.5 1.5zM710.3 936.1l1.5 -1.5l1.5 1.5l-1.5 1.5zM712.2 936.1l1.5 -1.5l1.5 1.5l-1.5 1.5zM714.1 936.1l1.5 -1.5l1.5 1.5l-1.5 1.5zM716 936.1l1.5 -1.5l1.5 1.5l-1.5 1.5zM719.7 936.1l1.5 -1.5l1.5 1.5l-1.5 1.5zM721.9 936.1l1.5 -1.5l1.5 1.5l-1.5 1.5zM723.7 936.1l1.5 -1.5l1.5 1.5l-1.5 1.5zM725.8 936.1l1.5 -1.5l1.5 1.5l-1.5 1.5zM729.4 936.1l1.5 -1.5l1.5 1.5l-1.5 1.5zM731.1 936.1l1.5 -1.5l1.5 1.5l-1.5 1.5zM733 936.1l1.5 -1.5l1.5 1.5l-1.5 1.5zM735 936.1l1.5 -1.5l1.5 1.5l-1.5 1.5zM737.2 936.1l1.5 -1.5l1.5 1.5l-1.5 1.5zM738.6 936.1l1.5 -1.5l1.5 1.5l-1.5 1.5zM740.7 936.1l1.5 -1.5l1.5 1.5l-1.5 1.5zM742.9 936.1l1.5 -1.5l1.5 1.5l-1.5 1.5zM744.7 936.1l1.5 -1.5l1.5 1.5l-1.5 1.5zM746.3 936.1l1.5 -1.5l1.5 1.5l-1.5 1.5zM748.3 936.1l1.5 -1.5l1.5 1.5l-1.5 1.5zM750.4 936.1l1.5 -1.5l1.5 1.5l-1.5 1.5zM752.1 936.1l1.5 -1.5l1.5 1.5l-1.5 1.5zM754 936.1l1.5 -1.5l1.5 1.5l-1.5 1.5zM755.7 936.1l1.5 -1.5l1.5 1.5l-1.5 1.5zM757.8 936.1l1.5 -1.5l1.5 1.5l-1.5 1.5zM759.8 936.1l1.5 -1.5l1.5 1.5l-1.5 1.5zM761.3 936.1l1.5 -1.5l1.5 1.5l-1.5 1.5zM763.8 936.1l1.5 -1.5l1.5 1.5l-1.5 1.5zM765.4 936.1l1.5 -1.5l1.5 1.5l-1.5 1.5zM771.4 936.1l1.5 -1.5l1.5 1.5l-1.5 1.5zM773.1 936.1l1.5 -1.5l1.5 1.5l-1.5 1.5zM780.6 936.1l1.5 -1.5l1.5 1.5l-1.5 1.5z" fill="#ffa500" opacity="0.85"/>
<path d="M639.9 936.1l1.5 -1.5l1.5 1.5l-1.5 1.5zM642.8 936.1l1.5 -1.5l1.5 1.5l-1.5 1.5zM645.2 936.1l1.5 -1.5l1.5 1.5l-1.5 1.5zM655.6 936.1l1.5 -1.5l1.5 1.5l-1.5 1.5zM660.8 936.1l1.5 -1.5l1.5 1.5l-1.5 1.5zM663.2 936.1l1.5 -1.5l1.5 1.5l-1.5 1.5zM668.3 936.1l1.5 -1.5l1.5 1.5l-1.5 1.5zM671 936.1l1.5 -1.5l1.5 1.5l-1.5 1.5zM673.7 936.1l1.5 -1.5l1.5 1.5l-1.5 1.5zM689.6 936.1l1.5 -1.5l1.5 1.5l-1.5 1.5zM692 936.1l1.5 -1.5l1.5 1.5l-1.5 1.5zM694.5 936.1l1.5 -1.5l1.5 1.5l-1.5 1.5zM697 936.1l1.5 -1.5l1.5 1.5l-1.5 1.5zM707.4 936.1l1.5 -1.5l1.5 1.5l-1.5 1.5zM717.8 936.1l1.5 -1.5l1.5 1.5l-1.5 1.5zM725.6 936.1l1.5 -1.5l1.5 1.5l-1.5 1.5zM733.7 936.1l1.5 -1.5l1.5 1.5l-1.5 1.5zM736.3 936.1l1.5 -1.5l1.5 1.5l-1.5 1.5zM738.7 936.1l1.5 -1.5l1.5 1.5l-1.5 1.5zM746.6 936.1l1.5 -1.5l1.5 1.5l-1.5 1.5zM749.4 936.1l1.5 -1.5l1.5 1.5l-1.5 1.5zM759.7 936.1l1.5 -1.5l1.5 1.5l-1.5 1.5zM762.1 936.1l1.5 -1.5l1.5 1.5l-1.5 1.5zM765 936.1l1.5 -1.5l1.5 1.5l-1.5 1.5zM767.5 936.1l1.5 -1.5l1.5 1.5l-1.5 1.5zM775.2 936.1l1.5 -1.5l1.5 1.5l-1.5 1.5zM777.9 936.1l1.5 -1.5l1.5 1.5l-1.5 1.5zM780.4 936.1l1.5 -1.5l1.5 1.5l-1.5 1.5z" fill="#ffa500" fill-opacity="0.5" stroke="#ffa500" stroke-width="0.6" opacity="0.5"/>
<path d="M492.3 859l1.3 -1.3l1.3 1.3l-1.3 1.3zM494.7 859l1.3 -1.3l1.3 1.3l-1.3 1.3zM497.1 859l1.3 -1.3l1.3 1.3l-1.3 1.3zM500 859l1.3 -1.3l1.3 1.3l-1.3 1.3zM518.1 859l1.3 -1.3l1.3 1.3l-1.3 1.3zM521 859l1.3 -1.3l1.3 1.3l-1.3 1.3zM557.5 859l1.3 -1.3l1.3 1.3l-1.3 1.3zM567.3 859l1.3 -1.3l1.3 1.3l-1.3 1.3zM575.5 859l1.3 -1.3l1.3 1.3l-1.3 1.3zM578.1 859l1.3 -1.3l1.3 1.3l-1.3 1.3zM582.9 859l1.3 -1.3l1.3 1.3l-1.3 1.3zM593.4 859l1.3 -1.3l1.3 1.3l-1.3 1.3zM596.3 859l1.3 -1.3l1.3 1.3l-1.3 1.3z" fill="#ffa500" opacity="0.45"/>
<path d="M497.4 859l1.5 -1.5l1.5 1.5l-1.5 1.5zM503.1 859l1.5 -1.5l1.5 1.5l-1.5 1.5zM505.5 859l1.5 -1.5l1.5 1.5l-1.5 1.5zM508.6 859l1.5 -1.5l1.5 1.5l-1.5 1.5zM511.4 859l1.5 -1.5l1.5 1.5l-1.5 1.5zM513.8 859l1.5 -1.5l1.5 1.5l-1.5 1.5zM524.5 859l1.5 -1.5l1.5 1.5l-1.5 1.5zM527.4 859l1.5 -1.5l1.5 1.5l-1.5 1.5zM529.8 859l1.5 -1.5l1.5 1.5l-1.5 1.5zM532.9 859l1.5 -1.5l1.5 1.5l-1.5 1.5zM551.4 859l1.5 -1.5l1.5 1.5l-1.5 1.5zM562.5 859l1.5 -1.5l1.5 1.5l-1.5 1.5zM567.5 859l1.5 -1.5l1.5 1.5l-1.5 1.5zM570.3 859l1.5 -1.5l1.5 1.5l-1.5 1.5zM573.3 859l1.5 -1.5l1.5 1.5l-1.5 1.5zM575.7 859l1.5 -1.5l1.5 1.5l-1.5 1.5zM578.9 859l1.5 -1.5l1.5 1.5l-1.5 1.5zM581.5 859l1.5 -1.5l1.5 1.5l-1.5 1.5zM584 859l1.5 -1.5l1.5 1.5l-1.5 1.5zM586.9 859l1.5 -1.5l1.5 1.5l-1.5 1.5zM589.7 859l1.5 -1.5l1.5 1.5l-1.5 1.5zM592.1 859l1.5 -1.5l1.5 1.5l-1.5 1.5zM594.6 859l1.5 -1.5l1.5 1.5l-1.5 1.5z" fill="#ffa500" fill-opacity="0.5" stroke="#ffa500" stroke-width="0.6" opacity="0.38"/>
<rect x="601" y="858.2" width="58" height="1.6" fill="#ffa500" opacity="0.35"/>
<path d="M601.7 859l1.5 -1.5l1.5 1.5l-1.5 1.5zM605.6 859l1.5 -1.5l1.5 1.5l-1.5 1.5zM611.5 859l1.5 -1.5l1.5 1.5l-1.5 1.5zM613.4 859l1.5 -1.5l1.5 1.5l-1.5 1.5zM615.4 859l1.5 -1.5l1.5 1.5l-1.5 1.5zM617.2 859l1.5 -1.5l1.5 1.5l-1.5 1.5zM618.8 859l1.5 -1.5l1.5 1.5l-1.5 1.5zM620.6 859l1.5 -1.5l1.5 1.5l-1.5 1.5zM622.6 859l1.5 -1.5l1.5 1.5l-1.5 1.5zM624.9 859l1.5 -1.5l1.5 1.5l-1.5 1.5zM626.5 859l1.5 -1.5l1.5 1.5l-1.5 1.5zM628.5 859l1.5 -1.5l1.5 1.5l-1.5 1.5zM630.7 859l1.5 -1.5l1.5 1.5l-1.5 1.5zM632.1 859l1.5 -1.5l1.5 1.5l-1.5 1.5zM634.4 859l1.5 -1.5l1.5 1.5l-1.5 1.5zM636.2 859l1.5 -1.5l1.5 1.5l-1.5 1.5zM639.7 859l1.5 -1.5l1.5 1.5l-1.5 1.5zM641.9 859l1.5 -1.5l1.5 1.5l-1.5 1.5zM643.5 859l1.5 -1.5l1.5 1.5l-1.5 1.5zM645.8 859l1.5 -1.5l1.5 1.5l-1.5 1.5zM647.4 859l1.5 -1.5l1.5 1.5l-1.5 1.5zM649.6 859l1.5 -1.5l1.5 1.5l-1.5 1.5zM651.5 859l1.5 -1.5l1.5 1.5l-1.5 1.5zM652.9 859l1.5 -1.5l1.5 1.5l-1.5 1.5zM655 859l1.5 -1.5l1.5 1.5l-1.5 1.5z" fill="#ffa500" opacity="0.85"/>
<path d="M602.5 859l1.5 -1.5l1.5 1.5l-1.5 1.5zM605.1 859l1.5 -1.5l1.5 1.5l-1.5 1.5zM607.5 859l1.5 -1.5l1.5 1.5l-1.5 1.5zM610.5 859l1.5 -1.5l1.5 1.5l-1.5 1.5zM612.8 859l1.5 -1.5l1.5 1.5l-1.5 1.5zM615.6 859l1.5 -1.5l1.5 1.5l-1.5 1.5zM626.3 859l1.5 -1.5l1.5 1.5l-1.5 1.5zM641.7 859l1.5 -1.5l1.5 1.5l-1.5 1.5zM644 859l1.5 -1.5l1.5 1.5l-1.5 1.5zM651.9 859l1.5 -1.5l1.5 1.5l-1.5 1.5zM654.7 859l1.5 -1.5l1.5 1.5l-1.5 1.5z" fill="#ffa500" fill-opacity="0.5" stroke="#ffa500" stroke-width="0.6" opacity="0.5"/>
<rect x="661" y="858" width="121.6" height="2" fill="#ffa500" opacity="0.75"/>
<path d="M659.8 859l1.6 -1.6l1.6 1.6l-1.6 1.6zM661.8 859l1.6 -1.6l1.6 1.6l-1.6 1.6zM663.6 859l1.6 -1.6l1.6 1.6l-1.6 1.6zM666.8 859l1.6 -1.6l1.6 1.6l-1.6 1.6zM668.6 859l1.6 -1.6l1.6 1.6l-1.6 1.6zM670.3 859l1.6 -1.6l1.6 1.6l-1.6 1.6zM672.2 859l1.6 -1.6l1.6 1.6l-1.6 1.6zM673.5 859l1.6 -1.6l1.6 1.6l-1.6 1.6zM675.1 859l1.6 -1.6l1.6 1.6l-1.6 1.6zM677 859l1.6 -1.6l1.6 1.6l-1.6 1.6zM678.4 859l1.6 -1.6l1.6 1.6l-1.6 1.6zM680.2 859l1.6 -1.6l1.6 1.6l-1.6 1.6zM681.9 859l1.6 -1.6l1.6 1.6l-1.6 1.6zM683.8 859l1.6 -1.6l1.6 1.6l-1.6 1.6zM685.8 859l1.6 -1.6l1.6 1.6l-1.6 1.6zM687.1 859l1.6 -1.6l1.6 1.6l-1.6 1.6zM688.8 859l1.6 -1.6l1.6 1.6l-1.6 1.6zM690.4 859l1.6 -1.6l1.6 1.6l-1.6 1.6zM692.4 859l1.6 -1.6l1.6 1.6l-1.6 1.6zM694.2 859l1.6 -1.6l1.6 1.6l-1.6 1.6zM695.9 859l1.6 -1.6l1.6 1.6l-1.6 1.6zM697.4 859l1.6 -1.6l1.6 1.6l-1.6 1.6zM699 859l1.6 -1.6l1.6 1.6l-1.6 1.6zM700.5 859l1.6 -1.6l1.6 1.6l-1.6 1.6zM702.4 859l1.6 -1.6l1.6 1.6l-1.6 1.6zM705.7 859l1.6 -1.6l1.6 1.6l-1.6 1.6zM707.5 859l1.6 -1.6l1.6 1.6l-1.6 1.6zM709.6 859l1.6 -1.6l1.6 1.6l-1.6 1.6zM710.9 859l1.6 -1.6l1.6 1.6l-1.6 1.6zM716.3 859l1.6 -1.6l1.6 1.6l-1.6 1.6zM718 859l1.6 -1.6l1.6 1.6l-1.6 1.6zM719.3 859l1.6 -1.6l1.6 1.6l-1.6 1.6zM721 859l1.6 -1.6l1.6 1.6l-1.6 1.6zM723.2 859l1.6 -1.6l1.6 1.6l-1.6 1.6zM724.6 859l1.6 -1.6l1.6 1.6l-1.6 1.6zM726.3 859l1.6 -1.6l1.6 1.6l-1.6 1.6zM727.8 859l1.6 -1.6l1.6 1.6l-1.6 1.6zM729.9 859l1.6 -1.6l1.6 1.6l-1.6 1.6zM731.6 859l1.6 -1.6l1.6 1.6l-1.6 1.6zM732.9 859l1.6 -1.6l1.6 1.6l-1.6 1.6zM735 859l1.6 -1.6l1.6 1.6l-1.6 1.6zM736.6 859l1.6 -1.6l1.6 1.6l-1.6 1.6zM738.4 859l1.6 -1.6l1.6 1.6l-1.6 1.6zM740.2 859l1.6 -1.6l1.6 1.6l-1.6 1.6zM741.4 859l1.6 -1.6l1.6 1.6l-1.6 1.6zM743.2 859l1.6 -1.6l1.6 1.6l-1.6 1.6zM745 859l1.6 -1.6l1.6 1.6l-1.6 1.6zM746.5 859l1.6 -1.6l1.6 1.6l-1.6 1.6zM748.3 859l1.6 -1.6l1.6 1.6l-1.6 1.6zM750.3 859l1.6 -1.6l1.6 1.6l-1.6 1.6zM751.5 859l1.6 -1.6l1.6 1.6l-1.6 1.6zM753.4 859l1.6 -1.6l1.6 1.6l-1.6 1.6zM755.3 859l1.6 -1.6l1.6 1.6l-1.6 1.6zM758.9 859l1.6 -1.6l1.6 1.6l-1.6 1.6zM760.1 859l1.6 -1.6l1.6 1.6l-1.6 1.6zM761.8 859l1.6 -1.6l1.6 1.6l-1.6 1.6zM763.5 859l1.6 -1.6l1.6 1.6l-1.6 1.6zM765.5 859l1.6 -1.6l1.6 1.6l-1.6 1.6zM766.9 859l1.6 -1.6l1.6 1.6l-1.6 1.6zM768.9 859l1.6 -1.6l1.6 1.6l-1.6 1.6zM770.3 859l1.6 -1.6l1.6 1.6l-1.6 1.6zM771.9 859l1.6 -1.6l1.6 1.6l-1.6 1.6zM773.8 859l1.6 -1.6l1.6 1.6l-1.6 1.6zM775.4 859l1.6 -1.6l1.6 1.6l-1.6 1.6zM777.4 859l1.6 -1.6l1.6 1.6l-1.6 1.6zM778.9 859l1.6 -1.6l1.6 1.6l-1.6 1.6z" fill="#ffa500" opacity="0.95"/>
<path d="M494.6 942.1l1.4 -1.4l1.4 1.4l-1.4 1.4zM496.4 942.1l1.4 -1.4l1.4 1.4l-1.4 1.4zM499.1 942.1l1.4 -1.4l1.4 1.4l-1.4 1.4zM500.9 942.1l1.4 -1.4l1.4 1.4l-1.4 1.4zM503.2 942.1l1.4 -1.4l1.4 1.4l-1.4 1.4zM505.6 942.1l1.4 -1.4l1.4 1.4l-1.4 1.4zM507.8 942.1l1.4 -1.4l1.4 1.4l-1.4 1.4zM511.9 942.1l1.4 -1.4l1.4 1.4l-1.4 1.4zM514.3 942.1l1.4 -1.4l1.4 1.4l-1.4 1.4zM516.5 942.1l1.4 -1.4l1.4 1.4l-1.4 1.4zM518.8 942.1l1.4 -1.4l1.4 1.4l-1.4 1.4zM520.6 942.1l1.4 -1.4l1.4 1.4l-1.4 1.4zM523 942.1l1.4 -1.4l1.4 1.4l-1.4 1.4zM525.5 942.1l1.4 -1.4l1.4 1.4l-1.4 1.4zM527.3 942.1l1.4 -1.4l1.4 1.4l-1.4 1.4zM529.4 942.1l1.4 -1.4l1.4 1.4l-1.4 1.4zM531.8 942.1l1.4 -1.4l1.4 1.4l-1.4 1.4zM534.1 942.1l1.4 -1.4l1.4 1.4l-1.4 1.4zM536.2 942.1l1.4 -1.4l1.4 1.4l-1.4 1.4zM538.6 942.1l1.4 -1.4l1.4 1.4l-1.4 1.4zM540.7 942.1l1.4 -1.4l1.4 1.4l-1.4 1.4zM542.5 942.1l1.4 -1.4l1.4 1.4l-1.4 1.4zM544.9 942.1l1.4 -1.4l1.4 1.4l-1.4 1.4zM547.4 942.1l1.4 -1.4l1.4 1.4l-1.4 1.4zM549.7 942.1l1.4 -1.4l1.4 1.4l-1.4 1.4zM551.7 942.1l1.4 -1.4l1.4 1.4l-1.4 1.4zM565 942.1l1.4 -1.4l1.4 1.4l-1.4 1.4zM569.1 942.1l1.4 -1.4l1.4 1.4l-1.4 1.4zM582.4 942.1l1.4 -1.4l1.4 1.4l-1.4 1.4zM595.3 942.1l1.4 -1.4l1.4 1.4l-1.4 1.4zM599.8 942.1l1.4 -1.4l1.4 1.4l-1.4 1.4zM609 942.1l1.4 -1.4l1.4 1.4l-1.4 1.4zM611.3 942.1l1.4 -1.4l1.4 1.4l-1.4 1.4zM612.9 942.1l1.4 -1.4l1.4 1.4l-1.4 1.4zM615.1 942.1l1.4 -1.4l1.4 1.4l-1.4 1.4z" fill="#ffa500" opacity="0.65"/>
<path d="M492.3 942.1l1.5 -1.5l1.5 1.5l-1.5 1.5zM494.7 942.1l1.5 -1.5l1.5 1.5l-1.5 1.5zM500 942.1l1.5 -1.5l1.5 1.5l-1.5 1.5zM502.3 942.1l1.5 -1.5l1.5 1.5l-1.5 1.5zM504.8 942.1l1.5 -1.5l1.5 1.5l-1.5 1.5zM507 942.1l1.5 -1.5l1.5 1.5l-1.5 1.5zM509.9 942.1l1.5 -1.5l1.5 1.5l-1.5 1.5zM512.3 942.1l1.5 -1.5l1.5 1.5l-1.5 1.5zM514.6 942.1l1.5 -1.5l1.5 1.5l-1.5 1.5zM517.2 942.1l1.5 -1.5l1.5 1.5l-1.5 1.5zM519.4 942.1l1.5 -1.5l1.5 1.5l-1.5 1.5zM522.2 942.1l1.5 -1.5l1.5 1.5l-1.5 1.5zM524.8 942.1l1.5 -1.5l1.5 1.5l-1.5 1.5zM544.7 942.1l1.5 -1.5l1.5 1.5l-1.5 1.5zM547 942.1l1.5 -1.5l1.5 1.5l-1.5 1.5zM557.2 942.1l1.5 -1.5l1.5 1.5l-1.5 1.5zM559.8 942.1l1.5 -1.5l1.5 1.5l-1.5 1.5zM569.5 942.1l1.5 -1.5l1.5 1.5l-1.5 1.5zM572.3 942.1l1.5 -1.5l1.5 1.5l-1.5 1.5zM575 942.1l1.5 -1.5l1.5 1.5l-1.5 1.5zM577.4 942.1l1.5 -1.5l1.5 1.5l-1.5 1.5zM584.9 942.1l1.5 -1.5l1.5 1.5l-1.5 1.5zM589.4 942.1l1.5 -1.5l1.5 1.5l-1.5 1.5zM597.2 942.1l1.5 -1.5l1.5 1.5l-1.5 1.5zM599.6 942.1l1.5 -1.5l1.5 1.5l-1.5 1.5zM602 942.1l1.5 -1.5l1.5 1.5l-1.5 1.5zM607.2 942.1l1.5 -1.5l1.5 1.5l-1.5 1.5zM609.6 942.1l1.5 -1.5l1.5 1.5l-1.5 1.5zM612.2 942.1l1.5 -1.5l1.5 1.5l-1.5 1.5zM614.9 942.1l1.5 -1.5l1.5 1.5l-1.5 1.5z" fill="#ffa500" fill-opacity="0.5" stroke="#ffa500" stroke-width="0.6" opacity="0.45"/>
<path d="M634.5 942.1l1.5 -1.5l1.5 1.5l-1.5 1.5zM637.2 942.1l1.5 -1.5l1.5 1.5l-1.5 1.5zM640.3 942.1l1.5 -1.5l1.5 1.5l-1.5 1.5zM646 942.1l1.5 -1.5l1.5 1.5l-1.5 1.5zM649.2 942.1l1.5 -1.5l1.5 1.5l-1.5 1.5zM652 942.1l1.5 -1.5l1.5 1.5l-1.5 1.5zM660.3 942.1l1.5 -1.5l1.5 1.5l-1.5 1.5zM666.5 942.1l1.5 -1.5l1.5 1.5l-1.5 1.5zM677.8 942.1l1.5 -1.5l1.5 1.5l-1.5 1.5zM680.8 942.1l1.5 -1.5l1.5 1.5l-1.5 1.5zM683.9 942.1l1.5 -1.5l1.5 1.5l-1.5 1.5zM686.7 942.1l1.5 -1.5l1.5 1.5l-1.5 1.5zM689.4 942.1l1.5 -1.5l1.5 1.5l-1.5 1.5zM701 942.1l1.5 -1.5l1.5 1.5l-1.5 1.5zM741.6 942.1l1.5 -1.5l1.5 1.5l-1.5 1.5zM750.6 942.1l1.5 -1.5l1.5 1.5l-1.5 1.5zM753.6 942.1l1.5 -1.5l1.5 1.5l-1.5 1.5zM756.1 942.1l1.5 -1.5l1.5 1.5l-1.5 1.5zM762.2 942.1l1.5 -1.5l1.5 1.5l-1.5 1.5zM765.2 942.1l1.5 -1.5l1.5 1.5l-1.5 1.5zM768 942.1l1.5 -1.5l1.5 1.5l-1.5 1.5z" fill="#ffa500" fill-opacity="0.5" stroke="#ffa500" stroke-width="0.6" opacity="0.33"/>
<path d="M626.1 942.1l1.2 -1.2l1.2 1.2l-1.2 1.2zM666.3 942.1l1.2 -1.2l1.2 1.2l-1.2 1.2zM692.6 942.1l1.2 -1.2l1.2 1.2l-1.2 1.2zM733.1 942.1l1.2 -1.2l1.2 1.2l-1.2 1.2zM735.8 942.1l1.2 -1.2l1.2 1.2l-1.2 1.2z" fill="#ffa500" opacity="0.35"/>
<path d="M564.7 852.3l1.5 -1.5l1.5 1.5l-1.5 1.5zM567.8 852.3l1.5 -1.5l1.5 1.5l-1.5 1.5zM571.3 852.3l1.5 -1.5l1.5 1.5l-1.5 1.5zM589.5 852.3l1.5 -1.5l1.5 1.5l-1.5 1.5z" fill="#ffa500" fill-opacity="0.5" stroke="#ffa500" stroke-width="0.6" opacity="0.28"/>
<path d="M640.1 852.3l1.3 -1.3l1.3 1.3l-1.3 1.3zM642.9 852.3l1.3 -1.3l1.3 1.3l-1.3 1.3zM663.5 852.3l1.3 -1.3l1.3 1.3l-1.3 1.3zM665.7 852.3l1.3 -1.3l1.3 1.3l-1.3 1.3zM668.7 852.3l1.3 -1.3l1.3 1.3l-1.3 1.3zM673.9 852.3l1.3 -1.3l1.3 1.3l-1.3 1.3zM676.2 852.3l1.3 -1.3l1.3 1.3l-1.3 1.3zM679.2 852.3l1.3 -1.3l1.3 1.3l-1.3 1.3zM681.4 852.3l1.3 -1.3l1.3 1.3l-1.3 1.3zM694.3 852.3l1.3 -1.3l1.3 1.3l-1.3 1.3zM699.5 852.3l1.3 -1.3l1.3 1.3l-1.3 1.3zM707.4 852.3l1.3 -1.3l1.3 1.3l-1.3 1.3zM738.6 852.3l1.3 -1.3l1.3 1.3l-1.3 1.3zM746.9 852.3l1.3 -1.3l1.3 1.3l-1.3 1.3zM762 852.3l1.3 -1.3l1.3 1.3l-1.3 1.3zM765 852.3l1.3 -1.3l1.3 1.3l-1.3 1.3z" fill="#ffa500" opacity="0.45"/>
<path d="M642.9 852.3l1.5 -1.5l1.5 1.5l-1.5 1.5zM645.3 852.3l1.5 -1.5l1.5 1.5l-1.5 1.5zM661.4 852.3l1.5 -1.5l1.5 1.5l-1.5 1.5zM664.6 852.3l1.5 -1.5l1.5 1.5l-1.5 1.5zM667.3 852.3l1.5 -1.5l1.5 1.5l-1.5 1.5zM669.5 852.3l1.5 -1.5l1.5 1.5l-1.5 1.5zM672.4 852.3l1.5 -1.5l1.5 1.5l-1.5 1.5zM678.1 852.3l1.5 -1.5l1.5 1.5l-1.5 1.5zM680.6 852.3l1.5 -1.5l1.5 1.5l-1.5 1.5zM683.3 852.3l1.5 -1.5l1.5 1.5l-1.5 1.5zM685.7 852.3l1.5 -1.5l1.5 1.5l-1.5 1.5zM688.7 852.3l1.5 -1.5l1.5 1.5l-1.5 1.5zM691.3 852.3l1.5 -1.5l1.5 1.5l-1.5 1.5zM694.3 852.3l1.5 -1.5l1.5 1.5l-1.5 1.5zM696.9 852.3l1.5 -1.5l1.5 1.5l-1.5 1.5zM718 852.3l1.5 -1.5l1.5 1.5l-1.5 1.5zM720.9 852.3l1.5 -1.5l1.5 1.5l-1.5 1.5zM724 852.3l1.5 -1.5l1.5 1.5l-1.5 1.5zM729 852.3l1.5 -1.5l1.5 1.5l-1.5 1.5zM737.1 852.3l1.5 -1.5l1.5 1.5l-1.5 1.5zM740 852.3l1.5 -1.5l1.5 1.5l-1.5 1.5zM742.7 852.3l1.5 -1.5l1.5 1.5l-1.5 1.5zM745 852.3l1.5 -1.5l1.5 1.5l-1.5 1.5zM748.2 852.3l1.5 -1.5l1.5 1.5l-1.5 1.5zM750.7 852.3l1.5 -1.5l1.5 1.5l-1.5 1.5zM753.5 852.3l1.5 -1.5l1.5 1.5l-1.5 1.5zM761.6 852.3l1.5 -1.5l1.5 1.5l-1.5 1.5zM764.2 852.3l1.5 -1.5l1.5 1.5l-1.5 1.5zM769.3 852.3l1.5 -1.5l1.5 1.5l-1.5 1.5zM772.3 852.3l1.5 -1.5l1.5 1.5l-1.5 1.5z" fill="#ffa500" fill-opacity="0.5" stroke="#ffa500" stroke-width="0.6" opacity="0.38"/>
<path d="M496.1 948.6l1.5 -1.5l1.5 1.5l-1.5 1.5zM528.2 948.6l1.5 -1.5l1.5 1.5l-1.5 1.5zM534 948.6l1.5 -1.5l1.5 1.5l-1.5 1.5zM536.7 948.6l1.5 -1.5l1.5 1.5l-1.5 1.5zM539.9 948.6l1.5 -1.5l1.5 1.5l-1.5 1.5zM548.4 948.6l1.5 -1.5l1.5 1.5l-1.5 1.5zM551.1 948.6l1.5 -1.5l1.5 1.5l-1.5 1.5zM563.1 948.6l1.5 -1.5l1.5 1.5l-1.5 1.5zM565.6 948.6l1.5 -1.5l1.5 1.5l-1.5 1.5zM568.7 948.6l1.5 -1.5l1.5 1.5l-1.5 1.5zM571.4 948.6l1.5 -1.5l1.5 1.5l-1.5 1.5zM585.8 948.6l1.5 -1.5l1.5 1.5l-1.5 1.5zM592 948.6l1.5 -1.5l1.5 1.5l-1.5 1.5zM594.4 948.6l1.5 -1.5l1.5 1.5l-1.5 1.5z" fill="#ffa500" fill-opacity="0.5" stroke="#ffa500" stroke-width="0.6" opacity="0.33"/>
<path d="M545.6 948.6l1.2 -1.2l1.2 1.2l-1.2 1.2zM566 948.6l1.2 -1.2l1.2 1.2l-1.2 1.2zM568.4 948.6l1.2 -1.2l1.2 1.2l-1.2 1.2z" fill="#ffa500" opacity="0.35"/>
<rect x="485.8" y="895" width="6.2" height="2.6" fill="#ffa500" />
<rect x="496.9" y="895" width="3" height="2" fill="#ffa500" />
<rect x="538.1" y="895" width="3" height="2" fill="#ffa500" />
<rect x="590.1" y="895" width="3" height="2" fill="#ffa500" />
<rect x="641.9" y="895" width="3" height="2" fill="#ffa500" />
<rect x="694.1" y="895" width="3" height="2" fill="#ffa500" />
<rect x="745.7" y="895" width="3" height="2" fill="#ffa500" />
<rect x="773.7" y="895" width="3" height="2" fill="#ffa500" />
<rect x="780.2" y="895" width="7.5" height="2.6" fill="#ffa500" />
</g>
<g>
<path d="M121.5 138.5v4.86M173.5 138.5v4.86M225.5 138.5v4.86M277.5 138.5v4.86M329.5 138.5v4.86M381.5 138.5v4.86M80.5 115.5h-4.86M80.5 85.5h-4.86M80.5 55.5h-4.86M513.5 138.5v4.86M565.5 138.5v4.86M617.5 138.5v4.86M669.5 138.5v4.86M721.5 138.5v4.86M773.5 138.5v4.86M472.5 138.5h-4.86M472.5 70.5h-4.86M121.5 300.5v4.86M173.5 300.5v4.86M225.5 300.5v4.86M277.5 300.5v4.86M329.5 300.5v4.86M381.5 300.5v4.86M80.5 256.5h-4.86M80.5 208.5h-4.86M513.5 300.5v4.86M565.5 300.5v4.86M617.5 300.5v4.86M669.5 300.5v4.86M721.5 300.5v4.86M773.5 300.5v4.86M472.5 274.5h-4.86M472.5 233.5h-4.86M121.5 462.5v4.86M173.5 462.5v4.86M225.5 462.5v4.86M277.5 462.5v4.86M329.5 462.5v4.86M381.5 462.5v4.86M80.5 414.5h-4.86M80.5 360.5h-4.86M513.5 462.5v4.86M565.5 462.5v4.86M617.5 462.5v4.86M669.5 462.5v4.86M721.5 462.5v4.86M773.5 462.5v4.86M472.5 427.5h-4.86M472.5 381.5h-4.86M121.5 625.5v4.86M173.5 625.5v4.86M225.5 625.5v4.86M277.5 625.5v4.86M329.5 625.5v4.86M381.5 625.5v4.86M80.5 584.5h-4.86M80.5 542.5h-4.86M513.5 625.5v4.86M565.5 625.5v4.86M617.5 625.5v4.86M669.5 625.5v4.86M721.5 625.5v4.86M773.5 625.5v4.86M472.5 611.5h-4.86M472.5 570.5h-4.86M472.5 529.5h-4.86M121.5 787.5v4.86M173.5 787.5v4.86M225.5 787.5v4.86M277.5 787.5v4.86M329.5 787.5v4.86M381.5 787.5v4.86M80.5 787.5h-4.86M80.5 722.5h-4.86M513.5 787.5v4.86M565.5 787.5v4.86M617.5 787.5v4.86M669.5 787.5v4.86M721.5 787.5v4.86M773.5 787.5v4.86M472.5 761.5h-4.86M472.5 693.5h-4.86M121.5 949.5v4.86M173.5 949.5v4.86M225.5 949.5v4.86M277.5 949.5v4.86M329.5 949.5v4.86M381.5 949.5v4.86M80.5 936.5h-4.86M80.5 903.5h-4.86M80.5 870.5h-4.86M513.5 949.5v4.86M565.5 949.5v4.86M617.5 949.5v4.86M669.5 949.5v4.86M721.5 949.5v4.86M773.5 949.5v4.86M472.5 927.5h-4.86M472.5 896.5h-4.86M472.5 866.5h-4.86M80.5 1111.5v4.86M146.5 1111.5v4.86M211.5 1111.5v4.86M277.5 1111.5v4.86M343.5 1111.5v4.86M409.5 1111.5v4.86M80.5 1111.5h-4.86M80.5 1060.5h-4.86M80.5 1008.5h-4.86M472.5 1111.5v4.86M538.5 1111.5v4.86M603.5 1111.5v4.86M669.5 1111.5v4.86M735.5 1111.5v4.86M801.5 1111.5v4.86M472.5 1111.5h-4.86M472.5 1060.5h-4.86M472.5 1008.5h-4.86" stroke="#000" stroke-width="1.11" fill="none"/>
<rect x="80.5" y="35.5" width="329.0" height="103" fill="none" stroke="#000" stroke-width="1.11"/>
<rect x="472.5" y="35.5" width="329.0" height="103" fill="none" stroke="#000" stroke-width="1.11"/>
<rect x="80.5" y="197.5" width="329.0" height="103" fill="none" stroke="#000" stroke-width="1.11"/>
<rect x="472.5" y="197.5" width="329.0" height="103" fill="none" stroke="#000" stroke-width="1.11"/>
<rect x="80.5" y="359.5" width="329.0" height="103" fill="none" stroke="#000" stroke-width="1.11"/>
<rect x="472.5" y="359.5" width="329.0" height="103" fill="none" stroke="#000" stroke-width="1.11"/>
<rect x="80.5" y="522.5" width="329.0" height="103" fill="none" stroke="#000" stroke-width="1.11"/>
<rect x="472.5" y="522.5" width="329.0" height="103" fill="none" stroke="#000" stroke-width="1.11"/>
<rect x="80.5" y="684.5" width="329.0" height="103" fill="none" stroke="#000" stroke-width="1.11"/>
<rect x="472.5" y="684.5" width="329.0" height="103" fill="none" stroke="#000" stroke-width="1.11"/>
<rect x="80.5" y="846.5" width="329.0" height="103" fill="none" stroke="#000" stroke-width="1.11"/>
<rect x="472.5" y="846.5" width="329.0" height="103" fill="none" stroke="#000" stroke-width="1.11"/>
<rect x="80.5" y="1008.5" width="329.0" height="103" fill="none" stroke="#000" stroke-width="1.11"/>
<rect x="472.5" y="1008.5" width="329.0" height="103" fill="none" stroke="#000" stroke-width="1.11"/>
</g>
<g opacity="0.999">
<text x="78.31" y="27.08" font-size="17.4" textLength="44.48" lengthAdjust="spacingAndGlyphs">NoRP</text>
<text x="128.29" y="27.08" font-size="17.4" textLength="44.86" lengthAdjust="spacingAndGlyphs">1GHz</text>
<text x="177.99" y="27.08" font-size="17.4" textLength="66.45" lengthAdjust="spacingAndGlyphs">Stokes-I</text>
<text x="249.86" y="27.08" font-size="17.4" textLength="20.36" lengthAdjust="spacingAndGlyphs">on</text>
<text x="275.94" y="27.08" font-size="17.4" textLength="96.06" lengthAdjust="spacingAndGlyphs">2023-07-25</text>
<text x="371.99" y="27.08" font-size="17.4" textLength="39.08" lengthAdjust="spacingAndGlyphs">[JST]</text>
<text transform="translate(33.95 124.03) rotate(-90)" font-size="14.2" textLength="28.55" lengthAdjust="spacingAndGlyphs">Flux</text>
<text transform="translate(33.95 90.65) rotate(-90)" font-size="14.2" textLength="37.88" lengthAdjust="spacingAndGlyphs">[SFU]</text>
<text x="101.18" y="159.32" font-size="14.2" textLength="39.21" lengthAdjust="spacingAndGlyphs">22:00</text>
<text x="154.22" y="159.17" font-size="14.2" textLength="38.02" lengthAdjust="spacingAndGlyphs">00:00</text>
<text x="206.26" y="159.32" font-size="14.2" textLength="38.08" lengthAdjust="spacingAndGlyphs">02:00</text>
<text x="258.20" y="159.21" font-size="14.2" textLength="38.24" lengthAdjust="spacingAndGlyphs">04:00</text>
<text x="310.22" y="159.19" font-size="14.2" textLength="38.22" lengthAdjust="spacingAndGlyphs">06:00</text>
<text x="362.16" y="159.27" font-size="14.2" textLength="38.34" lengthAdjust="spacingAndGlyphs">08:00</text>
<text x="52.26" y="121.16" font-size="14.2" textLength="16.03" lengthAdjust="spacingAndGlyphs">50</text>
<text x="44.43" y="91.10" font-size="14.2" textLength="24.66" lengthAdjust="spacingAndGlyphs">100</text>
<text x="44.43" y="61.10" font-size="14.2" textLength="24.66" lengthAdjust="spacingAndGlyphs">150</text>
<text x="550.57" y="27.13" font-size="17.4" textLength="44.81" lengthAdjust="spacingAndGlyphs">NoRP</text>
<text x="600.73" y="27.13" font-size="17.4" textLength="44.77" lengthAdjust="spacingAndGlyphs">1GHz</text>
<text x="650.40" y="27.13" font-size="17.4" textLength="72.06" lengthAdjust="spacingAndGlyphs">Stokes-V</text>
<text x="493.01" y="159.32" font-size="14.2" textLength="39.27" lengthAdjust="spacingAndGlyphs">22:00</text>
<text x="546.19" y="159.17" font-size="14.2" textLength="38.18" lengthAdjust="spacingAndGlyphs">00:00</text>
<text x="598.27" y="159.32" font-size="14.2" textLength="37.95" lengthAdjust="spacingAndGlyphs">02:00</text>
<text x="650.21" y="159.21" font-size="14.2" textLength="38.01" lengthAdjust="spacingAndGlyphs">04:00</text>
<text x="702.23" y="159.19" font-size="14.2" textLength="38.22" lengthAdjust="spacingAndGlyphs">06:00</text>
<text x="754.32" y="159.27" font-size="14.2" textLength="38.06" lengthAdjust="spacingAndGlyphs">08:00</text>
<text x="454.32" y="143.88" font-size="14.2" textLength="8.17" lengthAdjust="spacingAndGlyphs">0</text>
<text x="445.45" y="76.10" font-size="14.2" textLength="15.86" lengthAdjust="spacingAndGlyphs">10</text>
<text x="161.73" y="189.31" font-size="17.4" textLength="44.48" lengthAdjust="spacingAndGlyphs">NoRP</text>
<text x="211.63" y="189.31" font-size="17.4" textLength="44.98" lengthAdjust="spacingAndGlyphs">2GHz</text>
<text x="261.41" y="189.31" font-size="17.4" textLength="66.45" lengthAdjust="spacingAndGlyphs">Stokes-I</text>
<text transform="translate(33.95 285.81) rotate(-90)" font-size="14.2" textLength="28.27" lengthAdjust="spacingAndGlyphs">Flux</text>
<text transform="translate(33.95 252.37) rotate(-90)" font-size="14.2" textLength="37.39" lengthAdjust="spacingAndGlyphs">[SFU]</text>
<text x="101.18" y="321.49" font-size="14.2" textLength="39.21" lengthAdjust="spacingAndGlyphs">22:00</text>
<text x="154.22" y="321.34" font-size="14.2" textLength="38.02" lengthAdjust="spacingAndGlyphs">00:00</text>
<text x="206.26" y="321.49" font-size="14.2" textLength="38.08" lengthAdjust="spacingAndGlyphs">02:00</text>
<text x="258.20" y="321.38" font-size="14.2" textLength="38.24" lengthAdjust="spacingAndGlyphs">04:00</text>
<text x="310.22" y="321.36" font-size="14.2" textLength="38.22" lengthAdjust="spacingAndGlyphs">06:00</text>
<text x="362.16" y="321.44" font-size="14.2" textLength="38.34" lengthAdjust="spacingAndGlyphs">08:00</text>
<text x="44.43" y="262.26" font-size="14.2" textLength="24.66" lengthAdjust="spacingAndGlyphs">100</text>
<text x="44.18" y="214.26" font-size="14.2" textLength="25.71" lengthAdjust="spacingAndGlyphs">200</text>
<text x="550.57" y="189.30" font-size="17.4" textLength="44.81" lengthAdjust="spacingAndGlyphs">NoRP</text>
<text x="600.18" y="189.30" font-size="17.4" textLength="45.38" lengthAdjust="spacingAndGlyphs">2GHz</text>
<text x="650.40" y="189.30" font-size="17.4" textLength="72.06" lengthAdjust="spacingAndGlyphs">Stokes-V</text>
<text x="493.01" y="321.49" font-size="14.2" textLength="39.27" lengthAdjust="spacingAndGlyphs">22:00</text>
<text x="546.19" y="321.34" font-size="14.2" textLength="38.18" lengthAdjust="spacingAndGlyphs">00:00</text>
<text x="598.27" y="321.49" font-size="14.2" textLength="37.95" lengthAdjust="spacingAndGlyphs">02:00</text>
<text x="650.21" y="321.38" font-size="14.2" textLength="38.01" lengthAdjust="spacingAndGlyphs">04:00</text>
<text x="702.23" y="321.36" font-size="14.2" textLength="38.22" lengthAdjust="spacingAndGlyphs">06:00</text>
<text x="754.32" y="321.44" font-size="14.2" textLength="38.06" lengthAdjust="spacingAndGlyphs">08:00</text>
<text x="442.28" y="280.54" font-size="14.2" textLength="18.60" lengthAdjust="spacingAndGlyphs">&#8722;5</text>
<text x="454.32" y="239.05" font-size="14.2" textLength="8.17" lengthAdjust="spacingAndGlyphs">0</text>
<text x="147.53" y="351.61" font-size="17.4" textLength="44.75" lengthAdjust="spacingAndGlyphs">NoRP</text>
<text x="197.80" y="351.61" font-size="17.4" textLength="71.16" lengthAdjust="spacingAndGlyphs">3.75GHz</text>
<text x="273.95" y="351.61" font-size="17.4" textLength="66.35" lengthAdjust="spacingAndGlyphs">Stokes-I</text>
<text transform="translate(33.95 447.86) rotate(-90)" font-size="14.2" textLength="28.35" lengthAdjust="spacingAndGlyphs">Flux</text>
<text transform="translate(33.95 414.63) rotate(-90)" font-size="14.2" textLength="37.75" lengthAdjust="spacingAndGlyphs">[SFU]</text>
<text x="101.18" y="483.66" font-size="14.2" textLength="39.21" lengthAdjust="spacingAndGlyphs">22:00</text>
<text x="154.22" y="483.51" font-size="14.2" textLength="38.02" lengthAdjust="spacingAndGlyphs">00:00</text>
<text x="206.26" y="483.66" font-size="14.2" textLength="38.08" lengthAdjust="spacingAndGlyphs">02:00</text>
<text x="258.20" y="483.55" font-size="14.2" textLength="38.24" lengthAdjust="spacingAndGlyphs">04:00</text>
<text x="310.22" y="483.53" font-size="14.2" textLength="38.22" lengthAdjust="spacingAndGlyphs">06:00</text>
<text x="362.16" y="483.61" font-size="14.2" textLength="38.34" lengthAdjust="spacingAndGlyphs">08:00</text>
<text x="44.43" y="420.44" font-size="14.2" textLength="24.66" lengthAdjust="spacingAndGlyphs">100</text>
<text x="44.18" y="366.44" font-size="14.2" textLength="25.71" lengthAdjust="spacingAndGlyphs">200</text>
<text x="537.55" y="351.61" font-size="17.4" textLength="44.76" lengthAdjust="spacingAndGlyphs">NoRP</text>
<text x="587.49" y="351.61" font-size="17.4" textLength="71.49" lengthAdjust="spacingAndGlyphs">3.75GHz</text>
<text x="663.58" y="351.61" font-size="17.4" textLength="72.10" lengthAdjust="spacingAndGlyphs">Stokes-V</text>
<text x="493.01" y="483.66" font-size="14.2" textLength="39.27" lengthAdjust="spacingAndGlyphs">22:00</text>
<text x="546.19" y="483.51" font-size="14.2" textLength="38.18" lengthAdjust="spacingAndGlyphs">00:00</text>
<text x="598.27" y="483.66" font-size="14.2" textLength="37.95" lengthAdjust="spacingAndGlyphs">02:00</text>
<text x="650.21" y="483.55" font-size="14.2" textLength="38.01" lengthAdjust="spacingAndGlyphs">04:00</text>
<text x="702.23" y="483.53" font-size="14.2" textLength="38.22" lengthAdjust="spacingAndGlyphs">06:00</text>
<text x="754.32" y="483.61" font-size="14.2" textLength="38.06" lengthAdjust="spacingAndGlyphs">08:00</text>
<text x="454.32" y="433.25" font-size="14.2" textLength="8.17" lengthAdjust="spacingAndGlyphs">0</text>
<text x="453.61" y="386.69" font-size="14.2" textLength="7.50" lengthAdjust="spacingAndGlyphs">5</text>
<text x="153.78" y="513.65" font-size="17.4" textLength="44.57" lengthAdjust="spacingAndGlyphs">NoRP</text>
<text x="203.34" y="513.65" font-size="17.4" textLength="60.80" lengthAdjust="spacingAndGlyphs">9.4GHz</text>
<text x="268.94" y="513.65" font-size="17.4" textLength="66.54" lengthAdjust="spacingAndGlyphs">Stokes-I</text>
<text transform="translate(34.07 609.95) rotate(-90)" font-size="14.2" textLength="28.37" lengthAdjust="spacingAndGlyphs">Flux</text>
<text transform="translate(34.07 576.35) rotate(-90)" font-size="14.2" textLength="37.27" lengthAdjust="spacingAndGlyphs">[SFU]</text>
<text x="101.18" y="645.83" font-size="14.2" textLength="39.21" lengthAdjust="spacingAndGlyphs">22:00</text>
<text x="154.22" y="645.68" font-size="14.2" textLength="38.02" lengthAdjust="spacingAndGlyphs">00:00</text>
<text x="206.26" y="645.83" font-size="14.2" textLength="38.08" lengthAdjust="spacingAndGlyphs">02:00</text>
<text x="258.20" y="645.72" font-size="14.2" textLength="38.24" lengthAdjust="spacingAndGlyphs">04:00</text>
<text x="310.22" y="645.70" font-size="14.2" textLength="38.22" lengthAdjust="spacingAndGlyphs">06:00</text>
<text x="362.16" y="645.78" font-size="14.2" textLength="38.34" lengthAdjust="spacingAndGlyphs">08:00</text>
<text x="44.18" y="589.61" font-size="14.2" textLength="25.71" lengthAdjust="spacingAndGlyphs">200</text>
<text x="44.28" y="548.42" font-size="14.2" textLength="24.61" lengthAdjust="spacingAndGlyphs">400</text>
<text x="542.71" y="513.65" font-size="17.4" textLength="44.68" lengthAdjust="spacingAndGlyphs">NoRP</text>
<text x="592.39" y="513.65" font-size="17.4" textLength="60.88" lengthAdjust="spacingAndGlyphs">9.4GHz</text>
<text x="658.06" y="513.65" font-size="17.4" textLength="72.00" lengthAdjust="spacingAndGlyphs">Stokes-V</text>
<text x="493.01" y="645.83" font-size="14.2" textLength="39.27" lengthAdjust="spacingAndGlyphs">22:00</text>
<text x="546.19" y="645.68" font-size="14.2" textLength="38.18" lengthAdjust="spacingAndGlyphs">00:00</text>
<text x="598.27" y="645.83" font-size="14.2" textLength="37.95" lengthAdjust="spacingAndGlyphs">02:00</text>
<text x="650.21" y="645.72" font-size="14.2" textLength="38.01" lengthAdjust="spacingAndGlyphs">04:00</text>
<text x="702.23" y="645.70" font-size="14.2" textLength="38.22" lengthAdjust="spacingAndGlyphs">06:00</text>
<text x="754.32" y="645.78" font-size="14.2" textLength="38.06" lengthAdjust="spacingAndGlyphs">08:00</text>
<text x="425.34" y="616.63" font-size="14.2" textLength="36.46" lengthAdjust="spacingAndGlyphs">&#8722;100</text>
<text x="454.32" y="576.41" font-size="14.2" textLength="8.17" lengthAdjust="spacingAndGlyphs">0</text>
<text x="436.29" y="534.62" font-size="14.2" textLength="24.80" lengthAdjust="spacingAndGlyphs">100</text>
<text x="155.70" y="675.82" font-size="17.4" textLength="44.48" lengthAdjust="spacingAndGlyphs">NoRP</text>
<text x="205.85" y="675.82" font-size="17.4" textLength="55.21" lengthAdjust="spacingAndGlyphs">17GHz</text>
<text x="265.75" y="675.82" font-size="17.4" textLength="66.66" lengthAdjust="spacingAndGlyphs">Stokes-I</text>
<text transform="translate(34.07 771.81) rotate(-90)" font-size="14.2" textLength="28.34" lengthAdjust="spacingAndGlyphs">Flux</text>
<text transform="translate(34.07 738.57) rotate(-90)" font-size="14.2" textLength="37.33" lengthAdjust="spacingAndGlyphs">[SFU]</text>
<text x="101.18" y="808.00" font-size="14.2" textLength="39.21" lengthAdjust="spacingAndGlyphs">22:00</text>
<text x="154.22" y="807.85" font-size="14.2" textLength="38.02" lengthAdjust="spacingAndGlyphs">00:00</text>
<text x="206.26" y="808.00" font-size="14.2" textLength="38.08" lengthAdjust="spacingAndGlyphs">02:00</text>
<text x="258.20" y="807.89" font-size="14.2" textLength="38.24" lengthAdjust="spacingAndGlyphs">04:00</text>
<text x="310.22" y="807.87" font-size="14.2" textLength="38.22" lengthAdjust="spacingAndGlyphs">06:00</text>
<text x="362.16" y="807.95" font-size="14.2" textLength="38.34" lengthAdjust="spacingAndGlyphs">08:00</text>
<text x="62.31" y="792.56" font-size="14.2" textLength="8.16" lengthAdjust="spacingAndGlyphs">0</text>
<text x="44.23" y="727.78" font-size="14.2" textLength="24.69" lengthAdjust="spacingAndGlyphs">500</text>
<text x="545.73" y="675.83" font-size="17.4" textLength="44.42" lengthAdjust="spacingAndGlyphs">NoRP</text>
<text x="595.74" y="675.83" font-size="17.4" textLength="55.36" lengthAdjust="spacingAndGlyphs">17GHz</text>
<text x="655.85" y="675.83" font-size="17.4" textLength="72.09" lengthAdjust="spacingAndGlyphs">Stokes-V</text>
<text x="493.01" y="808.00" font-size="14.2" textLength="39.27" lengthAdjust="spacingAndGlyphs">22:00</text>
<text x="546.19" y="807.85" font-size="14.2" textLength="38.18" lengthAdjust="spacingAndGlyphs">00:00</text>
<text x="598.27" y="808.00" font-size="14.2" textLength="37.95" lengthAdjust="spacingAndGlyphs">02:00</text>
<text x="650.21" y="807.89" font-size="14.2" textLength="38.01" lengthAdjust="spacingAndGlyphs">04:00</text>
<text x="702.23" y="807.87" font-size="14.2" textLength="38.22" lengthAdjust="spacingAndGlyphs">06:00</text>
<text x="754.32" y="807.95" font-size="14.2" textLength="38.06" lengthAdjust="spacingAndGlyphs">08:00</text>
<text x="454.32" y="766.58" font-size="14.2" textLength="8.17" lengthAdjust="spacingAndGlyphs">0</text>
<text x="445.40" y="698.81" font-size="14.2" textLength="15.80" lengthAdjust="spacingAndGlyphs">50</text>
<text x="155.70" y="837.99" font-size="17.4" textLength="44.48" lengthAdjust="spacingAndGlyphs">NoRP</text>
<text x="205.89" y="837.99" font-size="17.4" textLength="55.14" lengthAdjust="spacingAndGlyphs">35GHz</text>
<text x="265.75" y="837.99" font-size="17.4" textLength="66.66" lengthAdjust="spacingAndGlyphs">Stokes-I</text>
<text transform="translate(25.20 935.04) rotate(-90)" font-size="14.2" textLength="28.59" lengthAdjust="spacingAndGlyphs">Flux</text>
<text transform="translate(25.20 901.45) rotate(-90)" font-size="14.2" textLength="37.41" lengthAdjust="spacingAndGlyphs">[SFU]</text>
<text x="101.18" y="970.17" font-size="14.2" textLength="39.21" lengthAdjust="spacingAndGlyphs">22:00</text>
<text x="154.22" y="970.02" font-size="14.2" textLength="38.02" lengthAdjust="spacingAndGlyphs">00:00</text>
<text x="206.26" y="970.17" font-size="14.2" textLength="38.08" lengthAdjust="spacingAndGlyphs">02:00</text>
<text x="258.20" y="970.06" font-size="14.2" textLength="38.24" lengthAdjust="spacingAndGlyphs">04:00</text>
<text x="310.22" y="970.04" font-size="14.2" textLength="38.22" lengthAdjust="spacingAndGlyphs">06:00</text>
<text x="362.16" y="970.12" font-size="14.2" textLength="38.34" lengthAdjust="spacingAndGlyphs">08:00</text>
<text x="35.33" y="941.95" font-size="14.2" textLength="33.40" lengthAdjust="spacingAndGlyphs">1500</text>
<text x="35.07" y="908.96" font-size="14.2" textLength="34.66" lengthAdjust="spacingAndGlyphs">2000</text>
<text x="35.07" y="875.97" font-size="14.2" textLength="34.66" lengthAdjust="spacingAndGlyphs">2500</text>
<text x="545.73" y="838.00" font-size="17.4" textLength="44.42" lengthAdjust="spacingAndGlyphs">NoRP</text>
<text x="595.52" y="838.00" font-size="17.4" textLength="55.59" lengthAdjust="spacingAndGlyphs">35GHz</text>
<text x="655.85" y="838.00" font-size="17.4" textLength="72.09" lengthAdjust="spacingAndGlyphs">Stokes-V</text>
<text x="493.01" y="970.17" font-size="14.2" textLength="39.27" lengthAdjust="spacingAndGlyphs">22:00</text>
<text x="546.19" y="970.02" font-size="14.2" textLength="38.18" lengthAdjust="spacingAndGlyphs">00:00</text>
<text x="598.27" y="970.17" font-size="14.2" textLength="37.95" lengthAdjust="spacingAndGlyphs">02:00</text>
<text x="650.21" y="970.06" font-size="14.2" textLength="38.01" lengthAdjust="spacingAndGlyphs">04:00</text>
<text x="702.23" y="970.04" font-size="14.2" textLength="38.22" lengthAdjust="spacingAndGlyphs">06:00</text>
<text x="754.32" y="970.12" font-size="14.2" textLength="38.06" lengthAdjust="spacingAndGlyphs">08:00</text>
<text x="433.45" y="933.06" font-size="14.2" textLength="27.52" lengthAdjust="spacingAndGlyphs">&#8722;50</text>
<text x="454.32" y="902.26" font-size="14.2" textLength="8.17" lengthAdjust="spacingAndGlyphs">0</text>
<text x="445.40" y="872.02" font-size="14.2" textLength="15.80" lengthAdjust="spacingAndGlyphs">50</text>
<text x="155.78" y="1000.16" font-size="17.4" textLength="44.56" lengthAdjust="spacingAndGlyphs">NoRP</text>
<text x="205.54" y="1000.16" font-size="17.4" textLength="55.05" lengthAdjust="spacingAndGlyphs">80GHz</text>
<text x="265.83" y="1000.16" font-size="17.4" textLength="66.49" lengthAdjust="spacingAndGlyphs">Stokes-I</text>
<text x="212.61" y="1150.90" font-size="14.2" textLength="33.91" lengthAdjust="spacingAndGlyphs">Time</text>
<text x="246.51" y="1150.90" font-size="14.2" textLength="29.99" lengthAdjust="spacingAndGlyphs">[UT]</text>
<text transform="translate(38.32 1097.05) rotate(-90)" font-size="14.2" textLength="28.55" lengthAdjust="spacingAndGlyphs">Flux</text>
<text transform="translate(38.32 1063.31) rotate(-90)" font-size="14.2" textLength="37.49" lengthAdjust="spacingAndGlyphs">[SFU]</text>
<text x="195.49" y="1069.64" font-size="30.0" textLength="37.74" lengthAdjust="spacingAndGlyphs">No</text>
<text x="242.48" y="1069.64" font-size="30.0" textLength="63.95" lengthAdjust="spacingAndGlyphs">Data</text>
<text x="70.20" y="1132.26" font-size="14.2" textLength="20.14" lengthAdjust="spacingAndGlyphs">0.0</text>
<text x="135.26" y="1132.34" font-size="14.2" textLength="20.02" lengthAdjust="spacingAndGlyphs">0.2</text>
<text x="201.25" y="1132.34" font-size="14.2" textLength="20.62" lengthAdjust="spacingAndGlyphs">0.4</text>
<text x="267.29" y="1132.29" font-size="14.2" textLength="20.61" lengthAdjust="spacingAndGlyphs">0.6</text>
<text x="333.34" y="1132.34" font-size="14.2" textLength="20.43" lengthAdjust="spacingAndGlyphs">0.8</text>
<text x="399.48" y="1132.34" font-size="14.2" textLength="20.20" lengthAdjust="spacingAndGlyphs">1.0</text>
<text x="49.35" y="1117.04" font-size="14.2" textLength="20.30" lengthAdjust="spacingAndGlyphs">0.0</text>
<text x="49.38" y="1065.62" font-size="14.2" textLength="19.96" lengthAdjust="spacingAndGlyphs">0.5</text>
<text x="48.31" y="1014.12" font-size="14.2" textLength="20.45" lengthAdjust="spacingAndGlyphs">1.0</text>
<text x="545.55" y="1000.16" font-size="17.4" textLength="44.80" lengthAdjust="spacingAndGlyphs">NoRP</text>
<text x="595.54" y="1000.16" font-size="17.4" textLength="55.26" lengthAdjust="spacingAndGlyphs">80GHz</text>
<text x="656.08" y="1000.16" font-size="17.4" textLength="71.81" lengthAdjust="spacingAndGlyphs">Stokes-V</text>
<text x="604.77" y="1150.90" font-size="14.2" textLength="33.91" lengthAdjust="spacingAndGlyphs">Time</text>
<text x="638.67" y="1150.90" font-size="14.2" textLength="29.80" lengthAdjust="spacingAndGlyphs">[UT]</text>
<text x="587.66" y="1069.64" font-size="30.0" textLength="37.34" lengthAdjust="spacingAndGlyphs">No</text>
<text x="634.38" y="1069.64" font-size="30.0" textLength="64.01" lengthAdjust="spacingAndGlyphs">Data</text>
<text x="462.21" y="1132.26" font-size="14.2" textLength="20.15" lengthAdjust="spacingAndGlyphs">0.0</text>
<text x="528.27" y="1132.34" font-size="14.2" textLength="20.04" lengthAdjust="spacingAndGlyphs">0.2</text>
<text x="593.25" y="1132.34" font-size="14.2" textLength="20.95" lengthAdjust="spacingAndGlyphs">0.4</text>
<text x="659.23" y="1132.29" font-size="14.2" textLength="20.61" lengthAdjust="spacingAndGlyphs">0.6</text>
<text x="725.34" y="1132.34" font-size="14.2" textLength="20.44" lengthAdjust="spacingAndGlyphs">0.8</text>
<text x="791.41" y="1132.34" font-size="14.2" textLength="20.32" lengthAdjust="spacingAndGlyphs">1.0</text>
<text x="441.20" y="1117.04" font-size="14.2" textLength="20.33" lengthAdjust="spacingAndGlyphs">0.0</text>
<text x="441.21" y="1065.62" font-size="14.2" textLength="20.08" lengthAdjust="spacingAndGlyphs">0.5</text>
<text x="441.48" y="1014.12" font-size="14.2" textLength="20.20" lengthAdjust="spacingAndGlyphs">1.0</text>
</g>
</svg>
</body></html>
